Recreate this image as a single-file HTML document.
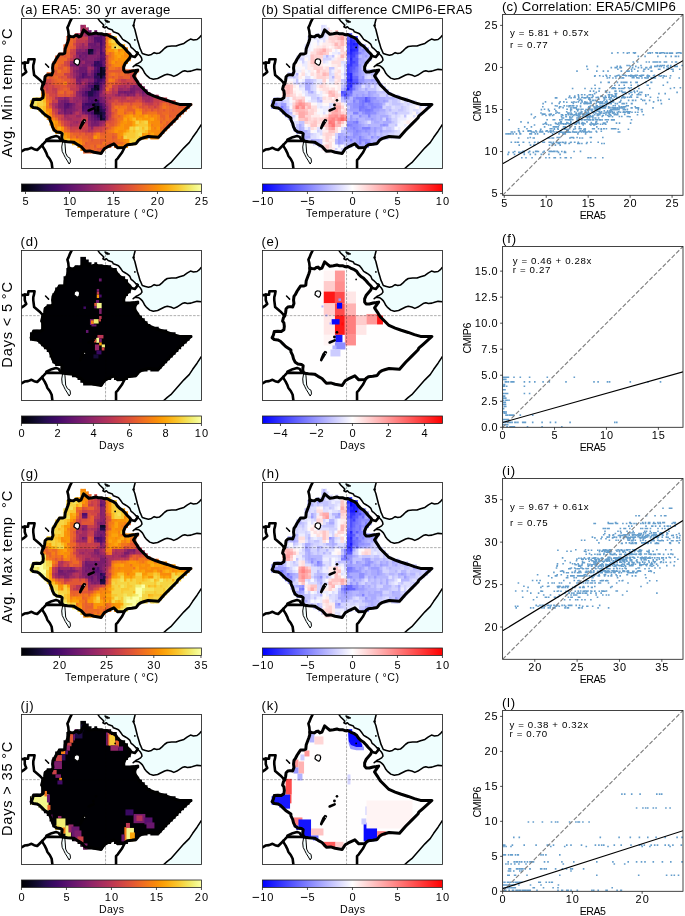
<!DOCTYPE html>
<html><head><meta charset="utf-8"><style>
html,body{margin:0;padding:0;background:#fff;}
svg{display:block;}
text{font-family:"Liberation Sans",sans-serif;}
svg{will-change:transform;}
</style></head><body>
<svg width="685" height="916" viewBox="0 0 685 916">
<defs><clipPath id="fc"><rect x="0" y="0" width="180.0" height="150.0"/></clipPath><clipPath id="ec"><path d="M28.10,53.90 L25.30,53.90 L25.30,56.70 L22.50,56.70 L22.50,59.50 L22.50,62.30 L22.50,65.10 L19.70,65.10 L19.70,67.90 L19.70,70.70 L19.70,73.50 L19.70,76.30 L19.70,79.10 L16.90,79.10 L14.10,79.10 L11.30,79.10 L11.30,81.90 L8.50,81.90 L8.50,84.70 L8.50,87.50 L8.50,90.30 L11.30,90.30 L14.10,90.30 L16.90,90.30 L16.90,93.10 L19.70,93.10 L19.70,95.90 L22.50,95.90 L22.50,98.70 L25.30,98.70 L25.30,101.50 L28.10,101.50 L28.10,104.30 L28.10,107.10 L30.90,107.10 L30.90,109.90 L30.90,112.70 L33.70,112.70 L33.70,115.50 L36.50,115.50 L39.30,115.50 L39.30,118.30 L39.30,121.10 L39.30,123.90 L42.10,123.90 L44.90,123.90 L47.70,123.90 L50.50,123.90 L50.50,126.70 L53.30,126.70 L56.10,126.70 L56.10,129.50 L58.90,129.50 L58.90,132.30 L61.70,132.30 L61.70,135.10 L64.50,135.10 L67.30,135.10 L70.10,135.10 L72.90,135.10 L75.70,135.10 L78.50,135.10 L81.30,135.10 L81.30,132.30 L84.10,132.30 L84.10,129.50 L86.90,129.50 L89.70,129.50 L89.70,126.70 L92.50,126.70 L92.50,129.50 L95.30,129.50 L98.10,129.50 L100.90,129.50 L103.70,129.50 L106.50,129.50 L106.50,126.70 L109.30,126.70 L112.10,126.70 L114.90,126.70 L114.90,123.90 L117.70,123.90 L117.70,121.10 L120.50,121.10 L123.30,121.10 L126.10,121.10 L126.10,118.30 L128.90,118.30 L128.90,121.10 L131.70,121.10 L134.50,121.10 L137.30,121.10 L137.30,118.30 L140.10,118.30 L140.10,115.50 L142.90,115.50 L142.90,112.70 L145.70,112.70 L145.70,109.90 L148.50,109.90 L148.50,107.10 L151.30,107.10 L151.30,104.30 L154.10,104.30 L154.10,101.50 L156.90,101.50 L156.90,98.70 L159.70,98.70 L159.70,95.90 L162.50,95.90 L162.50,93.10 L165.30,93.10 L165.30,90.30 L168.10,90.30 L168.10,87.50 L170.90,87.50 L170.90,84.70 L168.10,84.70 L165.30,84.70 L162.50,84.70 L159.70,84.70 L156.90,84.70 L154.10,84.70 L154.10,81.90 L151.30,81.90 L148.50,81.90 L145.70,81.90 L145.70,79.10 L142.90,79.10 L140.10,79.10 L137.30,79.10 L137.30,76.30 L134.50,76.30 L131.70,76.30 L128.90,76.30 L128.90,73.50 L126.10,73.50 L126.10,70.70 L123.30,70.70 L123.30,67.90 L120.50,67.90 L120.50,65.10 L117.70,65.10 L117.70,62.30 L114.90,62.30 L114.90,59.50 L114.90,56.70 L114.90,53.90 L117.70,53.90 L117.70,51.10 L114.90,51.10 L112.10,51.10 L109.30,51.10 L106.50,51.10 L103.70,51.10 L103.70,48.30 L103.70,45.50 L106.50,45.50 L106.50,42.70 L109.30,42.70 L109.30,39.90 L109.30,37.10 L109.30,34.30 L106.50,34.30 L106.50,31.50 L106.50,28.70 L103.70,28.70 L103.70,25.90 L100.90,25.90 L98.10,25.90 L98.10,23.10 L95.30,23.10 L95.30,20.30 L95.30,17.50 L92.50,17.50 L89.70,17.50 L89.70,14.70 L86.90,14.70 L84.10,14.70 L81.30,14.70 L78.50,14.70 L75.70,14.70 L75.70,11.90 L72.90,11.90 L72.90,14.70 L70.10,14.70 L70.10,11.90 L67.30,11.90 L67.30,9.10 L64.50,9.10 L64.50,6.30 L61.70,6.30 L58.90,6.30 L58.90,9.10 L58.90,11.90 L58.90,14.70 L56.10,14.70 L53.30,14.70 L53.30,17.50 L50.50,17.50 L47.70,17.50 L44.90,17.50 L44.90,20.30 L44.90,23.10 L44.90,25.90 L42.10,25.90 L42.10,28.70 L42.10,31.50 L42.10,34.30 L39.30,34.30 L36.50,34.30 L36.50,37.10 L33.70,37.10 L33.70,39.90 L33.70,42.70 L30.90,42.70 L30.90,45.50 L30.90,48.30 L30.90,51.10 L30.90,53.90Z"/></clipPath><g id="sea"><path d="M76.02,-5.00 L76.02,-0.84 L76.19,-0.40 L77.94,2.23 L80.57,4.86 L82.32,6.61 L81.45,8.36 L83.20,9.24 L84.95,8.36 L86.70,10.11 L90.95,11.55 L91.90,13.40 L94.70,14.35 L97.05,15.30 L98.90,17.60 L101.25,20.90 L103.60,22.30 L105.90,23.70 L108.25,25.60 L109.65,28.85 L111.50,30.25 L113.40,32.10 L114.55,33.50 L114.81,33.36 L116.13,33.80 L117.00,35.55 L118.75,37.30 L120.07,39.49 L120.51,41.68 L119.19,43.43 L117.00,44.75 L114.37,46.06 L111.75,48.25 L113.06,47.15 L115.25,46.94 L117.44,47.37 L119.19,48.69 L120.94,50.44 L122.26,52.63 L123.13,54.60 L124.81,56.61 L128.31,59.67 L131.81,60.81 L136.19,60.11 L139.70,58.36 L143.20,56.61 L145.83,55.73 L149.33,56.61 L152.40,57.92 L155.46,56.61 L158.09,54.86 L160.72,53.10 L163.35,52.23 L165.97,53.10 L169.48,52.67 L172.10,51.79 L175.61,50.91 L179.99,51.35 L190.00,51.35 L190.00,16.68 L179.99,16.68 L178.24,18.87 L175.61,21.06 L172.10,21.50 L169.04,20.62 L165.97,22.37 L162.47,25.00 L158.09,26.32 L154.59,27.63 L150.21,27.63 L145.83,28.07 L143.20,29.82 L140.57,32.45 L137.94,34.64 L135.32,35.07 L132.69,34.20 L130.06,35.95 L127.00,36.83 L123.93,35.95 L120.86,35.07 L119.55,32.01 L118.67,30.26 L117.36,25.88 L116.05,21.50 L114.73,16.24 L113.42,10.99 L112.10,7.48 L112.54,4.86 L113.86,-0.40 L114.03,-0.84 L114.03,-5.00Z" fill="#effefe"/><path d="M179.99,105.91 L179.55,106.61 L175.61,112.74 L171.23,118.87 L167.73,124.13 L162.47,129.38 L156.34,136.39 L149.33,144.27 L145.83,146.90 L141.01,151.28 L190.00,160.00 L190.00,105.91Z" fill="#effefe"/></g><g id="lines"><path d="M50.53,-0.84 L50.35,-0.40 L48.60,3.10 L46.85,7.48 L45.97,9.24 L46.85,12.74 L47.29,17.56" fill="none" stroke="#000" stroke-width="2.6" stroke-linejoin="round" stroke-linecap="round"/><path d="M-1.33,44.27 L-0.45,44.27 L1.30,44.71 L3.32,44.18 L6.56,44.27 L7.00,40.77 L13.13,40.77 L12.69,43.40 L11.81,46.90 L11.81,49.61 L12.25,53.10 L12.69,56.61 L15.32,58.80 L17.94,60.99 L20.57,63.61 L21.89,65.80" fill="none" stroke="#000" stroke-width="2.6" stroke-linejoin="round" stroke-linecap="round"/><path d="M3.32,44.18 L3.32,49.61 L3.93,51.35 L4.81,53.54 L2.18,55.73 L-0.45,57.48 L-1.33,57.92" fill="none" stroke="#000" stroke-width="2.6" stroke-linejoin="round" stroke-linecap="round"/><path d="M-1.33,133.76 L-0.45,133.32 L3.05,131.13 L6.56,130.69 L10.06,129.38 L12.69,130.69 L15.75,131.57 L18.82,128.51 L22.32,125.00 L24.95,122.20 L40.72,122.55" fill="none" stroke="#000" stroke-width="2.6" stroke-linejoin="round" stroke-linecap="round"/><path d="M24.95,121.32 L30.21,118.69 L34.59,117.56 L37.21,118.43 L38.53,120.62" fill="none" stroke="#000" stroke-width="2.6" stroke-linejoin="round" stroke-linecap="round"/><path d="M21.01,126.32 L21.01,127.63 L23.20,131.13 L24.95,134.64 L25.83,137.26 L28.46,140.77 L30.21,144.27 L31.08,151.28" fill="none" stroke="#000" stroke-width="2.6" stroke-linejoin="round" stroke-linecap="round"/><path d="M103.78,127.63 L100.72,133.76 L96.34,139.89 L94.59,141.64 L94.59,151.28" fill="none" stroke="#000" stroke-width="2.6" stroke-linejoin="round" stroke-linecap="round"/><path d="M108.80,36.70 L111.60,38.10 L113.45,38.55 L115.30,36.20 L116.25,34.35" fill="none" stroke="#000" stroke-width="2.6" stroke-linejoin="round" stroke-linecap="round"/><path d="M76.02,-0.84 L76.19,-0.40 L77.94,2.23 L80.57,4.86 L82.32,6.61 L81.45,8.36 L83.20,9.24 L84.95,8.36 L86.70,10.11 L90.95,11.55 L91.90,13.40 L94.70,14.35 L97.05,15.30 L98.90,17.60 L101.25,20.90 L103.60,22.30 L105.90,23.70 L108.25,25.60 L109.65,28.85 L111.50,30.25 L113.40,32.10 L114.55,33.50 L114.81,33.36 L116.13,33.80 L117.00,35.55 L118.75,37.30 L120.07,39.49 L120.51,41.68 L119.19,43.43 L117.00,44.75 L114.37,46.06 L111.75,48.25 L113.06,47.15 L115.25,46.94 L117.44,47.37 L119.19,48.69 L120.94,50.44 L122.26,52.63 L123.13,54.60 L124.81,56.61 L128.31,59.67 L131.81,60.81 L136.19,60.11 L139.70,58.36 L143.20,56.61 L145.83,55.73 L149.33,56.61 L152.40,57.92 L155.46,56.61 L158.09,54.86 L160.72,53.10 L163.35,52.23 L165.97,53.10 L169.48,52.67 L172.10,51.79 L175.61,50.91 L179.99,51.35" fill="none" stroke="#000" stroke-width="1.55" stroke-linejoin="round"/><path d="M114.03,-0.84 L113.86,-0.40 L112.54,4.86 L112.10,7.48 L113.42,10.99 L114.73,16.24 L116.05,21.50 L117.36,25.88 L118.67,30.26 L119.55,32.01 L120.86,35.07 L123.93,35.95 L127.00,36.83 L130.06,35.95 L132.69,34.20 L135.32,35.07 L137.94,34.64 L140.57,32.45 L143.20,29.82 L145.83,28.07 L150.21,27.63 L154.59,27.63 L158.09,26.32 L162.47,25.00 L165.97,22.37 L169.04,20.62 L172.10,21.50 L175.61,21.06 L178.24,18.87 L179.99,16.68" fill="none" stroke="#000" stroke-width="1.55" stroke-linejoin="round"/><path d="M179.99,105.91 L179.55,106.61 L175.61,112.74 L171.23,118.87 L167.73,124.13 L162.47,129.38 L156.34,136.39 L149.33,144.27 L145.83,146.90 L141.01,151.28" fill="none" stroke="#000" stroke-width="1.55" stroke-linejoin="round"/><path d="M52.98,41.64 L54.73,40.33 L57.36,40.77 L58.24,42.52 L57.80,45.15 L56.48,46.90 L54.73,46.02 L52.54,44.27Z" fill="#fff" stroke="#000" stroke-width="1.2"/><path d="M41.16,123.25 L43.35,123.25 L43.78,128.51 L44.22,134.64 L45.97,138.14 L48.60,139.89 L49.04,143.40 L47.73,145.59 L45.97,142.52 L43.78,139.02 L42.47,136.39 L40.72,132.88 L40.28,128.51Z" fill="#f3fefe" stroke="#000" stroke-width="1.0"/><path d="M58.85,110.29 L59.55,109.24 L62.18,104.86 L63.93,101.79 L62.62,101.18 L60.60,103.54 L59.11,107.05 L58.24,109.67Z" fill="#000" stroke="#000" stroke-width="1.6" stroke-linejoin="round"/><circle cx="63.2" cy="102.8" r="0.55" fill="#fff"/><path d="M24.08,45.59 L25.83,47.34 L27.14,48.65" fill="none" stroke="#000" stroke-width="1.5" stroke-linecap="round"/><path d="M67.20,92.00 L72.20,89.90" fill="none" stroke="#000" stroke-width="2.6" stroke-linecap="round"/><path d="M83.20,1.35 L85.83,2.05 L88.46,3.54 L85.83,4.15 L84.08,3.10Z" fill="#000" stroke="#000" stroke-width="0.8"/><circle cx="74.50" cy="81.90" r="1.3" fill="#000"/><circle cx="72.00" cy="86.50" r="1.45" fill="#000"/><circle cx="93.71" cy="28.94" r="0.9" fill="#000"/><circle cx="113.42" cy="21.50" r="0.9" fill="#000"/><circle cx="112.10" cy="7.05" r="1.2" fill="#000"/><path d="M47.29,17.56 L49.48,17.99 L52.10,18.43 L53.86,17.12 L55.61,16.68 L57.36,18.43 L59.55,17.56 L62.18,11.42 L64.81,13.61 L67.43,15.80 L70.94,15.37 L74.44,14.49 L77.07,15.37 L80.57,15.37 L82.55,16.20 L85.35,16.00 L88.15,17.60 L91.90,19.25 L94.25,20.90 L96.10,23.70 L98.45,26.05 L101.25,27.90 L103.60,30.25 L105.90,33.05 L108.70,35.85 L109.25,37.15 L108.30,39.50 L105.95,42.30 L103.60,45.10 L102.20,48.40 L102.20,51.65 L103.60,53.50 L106.90,53.50 L110.65,52.60 L113.90,52.10 L116.25,51.65 L113.86,54.86 L112.10,57.48 L113.86,60.11 L115.61,62.74 L117.80,66.24 L119.55,67.99 L123.05,71.50 L126.56,75.00 L132.69,77.63 L138.82,79.82 L145.83,82.01 L151.96,84.20 L158.09,85.95 L169.48,85.95 L165.10,89.89 L160.72,93.83 L156.34,97.78 L155.46,99.60 L149.33,105.73 L143.20,111.86 L137.07,118.87 L126.56,117.99 L122.18,119.31 L119.55,120.18 L117.36,121.50 L114.73,125.00 L110.35,125.88 L105.97,126.32 L102.47,128.94 L96.34,129.38 L92.40,125.44 L85.83,128.51 L82.76,130.26 L79.70,135.07 L72.69,133.76 L68.31,132.45 L63.93,132.88 L59.55,128.07 L55.61,125.88 L52.10,123.69 L45.97,123.25 L42.47,122.81 L40.72,121.50 L40.28,118.87 L40.72,115.37 L38.97,114.05 L35.46,113.61 L32.83,111.86 L31.08,108.36 L30.21,104.86 L28.46,101.35 L28.46,99.61 L25.83,97.78 L23.20,96.02 L20.57,93.40 L17.94,90.77 L15.32,89.45 L11.81,89.02 L9.62,87.26 L10.94,84.64 L11.81,81.13 L15.32,80.69 L18.82,81.13 L21.45,79.38 L21.89,75.88 L21.45,72.37 L20.13,70.62 L21.01,67.12 L22.32,65.37 L23.20,61.86 L23.64,58.36 L25.39,56.61 L27.58,56.17 L30.21,56.61 L31.52,53.10 L31.08,49.61 L31.52,46.02 L32.83,44.27 L34.59,40.77 L36.34,38.14 L38.09,35.51 L41.59,35.51 L43.35,34.64 L43.78,30.26 L45.10,26.75 L46.41,23.25 L47.29,20.62Z" fill="none" stroke="#000" stroke-width="3.0" stroke-linejoin="round"/></g><g id="grid" stroke="#000" stroke-width="0.8" stroke-dasharray="2.6,1.3" opacity="0.4"><line x1="0" x2="180.0" y1="65.2" y2="65.2"/><line x1="84.1" x2="84.1" y1="0" y2="150.0"/></g><linearGradient id="ginf" x1="0" x2="1" y1="0" y2="0"><stop offset="0.0000" stop-color="#000004"/><stop offset="0.0323" stop-color="#040312"/><stop offset="0.0645" stop-color="#0b0724"/><stop offset="0.0968" stop-color="#150b37"/><stop offset="0.1290" stop-color="#230c4c"/><stop offset="0.1613" stop-color="#310a5c"/><stop offset="0.1935" stop-color="#3e0966"/><stop offset="0.2258" stop-color="#4c0c6b"/><stop offset="0.2581" stop-color="#5a116e"/><stop offset="0.2903" stop-color="#67166e"/><stop offset="0.3226" stop-color="#741a6e"/><stop offset="0.3548" stop-color="#801f6c"/><stop offset="0.3871" stop-color="#8f2469"/><stop offset="0.4194" stop-color="#9b2964"/><stop offset="0.4516" stop-color="#a82e5f"/><stop offset="0.4839" stop-color="#b43359"/><stop offset="0.5161" stop-color="#c13a50"/><stop offset="0.5484" stop-color="#cc4248"/><stop offset="0.5806" stop-color="#d74b3f"/><stop offset="0.6129" stop-color="#e05536"/><stop offset="0.6452" stop-color="#e9612b"/><stop offset="0.6774" stop-color="#ef6e21"/><stop offset="0.7097" stop-color="#f57b17"/><stop offset="0.7419" stop-color="#f8890c"/><stop offset="0.7742" stop-color="#fb9906"/><stop offset="0.8065" stop-color="#fca80d"/><stop offset="0.8387" stop-color="#fbb81d"/><stop offset="0.8710" stop-color="#f9c72f"/><stop offset="0.9032" stop-color="#f5d949"/><stop offset="0.9355" stop-color="#f2e865"/><stop offset="0.9677" stop-color="#f3f586"/><stop offset="1.0000" stop-color="#fcffa4"/></linearGradient><linearGradient id="gbwr" x1="0" x2="1" y1="0" y2="0"><stop offset="0.0000" stop-color="#0000ff"/><stop offset="0.5000" stop-color="#fffefe"/><stop offset="1.0000" stop-color="#ff0000"/></linearGradient><clipPath id="sc0"><rect x="502.6" y="14.45" width="180.39999999999998" height="180.85"/></clipPath><clipPath id="sc1"><rect x="502.6" y="246.45" width="180.39999999999998" height="180.85"/></clipPath><clipPath id="sc2"><rect x="502.6" y="478.45" width="180.39999999999998" height="180.85"/></clipPath><clipPath id="sc3"><rect x="502.6" y="710.45" width="180.39999999999998" height="180.85"/></clipPath></defs>
<rect width="685" height="916" fill="#fff"/>
<g transform="translate(21.45,18.45)"><g clip-path="url(#fc)"><rect width="180.0" height="150.0" fill="#fff"/><use href="#sea"/><g clip-path="url(#ec)"><path fill="#000004" d="M75,87h3.5v3.5h-3.5zM75,90h3.5v3.5h-3.5z"/><path fill="#02020e" d="M72,90h3.5v3.5h-3.5z"/><path fill="#08051d" d="M78,48h3.5v3.5h-3.5zM78,51h3.5v3.5h-3.5zM78,54h3.5v3.5h-3.5zM78,57h3.5v3.5h-3.5zM72,66h3.5v3.5h-3.5zM75,69h3.5v3.5h-3.5zM72,87h3.5v3.5h-3.5zM72,93h6.5v3.5h-6.5zM78,96h3.5v3.5h-3.5zM78,99h3.5v3.5h-3.5z"/><path fill="#0e092b" d="M66,30h6.5v3.5h-6.5zM66,33h3.5v3.5h-3.5zM81,51h3.5v3.5h-3.5zM75,54h3.5v3.5h-3.5zM81,54h3.5v3.5h-3.5zM75,66h3.5v3.5h-3.5zM72,69h3.5v3.5h-3.5zM78,93h3.5v3.5h-3.5z"/><path fill="#180c3c" d="M81,48h3.5v3.5h-3.5zM72,84h3.5v3.5h-3.5zM81,99h3.5v3.5h-3.5z"/><path fill="#210c4a" d="M69,33h3.5v3.5h-3.5zM69,69h3.5v3.5h-3.5zM66,72h6.5v3.5h-6.5zM66,75h6.5v3.5h-6.5zM75,84h3.5v3.5h-3.5zM78,90h3.5v3.5h-3.5zM81,93h3.5v3.5h-3.5z"/><path fill="#2d0b59" d="M75,42h3.5v3.5h-3.5zM72,45h3.5v3.5h-3.5zM72,57h6.5v3.5h-6.5zM81,57h3.5v3.5h-3.5zM75,63h3.5v3.5h-3.5zM78,87h3.5v3.5h-3.5zM75,96h3.5v3.5h-3.5zM81,96h3.5v3.5h-3.5z"/><path fill="#380962" d="M72,42h3.5v3.5h-3.5zM75,45h6.5v3.5h-6.5zM75,51h3.5v3.5h-3.5zM72,54h3.5v3.5h-3.5zM75,60h6.5v3.5h-6.5zM72,63h3.5v3.5h-3.5zM72,72h3.5v3.5h-3.5zM75,81h3.5v3.5h-3.5zM63,84h9.5v3.5h-9.5zM81,90h3.5v3.5h-3.5z"/><path fill="#440a68" d="M78,9h3.5v3.5h-3.5zM78,15h3.5v3.5h-3.5zM78,21h3.5v3.5h-3.5zM78,24h3.5v3.5h-3.5zM78,33h3.5v3.5h-3.5zM78,42h3.5v3.5h-3.5zM75,48h3.5v3.5h-3.5zM69,66h3.5v3.5h-3.5zM63,72h3.5v3.5h-3.5zM72,75h3.5v3.5h-3.5zM66,78h3.5v3.5h-3.5zM69,81h3.5v3.5h-3.5zM78,84h3.5v3.5h-3.5zM60,87h3.5v3.5h-3.5zM66,87h3.5v3.5h-3.5zM69,93h3.5v3.5h-3.5z"/><path fill="#4f0d6c" d="M78,0h3.5v3.5h-3.5zM78,3h3.5v3.5h-3.5zM78,6h3.5v3.5h-3.5zM78,12h3.5v3.5h-3.5zM72,18h9.5v3.5h-9.5zM75,21h3.5v3.5h-3.5zM78,27h3.5v3.5h-3.5zM78,30h3.5v3.5h-3.5zM78,39h3.5v3.5h-3.5zM72,51h3.5v3.5h-3.5zM60,54h3.5v3.5h-3.5zM60,57h3.5v3.5h-3.5zM72,60h3.5v3.5h-3.5zM66,66h3.5v3.5h-3.5zM75,72h3.5v3.5h-3.5zM63,75h3.5v3.5h-3.5zM75,75h3.5v3.5h-3.5zM69,78h6.5v3.5h-6.5zM66,81h3.5v3.5h-3.5zM72,81h3.5v3.5h-3.5zM45,84h3.5v3.5h-3.5zM60,84h3.5v3.5h-3.5zM63,87h3.5v3.5h-3.5zM69,87h3.5v3.5h-3.5zM60,90h3.5v3.5h-3.5zM72,96h3.5v3.5h-3.5zM75,99h3.5v3.5h-3.5z"/><path fill="#59106e" d="M72,0h6.5v3.5h-6.5zM81,0h3.5v3.5h-3.5zM81,3h3.5v3.5h-3.5zM81,12h3.5v3.5h-3.5zM81,15h3.5v3.5h-3.5zM72,21h3.5v3.5h-3.5zM78,36h3.5v3.5h-3.5zM81,39h3.5v3.5h-3.5zM72,48h3.5v3.5h-3.5zM63,54h3.5v3.5h-3.5zM81,60h3.5v3.5h-3.5zM78,63h3.5v3.5h-3.5zM78,66h3.5v3.5h-3.5zM60,75h3.5v3.5h-3.5zM75,78h3.5v3.5h-3.5zM42,84h3.5v3.5h-3.5zM42,87h6.5v3.5h-6.5zM81,87h3.5v3.5h-3.5zM63,90h9.5v3.5h-9.5zM66,93h3.5v3.5h-3.5zM72,99h3.5v3.5h-3.5z"/><path fill="#64156e" d="M81,6h3.5v3.5h-3.5zM75,12h3.5v3.5h-3.5zM75,15h3.5v3.5h-3.5zM72,24h3.5v3.5h-3.5zM72,30h3.5v3.5h-3.5zM81,33h3.5v3.5h-3.5zM57,36h3.5v3.5h-3.5zM81,36h3.5v3.5h-3.5zM69,45h3.5v3.5h-3.5zM81,45h3.5v3.5h-3.5zM63,51h3.5v3.5h-3.5zM57,57h3.5v3.5h-3.5zM63,57h6.5v3.5h-6.5zM66,69h3.5v3.5h-3.5zM78,69h3.5v3.5h-3.5zM60,72h3.5v3.5h-3.5zM63,81h3.5v3.5h-3.5zM48,84h3.5v3.5h-3.5zM81,84h3.5v3.5h-3.5zM42,90h3.5v3.5h-3.5zM63,93h3.5v3.5h-3.5zM69,96h3.5v3.5h-3.5z"/><path fill="#6d186e" d="M66,3h6.5v3.5h-6.5zM75,6h3.5v3.5h-3.5zM66,9h3.5v3.5h-3.5zM72,9h6.5v3.5h-6.5zM81,9h3.5v3.5h-3.5zM66,12h6.5v3.5h-6.5zM69,15h6.5v3.5h-6.5zM81,18h3.5v3.5h-3.5zM81,21h3.5v3.5h-3.5zM66,24h6.5v3.5h-6.5zM81,24h3.5v3.5h-3.5zM69,27h9.5v3.5h-9.5zM60,33h6.5v3.5h-6.5zM72,33h3.5v3.5h-3.5zM63,36h3.5v3.5h-3.5zM60,39h3.5v3.5h-3.5zM75,39h3.5v3.5h-3.5zM81,42h3.5v3.5h-3.5zM54,45h3.5v3.5h-3.5zM57,48h9.5v3.5h-9.5zM57,51h6.5v3.5h-6.5zM57,54h3.5v3.5h-3.5zM69,54h3.5v3.5h-3.5zM69,57h3.5v3.5h-3.5zM135,57h3.5v3.5h-3.5zM66,63h6.5v3.5h-6.5zM81,63h3.5v3.5h-3.5zM63,69h3.5v3.5h-3.5zM123,69h6.5v3.5h-6.5zM102,72h3.5v3.5h-3.5zM108,72h3.5v3.5h-3.5zM120,72h3.5v3.5h-3.5zM63,78h3.5v3.5h-3.5zM78,78h3.5v3.5h-3.5zM42,81h3.5v3.5h-3.5zM60,81h3.5v3.5h-3.5zM78,81h3.5v3.5h-3.5zM48,87h3.5v3.5h-3.5zM42,93h3.5v3.5h-3.5zM48,93h3.5v3.5h-3.5zM69,99h3.5v3.5h-3.5zM72,102h3.5v3.5h-3.5z"/><path fill="#781c6d" d="M75,3h3.5v3.5h-3.5zM66,6h9.5v3.5h-9.5zM69,9h3.5v3.5h-3.5zM72,12h3.5v3.5h-3.5zM66,15h3.5v3.5h-3.5zM69,18h3.5v3.5h-3.5zM75,24h3.5v3.5h-3.5zM66,27h3.5v3.5h-3.5zM81,27h3.5v3.5h-3.5zM63,30h3.5v3.5h-3.5zM75,30h3.5v3.5h-3.5zM54,33h6.5v3.5h-6.5zM60,36h3.5v3.5h-3.5zM75,36h3.5v3.5h-3.5zM57,39h3.5v3.5h-3.5zM63,39h3.5v3.5h-3.5zM72,39h3.5v3.5h-3.5zM57,42h3.5v3.5h-3.5zM63,42h9.5v3.5h-9.5zM48,45h6.5v3.5h-6.5zM60,45h6.5v3.5h-6.5zM54,51h3.5v3.5h-3.5zM69,51h3.5v3.5h-3.5zM54,57h3.5v3.5h-3.5zM54,60h6.5v3.5h-6.5zM132,60h3.5v3.5h-3.5zM57,63h3.5v3.5h-3.5zM129,63h3.5v3.5h-3.5zM63,66h3.5v3.5h-3.5zM111,66h3.5v3.5h-3.5zM129,66h3.5v3.5h-3.5zM60,69h3.5v3.5h-3.5zM108,69h6.5v3.5h-6.5zM120,69h3.5v3.5h-3.5zM57,72h3.5v3.5h-3.5zM78,72h3.5v3.5h-3.5zM96,72h6.5v3.5h-6.5zM105,72h3.5v3.5h-3.5zM111,72h3.5v3.5h-3.5zM105,75h3.5v3.5h-3.5zM60,78h3.5v3.5h-3.5zM39,81h3.5v3.5h-3.5zM45,81h3.5v3.5h-3.5zM81,81h3.5v3.5h-3.5zM36,84h6.5v3.5h-6.5zM51,84h3.5v3.5h-3.5zM36,87h6.5v3.5h-6.5zM45,90h6.5v3.5h-6.5zM45,93h3.5v3.5h-3.5zM60,93h3.5v3.5h-3.5zM66,96h3.5v3.5h-3.5zM66,99h3.5v3.5h-3.5zM69,102h3.5v3.5h-3.5zM75,102h3.5v3.5h-3.5zM69,105h9.5v3.5h-9.5z"/><path fill="#82206c" d="M69,0h3.5v3.5h-3.5zM72,3h3.5v3.5h-3.5zM66,18h3.5v3.5h-3.5zM69,21h3.5v3.5h-3.5zM57,30h3.5v3.5h-3.5zM81,30h3.5v3.5h-3.5zM75,33h3.5v3.5h-3.5zM66,36h9.5v3.5h-9.5zM66,39h6.5v3.5h-6.5zM57,45h3.5v3.5h-3.5zM66,45h3.5v3.5h-3.5zM54,54h3.5v3.5h-3.5zM66,54h3.5v3.5h-3.5zM132,57h3.5v3.5h-3.5zM66,60h6.5v3.5h-6.5zM129,60h3.5v3.5h-3.5zM135,60h3.5v3.5h-3.5zM126,63h3.5v3.5h-3.5zM132,63h6.5v3.5h-6.5zM117,66h3.5v3.5h-3.5zM126,66h3.5v3.5h-3.5zM114,69h6.5v3.5h-6.5zM129,69h3.5v3.5h-3.5zM123,72h3.5v3.5h-3.5zM57,75h3.5v3.5h-3.5zM96,75h3.5v3.5h-3.5zM111,75h3.5v3.5h-3.5zM120,75h3.5v3.5h-3.5zM42,78h3.5v3.5h-3.5zM81,78h3.5v3.5h-3.5zM36,81h3.5v3.5h-3.5zM51,87h3.5v3.5h-3.5zM39,90h3.5v3.5h-3.5zM51,90h3.5v3.5h-3.5zM36,93h3.5v3.5h-3.5z"/><path fill="#8d2369" d="M66,0h3.5v3.5h-3.5zM66,21h3.5v3.5h-3.5zM54,30h3.5v3.5h-3.5zM60,30h3.5v3.5h-3.5zM54,36h3.5v3.5h-3.5zM54,39h3.5v3.5h-3.5zM48,42h9.5v3.5h-9.5zM54,48h3.5v3.5h-3.5zM51,51h3.5v3.5h-3.5zM132,54h9.5v3.5h-9.5zM138,57h6.5v3.5h-6.5zM60,60h3.5v3.5h-3.5zM126,60h3.5v3.5h-3.5zM54,63h3.5v3.5h-3.5zM63,63h3.5v3.5h-3.5zM60,66h3.5v3.5h-3.5zM81,66h3.5v3.5h-3.5zM108,66h3.5v3.5h-3.5zM114,66h3.5v3.5h-3.5zM120,66h3.5v3.5h-3.5zM57,69h3.5v3.5h-3.5zM81,69h3.5v3.5h-3.5zM54,72h3.5v3.5h-3.5zM117,72h3.5v3.5h-3.5zM54,75h3.5v3.5h-3.5zM78,75h3.5v3.5h-3.5zM102,75h3.5v3.5h-3.5zM108,75h3.5v3.5h-3.5zM123,75h3.5v3.5h-3.5zM45,78h3.5v3.5h-3.5zM57,78h3.5v3.5h-3.5zM54,81h3.5v3.5h-3.5zM84,87h3.5v3.5h-3.5zM54,90h3.5v3.5h-3.5zM84,90h3.5v3.5h-3.5zM39,93h3.5v3.5h-3.5zM84,96h3.5v3.5h-3.5zM84,99h3.5v3.5h-3.5zM66,102h3.5v3.5h-3.5zM78,102h3.5v3.5h-3.5zM66,105h3.5v3.5h-3.5zM69,108h3.5v3.5h-3.5z"/><path fill="#982766" d="M54,0h3.5v3.5h-3.5zM63,0h3.5v3.5h-3.5zM57,6h6.5v3.5h-6.5zM57,9h3.5v3.5h-3.5zM60,12h3.5v3.5h-3.5zM63,15h3.5v3.5h-3.5zM60,24h3.5v3.5h-3.5zM60,27h3.5v3.5h-3.5zM60,42h3.5v3.5h-3.5zM51,48h3.5v3.5h-3.5zM69,48h3.5v3.5h-3.5zM66,51h3.5v3.5h-3.5zM51,54h3.5v3.5h-3.5zM141,54h3.5v3.5h-3.5zM51,57h3.5v3.5h-3.5zM63,60h3.5v3.5h-3.5zM138,60h3.5v3.5h-3.5zM123,63h3.5v3.5h-3.5zM57,66h3.5v3.5h-3.5zM123,66h3.5v3.5h-3.5zM132,66h3.5v3.5h-3.5zM96,69h6.5v3.5h-6.5zM105,69h3.5v3.5h-3.5zM114,72h3.5v3.5h-3.5zM126,72h3.5v3.5h-3.5zM81,75h3.5v3.5h-3.5zM93,75h3.5v3.5h-3.5zM99,75h3.5v3.5h-3.5zM126,75h3.5v3.5h-3.5zM36,78h6.5v3.5h-6.5zM51,78h6.5v3.5h-6.5zM126,78h3.5v3.5h-3.5zM51,81h3.5v3.5h-3.5zM57,81h3.5v3.5h-3.5zM54,84h3.5v3.5h-3.5zM33,87h3.5v3.5h-3.5zM54,87h6.5v3.5h-6.5zM36,90h3.5v3.5h-3.5zM51,93h3.5v3.5h-3.5zM84,93h3.5v3.5h-3.5zM42,96h3.5v3.5h-3.5zM54,96h6.5v3.5h-6.5zM54,102h3.5v3.5h-3.5zM81,102h3.5v3.5h-3.5zM78,105h3.5v3.5h-3.5z"/><path fill="#a22b62" d="M51,0h3.5v3.5h-3.5zM57,0h6.5v3.5h-6.5zM51,3h9.5v3.5h-9.5zM63,3h3.5v3.5h-3.5zM57,12h3.5v3.5h-3.5zM63,12h3.5v3.5h-3.5zM54,15h3.5v3.5h-3.5zM57,27h3.5v3.5h-3.5zM63,27h3.5v3.5h-3.5zM66,48h3.5v3.5h-3.5zM117,60h6.5v3.5h-6.5zM141,60h3.5v3.5h-3.5zM117,63h6.5v3.5h-6.5zM141,63h3.5v3.5h-3.5zM102,66h3.5v3.5h-3.5zM102,69h3.5v3.5h-3.5zM132,69h3.5v3.5h-3.5zM129,72h6.5v3.5h-6.5zM117,75h3.5v3.5h-3.5zM132,75h3.5v3.5h-3.5zM87,78h3.5v3.5h-3.5zM120,78h6.5v3.5h-6.5zM129,78h3.5v3.5h-3.5zM48,81h3.5v3.5h-3.5zM123,81h6.5v3.5h-6.5zM33,84h3.5v3.5h-3.5zM57,84h3.5v3.5h-3.5zM84,84h3.5v3.5h-3.5zM57,90h3.5v3.5h-3.5zM57,93h3.5v3.5h-3.5zM45,96h3.5v3.5h-3.5zM45,99h6.5v3.5h-6.5zM51,102h3.5v3.5h-3.5zM48,105h3.5v3.5h-3.5z"/><path fill="#ad305d" d="M48,0h3.5v3.5h-3.5zM60,3h3.5v3.5h-3.5zM54,6h3.5v3.5h-3.5zM63,6h3.5v3.5h-3.5zM63,9h3.5v3.5h-3.5zM60,15h3.5v3.5h-3.5zM57,24h3.5v3.5h-3.5zM54,27h3.5v3.5h-3.5zM51,39h3.5v3.5h-3.5zM48,48h3.5v3.5h-3.5zM48,54h3.5v3.5h-3.5zM123,60h3.5v3.5h-3.5zM60,63h3.5v3.5h-3.5zM114,63h3.5v3.5h-3.5zM54,66h3.5v3.5h-3.5zM96,66h6.5v3.5h-6.5zM135,66h3.5v3.5h-3.5zM135,69h3.5v3.5h-3.5zM81,72h3.5v3.5h-3.5zM90,72h3.5v3.5h-3.5zM135,72h3.5v3.5h-3.5zM90,75h3.5v3.5h-3.5zM129,75h3.5v3.5h-3.5zM135,75h3.5v3.5h-3.5zM33,78h3.5v3.5h-3.5zM48,78h3.5v3.5h-3.5zM84,78h3.5v3.5h-3.5zM84,81h3.5v3.5h-3.5zM129,81h3.5v3.5h-3.5zM30,84h3.5v3.5h-3.5zM87,93h3.5v3.5h-3.5zM48,96h6.5v3.5h-6.5zM63,96h3.5v3.5h-3.5zM42,99h3.5v3.5h-3.5zM51,99h9.5v3.5h-9.5zM48,102h3.5v3.5h-3.5zM57,102h3.5v3.5h-3.5zM51,105h6.5v3.5h-6.5zM81,105h3.5v3.5h-3.5zM66,108h3.5v3.5h-3.5zM66,111h3.5v3.5h-3.5z"/><path fill="#b63458" d="M48,3h3.5v3.5h-3.5zM54,9h3.5v3.5h-3.5zM60,9h3.5v3.5h-3.5zM84,9h3.5v3.5h-3.5zM54,12h3.5v3.5h-3.5zM57,15h3.5v3.5h-3.5zM63,21h3.5v3.5h-3.5zM54,24h3.5v3.5h-3.5zM63,24h3.5v3.5h-3.5zM51,36h3.5v3.5h-3.5zM159,48h3.5v3.5h-3.5zM48,51h3.5v3.5h-3.5zM48,57h3.5v3.5h-3.5zM144,57h3.5v3.5h-3.5zM144,60h3.5v3.5h-3.5zM105,63h3.5v3.5h-3.5zM138,63h3.5v3.5h-3.5zM105,66h3.5v3.5h-3.5zM153,66h3.5v3.5h-3.5zM54,69h3.5v3.5h-3.5zM90,69h3.5v3.5h-3.5zM93,72h3.5v3.5h-3.5zM84,75h6.5v3.5h-6.5zM114,75h3.5v3.5h-3.5zM99,78h6.5v3.5h-6.5zM138,78h3.5v3.5h-3.5zM120,81h3.5v3.5h-3.5zM87,84h3.5v3.5h-3.5zM30,87h3.5v3.5h-3.5zM87,87h3.5v3.5h-3.5zM87,90h3.5v3.5h-3.5zM54,93h3.5v3.5h-3.5zM60,96h3.5v3.5h-3.5zM87,96h3.5v3.5h-3.5zM63,102h3.5v3.5h-3.5zM69,111h3.5v3.5h-3.5z"/><path fill="#c03a51" d="M84,0h3.5v3.5h-3.5zM84,3h3.5v3.5h-3.5zM84,6h3.5v3.5h-3.5zM84,12h3.5v3.5h-3.5zM84,15h3.5v3.5h-3.5zM54,21h9.5v3.5h-9.5zM48,39h3.5v3.5h-3.5zM165,39h3.5v3.5h-3.5zM156,48h3.5v3.5h-3.5zM162,48h6.5v3.5h-6.5zM159,51h3.5v3.5h-3.5zM144,54h3.5v3.5h-3.5zM150,54h3.5v3.5h-3.5zM45,57h3.5v3.5h-3.5zM129,57h3.5v3.5h-3.5zM99,60h6.5v3.5h-6.5zM111,60h6.5v3.5h-6.5zM147,60h3.5v3.5h-3.5zM153,60h3.5v3.5h-3.5zM138,66h9.5v3.5h-9.5zM24,69h3.5v3.5h-3.5zM30,69h6.5v3.5h-6.5zM48,69h6.5v3.5h-6.5zM150,69h6.5v3.5h-6.5zM33,72h3.5v3.5h-3.5zM147,72h9.5v3.5h-9.5zM51,75h3.5v3.5h-3.5zM138,75h3.5v3.5h-3.5zM150,75h3.5v3.5h-3.5zM90,78h9.5v3.5h-9.5zM111,78h6.5v3.5h-6.5zM132,78h6.5v3.5h-6.5zM150,78h3.5v3.5h-3.5zM30,81h3.5v3.5h-3.5zM87,81h3.5v3.5h-3.5zM99,81h3.5v3.5h-3.5zM105,81h3.5v3.5h-3.5zM144,81h3.5v3.5h-3.5zM126,84h6.5v3.5h-6.5zM33,90h3.5v3.5h-3.5zM33,93h3.5v3.5h-3.5zM39,99h3.5v3.5h-3.5zM60,99h3.5v3.5h-3.5zM45,102h3.5v3.5h-3.5zM45,105h3.5v3.5h-3.5zM57,105h3.5v3.5h-3.5zM48,108h3.5v3.5h-3.5zM57,108h3.5v3.5h-3.5zM72,108h6.5v3.5h-6.5zM63,111h3.5v3.5h-3.5z"/><path fill="#c83f4b" d="M54,18h12.5v3.5h-12.5zM51,30h3.5v3.5h-3.5zM48,33h6.5v3.5h-6.5zM168,33h3.5v3.5h-3.5zM165,36h3.5v3.5h-3.5zM45,42h3.5v3.5h-3.5zM159,42h3.5v3.5h-3.5zM45,45h3.5v3.5h-3.5zM159,45h3.5v3.5h-3.5zM84,48h3.5v3.5h-3.5zM150,48h3.5v3.5h-3.5zM153,51h6.5v3.5h-6.5zM162,51h3.5v3.5h-3.5zM42,54h6.5v3.5h-6.5zM147,54h3.5v3.5h-3.5zM153,54h3.5v3.5h-3.5zM159,54h3.5v3.5h-3.5zM108,57h6.5v3.5h-6.5zM147,57h12.5v3.5h-12.5zM12,60h3.5v3.5h-3.5zM18,60h6.5v3.5h-6.5zM51,60h3.5v3.5h-3.5zM18,63h3.5v3.5h-3.5zM24,63h3.5v3.5h-3.5zM51,63h3.5v3.5h-3.5zM99,63h6.5v3.5h-6.5zM108,63h6.5v3.5h-6.5zM144,63h6.5v3.5h-6.5zM21,66h6.5v3.5h-6.5zM30,66h3.5v3.5h-3.5zM48,66h6.5v3.5h-6.5zM90,66h6.5v3.5h-6.5zM159,66h3.5v3.5h-3.5zM93,69h3.5v3.5h-3.5zM138,69h3.5v3.5h-3.5zM144,69h3.5v3.5h-3.5zM156,69h6.5v3.5h-6.5zM30,72h3.5v3.5h-3.5zM51,72h3.5v3.5h-3.5zM87,72h3.5v3.5h-3.5zM138,72h3.5v3.5h-3.5zM144,72h3.5v3.5h-3.5zM33,75h3.5v3.5h-3.5zM141,75h9.5v3.5h-9.5zM108,78h3.5v3.5h-3.5zM117,78h3.5v3.5h-3.5zM141,78h9.5v3.5h-9.5zM33,81h3.5v3.5h-3.5zM90,81h3.5v3.5h-3.5zM96,81h3.5v3.5h-3.5zM102,81h3.5v3.5h-3.5zM108,81h6.5v3.5h-6.5zM132,81h6.5v3.5h-6.5zM147,81h6.5v3.5h-6.5zM123,84h3.5v3.5h-3.5zM135,84h3.5v3.5h-3.5zM132,87h3.5v3.5h-3.5zM30,90h3.5v3.5h-3.5zM39,96h3.5v3.5h-3.5zM63,99h3.5v3.5h-3.5zM87,99h3.5v3.5h-3.5zM42,102h3.5v3.5h-3.5zM60,102h3.5v3.5h-3.5zM42,105h3.5v3.5h-3.5zM63,105h3.5v3.5h-3.5zM51,108h6.5v3.5h-6.5zM60,108h6.5v3.5h-6.5zM78,108h3.5v3.5h-3.5zM60,111h3.5v3.5h-3.5zM72,111h3.5v3.5h-3.5zM78,111h3.5v3.5h-3.5z"/><path fill="#d24644" d="M51,6h3.5v3.5h-3.5zM87,6h3.5v3.5h-3.5zM87,9h3.5v3.5h-3.5zM87,12h3.5v3.5h-3.5zM51,24h3.5v3.5h-3.5zM48,30h3.5v3.5h-3.5zM168,30h6.5v3.5h-6.5zM171,33h3.5v3.5h-3.5zM48,36h3.5v3.5h-3.5zM84,36h3.5v3.5h-3.5zM162,39h3.5v3.5h-3.5zM42,42h3.5v3.5h-3.5zM156,42h3.5v3.5h-3.5zM165,42h3.5v3.5h-3.5zM42,45h3.5v3.5h-3.5zM156,45h3.5v3.5h-3.5zM162,45h6.5v3.5h-6.5zM153,48h3.5v3.5h-3.5zM165,51h3.5v3.5h-3.5zM84,54h3.5v3.5h-3.5zM108,54h6.5v3.5h-6.5zM156,54h3.5v3.5h-3.5zM162,54h6.5v3.5h-6.5zM123,57h3.5v3.5h-3.5zM159,57h3.5v3.5h-3.5zM15,60h3.5v3.5h-3.5zM24,60h6.5v3.5h-6.5zM48,60h3.5v3.5h-3.5zM96,60h3.5v3.5h-3.5zM105,60h6.5v3.5h-6.5zM150,60h3.5v3.5h-3.5zM156,60h3.5v3.5h-3.5zM15,63h3.5v3.5h-3.5zM21,63h3.5v3.5h-3.5zM27,63h3.5v3.5h-3.5zM48,63h3.5v3.5h-3.5zM150,63h12.5v3.5h-12.5zM18,66h3.5v3.5h-3.5zM27,66h3.5v3.5h-3.5zM45,66h3.5v3.5h-3.5zM147,66h3.5v3.5h-3.5zM156,66h3.5v3.5h-3.5zM27,69h3.5v3.5h-3.5zM147,69h3.5v3.5h-3.5zM24,72h6.5v3.5h-6.5zM84,72h3.5v3.5h-3.5zM141,72h3.5v3.5h-3.5zM27,75h6.5v3.5h-6.5zM48,75h3.5v3.5h-3.5zM153,75h3.5v3.5h-3.5zM30,78h3.5v3.5h-3.5zM105,78h3.5v3.5h-3.5zM153,78h3.5v3.5h-3.5zM117,81h3.5v3.5h-3.5zM138,81h6.5v3.5h-6.5zM27,84h3.5v3.5h-3.5zM120,84h3.5v3.5h-3.5zM132,84h3.5v3.5h-3.5zM126,87h3.5v3.5h-3.5zM36,96h3.5v3.5h-3.5zM36,99h3.5v3.5h-3.5zM60,105h3.5v3.5h-3.5zM81,108h3.5v3.5h-3.5zM48,111h6.5v3.5h-6.5zM57,111h3.5v3.5h-3.5zM75,111h3.5v3.5h-3.5z"/><path fill="#d94d3d" d="M87,0h3.5v3.5h-3.5zM87,3h3.5v3.5h-3.5zM6,6h3.5v3.5h-3.5zM39,9h3.5v3.5h-3.5zM3,33h3.5v3.5h-3.5zM12,33h3.5v3.5h-3.5zM30,33h3.5v3.5h-3.5zM162,36h3.5v3.5h-3.5zM171,36h3.5v3.5h-3.5zM177,36h3.5v3.5h-3.5zM45,39h3.5v3.5h-3.5zM84,39h3.5v3.5h-3.5zM27,42h3.5v3.5h-3.5zM84,42h3.5v3.5h-3.5zM162,42h3.5v3.5h-3.5zM171,42h3.5v3.5h-3.5zM84,45h3.5v3.5h-3.5zM150,45h6.5v3.5h-6.5zM132,48h3.5v3.5h-3.5zM84,51h3.5v3.5h-3.5zM105,51h3.5v3.5h-3.5zM150,51h3.5v3.5h-3.5zM39,57h3.5v3.5h-3.5zM84,57h3.5v3.5h-3.5zM162,57h6.5v3.5h-6.5zM84,60h3.5v3.5h-3.5zM159,60h3.5v3.5h-3.5zM12,63h3.5v3.5h-3.5zM45,63h3.5v3.5h-3.5zM93,63h6.5v3.5h-6.5zM162,63h3.5v3.5h-3.5zM33,66h6.5v3.5h-6.5zM84,66h3.5v3.5h-3.5zM150,66h3.5v3.5h-3.5zM177,66h3.5v3.5h-3.5zM21,69h3.5v3.5h-3.5zM36,69h3.5v3.5h-3.5zM87,69h3.5v3.5h-3.5zM141,69h3.5v3.5h-3.5zM171,69h3.5v3.5h-3.5zM42,72h3.5v3.5h-3.5zM162,72h3.5v3.5h-3.5zM42,75h3.5v3.5h-3.5zM162,78h3.5v3.5h-3.5zM93,81h3.5v3.5h-3.5zM114,81h3.5v3.5h-3.5zM93,84h3.5v3.5h-3.5zM99,84h3.5v3.5h-3.5zM108,84h3.5v3.5h-3.5zM147,84h3.5v3.5h-3.5zM120,87h3.5v3.5h-3.5zM129,87h3.5v3.5h-3.5zM135,87h3.5v3.5h-3.5zM129,90h3.5v3.5h-3.5zM30,93h3.5v3.5h-3.5zM90,93h3.5v3.5h-3.5zM162,93h3.5v3.5h-3.5zM33,96h3.5v3.5h-3.5zM90,99h3.5v3.5h-3.5zM39,102h3.5v3.5h-3.5zM84,102h6.5v3.5h-6.5zM45,108h3.5v3.5h-3.5zM84,108h3.5v3.5h-3.5zM144,108h3.5v3.5h-3.5zM150,108h3.5v3.5h-3.5zM162,108h3.5v3.5h-3.5zM54,111h3.5v3.5h-3.5zM81,111h3.5v3.5h-3.5zM162,111h3.5v3.5h-3.5zM168,111h3.5v3.5h-3.5zM63,114h3.5v3.5h-3.5zM69,114h3.5v3.5h-3.5zM156,120h3.5v3.5h-3.5zM78,129h3.5v3.5h-3.5zM87,129h3.5v3.5h-3.5zM84,135h3.5v3.5h-3.5zM63,147h3.5v3.5h-3.5zM84,147h3.5v3.5h-3.5z"/><path fill="#e15635" d="M9,0h3.5v3.5h-3.5zM36,0h3.5v3.5h-3.5zM6,3h6.5v3.5h-6.5zM24,3h3.5v3.5h-3.5zM36,3h3.5v3.5h-3.5zM3,6h3.5v3.5h-3.5zM15,6h6.5v3.5h-6.5zM24,6h3.5v3.5h-3.5zM45,6h6.5v3.5h-6.5zM6,9h3.5v3.5h-3.5zM15,9h6.5v3.5h-6.5zM24,9h3.5v3.5h-3.5zM45,9h3.5v3.5h-3.5zM51,9h3.5v3.5h-3.5zM9,12h3.5v3.5h-3.5zM18,12h3.5v3.5h-3.5zM39,12h3.5v3.5h-3.5zM48,12h6.5v3.5h-6.5zM39,15h3.5v3.5h-3.5zM48,15h6.5v3.5h-6.5zM87,15h3.5v3.5h-3.5zM6,18h3.5v3.5h-3.5zM21,18h3.5v3.5h-3.5zM33,18h3.5v3.5h-3.5zM42,18h6.5v3.5h-6.5zM51,21h3.5v3.5h-3.5zM27,24h6.5v3.5h-6.5zM6,27h3.5v3.5h-3.5zM21,27h3.5v3.5h-3.5zM30,27h3.5v3.5h-3.5zM36,27h6.5v3.5h-6.5zM51,27h3.5v3.5h-3.5zM0,30h3.5v3.5h-3.5zM24,30h3.5v3.5h-3.5zM33,30h3.5v3.5h-3.5zM39,30h3.5v3.5h-3.5zM177,30h3.5v3.5h-3.5zM9,33h3.5v3.5h-3.5zM39,33h3.5v3.5h-3.5zM12,36h6.5v3.5h-6.5zM21,36h3.5v3.5h-3.5zM42,36h3.5v3.5h-3.5zM147,36h3.5v3.5h-3.5zM159,36h3.5v3.5h-3.5zM168,36h3.5v3.5h-3.5zM15,39h6.5v3.5h-6.5zM30,39h3.5v3.5h-3.5zM153,39h3.5v3.5h-3.5zM171,39h3.5v3.5h-3.5zM0,42h3.5v3.5h-3.5zM21,42h3.5v3.5h-3.5zM120,42h3.5v3.5h-3.5zM144,42h3.5v3.5h-3.5zM153,42h3.5v3.5h-3.5zM177,42h3.5v3.5h-3.5zM0,45h3.5v3.5h-3.5zM6,45h3.5v3.5h-3.5zM15,45h3.5v3.5h-3.5zM21,45h3.5v3.5h-3.5zM30,45h3.5v3.5h-3.5zM39,45h3.5v3.5h-3.5zM117,45h3.5v3.5h-3.5zM126,45h3.5v3.5h-3.5zM174,45h3.5v3.5h-3.5zM3,48h3.5v3.5h-3.5zM15,48h3.5v3.5h-3.5zM21,48h3.5v3.5h-3.5zM30,48h3.5v3.5h-3.5zM36,48h6.5v3.5h-6.5zM45,48h3.5v3.5h-3.5zM108,48h3.5v3.5h-3.5zM135,48h3.5v3.5h-3.5zM141,48h3.5v3.5h-3.5zM177,48h3.5v3.5h-3.5zM33,51h3.5v3.5h-3.5zM45,51h3.5v3.5h-3.5zM87,51h12.5v3.5h-12.5zM108,51h3.5v3.5h-3.5zM120,51h3.5v3.5h-3.5zM126,51h3.5v3.5h-3.5zM138,51h3.5v3.5h-3.5zM144,51h6.5v3.5h-6.5zM168,51h3.5v3.5h-3.5zM3,54h3.5v3.5h-3.5zM21,54h3.5v3.5h-3.5zM33,54h3.5v3.5h-3.5zM105,54h3.5v3.5h-3.5zM129,54h3.5v3.5h-3.5zM174,54h3.5v3.5h-3.5zM15,57h3.5v3.5h-3.5zM27,57h3.5v3.5h-3.5zM36,57h3.5v3.5h-3.5zM42,57h3.5v3.5h-3.5zM90,57h3.5v3.5h-3.5zM96,57h6.5v3.5h-6.5zM114,57h3.5v3.5h-3.5zM126,57h3.5v3.5h-3.5zM168,57h9.5v3.5h-9.5zM30,60h3.5v3.5h-3.5zM42,60h6.5v3.5h-6.5zM93,60h3.5v3.5h-3.5zM162,60h3.5v3.5h-3.5zM30,63h3.5v3.5h-3.5zM84,63h3.5v3.5h-3.5zM39,66h6.5v3.5h-6.5zM171,66h6.5v3.5h-6.5zM18,69h3.5v3.5h-3.5zM39,69h3.5v3.5h-3.5zM45,69h3.5v3.5h-3.5zM165,69h3.5v3.5h-3.5zM174,69h3.5v3.5h-3.5zM48,72h3.5v3.5h-3.5zM159,72h3.5v3.5h-3.5zM165,72h6.5v3.5h-6.5zM174,72h3.5v3.5h-3.5zM36,75h6.5v3.5h-6.5zM45,75h3.5v3.5h-3.5zM165,75h3.5v3.5h-3.5zM27,78h3.5v3.5h-3.5zM159,78h3.5v3.5h-3.5zM168,78h3.5v3.5h-3.5zM153,81h6.5v3.5h-6.5zM174,81h3.5v3.5h-3.5zM90,84h3.5v3.5h-3.5zM96,84h3.5v3.5h-3.5zM138,84h3.5v3.5h-3.5zM150,84h3.5v3.5h-3.5zM174,84h3.5v3.5h-3.5zM27,87h3.5v3.5h-3.5zM90,87h3.5v3.5h-3.5zM117,87h3.5v3.5h-3.5zM123,87h3.5v3.5h-3.5zM156,87h6.5v3.5h-6.5zM165,87h3.5v3.5h-3.5zM93,90h3.5v3.5h-3.5zM123,90h3.5v3.5h-3.5zM135,90h3.5v3.5h-3.5zM141,90h3.5v3.5h-3.5zM150,90h3.5v3.5h-3.5zM90,96h3.5v3.5h-3.5zM147,96h3.5v3.5h-3.5zM90,102h3.5v3.5h-3.5zM159,102h3.5v3.5h-3.5zM39,105h3.5v3.5h-3.5zM87,105h6.5v3.5h-6.5zM147,105h6.5v3.5h-6.5zM153,108h3.5v3.5h-3.5zM159,108h3.5v3.5h-3.5zM57,114h3.5v3.5h-3.5zM66,114h3.5v3.5h-3.5zM144,114h3.5v3.5h-3.5zM171,114h3.5v3.5h-3.5zM54,117h3.5v3.5h-3.5zM66,117h6.5v3.5h-6.5zM90,117h3.5v3.5h-3.5zM162,117h3.5v3.5h-3.5zM171,117h3.5v3.5h-3.5zM69,120h3.5v3.5h-3.5zM78,120h6.5v3.5h-6.5zM150,120h3.5v3.5h-3.5zM63,123h3.5v3.5h-3.5zM78,123h3.5v3.5h-3.5zM87,123h3.5v3.5h-3.5zM72,126h3.5v3.5h-3.5zM171,126h3.5v3.5h-3.5zM75,129h3.5v3.5h-3.5zM162,129h6.5v3.5h-6.5zM174,129h3.5v3.5h-3.5zM87,132h3.5v3.5h-3.5zM93,132h3.5v3.5h-3.5zM171,132h3.5v3.5h-3.5zM177,132h3.5v3.5h-3.5zM75,135h3.5v3.5h-3.5zM87,135h3.5v3.5h-3.5zM165,135h6.5v3.5h-6.5zM66,138h3.5v3.5h-3.5zM81,138h3.5v3.5h-3.5zM162,138h3.5v3.5h-3.5zM177,138h3.5v3.5h-3.5zM60,141h3.5v3.5h-3.5zM69,141h9.5v3.5h-9.5zM69,144h3.5v3.5h-3.5zM168,144h3.5v3.5h-3.5zM54,147h6.5v3.5h-6.5zM72,147h3.5v3.5h-3.5z"/><path fill="#e8602d" d="M0,0h3.5v3.5h-3.5zM6,0h3.5v3.5h-3.5zM18,0h3.5v3.5h-3.5zM27,0h6.5v3.5h-6.5zM39,0h9.5v3.5h-9.5zM0,3h6.5v3.5h-6.5zM12,3h9.5v3.5h-9.5zM27,3h3.5v3.5h-3.5zM33,3h3.5v3.5h-3.5zM42,3h6.5v3.5h-6.5zM27,6h6.5v3.5h-6.5zM36,6h9.5v3.5h-9.5zM3,9h3.5v3.5h-3.5zM21,9h3.5v3.5h-3.5zM27,9h6.5v3.5h-6.5zM42,9h3.5v3.5h-3.5zM0,12h9.5v3.5h-9.5zM15,12h3.5v3.5h-3.5zM24,12h15.5v3.5h-15.5zM45,12h3.5v3.5h-3.5zM0,15h18.5v3.5h-18.5zM21,15h6.5v3.5h-6.5zM30,15h3.5v3.5h-3.5zM36,15h3.5v3.5h-3.5zM42,15h6.5v3.5h-6.5zM9,18h6.5v3.5h-6.5zM36,18h3.5v3.5h-3.5zM51,18h3.5v3.5h-3.5zM0,21h9.5v3.5h-9.5zM12,21h6.5v3.5h-6.5zM21,21h6.5v3.5h-6.5zM33,21h3.5v3.5h-3.5zM39,21h9.5v3.5h-9.5zM0,24h3.5v3.5h-3.5zM15,24h3.5v3.5h-3.5zM24,24h3.5v3.5h-3.5zM33,24h3.5v3.5h-3.5zM39,24h9.5v3.5h-9.5zM0,27h3.5v3.5h-3.5zM12,27h3.5v3.5h-3.5zM24,27h3.5v3.5h-3.5zM33,27h3.5v3.5h-3.5zM48,27h3.5v3.5h-3.5zM12,30h3.5v3.5h-3.5zM18,30h6.5v3.5h-6.5zM27,30h3.5v3.5h-3.5zM36,30h3.5v3.5h-3.5zM42,30h3.5v3.5h-3.5zM0,33h3.5v3.5h-3.5zM6,33h3.5v3.5h-3.5zM15,33h3.5v3.5h-3.5zM21,33h3.5v3.5h-3.5zM27,33h3.5v3.5h-3.5zM36,33h3.5v3.5h-3.5zM45,33h3.5v3.5h-3.5zM174,33h3.5v3.5h-3.5zM6,36h3.5v3.5h-3.5zM18,36h3.5v3.5h-3.5zM33,36h9.5v3.5h-9.5zM45,36h3.5v3.5h-3.5zM120,36h6.5v3.5h-6.5zM129,36h6.5v3.5h-6.5zM144,36h3.5v3.5h-3.5zM156,36h3.5v3.5h-3.5zM174,36h3.5v3.5h-3.5zM0,39h3.5v3.5h-3.5zM6,39h3.5v3.5h-3.5zM12,39h3.5v3.5h-3.5zM24,39h3.5v3.5h-3.5zM33,39h6.5v3.5h-6.5zM114,39h9.5v3.5h-9.5zM126,39h6.5v3.5h-6.5zM135,39h6.5v3.5h-6.5zM144,39h9.5v3.5h-9.5zM156,39h6.5v3.5h-6.5zM168,39h3.5v3.5h-3.5zM174,39h6.5v3.5h-6.5zM6,42h3.5v3.5h-3.5zM24,42h3.5v3.5h-3.5zM30,42h3.5v3.5h-3.5zM123,42h12.5v3.5h-12.5zM150,42h3.5v3.5h-3.5zM168,42h3.5v3.5h-3.5zM18,45h3.5v3.5h-3.5zM24,45h3.5v3.5h-3.5zM36,45h3.5v3.5h-3.5zM87,45h3.5v3.5h-3.5zM123,45h3.5v3.5h-3.5zM129,45h3.5v3.5h-3.5zM147,45h3.5v3.5h-3.5zM168,45h3.5v3.5h-3.5zM0,48h3.5v3.5h-3.5zM9,48h3.5v3.5h-3.5zM18,48h3.5v3.5h-3.5zM24,48h6.5v3.5h-6.5zM96,48h3.5v3.5h-3.5zM102,48h6.5v3.5h-6.5zM114,48h9.5v3.5h-9.5zM126,48h3.5v3.5h-3.5zM144,48h6.5v3.5h-6.5zM168,48h9.5v3.5h-9.5zM3,51h6.5v3.5h-6.5zM12,51h9.5v3.5h-9.5zM30,51h3.5v3.5h-3.5zM39,51h6.5v3.5h-6.5zM99,51h3.5v3.5h-3.5zM114,51h3.5v3.5h-3.5zM129,51h9.5v3.5h-9.5zM141,51h3.5v3.5h-3.5zM171,51h3.5v3.5h-3.5zM177,51h3.5v3.5h-3.5zM0,54h3.5v3.5h-3.5zM6,54h6.5v3.5h-6.5zM15,54h3.5v3.5h-3.5zM24,54h3.5v3.5h-3.5zM30,54h3.5v3.5h-3.5zM36,54h6.5v3.5h-6.5zM96,54h3.5v3.5h-3.5zM102,54h3.5v3.5h-3.5zM117,54h3.5v3.5h-3.5zM126,54h3.5v3.5h-3.5zM171,54h3.5v3.5h-3.5zM3,57h3.5v3.5h-3.5zM12,57h3.5v3.5h-3.5zM18,57h6.5v3.5h-6.5zM30,57h3.5v3.5h-3.5zM87,57h3.5v3.5h-3.5zM102,57h6.5v3.5h-6.5zM117,57h3.5v3.5h-3.5zM33,60h3.5v3.5h-3.5zM39,60h3.5v3.5h-3.5zM165,60h3.5v3.5h-3.5zM33,63h9.5v3.5h-9.5zM87,63h6.5v3.5h-6.5zM171,63h9.5v3.5h-9.5zM162,66h3.5v3.5h-3.5zM168,66h3.5v3.5h-3.5zM42,69h3.5v3.5h-3.5zM162,69h3.5v3.5h-3.5zM168,69h3.5v3.5h-3.5zM177,69h3.5v3.5h-3.5zM36,72h3.5v3.5h-3.5zM45,72h3.5v3.5h-3.5zM156,72h3.5v3.5h-3.5zM171,72h3.5v3.5h-3.5zM24,75h3.5v3.5h-3.5zM156,75h3.5v3.5h-3.5zM174,75h3.5v3.5h-3.5zM24,78h3.5v3.5h-3.5zM156,78h3.5v3.5h-3.5zM177,78h3.5v3.5h-3.5zM27,81h3.5v3.5h-3.5zM165,81h9.5v3.5h-9.5zM177,81h3.5v3.5h-3.5zM102,84h6.5v3.5h-6.5zM111,84h9.5v3.5h-9.5zM144,84h3.5v3.5h-3.5zM153,84h6.5v3.5h-6.5zM165,84h9.5v3.5h-9.5zM105,87h6.5v3.5h-6.5zM138,87h3.5v3.5h-3.5zM147,87h9.5v3.5h-9.5zM162,87h3.5v3.5h-3.5zM177,87h3.5v3.5h-3.5zM90,90h3.5v3.5h-3.5zM105,90h9.5v3.5h-9.5zM120,90h3.5v3.5h-3.5zM126,90h3.5v3.5h-3.5zM132,90h3.5v3.5h-3.5zM138,90h3.5v3.5h-3.5zM147,90h3.5v3.5h-3.5zM153,90h6.5v3.5h-6.5zM165,90h3.5v3.5h-3.5zM93,93h3.5v3.5h-3.5zM102,93h3.5v3.5h-3.5zM111,93h3.5v3.5h-3.5zM120,93h3.5v3.5h-3.5zM135,93h6.5v3.5h-6.5zM147,93h12.5v3.5h-12.5zM30,96h3.5v3.5h-3.5zM96,96h3.5v3.5h-3.5zM138,96h6.5v3.5h-6.5zM150,96h6.5v3.5h-6.5zM159,96h3.5v3.5h-3.5zM93,99h3.5v3.5h-3.5zM141,99h3.5v3.5h-3.5zM150,99h3.5v3.5h-3.5zM159,99h6.5v3.5h-6.5zM93,102h3.5v3.5h-3.5zM138,102h3.5v3.5h-3.5zM144,102h3.5v3.5h-3.5zM150,102h3.5v3.5h-3.5zM156,102h3.5v3.5h-3.5zM84,105h3.5v3.5h-3.5zM144,105h3.5v3.5h-3.5zM156,105h3.5v3.5h-3.5zM165,105h3.5v3.5h-3.5zM42,108h3.5v3.5h-3.5zM87,108h3.5v3.5h-3.5zM141,108h3.5v3.5h-3.5zM165,108h3.5v3.5h-3.5zM45,111h3.5v3.5h-3.5zM150,111h9.5v3.5h-9.5zM165,111h3.5v3.5h-3.5zM51,114h6.5v3.5h-6.5zM60,114h3.5v3.5h-3.5zM78,114h6.5v3.5h-6.5zM90,114h3.5v3.5h-3.5zM150,114h3.5v3.5h-3.5zM156,114h3.5v3.5h-3.5zM162,114h6.5v3.5h-6.5zM60,117h6.5v3.5h-6.5zM93,117h3.5v3.5h-3.5zM141,117h3.5v3.5h-3.5zM150,117h9.5v3.5h-9.5zM66,120h3.5v3.5h-3.5zM72,120h6.5v3.5h-6.5zM90,120h3.5v3.5h-3.5zM159,120h3.5v3.5h-3.5zM165,120h9.5v3.5h-9.5zM66,123h12.5v3.5h-12.5zM84,123h3.5v3.5h-3.5zM93,123h3.5v3.5h-3.5zM144,123h3.5v3.5h-3.5zM150,123h6.5v3.5h-6.5zM162,123h3.5v3.5h-3.5zM168,123h3.5v3.5h-3.5zM60,126h9.5v3.5h-9.5zM81,126h3.5v3.5h-3.5zM87,126h3.5v3.5h-3.5zM156,126h3.5v3.5h-3.5zM162,126h6.5v3.5h-6.5zM66,129h3.5v3.5h-3.5zM72,129h3.5v3.5h-3.5zM153,129h3.5v3.5h-3.5zM159,129h3.5v3.5h-3.5zM168,129h6.5v3.5h-6.5zM177,129h3.5v3.5h-3.5zM60,132h9.5v3.5h-9.5zM75,132h3.5v3.5h-3.5zM159,132h12.5v3.5h-12.5zM63,135h6.5v3.5h-6.5zM81,135h3.5v3.5h-3.5zM174,135h6.5v3.5h-6.5zM60,138h3.5v3.5h-3.5zM69,138h9.5v3.5h-9.5zM90,138h6.5v3.5h-6.5zM165,138h9.5v3.5h-9.5zM57,141h3.5v3.5h-3.5zM63,141h3.5v3.5h-3.5zM81,141h6.5v3.5h-6.5zM93,141h3.5v3.5h-3.5zM171,141h6.5v3.5h-6.5zM54,144h15.5v3.5h-15.5zM78,144h3.5v3.5h-3.5zM90,144h3.5v3.5h-3.5zM171,144h3.5v3.5h-3.5zM177,144h3.5v3.5h-3.5zM66,147h6.5v3.5h-6.5zM75,147h6.5v3.5h-6.5zM90,147h3.5v3.5h-3.5zM171,147h3.5v3.5h-3.5zM177,147h3.5v3.5h-3.5z"/><path fill="#ed6925" d="M3,0h3.5v3.5h-3.5zM12,0h6.5v3.5h-6.5zM21,0h6.5v3.5h-6.5zM33,0h3.5v3.5h-3.5zM21,3h3.5v3.5h-3.5zM30,3h3.5v3.5h-3.5zM39,3h3.5v3.5h-3.5zM9,6h3.5v3.5h-3.5zM21,6h3.5v3.5h-3.5zM33,6h3.5v3.5h-3.5zM0,9h3.5v3.5h-3.5zM12,9h3.5v3.5h-3.5zM33,9h6.5v3.5h-6.5zM48,9h3.5v3.5h-3.5zM21,12h3.5v3.5h-3.5zM42,12h3.5v3.5h-3.5zM27,15h3.5v3.5h-3.5zM0,18h6.5v3.5h-6.5zM15,18h6.5v3.5h-6.5zM24,18h6.5v3.5h-6.5zM39,18h3.5v3.5h-3.5zM48,18h3.5v3.5h-3.5zM84,18h3.5v3.5h-3.5zM9,21h3.5v3.5h-3.5zM18,21h3.5v3.5h-3.5zM27,21h3.5v3.5h-3.5zM48,21h3.5v3.5h-3.5zM3,24h9.5v3.5h-9.5zM18,24h6.5v3.5h-6.5zM36,24h3.5v3.5h-3.5zM48,24h3.5v3.5h-3.5zM3,27h3.5v3.5h-3.5zM9,27h3.5v3.5h-3.5zM15,27h6.5v3.5h-6.5zM27,27h3.5v3.5h-3.5zM42,27h6.5v3.5h-6.5zM3,30h3.5v3.5h-3.5zM9,30h3.5v3.5h-3.5zM45,30h3.5v3.5h-3.5zM174,30h3.5v3.5h-3.5zM24,33h3.5v3.5h-3.5zM33,33h3.5v3.5h-3.5zM42,33h3.5v3.5h-3.5zM87,33h3.5v3.5h-3.5zM126,33h3.5v3.5h-3.5zM177,33h3.5v3.5h-3.5zM0,36h3.5v3.5h-3.5zM9,36h3.5v3.5h-3.5zM24,36h9.5v3.5h-9.5zM87,36h3.5v3.5h-3.5zM114,36h6.5v3.5h-6.5zM126,36h3.5v3.5h-3.5zM138,36h3.5v3.5h-3.5zM9,39h3.5v3.5h-3.5zM21,39h3.5v3.5h-3.5zM39,39h6.5v3.5h-6.5zM123,39h3.5v3.5h-3.5zM132,39h3.5v3.5h-3.5zM141,39h3.5v3.5h-3.5zM3,42h3.5v3.5h-3.5zM9,42h12.5v3.5h-12.5zM33,42h9.5v3.5h-9.5zM114,42h3.5v3.5h-3.5zM138,42h6.5v3.5h-6.5zM174,42h3.5v3.5h-3.5zM3,45h3.5v3.5h-3.5zM9,45h6.5v3.5h-6.5zM27,45h3.5v3.5h-3.5zM114,45h3.5v3.5h-3.5zM120,45h3.5v3.5h-3.5zM132,45h15.5v3.5h-15.5zM177,45h3.5v3.5h-3.5zM6,48h3.5v3.5h-3.5zM12,48h3.5v3.5h-3.5zM33,48h3.5v3.5h-3.5zM42,48h3.5v3.5h-3.5zM93,48h3.5v3.5h-3.5zM99,48h3.5v3.5h-3.5zM111,48h3.5v3.5h-3.5zM123,48h3.5v3.5h-3.5zM129,48h3.5v3.5h-3.5zM9,51h3.5v3.5h-3.5zM21,51h9.5v3.5h-9.5zM102,51h3.5v3.5h-3.5zM111,51h3.5v3.5h-3.5zM117,51h3.5v3.5h-3.5zM123,51h3.5v3.5h-3.5zM27,54h3.5v3.5h-3.5zM87,54h3.5v3.5h-3.5zM93,54h3.5v3.5h-3.5zM99,54h3.5v3.5h-3.5zM114,54h3.5v3.5h-3.5zM120,54h6.5v3.5h-6.5zM168,54h3.5v3.5h-3.5zM177,54h3.5v3.5h-3.5zM0,57h3.5v3.5h-3.5zM6,57h6.5v3.5h-6.5zM24,57h3.5v3.5h-3.5zM33,57h3.5v3.5h-3.5zM93,57h3.5v3.5h-3.5zM120,57h3.5v3.5h-3.5zM177,57h3.5v3.5h-3.5zM36,60h3.5v3.5h-3.5zM171,60h3.5v3.5h-3.5zM168,63h3.5v3.5h-3.5zM87,66h3.5v3.5h-3.5zM165,66h3.5v3.5h-3.5zM84,69h3.5v3.5h-3.5zM21,72h3.5v3.5h-3.5zM39,72h3.5v3.5h-3.5zM177,72h3.5v3.5h-3.5zM159,75h3.5v3.5h-3.5zM168,75h6.5v3.5h-6.5zM177,75h3.5v3.5h-3.5zM165,78h3.5v3.5h-3.5zM171,78h3.5v3.5h-3.5zM159,81h3.5v3.5h-3.5zM141,84h3.5v3.5h-3.5zM159,84h6.5v3.5h-6.5zM177,84h3.5v3.5h-3.5zM96,87h3.5v3.5h-3.5zM114,87h3.5v3.5h-3.5zM144,87h3.5v3.5h-3.5zM168,87h9.5v3.5h-9.5zM102,90h3.5v3.5h-3.5zM144,90h3.5v3.5h-3.5zM162,90h3.5v3.5h-3.5zM123,93h3.5v3.5h-3.5zM141,93h6.5v3.5h-6.5zM159,93h3.5v3.5h-3.5zM93,96h3.5v3.5h-3.5zM156,96h3.5v3.5h-3.5zM162,96h6.5v3.5h-6.5zM33,99h3.5v3.5h-3.5zM138,99h3.5v3.5h-3.5zM147,99h3.5v3.5h-3.5zM153,99h6.5v3.5h-6.5zM165,99h3.5v3.5h-3.5zM36,102h3.5v3.5h-3.5zM147,102h3.5v3.5h-3.5zM153,102h3.5v3.5h-3.5zM165,102h3.5v3.5h-3.5zM93,105h3.5v3.5h-3.5zM141,105h3.5v3.5h-3.5zM153,105h3.5v3.5h-3.5zM159,105h6.5v3.5h-6.5zM138,108h3.5v3.5h-3.5zM147,108h3.5v3.5h-3.5zM156,108h3.5v3.5h-3.5zM42,111h3.5v3.5h-3.5zM84,111h3.5v3.5h-3.5zM147,111h3.5v3.5h-3.5zM159,111h3.5v3.5h-3.5zM171,111h3.5v3.5h-3.5zM48,114h3.5v3.5h-3.5zM72,114h3.5v3.5h-3.5zM84,114h6.5v3.5h-6.5zM93,114h3.5v3.5h-3.5zM141,114h3.5v3.5h-3.5zM147,114h3.5v3.5h-3.5zM153,114h3.5v3.5h-3.5zM159,114h3.5v3.5h-3.5zM168,114h3.5v3.5h-3.5zM48,117h3.5v3.5h-3.5zM57,117h3.5v3.5h-3.5zM78,117h12.5v3.5h-12.5zM144,117h6.5v3.5h-6.5zM159,117h3.5v3.5h-3.5zM165,117h6.5v3.5h-6.5zM174,117h3.5v3.5h-3.5zM60,120h6.5v3.5h-6.5zM84,120h6.5v3.5h-6.5zM93,120h3.5v3.5h-3.5zM144,120h6.5v3.5h-6.5zM153,120h3.5v3.5h-3.5zM162,120h3.5v3.5h-3.5zM90,123h3.5v3.5h-3.5zM96,123h6.5v3.5h-6.5zM159,123h3.5v3.5h-3.5zM165,123h3.5v3.5h-3.5zM171,123h3.5v3.5h-3.5zM69,126h3.5v3.5h-3.5zM78,126h3.5v3.5h-3.5zM84,126h3.5v3.5h-3.5zM90,126h6.5v3.5h-6.5zM150,126h6.5v3.5h-6.5zM159,126h3.5v3.5h-3.5zM174,126h6.5v3.5h-6.5zM63,129h3.5v3.5h-3.5zM69,129h3.5v3.5h-3.5zM81,129h6.5v3.5h-6.5zM90,129h3.5v3.5h-3.5zM156,129h3.5v3.5h-3.5zM69,132h6.5v3.5h-6.5zM81,132h6.5v3.5h-6.5zM90,132h3.5v3.5h-3.5zM156,132h3.5v3.5h-3.5zM174,132h3.5v3.5h-3.5zM60,135h3.5v3.5h-3.5zM69,135h6.5v3.5h-6.5zM78,135h3.5v3.5h-3.5zM90,135h6.5v3.5h-6.5zM156,135h3.5v3.5h-3.5zM171,135h3.5v3.5h-3.5zM63,138h3.5v3.5h-3.5zM78,138h3.5v3.5h-3.5zM84,138h6.5v3.5h-6.5zM174,138h3.5v3.5h-3.5zM66,141h3.5v3.5h-3.5zM78,141h3.5v3.5h-3.5zM87,141h6.5v3.5h-6.5zM165,141h6.5v3.5h-6.5zM177,141h3.5v3.5h-3.5zM51,144h3.5v3.5h-3.5zM75,144h3.5v3.5h-3.5zM84,144h6.5v3.5h-6.5zM93,144h3.5v3.5h-3.5zM51,147h3.5v3.5h-3.5zM60,147h3.5v3.5h-3.5zM81,147h3.5v3.5h-3.5z"/><path fill="#f2741c" d="M0,6h3.5v3.5h-3.5zM12,12h3.5v3.5h-3.5zM18,15h3.5v3.5h-3.5zM33,15h3.5v3.5h-3.5zM30,18h3.5v3.5h-3.5zM150,18h3.5v3.5h-3.5zM30,21h3.5v3.5h-3.5zM36,21h3.5v3.5h-3.5zM84,21h3.5v3.5h-3.5zM84,24h3.5v3.5h-3.5zM84,27h3.5v3.5h-3.5zM141,27h3.5v3.5h-3.5zM150,27h3.5v3.5h-3.5zM177,27h3.5v3.5h-3.5zM6,30h3.5v3.5h-3.5zM15,30h3.5v3.5h-3.5zM30,30h3.5v3.5h-3.5zM18,33h3.5v3.5h-3.5zM84,33h3.5v3.5h-3.5zM129,33h3.5v3.5h-3.5zM144,33h3.5v3.5h-3.5zM3,36h3.5v3.5h-3.5zM135,36h3.5v3.5h-3.5zM141,36h3.5v3.5h-3.5zM150,36h6.5v3.5h-6.5zM3,39h3.5v3.5h-3.5zM27,39h3.5v3.5h-3.5zM87,39h3.5v3.5h-3.5zM87,42h3.5v3.5h-3.5zM117,42h3.5v3.5h-3.5zM135,42h3.5v3.5h-3.5zM147,42h3.5v3.5h-3.5zM33,45h3.5v3.5h-3.5zM171,45h3.5v3.5h-3.5zM87,48h6.5v3.5h-6.5zM138,48h3.5v3.5h-3.5zM36,51h3.5v3.5h-3.5zM174,51h3.5v3.5h-3.5zM12,54h3.5v3.5h-3.5zM18,54h3.5v3.5h-3.5zM90,54h3.5v3.5h-3.5zM9,60h3.5v3.5h-3.5zM90,60h3.5v3.5h-3.5zM168,60h3.5v3.5h-3.5zM174,60h6.5v3.5h-6.5zM165,63h3.5v3.5h-3.5zM9,66h3.5v3.5h-3.5zM162,75h3.5v3.5h-3.5zM174,78h3.5v3.5h-3.5zM24,81h3.5v3.5h-3.5zM162,81h3.5v3.5h-3.5zM24,87h3.5v3.5h-3.5zM93,87h3.5v3.5h-3.5zM99,87h6.5v3.5h-6.5zM111,87h3.5v3.5h-3.5zM141,87h3.5v3.5h-3.5zM159,90h3.5v3.5h-3.5zM105,93h3.5v3.5h-3.5zM126,93h9.5v3.5h-9.5zM165,93h3.5v3.5h-3.5zM99,96h3.5v3.5h-3.5zM144,96h3.5v3.5h-3.5zM96,99h6.5v3.5h-6.5zM144,99h3.5v3.5h-3.5zM96,102h3.5v3.5h-3.5zM141,102h3.5v3.5h-3.5zM162,102h3.5v3.5h-3.5zM138,105h3.5v3.5h-3.5zM90,108h3.5v3.5h-3.5zM168,108h3.5v3.5h-3.5zM24,111h3.5v3.5h-3.5zM87,111h3.5v3.5h-3.5zM138,111h9.5v3.5h-9.5zM138,114h3.5v3.5h-3.5zM51,117h3.5v3.5h-3.5zM138,117h3.5v3.5h-3.5zM96,120h3.5v3.5h-3.5zM177,120h3.5v3.5h-3.5zM60,123h3.5v3.5h-3.5zM81,123h3.5v3.5h-3.5zM147,123h3.5v3.5h-3.5zM156,123h3.5v3.5h-3.5zM75,126h3.5v3.5h-3.5zM144,126h3.5v3.5h-3.5zM168,126h3.5v3.5h-3.5zM93,129h3.5v3.5h-3.5zM150,129h3.5v3.5h-3.5zM78,132h3.5v3.5h-3.5zM153,132h3.5v3.5h-3.5zM159,135h6.5v3.5h-6.5zM57,138h3.5v3.5h-3.5zM96,138h3.5v3.5h-3.5zM141,141h3.5v3.5h-3.5zM162,141h3.5v3.5h-3.5zM72,144h3.5v3.5h-3.5zM81,144h3.5v3.5h-3.5zM174,144h3.5v3.5h-3.5zM48,147h3.5v3.5h-3.5zM87,147h3.5v3.5h-3.5zM93,147h3.5v3.5h-3.5zM168,147h3.5v3.5h-3.5z"/><path fill="#f67e14" d="M174,0h3.5v3.5h-3.5zM141,3h3.5v3.5h-3.5zM12,6h3.5v3.5h-3.5zM162,6h3.5v3.5h-3.5zM171,6h3.5v3.5h-3.5zM9,9h3.5v3.5h-3.5zM138,9h3.5v3.5h-3.5zM159,9h3.5v3.5h-3.5zM168,9h3.5v3.5h-3.5zM144,12h3.5v3.5h-3.5zM114,15h3.5v3.5h-3.5zM126,15h3.5v3.5h-3.5zM153,15h3.5v3.5h-3.5zM120,18h3.5v3.5h-3.5zM132,18h3.5v3.5h-3.5zM156,18h3.5v3.5h-3.5zM162,18h3.5v3.5h-3.5zM159,21h3.5v3.5h-3.5zM12,24h3.5v3.5h-3.5zM126,24h3.5v3.5h-3.5zM144,24h9.5v3.5h-9.5zM165,24h3.5v3.5h-3.5zM87,27h3.5v3.5h-3.5zM105,27h9.5v3.5h-9.5zM159,27h6.5v3.5h-6.5zM168,27h3.5v3.5h-3.5zM84,30h3.5v3.5h-3.5zM96,30h3.5v3.5h-3.5zM135,30h9.5v3.5h-9.5zM165,30h3.5v3.5h-3.5zM90,33h3.5v3.5h-3.5zM111,33h15.5v3.5h-15.5zM132,33h3.5v3.5h-3.5zM138,33h6.5v3.5h-6.5zM150,33h3.5v3.5h-3.5zM162,33h6.5v3.5h-6.5zM90,36h3.5v3.5h-3.5zM111,36h3.5v3.5h-3.5zM90,39h3.5v3.5h-3.5zM93,42h3.5v3.5h-3.5zM111,42h3.5v3.5h-3.5zM90,45h3.5v3.5h-3.5zM99,45h9.5v3.5h-9.5zM0,51h3.5v3.5h-3.5zM3,60h3.5v3.5h-3.5zM87,60h3.5v3.5h-3.5zM9,63h3.5v3.5h-3.5zM42,63h3.5v3.5h-3.5zM15,66h3.5v3.5h-3.5zM12,69h3.5v3.5h-3.5zM18,72h3.5v3.5h-3.5zM24,84h3.5v3.5h-3.5zM96,90h6.5v3.5h-6.5zM117,90h3.5v3.5h-3.5zM27,93h3.5v3.5h-3.5zM96,93h6.5v3.5h-6.5zM108,93h3.5v3.5h-3.5zM171,93h3.5v3.5h-3.5zM177,93h3.5v3.5h-3.5zM129,96h3.5v3.5h-3.5zM135,96h3.5v3.5h-3.5zM171,96h3.5v3.5h-3.5zM30,99h3.5v3.5h-3.5zM135,99h3.5v3.5h-3.5zM171,99h3.5v3.5h-3.5zM177,99h3.5v3.5h-3.5zM36,105h3.5v3.5h-3.5zM96,105h3.5v3.5h-3.5zM129,105h3.5v3.5h-3.5zM24,108h3.5v3.5h-3.5zM132,108h3.5v3.5h-3.5zM171,108h3.5v3.5h-3.5zM27,111h3.5v3.5h-3.5zM36,111h3.5v3.5h-3.5zM90,111h3.5v3.5h-3.5zM75,114h3.5v3.5h-3.5zM126,114h3.5v3.5h-3.5zM15,117h3.5v3.5h-3.5zM75,117h3.5v3.5h-3.5zM99,117h3.5v3.5h-3.5zM129,117h3.5v3.5h-3.5zM12,120h3.5v3.5h-3.5zM57,120h3.5v3.5h-3.5zM99,120h3.5v3.5h-3.5zM141,120h3.5v3.5h-3.5zM102,123h3.5v3.5h-3.5zM141,123h3.5v3.5h-3.5zM99,126h3.5v3.5h-3.5zM12,129h3.5v3.5h-3.5zM60,129h3.5v3.5h-3.5zM96,129h3.5v3.5h-3.5zM102,129h3.5v3.5h-3.5zM6,132h3.5v3.5h-3.5zM123,132h3.5v3.5h-3.5zM132,132h3.5v3.5h-3.5zM54,135h6.5v3.5h-6.5zM96,135h3.5v3.5h-3.5zM129,135h3.5v3.5h-3.5zM150,135h3.5v3.5h-3.5zM0,138h6.5v3.5h-6.5zM54,138h3.5v3.5h-3.5zM159,138h3.5v3.5h-3.5zM54,141h3.5v3.5h-3.5zM102,141h6.5v3.5h-6.5zM123,141h3.5v3.5h-3.5zM159,141h3.5v3.5h-3.5zM48,144h3.5v3.5h-3.5zM153,144h3.5v3.5h-3.5zM162,144h3.5v3.5h-3.5zM159,147h3.5v3.5h-3.5zM174,147h3.5v3.5h-3.5z"/><path fill="#f98b0b" d="M129,0h3.5v3.5h-3.5zM141,0h3.5v3.5h-3.5zM153,0h3.5v3.5h-3.5zM159,0h3.5v3.5h-3.5zM165,0h3.5v3.5h-3.5zM177,0h3.5v3.5h-3.5zM138,3h3.5v3.5h-3.5zM150,3h3.5v3.5h-3.5zM156,3h3.5v3.5h-3.5zM168,3h3.5v3.5h-3.5zM174,3h3.5v3.5h-3.5zM126,6h3.5v3.5h-3.5zM144,6h3.5v3.5h-3.5zM168,6h3.5v3.5h-3.5zM126,9h3.5v3.5h-3.5zM132,9h6.5v3.5h-6.5zM144,9h6.5v3.5h-6.5zM156,9h3.5v3.5h-3.5zM174,9h6.5v3.5h-6.5zM114,12h3.5v3.5h-3.5zM123,12h6.5v3.5h-6.5zM132,12h3.5v3.5h-3.5zM141,12h3.5v3.5h-3.5zM147,12h6.5v3.5h-6.5zM168,12h3.5v3.5h-3.5zM177,12h3.5v3.5h-3.5zM120,15h3.5v3.5h-3.5zM129,15h3.5v3.5h-3.5zM141,15h6.5v3.5h-6.5zM165,15h3.5v3.5h-3.5zM171,15h3.5v3.5h-3.5zM177,15h3.5v3.5h-3.5zM87,18h3.5v3.5h-3.5zM114,18h3.5v3.5h-3.5zM123,18h6.5v3.5h-6.5zM147,18h3.5v3.5h-3.5zM159,18h3.5v3.5h-3.5zM171,18h3.5v3.5h-3.5zM132,21h3.5v3.5h-3.5zM141,21h6.5v3.5h-6.5zM153,21h3.5v3.5h-3.5zM177,21h3.5v3.5h-3.5zM117,24h3.5v3.5h-3.5zM135,24h3.5v3.5h-3.5zM153,24h6.5v3.5h-6.5zM123,27h3.5v3.5h-3.5zM129,27h6.5v3.5h-6.5zM138,27h3.5v3.5h-3.5zM144,27h3.5v3.5h-3.5zM153,27h6.5v3.5h-6.5zM165,27h3.5v3.5h-3.5zM174,27h3.5v3.5h-3.5zM105,30h9.5v3.5h-9.5zM132,30h3.5v3.5h-3.5zM144,30h3.5v3.5h-3.5zM153,30h12.5v3.5h-12.5zM102,33h3.5v3.5h-3.5zM108,33h3.5v3.5h-3.5zM135,33h3.5v3.5h-3.5zM159,33h3.5v3.5h-3.5zM102,36h6.5v3.5h-6.5zM96,39h3.5v3.5h-3.5zM105,39h9.5v3.5h-9.5zM96,42h6.5v3.5h-6.5zM93,45h6.5v3.5h-6.5zM108,45h6.5v3.5h-6.5zM0,60h3.5v3.5h-3.5zM6,60h3.5v3.5h-3.5zM6,63h3.5v3.5h-3.5zM12,66h3.5v3.5h-3.5zM15,69h3.5v3.5h-3.5zM15,72h3.5v3.5h-3.5zM15,75h3.5v3.5h-3.5zM21,75h3.5v3.5h-3.5zM24,90h6.5v3.5h-6.5zM114,90h3.5v3.5h-3.5zM168,90h6.5v3.5h-6.5zM177,90h3.5v3.5h-3.5zM168,93h3.5v3.5h-3.5zM24,96h6.5v3.5h-6.5zM102,96h3.5v3.5h-3.5zM111,96h3.5v3.5h-3.5zM117,96h6.5v3.5h-6.5zM126,96h3.5v3.5h-3.5zM132,96h3.5v3.5h-3.5zM168,96h3.5v3.5h-3.5zM27,99h3.5v3.5h-3.5zM105,99h3.5v3.5h-3.5zM132,99h3.5v3.5h-3.5zM168,99h3.5v3.5h-3.5zM99,102h3.5v3.5h-3.5zM105,102h6.5v3.5h-6.5zM129,102h9.5v3.5h-9.5zM168,102h3.5v3.5h-3.5zM21,105h3.5v3.5h-3.5zM33,105h3.5v3.5h-3.5zM102,105h9.5v3.5h-9.5zM132,105h6.5v3.5h-6.5zM168,105h6.5v3.5h-6.5zM21,108h3.5v3.5h-3.5zM27,108h9.5v3.5h-9.5zM93,108h3.5v3.5h-3.5zM102,108h6.5v3.5h-6.5zM129,108h3.5v3.5h-3.5zM174,108h3.5v3.5h-3.5zM39,111h3.5v3.5h-3.5zM96,111h6.5v3.5h-6.5zM129,111h9.5v3.5h-9.5zM177,111h3.5v3.5h-3.5zM15,114h3.5v3.5h-3.5zM45,114h3.5v3.5h-3.5zM96,114h3.5v3.5h-3.5zM132,114h6.5v3.5h-6.5zM174,114h6.5v3.5h-6.5zM24,117h9.5v3.5h-9.5zM45,117h3.5v3.5h-3.5zM96,117h3.5v3.5h-3.5zM123,117h3.5v3.5h-3.5zM135,117h3.5v3.5h-3.5zM18,120h6.5v3.5h-6.5zM48,120h3.5v3.5h-3.5zM54,120h3.5v3.5h-3.5zM102,120h3.5v3.5h-3.5zM126,120h15.5v3.5h-15.5zM21,123h3.5v3.5h-3.5zM57,123h3.5v3.5h-3.5zM138,123h3.5v3.5h-3.5zM12,126h3.5v3.5h-3.5zM18,126h6.5v3.5h-6.5zM96,126h3.5v3.5h-3.5zM102,126h3.5v3.5h-3.5zM147,126h3.5v3.5h-3.5zM3,129h3.5v3.5h-3.5zM9,129h3.5v3.5h-3.5zM18,129h3.5v3.5h-3.5zM57,129h3.5v3.5h-3.5zM123,129h3.5v3.5h-3.5zM129,129h3.5v3.5h-3.5zM138,129h3.5v3.5h-3.5zM9,132h3.5v3.5h-3.5zM15,132h3.5v3.5h-3.5zM96,132h6.5v3.5h-6.5zM120,132h3.5v3.5h-3.5zM138,132h3.5v3.5h-3.5zM126,135h3.5v3.5h-3.5zM135,135h3.5v3.5h-3.5zM144,135h3.5v3.5h-3.5zM102,138h3.5v3.5h-3.5zM108,138h3.5v3.5h-3.5zM129,138h3.5v3.5h-3.5zM138,138h6.5v3.5h-6.5zM150,138h3.5v3.5h-3.5zM156,138h3.5v3.5h-3.5zM0,141h3.5v3.5h-3.5zM135,141h3.5v3.5h-3.5zM144,141h3.5v3.5h-3.5zM150,141h3.5v3.5h-3.5zM3,144h3.5v3.5h-3.5zM105,144h3.5v3.5h-3.5zM138,144h12.5v3.5h-12.5zM159,144h3.5v3.5h-3.5zM165,144h3.5v3.5h-3.5zM3,147h3.5v3.5h-3.5zM96,147h6.5v3.5h-6.5zM126,147h6.5v3.5h-6.5zM141,147h3.5v3.5h-3.5zM156,147h3.5v3.5h-3.5zM165,147h3.5v3.5h-3.5z"/><path fill="#fb9606" d="M126,0h3.5v3.5h-3.5zM132,0h9.5v3.5h-9.5zM144,0h3.5v3.5h-3.5zM150,0h3.5v3.5h-3.5zM156,0h3.5v3.5h-3.5zM171,0h3.5v3.5h-3.5zM126,3h6.5v3.5h-6.5zM135,3h3.5v3.5h-3.5zM147,3h3.5v3.5h-3.5zM153,3h3.5v3.5h-3.5zM162,3h6.5v3.5h-6.5zM171,3h3.5v3.5h-3.5zM177,3h3.5v3.5h-3.5zM123,6h3.5v3.5h-3.5zM129,6h9.5v3.5h-9.5zM141,6h3.5v3.5h-3.5zM147,6h15.5v3.5h-15.5zM174,6h3.5v3.5h-3.5zM120,9h6.5v3.5h-6.5zM129,9h3.5v3.5h-3.5zM141,9h3.5v3.5h-3.5zM150,9h6.5v3.5h-6.5zM162,9h6.5v3.5h-6.5zM171,9h3.5v3.5h-3.5zM129,12h3.5v3.5h-3.5zM135,12h6.5v3.5h-6.5zM156,12h3.5v3.5h-3.5zM162,12h6.5v3.5h-6.5zM171,12h3.5v3.5h-3.5zM117,15h3.5v3.5h-3.5zM123,15h3.5v3.5h-3.5zM132,15h9.5v3.5h-9.5zM150,15h3.5v3.5h-3.5zM159,15h3.5v3.5h-3.5zM174,15h3.5v3.5h-3.5zM111,18h3.5v3.5h-3.5zM117,18h3.5v3.5h-3.5zM135,18h3.5v3.5h-3.5zM141,18h3.5v3.5h-3.5zM153,18h3.5v3.5h-3.5zM177,18h3.5v3.5h-3.5zM108,21h3.5v3.5h-3.5zM114,21h3.5v3.5h-3.5zM123,21h3.5v3.5h-3.5zM129,21h3.5v3.5h-3.5zM135,21h6.5v3.5h-6.5zM147,21h6.5v3.5h-6.5zM156,21h3.5v3.5h-3.5zM162,21h15.5v3.5h-15.5zM102,24h6.5v3.5h-6.5zM111,24h6.5v3.5h-6.5zM123,24h3.5v3.5h-3.5zM138,24h3.5v3.5h-3.5zM159,24h6.5v3.5h-6.5zM168,24h3.5v3.5h-3.5zM102,27h3.5v3.5h-3.5zM114,27h9.5v3.5h-9.5zM147,27h3.5v3.5h-3.5zM171,27h3.5v3.5h-3.5zM87,30h6.5v3.5h-6.5zM99,30h3.5v3.5h-3.5zM114,30h15.5v3.5h-15.5zM150,30h3.5v3.5h-3.5zM96,33h3.5v3.5h-3.5zM105,33h3.5v3.5h-3.5zM93,36h3.5v3.5h-3.5zM99,36h3.5v3.5h-3.5zM108,36h3.5v3.5h-3.5zM93,39h3.5v3.5h-3.5zM99,39h6.5v3.5h-6.5zM90,42h3.5v3.5h-3.5zM102,42h9.5v3.5h-9.5zM3,63h3.5v3.5h-3.5zM6,66h3.5v3.5h-3.5zM6,69h6.5v3.5h-6.5zM18,75h3.5v3.5h-3.5zM174,90h3.5v3.5h-3.5zM114,93h6.5v3.5h-6.5zM174,93h3.5v3.5h-3.5zM105,96h3.5v3.5h-3.5zM114,96h3.5v3.5h-3.5zM177,96h3.5v3.5h-3.5zM24,99h3.5v3.5h-3.5zM114,99h3.5v3.5h-3.5zM120,99h9.5v3.5h-9.5zM21,102h3.5v3.5h-3.5zM33,102h3.5v3.5h-3.5zM102,102h3.5v3.5h-3.5zM126,102h3.5v3.5h-3.5zM171,102h3.5v3.5h-3.5zM177,102h3.5v3.5h-3.5zM18,105h3.5v3.5h-3.5zM99,105h3.5v3.5h-3.5zM15,108h6.5v3.5h-6.5zM39,108h3.5v3.5h-3.5zM96,108h6.5v3.5h-6.5zM135,108h3.5v3.5h-3.5zM30,111h6.5v3.5h-6.5zM93,111h3.5v3.5h-3.5zM102,111h3.5v3.5h-3.5zM126,111h3.5v3.5h-3.5zM174,111h3.5v3.5h-3.5zM24,114h6.5v3.5h-6.5zM42,114h3.5v3.5h-3.5zM99,114h3.5v3.5h-3.5zM120,114h3.5v3.5h-3.5zM12,117h3.5v3.5h-3.5zM18,117h6.5v3.5h-6.5zM72,117h3.5v3.5h-3.5zM120,117h3.5v3.5h-3.5zM132,117h3.5v3.5h-3.5zM177,117h3.5v3.5h-3.5zM9,120h3.5v3.5h-3.5zM15,120h3.5v3.5h-3.5zM24,120h3.5v3.5h-3.5zM51,120h3.5v3.5h-3.5zM105,120h3.5v3.5h-3.5zM120,120h6.5v3.5h-6.5zM174,120h3.5v3.5h-3.5zM6,123h3.5v3.5h-3.5zM15,123h6.5v3.5h-6.5zM48,123h6.5v3.5h-6.5zM105,123h3.5v3.5h-3.5zM123,123h3.5v3.5h-3.5zM132,123h6.5v3.5h-6.5zM177,123h3.5v3.5h-3.5zM0,126h3.5v3.5h-3.5zM9,126h3.5v3.5h-3.5zM126,126h3.5v3.5h-3.5zM135,126h9.5v3.5h-9.5zM0,129h3.5v3.5h-3.5zM6,129h3.5v3.5h-3.5zM15,129h3.5v3.5h-3.5zM54,129h3.5v3.5h-3.5zM105,129h3.5v3.5h-3.5zM135,129h3.5v3.5h-3.5zM141,129h6.5v3.5h-6.5zM0,132h6.5v3.5h-6.5zM57,132h3.5v3.5h-3.5zM102,132h6.5v3.5h-6.5zM129,132h3.5v3.5h-3.5zM141,132h12.5v3.5h-12.5zM0,135h12.5v3.5h-12.5zM15,135h3.5v3.5h-3.5zM102,135h6.5v3.5h-6.5zM123,135h3.5v3.5h-3.5zM132,135h3.5v3.5h-3.5zM138,135h6.5v3.5h-6.5zM6,138h3.5v3.5h-3.5zM99,138h3.5v3.5h-3.5zM105,138h3.5v3.5h-3.5zM123,138h3.5v3.5h-3.5zM132,138h6.5v3.5h-6.5zM147,138h3.5v3.5h-3.5zM153,138h3.5v3.5h-3.5zM3,141h3.5v3.5h-3.5zM96,141h6.5v3.5h-6.5zM108,141h3.5v3.5h-3.5zM126,141h9.5v3.5h-9.5zM147,141h3.5v3.5h-3.5zM156,141h3.5v3.5h-3.5zM0,144h3.5v3.5h-3.5zM96,144h3.5v3.5h-3.5zM102,144h3.5v3.5h-3.5zM132,144h3.5v3.5h-3.5zM156,144h3.5v3.5h-3.5zM0,147h3.5v3.5h-3.5zM102,147h3.5v3.5h-3.5zM111,147h3.5v3.5h-3.5zM123,147h3.5v3.5h-3.5zM132,147h3.5v3.5h-3.5zM144,147h6.5v3.5h-6.5zM153,147h3.5v3.5h-3.5zM162,147h3.5v3.5h-3.5z"/><path fill="#fca309" d="M147,0h3.5v3.5h-3.5zM162,0h3.5v3.5h-3.5zM168,0h3.5v3.5h-3.5zM132,3h3.5v3.5h-3.5zM159,3h3.5v3.5h-3.5zM165,6h3.5v3.5h-3.5zM177,6h3.5v3.5h-3.5zM117,12h6.5v3.5h-6.5zM153,12h3.5v3.5h-3.5zM159,12h3.5v3.5h-3.5zM147,15h3.5v3.5h-3.5zM156,15h3.5v3.5h-3.5zM162,15h3.5v3.5h-3.5zM168,15h3.5v3.5h-3.5zM108,18h3.5v3.5h-3.5zM138,18h3.5v3.5h-3.5zM144,18h3.5v3.5h-3.5zM165,18h6.5v3.5h-6.5zM174,18h3.5v3.5h-3.5zM117,21h3.5v3.5h-3.5zM126,21h3.5v3.5h-3.5zM87,24h3.5v3.5h-3.5zM108,24h3.5v3.5h-3.5zM120,24h3.5v3.5h-3.5zM129,24h3.5v3.5h-3.5zM141,24h3.5v3.5h-3.5zM174,24h6.5v3.5h-6.5zM126,27h3.5v3.5h-3.5zM135,27h3.5v3.5h-3.5zM102,30h3.5v3.5h-3.5zM129,30h3.5v3.5h-3.5zM147,30h3.5v3.5h-3.5zM93,33h3.5v3.5h-3.5zM99,33h3.5v3.5h-3.5zM147,33h3.5v3.5h-3.5zM153,33h6.5v3.5h-6.5zM96,36h3.5v3.5h-3.5zM0,63h3.5v3.5h-3.5zM12,72h3.5v3.5h-3.5zM24,93h3.5v3.5h-3.5zM108,96h3.5v3.5h-3.5zM123,96h3.5v3.5h-3.5zM174,96h3.5v3.5h-3.5zM102,99h3.5v3.5h-3.5zM108,99h3.5v3.5h-3.5zM117,99h3.5v3.5h-3.5zM129,99h3.5v3.5h-3.5zM174,99h3.5v3.5h-3.5zM18,102h3.5v3.5h-3.5zM24,102h9.5v3.5h-9.5zM111,102h3.5v3.5h-3.5zM174,102h3.5v3.5h-3.5zM15,105h3.5v3.5h-3.5zM27,105h6.5v3.5h-6.5zM111,105h3.5v3.5h-3.5zM126,105h3.5v3.5h-3.5zM177,105h3.5v3.5h-3.5zM12,108h3.5v3.5h-3.5zM177,108h3.5v3.5h-3.5zM12,111h6.5v3.5h-6.5zM21,111h3.5v3.5h-3.5zM18,114h3.5v3.5h-3.5zM30,114h6.5v3.5h-6.5zM123,114h3.5v3.5h-3.5zM129,114h3.5v3.5h-3.5zM42,117h3.5v3.5h-3.5zM126,117h3.5v3.5h-3.5zM6,120h3.5v3.5h-3.5zM27,120h3.5v3.5h-3.5zM3,123h3.5v3.5h-3.5zM9,123h6.5v3.5h-6.5zM54,123h3.5v3.5h-3.5zM126,123h6.5v3.5h-6.5zM174,123h3.5v3.5h-3.5zM3,126h6.5v3.5h-6.5zM54,126h6.5v3.5h-6.5zM105,126h3.5v3.5h-3.5zM120,126h6.5v3.5h-6.5zM129,126h3.5v3.5h-3.5zM21,129h3.5v3.5h-3.5zM99,129h3.5v3.5h-3.5zM120,129h3.5v3.5h-3.5zM126,129h3.5v3.5h-3.5zM132,129h3.5v3.5h-3.5zM147,129h3.5v3.5h-3.5zM12,132h3.5v3.5h-3.5zM54,132h3.5v3.5h-3.5zM126,132h3.5v3.5h-3.5zM12,135h3.5v3.5h-3.5zM99,135h3.5v3.5h-3.5zM120,135h3.5v3.5h-3.5zM147,135h3.5v3.5h-3.5zM153,135h3.5v3.5h-3.5zM111,138h3.5v3.5h-3.5zM120,138h3.5v3.5h-3.5zM126,138h3.5v3.5h-3.5zM144,138h3.5v3.5h-3.5zM6,141h3.5v3.5h-3.5zM111,141h3.5v3.5h-3.5zM120,141h3.5v3.5h-3.5zM138,141h3.5v3.5h-3.5zM153,141h3.5v3.5h-3.5zM99,144h3.5v3.5h-3.5zM120,144h12.5v3.5h-12.5zM135,144h3.5v3.5h-3.5zM108,147h3.5v3.5h-3.5zM120,147h3.5v3.5h-3.5zM135,147h3.5v3.5h-3.5zM150,147h3.5v3.5h-3.5z"/><path fill="#fcb014" d="M105,3h3.5v3.5h-3.5zM144,3h3.5v3.5h-3.5zM114,6h3.5v3.5h-3.5zM120,6h3.5v3.5h-3.5zM138,6h3.5v3.5h-3.5zM90,12h3.5v3.5h-3.5zM96,12h3.5v3.5h-3.5zM174,12h3.5v3.5h-3.5zM105,18h3.5v3.5h-3.5zM129,18h3.5v3.5h-3.5zM111,21h3.5v3.5h-3.5zM120,21h3.5v3.5h-3.5zM132,24h3.5v3.5h-3.5zM171,24h3.5v3.5h-3.5zM93,30h3.5v3.5h-3.5zM12,75h3.5v3.5h-3.5zM21,78h3.5v3.5h-3.5zM174,105h3.5v3.5h-3.5zM36,108h3.5v3.5h-3.5zM126,108h3.5v3.5h-3.5zM105,111h3.5v3.5h-3.5zM0,114h3.5v3.5h-3.5zM12,114h3.5v3.5h-3.5zM21,114h3.5v3.5h-3.5zM42,120h3.5v3.5h-3.5zM24,123h6.5v3.5h-6.5zM120,123h3.5v3.5h-3.5zM15,126h3.5v3.5h-3.5zM36,126h3.5v3.5h-3.5zM132,126h3.5v3.5h-3.5zM51,129h3.5v3.5h-3.5zM135,132h3.5v3.5h-3.5zM9,138h3.5v3.5h-3.5zM51,138h3.5v3.5h-3.5zM9,141h3.5v3.5h-3.5zM15,141h3.5v3.5h-3.5zM21,144h3.5v3.5h-3.5zM108,144h6.5v3.5h-6.5zM150,144h3.5v3.5h-3.5zM138,147h3.5v3.5h-3.5z"/><path fill="#fbbc21" d="M93,0h3.5v3.5h-3.5zM111,0h3.5v3.5h-3.5zM120,0h6.5v3.5h-6.5zM114,3h3.5v3.5h-3.5zM120,3h3.5v3.5h-3.5zM108,6h3.5v3.5h-3.5zM90,9h3.5v3.5h-3.5zM105,9h3.5v3.5h-3.5zM99,15h3.5v3.5h-3.5zM87,21h3.5v3.5h-3.5zM102,21h6.5v3.5h-6.5zM90,24h3.5v3.5h-3.5zM99,24h3.5v3.5h-3.5zM3,72h3.5v3.5h-3.5zM6,78h3.5v3.5h-3.5zM18,78h3.5v3.5h-3.5zM9,81h3.5v3.5h-3.5zM21,81h3.5v3.5h-3.5zM21,87h3.5v3.5h-3.5zM21,90h3.5v3.5h-3.5zM21,93h3.5v3.5h-3.5zM9,99h3.5v3.5h-3.5zM21,99h3.5v3.5h-3.5zM111,99h3.5v3.5h-3.5zM12,102h3.5v3.5h-3.5zM117,102h3.5v3.5h-3.5zM12,105h3.5v3.5h-3.5zM24,105h3.5v3.5h-3.5zM114,105h3.5v3.5h-3.5zM120,108h3.5v3.5h-3.5zM9,111h3.5v3.5h-3.5zM18,111h3.5v3.5h-3.5zM111,111h3.5v3.5h-3.5zM123,111h3.5v3.5h-3.5zM36,114h3.5v3.5h-3.5zM102,114h3.5v3.5h-3.5zM9,117h3.5v3.5h-3.5zM33,117h3.5v3.5h-3.5zM117,117h3.5v3.5h-3.5zM33,120h3.5v3.5h-3.5zM39,120h3.5v3.5h-3.5zM0,123h3.5v3.5h-3.5zM30,123h6.5v3.5h-6.5zM108,126h3.5v3.5h-3.5zM45,129h3.5v3.5h-3.5zM18,132h3.5v3.5h-3.5zM30,132h3.5v3.5h-3.5zM36,132h3.5v3.5h-3.5zM45,132h3.5v3.5h-3.5zM36,135h3.5v3.5h-3.5zM51,135h3.5v3.5h-3.5zM108,135h3.5v3.5h-3.5zM12,138h6.5v3.5h-6.5zM30,138h3.5v3.5h-3.5zM42,138h3.5v3.5h-3.5zM42,141h3.5v3.5h-3.5zM51,141h3.5v3.5h-3.5zM117,141h3.5v3.5h-3.5zM6,144h3.5v3.5h-3.5zM24,144h3.5v3.5h-3.5zM45,144h3.5v3.5h-3.5zM117,144h3.5v3.5h-3.5zM9,147h3.5v3.5h-3.5zM30,147h3.5v3.5h-3.5zM45,147h3.5v3.5h-3.5zM105,147h3.5v3.5h-3.5z"/><path fill="#f9c932" d="M96,0h3.5v3.5h-3.5zM108,0h3.5v3.5h-3.5zM90,3h3.5v3.5h-3.5zM99,3h3.5v3.5h-3.5zM123,3h3.5v3.5h-3.5zM90,6h15.5v3.5h-15.5zM117,6h3.5v3.5h-3.5zM93,9h9.5v3.5h-9.5zM108,9h12.5v3.5h-12.5zM102,12h6.5v3.5h-6.5zM111,12h3.5v3.5h-3.5zM90,15h3.5v3.5h-3.5zM90,18h3.5v3.5h-3.5zM99,18h6.5v3.5h-6.5zM93,21h3.5v3.5h-3.5zM99,21h3.5v3.5h-3.5zM93,24h3.5v3.5h-3.5zM90,27h3.5v3.5h-3.5zM99,27h3.5v3.5h-3.5zM0,66h6.5v3.5h-6.5zM3,69h3.5v3.5h-3.5zM0,72h3.5v3.5h-3.5zM6,72h3.5v3.5h-3.5zM3,78h3.5v3.5h-3.5zM9,78h3.5v3.5h-3.5zM15,78h3.5v3.5h-3.5zM0,81h3.5v3.5h-3.5zM15,84h3.5v3.5h-3.5zM21,84h3.5v3.5h-3.5zM6,87h6.5v3.5h-6.5zM15,87h6.5v3.5h-6.5zM9,90h6.5v3.5h-6.5zM3,93h3.5v3.5h-3.5zM3,96h3.5v3.5h-3.5zM15,96h9.5v3.5h-9.5zM6,99h3.5v3.5h-3.5zM18,99h3.5v3.5h-3.5zM0,102h12.5v3.5h-12.5zM120,102h3.5v3.5h-3.5zM117,105h9.5v3.5h-9.5zM0,108h3.5v3.5h-3.5zM6,108h6.5v3.5h-6.5zM111,108h3.5v3.5h-3.5zM108,111h3.5v3.5h-3.5zM120,111h3.5v3.5h-3.5zM105,114h9.5v3.5h-9.5zM3,117h6.5v3.5h-6.5zM36,117h3.5v3.5h-3.5zM105,117h9.5v3.5h-9.5zM30,120h3.5v3.5h-3.5zM45,120h3.5v3.5h-3.5zM36,123h3.5v3.5h-3.5zM108,123h3.5v3.5h-3.5zM24,126h3.5v3.5h-3.5zM39,126h3.5v3.5h-3.5zM45,126h3.5v3.5h-3.5zM51,126h3.5v3.5h-3.5zM111,126h3.5v3.5h-3.5zM24,129h9.5v3.5h-9.5zM39,129h3.5v3.5h-3.5zM48,129h3.5v3.5h-3.5zM108,129h3.5v3.5h-3.5zM117,129h3.5v3.5h-3.5zM27,132h3.5v3.5h-3.5zM42,132h3.5v3.5h-3.5zM51,132h3.5v3.5h-3.5zM108,132h3.5v3.5h-3.5zM117,132h3.5v3.5h-3.5zM24,135h9.5v3.5h-9.5zM45,135h3.5v3.5h-3.5zM114,135h3.5v3.5h-3.5zM27,138h3.5v3.5h-3.5zM36,138h3.5v3.5h-3.5zM48,138h3.5v3.5h-3.5zM114,138h6.5v3.5h-6.5zM27,141h3.5v3.5h-3.5zM45,141h6.5v3.5h-6.5zM114,141h3.5v3.5h-3.5zM15,144h3.5v3.5h-3.5zM114,144h3.5v3.5h-3.5zM24,147h6.5v3.5h-6.5zM39,147h3.5v3.5h-3.5zM114,147h3.5v3.5h-3.5z"/><path fill="#f6d543" d="M90,0h3.5v3.5h-3.5zM102,0h6.5v3.5h-6.5zM114,0h6.5v3.5h-6.5zM93,3h6.5v3.5h-6.5zM102,3h3.5v3.5h-3.5zM108,3h6.5v3.5h-6.5zM117,3h3.5v3.5h-3.5zM111,6h3.5v3.5h-3.5zM102,9h3.5v3.5h-3.5zM93,12h3.5v3.5h-3.5zM108,12h3.5v3.5h-3.5zM93,15h6.5v3.5h-6.5zM102,15h12.5v3.5h-12.5zM93,18h6.5v3.5h-6.5zM90,21h3.5v3.5h-3.5zM96,21h3.5v3.5h-3.5zM96,27h3.5v3.5h-3.5zM9,72h3.5v3.5h-3.5zM0,75h3.5v3.5h-3.5zM3,81h6.5v3.5h-6.5zM15,81h6.5v3.5h-6.5zM0,84h12.5v3.5h-12.5zM18,84h3.5v3.5h-3.5zM0,87h6.5v3.5h-6.5zM0,90h6.5v3.5h-6.5zM15,90h6.5v3.5h-6.5zM0,93h3.5v3.5h-3.5zM6,93h3.5v3.5h-3.5zM12,93h9.5v3.5h-9.5zM0,96h3.5v3.5h-3.5zM6,96h6.5v3.5h-6.5zM0,99h6.5v3.5h-6.5zM12,99h6.5v3.5h-6.5zM15,102h3.5v3.5h-3.5zM114,102h3.5v3.5h-3.5zM123,102h3.5v3.5h-3.5zM3,105h9.5v3.5h-9.5zM3,108h3.5v3.5h-3.5zM108,108h3.5v3.5h-3.5zM117,108h3.5v3.5h-3.5zM123,108h3.5v3.5h-3.5zM0,111h9.5v3.5h-9.5zM114,111h6.5v3.5h-6.5zM9,114h3.5v3.5h-3.5zM39,114h3.5v3.5h-3.5zM114,114h3.5v3.5h-3.5zM0,117h3.5v3.5h-3.5zM39,117h3.5v3.5h-3.5zM102,117h3.5v3.5h-3.5zM114,117h3.5v3.5h-3.5zM0,120h6.5v3.5h-6.5zM36,120h3.5v3.5h-3.5zM108,120h12.5v3.5h-12.5zM39,123h3.5v3.5h-3.5zM45,123h3.5v3.5h-3.5zM111,123h9.5v3.5h-9.5zM30,126h6.5v3.5h-6.5zM48,126h3.5v3.5h-3.5zM114,126h6.5v3.5h-6.5zM33,129h6.5v3.5h-6.5zM42,129h3.5v3.5h-3.5zM111,129h6.5v3.5h-6.5zM24,132h3.5v3.5h-3.5zM33,132h3.5v3.5h-3.5zM39,132h3.5v3.5h-3.5zM111,132h6.5v3.5h-6.5zM18,135h3.5v3.5h-3.5zM39,135h6.5v3.5h-6.5zM48,135h3.5v3.5h-3.5zM111,135h3.5v3.5h-3.5zM117,135h3.5v3.5h-3.5zM18,138h9.5v3.5h-9.5zM45,138h3.5v3.5h-3.5zM12,141h3.5v3.5h-3.5zM18,141h9.5v3.5h-9.5zM30,141h6.5v3.5h-6.5zM39,141h3.5v3.5h-3.5zM9,144h3.5v3.5h-3.5zM18,144h3.5v3.5h-3.5zM27,144h3.5v3.5h-3.5zM33,144h12.5v3.5h-12.5zM6,147h3.5v3.5h-3.5zM12,147h6.5v3.5h-6.5zM21,147h3.5v3.5h-3.5zM33,147h3.5v3.5h-3.5zM42,147h3.5v3.5h-3.5zM117,147h3.5v3.5h-3.5z"/><path fill="#f3e35a" d="M99,0h3.5v3.5h-3.5zM105,6h3.5v3.5h-3.5zM96,24h3.5v3.5h-3.5zM93,27h3.5v3.5h-3.5zM0,69h3.5v3.5h-3.5zM3,75h9.5v3.5h-9.5zM0,78h3.5v3.5h-3.5zM12,78h3.5v3.5h-3.5zM12,81h3.5v3.5h-3.5zM12,84h3.5v3.5h-3.5zM12,87h3.5v3.5h-3.5zM6,90h3.5v3.5h-3.5zM9,93h3.5v3.5h-3.5zM12,96h3.5v3.5h-3.5zM0,105h3.5v3.5h-3.5zM114,108h3.5v3.5h-3.5zM3,114h6.5v3.5h-6.5zM117,114h3.5v3.5h-3.5zM42,123h3.5v3.5h-3.5zM27,126h3.5v3.5h-3.5zM42,126h3.5v3.5h-3.5zM21,132h3.5v3.5h-3.5zM48,132h3.5v3.5h-3.5zM21,135h3.5v3.5h-3.5zM33,135h3.5v3.5h-3.5zM33,138h3.5v3.5h-3.5zM39,138h3.5v3.5h-3.5zM36,141h3.5v3.5h-3.5zM12,144h3.5v3.5h-3.5zM30,144h3.5v3.5h-3.5zM18,147h3.5v3.5h-3.5zM36,147h3.5v3.5h-3.5z"/><path fill="#f1ed71" d="M99,12h3.5v3.5h-3.5z"/></g><use href="#lines"/><use href="#grid"/></g><rect width="180.0" height="150.0" fill="none" stroke="#222" stroke-width="0.85"/></g><rect x="21.45" y="184.0" width="180.0" height="7.4" fill="url(#ginf)" stroke="#222" stroke-width="0.8"/><line x1="25.50" x2="25.50" y1="191.4" y2="194.0" stroke="#222" stroke-width="0.8"/><text x="25.50" y="204.60" font-size="11.02" text-anchor="middle" textLength="6.62" lengthAdjust="spacing" fill="#000">5</text><line x1="69.49" x2="69.49" y1="191.4" y2="194.0" stroke="#222" stroke-width="0.8"/><text x="69.49" y="204.60" font-size="11.02" text-anchor="middle" textLength="13.23" lengthAdjust="spacing" fill="#000">10</text><line x1="113.47" x2="113.47" y1="191.4" y2="194.0" stroke="#222" stroke-width="0.8"/><text x="113.47" y="204.60" font-size="11.02" text-anchor="middle" textLength="13.23" lengthAdjust="spacing" fill="#000">15</text><line x1="157.46" x2="157.46" y1="191.4" y2="194.0" stroke="#222" stroke-width="0.8"/><text x="157.46" y="204.60" font-size="11.02" text-anchor="middle" textLength="13.23" lengthAdjust="spacing" fill="#000">20</text><line x1="201.45" x2="201.45" y1="191.4" y2="194.0" stroke="#222" stroke-width="0.8"/><text x="201.45" y="204.60" font-size="11.02" text-anchor="middle" textLength="13.23" lengthAdjust="spacing" fill="#000">25</text><text x="111.45" y="217.40" font-size="10.60" text-anchor="middle" textLength="93.00" lengthAdjust="spacing" fill="#000">Temperature ( °C)</text><g transform="translate(262.45,18.45)"><g clip-path="url(#fc)"><rect width="180.0" height="150.0" fill="#fff"/><use href="#sea"/><g clip-path="url(#ec)"><path fill="#1a1aff" d="M90,24h3.5v3.5h-3.5zM87,30h3.5v3.5h-3.5zM87,60h3.5v3.5h-3.5zM84,69h3.5v3.5h-3.5z"/><path fill="#2626ff" d="M87,21h3.5v3.5h-3.5zM87,24h3.5v3.5h-3.5zM93,24h3.5v3.5h-3.5zM87,27h3.5v3.5h-3.5zM90,30h3.5v3.5h-3.5zM87,33h3.5v3.5h-3.5zM87,39h3.5v3.5h-3.5zM87,54h3.5v3.5h-3.5zM87,57h3.5v3.5h-3.5zM84,60h3.5v3.5h-3.5zM87,66h3.5v3.5h-3.5z"/><path fill="#3434ff" d="M87,18h3.5v3.5h-3.5zM90,21h3.5v3.5h-3.5zM90,27h6.5v3.5h-6.5zM93,30h3.5v3.5h-3.5zM87,36h3.5v3.5h-3.5zM87,42h3.5v3.5h-3.5zM87,45h3.5v3.5h-3.5zM84,54h3.5v3.5h-3.5zM87,63h3.5v3.5h-3.5zM84,66h3.5v3.5h-3.5z"/><path fill="#4040ff" d="M87,0h3.5v3.5h-3.5zM90,6h3.5v3.5h-3.5zM93,15h3.5v3.5h-3.5zM84,24h3.5v3.5h-3.5zM84,33h3.5v3.5h-3.5zM90,33h3.5v3.5h-3.5zM90,36h3.5v3.5h-3.5zM90,42h3.5v3.5h-3.5zM84,45h3.5v3.5h-3.5zM84,48h3.5v3.5h-3.5zM84,51h3.5v3.5h-3.5zM84,57h3.5v3.5h-3.5zM84,63h3.5v3.5h-3.5zM81,75h3.5v3.5h-3.5z"/><path fill="#4e4eff" d="M108,0h3.5v3.5h-3.5zM87,3h3.5v3.5h-3.5zM93,3h3.5v3.5h-3.5zM99,3h6.5v3.5h-6.5zM96,6h6.5v3.5h-6.5zM96,9h3.5v3.5h-3.5zM87,12h9.5v3.5h-9.5zM90,15h3.5v3.5h-3.5zM90,18h6.5v3.5h-6.5zM84,21h3.5v3.5h-3.5zM84,27h3.5v3.5h-3.5zM84,30h3.5v3.5h-3.5zM93,33h3.5v3.5h-3.5zM87,48h3.5v3.5h-3.5zM87,51h3.5v3.5h-3.5zM90,63h6.5v3.5h-6.5zM87,69h3.5v3.5h-3.5zM78,72h3.5v3.5h-3.5z"/><path fill="#5a5aff" d="M84,0h3.5v3.5h-3.5zM90,0h6.5v3.5h-6.5zM99,0h9.5v3.5h-9.5zM96,3h3.5v3.5h-3.5zM105,3h9.5v3.5h-9.5zM93,6h3.5v3.5h-3.5zM102,6h6.5v3.5h-6.5zM90,9h6.5v3.5h-6.5zM99,9h3.5v3.5h-3.5zM84,12h3.5v3.5h-3.5zM96,12h3.5v3.5h-3.5zM87,15h3.5v3.5h-3.5zM96,15h3.5v3.5h-3.5zM93,21h3.5v3.5h-3.5zM84,36h3.5v3.5h-3.5zM90,39h6.5v3.5h-6.5zM84,42h3.5v3.5h-3.5zM93,42h3.5v3.5h-3.5zM90,45h6.5v3.5h-6.5zM90,48h3.5v3.5h-3.5zM90,60h6.5v3.5h-6.5zM81,72h3.5v3.5h-3.5zM102,78h3.5v3.5h-3.5zM102,81h3.5v3.5h-3.5z"/><path fill="#6868ff" d="M96,0h3.5v3.5h-3.5zM111,0h3.5v3.5h-3.5zM90,3h3.5v3.5h-3.5zM87,6h3.5v3.5h-3.5zM87,9h3.5v3.5h-3.5zM102,9h6.5v3.5h-6.5zM84,18h3.5v3.5h-3.5zM93,36h3.5v3.5h-3.5zM84,39h3.5v3.5h-3.5zM90,51h3.5v3.5h-3.5zM90,57h6.5v3.5h-6.5zM87,72h3.5v3.5h-3.5zM78,75h3.5v3.5h-3.5zM84,75h3.5v3.5h-3.5zM105,81h3.5v3.5h-3.5z"/><path fill="#7676ff" d="M84,6h3.5v3.5h-3.5zM84,9h3.5v3.5h-3.5zM99,12h3.5v3.5h-3.5zM84,15h3.5v3.5h-3.5zM99,15h3.5v3.5h-3.5zM93,48h3.5v3.5h-3.5zM93,51h3.5v3.5h-3.5zM90,54h3.5v3.5h-3.5zM90,69h3.5v3.5h-3.5zM84,72h3.5v3.5h-3.5zM105,78h3.5v3.5h-3.5zM99,81h3.5v3.5h-3.5zM99,84h3.5v3.5h-3.5zM18,87h3.5v3.5h-3.5zM96,87h6.5v3.5h-6.5zM96,90h3.5v3.5h-3.5zM102,90h6.5v3.5h-6.5zM93,102h3.5v3.5h-3.5zM84,105h3.5v3.5h-3.5zM18,132h3.5v3.5h-3.5zM12,144h3.5v3.5h-3.5z"/><path fill="#8282ff" d="M84,3h3.5v3.5h-3.5zM96,21h3.5v3.5h-3.5zM96,24h3.5v3.5h-3.5zM96,33h3.5v3.5h-3.5zM93,54h3.5v3.5h-3.5zM96,63h3.5v3.5h-3.5zM90,66h3.5v3.5h-3.5zM87,75h3.5v3.5h-3.5zM81,78h3.5v3.5h-3.5zM93,78h9.5v3.5h-9.5zM90,81h3.5v3.5h-3.5zM96,81h3.5v3.5h-3.5zM96,84h3.5v3.5h-3.5zM105,84h6.5v3.5h-6.5zM102,87h3.5v3.5h-3.5zM108,87h6.5v3.5h-6.5zM99,90h3.5v3.5h-3.5zM108,90h3.5v3.5h-3.5zM18,93h6.5v3.5h-6.5zM90,93h6.5v3.5h-6.5zM102,93h6.5v3.5h-6.5zM105,96h3.5v3.5h-3.5zM90,102h3.5v3.5h-3.5zM87,105h3.5v3.5h-3.5zM90,108h3.5v3.5h-3.5zM99,108h9.5v3.5h-9.5zM93,111h3.5v3.5h-3.5zM36,114h6.5v3.5h-6.5zM36,117h3.5v3.5h-3.5zM96,117h3.5v3.5h-3.5zM87,120h3.5v3.5h-3.5zM96,120h3.5v3.5h-3.5zM96,123h3.5v3.5h-3.5zM102,123h6.5v3.5h-6.5zM24,126h9.5v3.5h-9.5zM24,129h6.5v3.5h-6.5zM27,132h3.5v3.5h-3.5zM21,135h3.5v3.5h-3.5zM6,147h3.5v3.5h-3.5zM12,147h3.5v3.5h-3.5z"/><path fill="#9090ff" d="M114,0h3.5v3.5h-3.5zM108,9h3.5v3.5h-3.5zM96,27h3.5v3.5h-3.5zM99,30h3.5v3.5h-3.5zM126,54h3.5v3.5h-3.5zM99,57h3.5v3.5h-3.5zM96,60h6.5v3.5h-6.5zM81,69h3.5v3.5h-3.5zM0,78h3.5v3.5h-3.5zM84,78h3.5v3.5h-3.5zM90,78h3.5v3.5h-3.5zM108,78h6.5v3.5h-6.5zM108,81h3.5v3.5h-3.5zM0,84h3.5v3.5h-3.5zM12,84h3.5v3.5h-3.5zM90,84h6.5v3.5h-6.5zM102,84h3.5v3.5h-3.5zM111,84h6.5v3.5h-6.5zM9,87h3.5v3.5h-3.5zM90,87h6.5v3.5h-6.5zM105,87h3.5v3.5h-3.5zM114,87h6.5v3.5h-6.5zM18,90h6.5v3.5h-6.5zM99,93h3.5v3.5h-3.5zM108,93h6.5v3.5h-6.5zM21,96h3.5v3.5h-3.5zM96,96h3.5v3.5h-3.5zM6,99h3.5v3.5h-3.5zM15,99h3.5v3.5h-3.5zM21,99h3.5v3.5h-3.5zM84,102h6.5v3.5h-6.5zM0,105h3.5v3.5h-3.5zM90,105h6.5v3.5h-6.5zM120,105h3.5v3.5h-3.5zM87,108h3.5v3.5h-3.5zM93,108h3.5v3.5h-3.5zM90,111h3.5v3.5h-3.5zM96,111h3.5v3.5h-3.5zM102,111h3.5v3.5h-3.5zM90,114h6.5v3.5h-6.5zM39,117h3.5v3.5h-3.5zM75,117h3.5v3.5h-3.5zM84,117h3.5v3.5h-3.5zM90,117h3.5v3.5h-3.5zM108,117h3.5v3.5h-3.5zM39,120h3.5v3.5h-3.5zM99,120h6.5v3.5h-6.5zM30,123h3.5v3.5h-3.5zM33,126h3.5v3.5h-3.5zM105,126h3.5v3.5h-3.5zM6,129h3.5v3.5h-3.5zM108,132h3.5v3.5h-3.5zM114,132h3.5v3.5h-3.5zM27,135h3.5v3.5h-3.5zM99,135h3.5v3.5h-3.5zM21,138h3.5v3.5h-3.5zM117,138h3.5v3.5h-3.5zM15,141h9.5v3.5h-9.5zM111,141h3.5v3.5h-3.5zM6,144h6.5v3.5h-6.5zM15,144h3.5v3.5h-3.5zM102,144h3.5v3.5h-3.5zM123,144h3.5v3.5h-3.5zM9,147h3.5v3.5h-3.5zM15,147h3.5v3.5h-3.5zM102,147h3.5v3.5h-3.5zM111,147h6.5v3.5h-6.5z"/><path fill="#9c9cff" d="M114,3h9.5v3.5h-9.5zM108,6h3.5v3.5h-3.5zM117,9h3.5v3.5h-3.5zM102,12h6.5v3.5h-6.5zM102,15h3.5v3.5h-3.5zM108,15h3.5v3.5h-3.5zM102,18h3.5v3.5h-3.5zM102,21h6.5v3.5h-6.5zM96,30h3.5v3.5h-3.5zM102,30h3.5v3.5h-3.5zM99,33h3.5v3.5h-3.5zM105,33h3.5v3.5h-3.5zM102,36h3.5v3.5h-3.5zM96,39h3.5v3.5h-3.5zM96,45h3.5v3.5h-3.5zM108,45h3.5v3.5h-3.5zM141,45h3.5v3.5h-3.5zM96,48h3.5v3.5h-3.5zM96,51h3.5v3.5h-3.5zM126,51h6.5v3.5h-6.5zM96,54h3.5v3.5h-3.5zM96,57h3.5v3.5h-3.5zM126,57h3.5v3.5h-3.5zM108,60h3.5v3.5h-3.5zM120,60h3.5v3.5h-3.5zM99,63h3.5v3.5h-3.5zM123,63h3.5v3.5h-3.5zM93,66h3.5v3.5h-3.5zM93,69h3.5v3.5h-3.5zM0,72h6.5v3.5h-6.5zM105,72h3.5v3.5h-3.5zM6,75h3.5v3.5h-3.5zM93,75h3.5v3.5h-3.5zM99,75h3.5v3.5h-3.5zM105,75h3.5v3.5h-3.5zM9,78h3.5v3.5h-3.5zM93,81h3.5v3.5h-3.5zM111,81h6.5v3.5h-6.5zM120,81h3.5v3.5h-3.5zM6,84h6.5v3.5h-6.5zM18,84h6.5v3.5h-6.5zM84,84h6.5v3.5h-6.5zM117,84h3.5v3.5h-3.5zM0,87h3.5v3.5h-3.5zM21,87h3.5v3.5h-3.5zM87,87h3.5v3.5h-3.5zM0,90h3.5v3.5h-3.5zM6,90h3.5v3.5h-3.5zM12,90h3.5v3.5h-3.5zM87,90h9.5v3.5h-9.5zM111,90h6.5v3.5h-6.5zM6,93h3.5v3.5h-3.5zM15,96h6.5v3.5h-6.5zM87,96h3.5v3.5h-3.5zM18,99h3.5v3.5h-3.5zM87,99h3.5v3.5h-3.5zM93,99h3.5v3.5h-3.5zM108,99h3.5v3.5h-3.5zM123,99h3.5v3.5h-3.5zM6,102h3.5v3.5h-3.5zM15,102h3.5v3.5h-3.5zM24,102h3.5v3.5h-3.5zM3,105h3.5v3.5h-3.5zM9,105h3.5v3.5h-3.5zM96,105h3.5v3.5h-3.5zM117,105h3.5v3.5h-3.5zM123,105h3.5v3.5h-3.5zM3,108h6.5v3.5h-6.5zM27,108h3.5v3.5h-3.5zM84,108h3.5v3.5h-3.5zM96,108h3.5v3.5h-3.5zM111,108h3.5v3.5h-3.5zM18,111h6.5v3.5h-6.5zM36,111h3.5v3.5h-3.5zM84,111h6.5v3.5h-6.5zM99,111h3.5v3.5h-3.5zM105,111h3.5v3.5h-3.5zM111,111h3.5v3.5h-3.5zM117,111h3.5v3.5h-3.5zM12,114h3.5v3.5h-3.5zM24,114h3.5v3.5h-3.5zM96,114h3.5v3.5h-3.5zM105,114h3.5v3.5h-3.5zM3,117h3.5v3.5h-3.5zM9,117h6.5v3.5h-6.5zM18,117h3.5v3.5h-3.5zM27,117h3.5v3.5h-3.5zM81,117h3.5v3.5h-3.5zM87,117h3.5v3.5h-3.5zM93,117h3.5v3.5h-3.5zM99,117h3.5v3.5h-3.5zM114,117h3.5v3.5h-3.5zM0,120h6.5v3.5h-6.5zM24,120h3.5v3.5h-3.5zM30,120h3.5v3.5h-3.5zM36,120h3.5v3.5h-3.5zM75,120h3.5v3.5h-3.5zM81,120h3.5v3.5h-3.5zM93,120h3.5v3.5h-3.5zM105,120h3.5v3.5h-3.5zM3,123h3.5v3.5h-3.5zM21,123h3.5v3.5h-3.5zM33,123h9.5v3.5h-9.5zM75,123h3.5v3.5h-3.5zM93,123h3.5v3.5h-3.5zM114,123h6.5v3.5h-6.5zM9,126h3.5v3.5h-3.5zM99,126h3.5v3.5h-3.5zM111,126h12.5v3.5h-12.5zM9,129h3.5v3.5h-3.5zM33,129h3.5v3.5h-3.5zM96,129h3.5v3.5h-3.5zM111,129h3.5v3.5h-3.5zM6,132h3.5v3.5h-3.5zM12,132h3.5v3.5h-3.5zM21,132h6.5v3.5h-6.5zM9,135h6.5v3.5h-6.5zM18,135h3.5v3.5h-3.5zM24,135h3.5v3.5h-3.5zM6,138h15.5v3.5h-15.5zM90,138h3.5v3.5h-3.5zM96,138h3.5v3.5h-3.5zM114,138h3.5v3.5h-3.5zM120,138h3.5v3.5h-3.5zM0,141h3.5v3.5h-3.5zM6,141h3.5v3.5h-3.5zM12,141h3.5v3.5h-3.5zM120,141h3.5v3.5h-3.5zM126,141h3.5v3.5h-3.5zM111,144h6.5v3.5h-6.5zM3,147h3.5v3.5h-3.5z"/><path fill="#aaaaff" d="M117,0h6.5v3.5h-6.5zM144,0h3.5v3.5h-3.5zM123,3h3.5v3.5h-3.5zM159,3h3.5v3.5h-3.5zM111,6h12.5v3.5h-12.5zM129,6h3.5v3.5h-3.5zM168,6h3.5v3.5h-3.5zM129,9h3.5v3.5h-3.5zM141,9h3.5v3.5h-3.5zM168,9h3.5v3.5h-3.5zM108,12h6.5v3.5h-6.5zM129,12h3.5v3.5h-3.5zM138,12h3.5v3.5h-3.5zM171,12h3.5v3.5h-3.5zM105,15h3.5v3.5h-3.5zM96,18h6.5v3.5h-6.5zM105,18h3.5v3.5h-3.5zM141,18h3.5v3.5h-3.5zM150,18h3.5v3.5h-3.5zM99,21h3.5v3.5h-3.5zM105,30h3.5v3.5h-3.5zM102,33h3.5v3.5h-3.5zM129,33h3.5v3.5h-3.5zM138,33h3.5v3.5h-3.5zM99,36h3.5v3.5h-3.5zM132,36h3.5v3.5h-3.5zM99,39h3.5v3.5h-3.5zM138,39h3.5v3.5h-3.5zM96,42h9.5v3.5h-9.5zM141,42h6.5v3.5h-6.5zM126,45h3.5v3.5h-3.5zM126,48h3.5v3.5h-3.5zM135,48h3.5v3.5h-3.5zM99,51h3.5v3.5h-3.5zM132,51h6.5v3.5h-6.5zM99,54h3.5v3.5h-3.5zM129,54h3.5v3.5h-3.5zM120,57h6.5v3.5h-6.5zM129,57h3.5v3.5h-3.5zM102,60h6.5v3.5h-6.5zM111,60h3.5v3.5h-3.5zM138,60h3.5v3.5h-3.5zM42,63h6.5v3.5h-6.5zM102,63h3.5v3.5h-3.5zM117,63h3.5v3.5h-3.5zM3,66h3.5v3.5h-3.5zM42,66h6.5v3.5h-6.5zM81,66h3.5v3.5h-3.5zM96,66h3.5v3.5h-3.5zM135,66h3.5v3.5h-3.5zM3,69h3.5v3.5h-3.5zM42,69h6.5v3.5h-6.5zM102,69h3.5v3.5h-3.5zM126,69h3.5v3.5h-3.5zM6,72h3.5v3.5h-3.5zM48,72h3.5v3.5h-3.5zM90,72h12.5v3.5h-12.5zM108,72h6.5v3.5h-6.5zM3,75h3.5v3.5h-3.5zM12,75h3.5v3.5h-3.5zM90,75h3.5v3.5h-3.5zM96,75h3.5v3.5h-3.5zM102,75h3.5v3.5h-3.5zM108,75h3.5v3.5h-3.5zM3,78h6.5v3.5h-6.5zM114,78h9.5v3.5h-9.5zM3,81h6.5v3.5h-6.5zM87,81h3.5v3.5h-3.5zM117,81h3.5v3.5h-3.5zM123,81h3.5v3.5h-3.5zM6,87h3.5v3.5h-3.5zM12,87h6.5v3.5h-6.5zM9,90h3.5v3.5h-3.5zM24,90h3.5v3.5h-3.5zM84,90h3.5v3.5h-3.5zM117,90h6.5v3.5h-6.5zM9,93h9.5v3.5h-9.5zM24,93h3.5v3.5h-3.5zM96,93h3.5v3.5h-3.5zM114,93h3.5v3.5h-3.5zM0,96h9.5v3.5h-9.5zM12,96h3.5v3.5h-3.5zM99,96h6.5v3.5h-6.5zM108,96h6.5v3.5h-6.5zM117,96h9.5v3.5h-9.5zM0,99h3.5v3.5h-3.5zM9,99h6.5v3.5h-6.5zM90,99h3.5v3.5h-3.5zM102,99h6.5v3.5h-6.5zM111,99h3.5v3.5h-3.5zM117,99h3.5v3.5h-3.5zM3,102h3.5v3.5h-3.5zM96,102h3.5v3.5h-3.5zM111,102h6.5v3.5h-6.5zM120,102h9.5v3.5h-9.5zM6,105h3.5v3.5h-3.5zM18,105h3.5v3.5h-3.5zM36,105h3.5v3.5h-3.5zM99,105h3.5v3.5h-3.5zM105,105h3.5v3.5h-3.5zM18,108h3.5v3.5h-3.5zM30,108h3.5v3.5h-3.5zM36,108h3.5v3.5h-3.5zM108,108h3.5v3.5h-3.5zM114,108h6.5v3.5h-6.5zM0,111h3.5v3.5h-3.5zM9,111h3.5v3.5h-3.5zM24,111h3.5v3.5h-3.5zM30,111h6.5v3.5h-6.5zM39,111h6.5v3.5h-6.5zM108,111h3.5v3.5h-3.5zM0,114h3.5v3.5h-3.5zM6,114h3.5v3.5h-3.5zM15,114h6.5v3.5h-6.5zM27,114h9.5v3.5h-9.5zM75,114h6.5v3.5h-6.5zM87,114h3.5v3.5h-3.5zM99,114h6.5v3.5h-6.5zM111,114h3.5v3.5h-3.5zM15,117h3.5v3.5h-3.5zM24,117h3.5v3.5h-3.5zM42,117h6.5v3.5h-6.5zM78,117h3.5v3.5h-3.5zM102,117h3.5v3.5h-3.5zM111,117h3.5v3.5h-3.5zM18,120h6.5v3.5h-6.5zM27,120h3.5v3.5h-3.5zM33,120h3.5v3.5h-3.5zM48,120h3.5v3.5h-3.5zM78,120h3.5v3.5h-3.5zM84,120h3.5v3.5h-3.5zM90,120h3.5v3.5h-3.5zM6,123h9.5v3.5h-9.5zM18,123h3.5v3.5h-3.5zM27,123h3.5v3.5h-3.5zM78,123h3.5v3.5h-3.5zM87,123h6.5v3.5h-6.5zM99,123h3.5v3.5h-3.5zM108,123h6.5v3.5h-6.5zM120,123h3.5v3.5h-3.5zM0,126h6.5v3.5h-6.5zM15,126h3.5v3.5h-3.5zM21,126h3.5v3.5h-3.5zM48,126h3.5v3.5h-3.5zM84,126h3.5v3.5h-3.5zM93,126h6.5v3.5h-6.5zM3,129h3.5v3.5h-3.5zM18,129h3.5v3.5h-3.5zM42,129h3.5v3.5h-3.5zM48,129h6.5v3.5h-6.5zM84,129h3.5v3.5h-3.5zM102,129h6.5v3.5h-6.5zM3,132h3.5v3.5h-3.5zM15,132h3.5v3.5h-3.5zM48,132h3.5v3.5h-3.5zM102,132h3.5v3.5h-3.5zM111,132h3.5v3.5h-3.5zM120,132h3.5v3.5h-3.5zM0,135h9.5v3.5h-9.5zM90,135h6.5v3.5h-6.5zM102,135h3.5v3.5h-3.5zM114,135h3.5v3.5h-3.5zM123,135h3.5v3.5h-3.5zM129,135h3.5v3.5h-3.5zM93,138h3.5v3.5h-3.5zM99,138h6.5v3.5h-6.5zM108,138h6.5v3.5h-6.5zM3,141h3.5v3.5h-3.5zM9,141h3.5v3.5h-3.5zM93,141h15.5v3.5h-15.5zM114,141h6.5v3.5h-6.5zM123,141h3.5v3.5h-3.5zM129,141h3.5v3.5h-3.5zM3,144h3.5v3.5h-3.5zM21,144h3.5v3.5h-3.5zM99,144h3.5v3.5h-3.5zM105,144h6.5v3.5h-6.5zM117,144h6.5v3.5h-6.5zM126,144h3.5v3.5h-3.5zM0,147h3.5v3.5h-3.5zM105,147h3.5v3.5h-3.5zM117,147h3.5v3.5h-3.5z"/><path fill="#b6b6ff" d="M126,0h6.5v3.5h-6.5zM153,0h3.5v3.5h-3.5zM177,0h3.5v3.5h-3.5zM147,3h3.5v3.5h-3.5zM153,3h3.5v3.5h-3.5zM168,3h3.5v3.5h-3.5zM123,6h3.5v3.5h-3.5zM150,6h3.5v3.5h-3.5zM159,6h3.5v3.5h-3.5zM174,6h3.5v3.5h-3.5zM111,9h3.5v3.5h-3.5zM174,9h6.5v3.5h-6.5zM120,12h3.5v3.5h-3.5zM132,12h3.5v3.5h-3.5zM141,12h6.5v3.5h-6.5zM168,12h3.5v3.5h-3.5zM174,12h3.5v3.5h-3.5zM111,15h3.5v3.5h-3.5zM126,15h6.5v3.5h-6.5zM159,15h3.5v3.5h-3.5zM177,15h3.5v3.5h-3.5zM108,18h6.5v3.5h-6.5zM120,18h3.5v3.5h-3.5zM129,18h3.5v3.5h-3.5zM138,18h3.5v3.5h-3.5zM168,18h3.5v3.5h-3.5zM177,18h3.5v3.5h-3.5zM108,21h6.5v3.5h-6.5zM135,21h3.5v3.5h-3.5zM147,21h3.5v3.5h-3.5zM99,24h12.5v3.5h-12.5zM120,24h6.5v3.5h-6.5zM132,24h3.5v3.5h-3.5zM141,24h3.5v3.5h-3.5zM156,24h3.5v3.5h-3.5zM99,27h3.5v3.5h-3.5zM105,27h3.5v3.5h-3.5zM111,27h3.5v3.5h-3.5zM117,27h3.5v3.5h-3.5zM141,27h3.5v3.5h-3.5zM156,27h6.5v3.5h-6.5zM108,30h3.5v3.5h-3.5zM117,30h3.5v3.5h-3.5zM135,33h3.5v3.5h-3.5zM63,36h3.5v3.5h-3.5zM96,36h3.5v3.5h-3.5zM105,36h3.5v3.5h-3.5zM135,36h3.5v3.5h-3.5zM102,39h6.5v3.5h-6.5zM132,39h3.5v3.5h-3.5zM144,39h3.5v3.5h-3.5zM114,42h3.5v3.5h-3.5zM135,42h6.5v3.5h-6.5zM99,45h3.5v3.5h-3.5zM147,45h3.5v3.5h-3.5zM105,48h6.5v3.5h-6.5zM123,48h3.5v3.5h-3.5zM129,48h6.5v3.5h-6.5zM138,51h3.5v3.5h-3.5zM33,54h3.5v3.5h-3.5zM81,54h3.5v3.5h-3.5zM108,54h3.5v3.5h-3.5zM120,54h6.5v3.5h-6.5zM138,54h3.5v3.5h-3.5zM69,57h3.5v3.5h-3.5zM132,57h3.5v3.5h-3.5zM42,60h6.5v3.5h-6.5zM81,60h3.5v3.5h-3.5zM114,60h6.5v3.5h-6.5zM123,60h3.5v3.5h-3.5zM129,60h6.5v3.5h-6.5zM48,63h3.5v3.5h-3.5zM81,63h3.5v3.5h-3.5zM105,63h12.5v3.5h-12.5zM120,63h3.5v3.5h-3.5zM129,63h3.5v3.5h-3.5zM135,63h3.5v3.5h-3.5zM141,63h3.5v3.5h-3.5zM0,66h3.5v3.5h-3.5zM105,66h3.5v3.5h-3.5zM132,66h3.5v3.5h-3.5zM0,69h3.5v3.5h-3.5zM78,69h3.5v3.5h-3.5zM96,69h3.5v3.5h-3.5zM135,69h3.5v3.5h-3.5zM9,72h3.5v3.5h-3.5zM45,72h3.5v3.5h-3.5zM102,72h3.5v3.5h-3.5zM126,72h3.5v3.5h-3.5zM0,75h3.5v3.5h-3.5zM9,75h3.5v3.5h-3.5zM111,75h6.5v3.5h-6.5zM123,75h3.5v3.5h-3.5zM129,75h3.5v3.5h-3.5zM54,78h3.5v3.5h-3.5zM78,78h3.5v3.5h-3.5zM87,78h3.5v3.5h-3.5zM123,78h9.5v3.5h-9.5zM0,81h3.5v3.5h-3.5zM9,81h6.5v3.5h-6.5zM18,81h3.5v3.5h-3.5zM57,81h3.5v3.5h-3.5zM81,81h6.5v3.5h-6.5zM3,84h3.5v3.5h-3.5zM15,84h3.5v3.5h-3.5zM120,84h3.5v3.5h-3.5zM3,87h3.5v3.5h-3.5zM3,90h3.5v3.5h-3.5zM15,90h3.5v3.5h-3.5zM126,90h3.5v3.5h-3.5zM0,93h6.5v3.5h-6.5zM27,93h3.5v3.5h-3.5zM84,93h6.5v3.5h-6.5zM117,93h6.5v3.5h-6.5zM132,93h3.5v3.5h-3.5zM9,96h3.5v3.5h-3.5zM24,96h3.5v3.5h-3.5zM90,96h6.5v3.5h-6.5zM114,96h3.5v3.5h-3.5zM3,99h3.5v3.5h-3.5zM27,99h3.5v3.5h-3.5zM84,99h3.5v3.5h-3.5zM96,99h6.5v3.5h-6.5zM114,99h3.5v3.5h-3.5zM126,99h3.5v3.5h-3.5zM0,102h3.5v3.5h-3.5zM9,102h6.5v3.5h-6.5zM18,102h3.5v3.5h-3.5zM99,102h3.5v3.5h-3.5zM108,102h3.5v3.5h-3.5zM117,102h3.5v3.5h-3.5zM21,105h3.5v3.5h-3.5zM102,105h3.5v3.5h-3.5zM108,105h9.5v3.5h-9.5zM0,108h3.5v3.5h-3.5zM9,108h3.5v3.5h-3.5zM24,108h3.5v3.5h-3.5zM39,108h3.5v3.5h-3.5zM81,108h3.5v3.5h-3.5zM3,111h6.5v3.5h-6.5zM114,111h3.5v3.5h-3.5zM120,111h9.5v3.5h-9.5zM3,114h3.5v3.5h-3.5zM21,114h3.5v3.5h-3.5zM42,114h6.5v3.5h-6.5zM81,114h6.5v3.5h-6.5zM108,114h3.5v3.5h-3.5zM117,114h3.5v3.5h-3.5zM0,117h3.5v3.5h-3.5zM30,117h6.5v3.5h-6.5zM105,117h3.5v3.5h-3.5zM117,117h6.5v3.5h-6.5zM6,120h12.5v3.5h-12.5zM42,120h3.5v3.5h-3.5zM51,120h6.5v3.5h-6.5zM72,120h3.5v3.5h-3.5zM108,120h12.5v3.5h-12.5zM123,120h3.5v3.5h-3.5zM0,123h3.5v3.5h-3.5zM15,123h3.5v3.5h-3.5zM24,123h3.5v3.5h-3.5zM42,123h3.5v3.5h-3.5zM54,123h3.5v3.5h-3.5zM72,123h3.5v3.5h-3.5zM84,123h3.5v3.5h-3.5zM6,126h3.5v3.5h-3.5zM36,126h6.5v3.5h-6.5zM90,126h3.5v3.5h-3.5zM102,126h3.5v3.5h-3.5zM108,126h3.5v3.5h-3.5zM0,129h3.5v3.5h-3.5zM12,129h6.5v3.5h-6.5zM21,129h3.5v3.5h-3.5zM30,129h3.5v3.5h-3.5zM36,129h3.5v3.5h-3.5zM90,129h3.5v3.5h-3.5zM99,129h3.5v3.5h-3.5zM108,129h3.5v3.5h-3.5zM114,129h3.5v3.5h-3.5zM123,129h3.5v3.5h-3.5zM0,132h3.5v3.5h-3.5zM9,132h3.5v3.5h-3.5zM33,132h3.5v3.5h-3.5zM42,132h3.5v3.5h-3.5zM87,132h6.5v3.5h-6.5zM96,132h3.5v3.5h-3.5zM105,132h3.5v3.5h-3.5zM117,132h3.5v3.5h-3.5zM123,132h9.5v3.5h-9.5zM15,135h3.5v3.5h-3.5zM33,135h3.5v3.5h-3.5zM45,135h3.5v3.5h-3.5zM105,135h9.5v3.5h-9.5zM117,135h6.5v3.5h-6.5zM132,135h3.5v3.5h-3.5zM0,138h6.5v3.5h-6.5zM24,138h3.5v3.5h-3.5zM30,138h3.5v3.5h-3.5zM39,138h6.5v3.5h-6.5zM105,138h3.5v3.5h-3.5zM123,138h9.5v3.5h-9.5zM108,141h3.5v3.5h-3.5zM0,144h3.5v3.5h-3.5zM18,144h3.5v3.5h-3.5zM96,144h3.5v3.5h-3.5zM108,147h3.5v3.5h-3.5zM123,147h3.5v3.5h-3.5zM129,147h3.5v3.5h-3.5zM147,147h3.5v3.5h-3.5z"/><path fill="#c4c4ff" d="M9,0h3.5v3.5h-3.5zM123,0h3.5v3.5h-3.5zM132,0h3.5v3.5h-3.5zM138,0h3.5v3.5h-3.5zM156,0h3.5v3.5h-3.5zM162,0h3.5v3.5h-3.5zM171,0h6.5v3.5h-6.5zM21,3h3.5v3.5h-3.5zM126,3h3.5v3.5h-3.5zM138,3h6.5v3.5h-6.5zM165,3h3.5v3.5h-3.5zM177,3h3.5v3.5h-3.5zM126,6h3.5v3.5h-3.5zM135,6h6.5v3.5h-6.5zM147,6h3.5v3.5h-3.5zM153,6h3.5v3.5h-3.5zM171,6h3.5v3.5h-3.5zM27,9h3.5v3.5h-3.5zM114,9h3.5v3.5h-3.5zM126,9h3.5v3.5h-3.5zM138,9h3.5v3.5h-3.5zM147,9h6.5v3.5h-6.5zM162,9h3.5v3.5h-3.5zM171,9h3.5v3.5h-3.5zM117,12h3.5v3.5h-3.5zM135,12h3.5v3.5h-3.5zM150,12h3.5v3.5h-3.5zM156,12h3.5v3.5h-3.5zM162,12h6.5v3.5h-6.5zM117,15h3.5v3.5h-3.5zM123,15h3.5v3.5h-3.5zM135,15h3.5v3.5h-3.5zM150,15h6.5v3.5h-6.5zM171,15h6.5v3.5h-6.5zM24,18h6.5v3.5h-6.5zM126,18h3.5v3.5h-3.5zM135,18h3.5v3.5h-3.5zM144,18h6.5v3.5h-6.5zM159,18h9.5v3.5h-9.5zM171,18h3.5v3.5h-3.5zM117,21h6.5v3.5h-6.5zM126,21h6.5v3.5h-6.5zM144,21h3.5v3.5h-3.5zM153,21h3.5v3.5h-3.5zM159,21h3.5v3.5h-3.5zM165,21h3.5v3.5h-3.5zM174,21h6.5v3.5h-6.5zM117,24h3.5v3.5h-3.5zM126,24h6.5v3.5h-6.5zM144,24h12.5v3.5h-12.5zM162,24h3.5v3.5h-3.5zM108,27h3.5v3.5h-3.5zM114,27h3.5v3.5h-3.5zM120,27h12.5v3.5h-12.5zM135,27h6.5v3.5h-6.5zM150,27h3.5v3.5h-3.5zM162,27h3.5v3.5h-3.5zM177,27h3.5v3.5h-3.5zM111,30h6.5v3.5h-6.5zM123,30h3.5v3.5h-3.5zM132,30h9.5v3.5h-9.5zM144,30h12.5v3.5h-12.5zM159,30h3.5v3.5h-3.5zM108,33h15.5v3.5h-15.5zM132,33h3.5v3.5h-3.5zM144,33h9.5v3.5h-9.5zM69,36h3.5v3.5h-3.5zM108,36h9.5v3.5h-9.5zM120,36h3.5v3.5h-3.5zM138,36h6.5v3.5h-6.5zM147,36h6.5v3.5h-6.5zM108,39h15.5v3.5h-15.5zM126,39h6.5v3.5h-6.5zM135,39h3.5v3.5h-3.5zM153,39h3.5v3.5h-3.5zM105,42h6.5v3.5h-6.5zM123,42h3.5v3.5h-3.5zM129,42h3.5v3.5h-3.5zM147,42h3.5v3.5h-3.5zM81,45h3.5v3.5h-3.5zM111,45h6.5v3.5h-6.5zM129,45h12.5v3.5h-12.5zM66,48h6.5v3.5h-6.5zM99,48h6.5v3.5h-6.5zM114,48h3.5v3.5h-3.5zM138,48h6.5v3.5h-6.5zM147,48h3.5v3.5h-3.5zM24,51h3.5v3.5h-3.5zM105,51h9.5v3.5h-9.5zM117,51h3.5v3.5h-3.5zM27,54h3.5v3.5h-3.5zM102,54h3.5v3.5h-3.5zM132,54h6.5v3.5h-6.5zM30,57h3.5v3.5h-3.5zM114,57h6.5v3.5h-6.5zM135,57h3.5v3.5h-3.5zM141,57h3.5v3.5h-3.5zM150,57h3.5v3.5h-3.5zM162,57h3.5v3.5h-3.5zM33,60h3.5v3.5h-3.5zM48,60h3.5v3.5h-3.5zM78,60h3.5v3.5h-3.5zM126,60h3.5v3.5h-3.5zM141,60h3.5v3.5h-3.5zM33,63h3.5v3.5h-3.5zM39,63h3.5v3.5h-3.5zM126,63h3.5v3.5h-3.5zM168,63h3.5v3.5h-3.5zM78,66h3.5v3.5h-3.5zM102,66h3.5v3.5h-3.5zM111,66h3.5v3.5h-3.5zM120,66h6.5v3.5h-6.5zM6,69h6.5v3.5h-6.5zM99,69h3.5v3.5h-3.5zM105,69h9.5v3.5h-9.5zM123,69h3.5v3.5h-3.5zM132,69h3.5v3.5h-3.5zM162,69h3.5v3.5h-3.5zM114,72h9.5v3.5h-9.5zM129,72h6.5v3.5h-6.5zM15,75h3.5v3.5h-3.5zM132,75h3.5v3.5h-3.5zM138,75h3.5v3.5h-3.5zM12,78h3.5v3.5h-3.5zM132,78h6.5v3.5h-6.5zM177,78h3.5v3.5h-3.5zM15,81h3.5v3.5h-3.5zM54,81h3.5v3.5h-3.5zM78,81h3.5v3.5h-3.5zM129,81h6.5v3.5h-6.5zM159,81h3.5v3.5h-3.5zM129,84h9.5v3.5h-9.5zM177,84h3.5v3.5h-3.5zM24,87h3.5v3.5h-3.5zM84,87h3.5v3.5h-3.5zM123,87h6.5v3.5h-6.5zM138,87h3.5v3.5h-3.5zM123,90h3.5v3.5h-3.5zM135,90h6.5v3.5h-6.5zM123,93h3.5v3.5h-3.5zM129,93h3.5v3.5h-3.5zM84,96h3.5v3.5h-3.5zM126,96h3.5v3.5h-3.5zM141,96h3.5v3.5h-3.5zM24,99h3.5v3.5h-3.5zM36,102h6.5v3.5h-6.5zM102,102h3.5v3.5h-3.5zM129,102h3.5v3.5h-3.5zM12,105h6.5v3.5h-6.5zM33,105h3.5v3.5h-3.5zM39,105h3.5v3.5h-3.5zM132,105h3.5v3.5h-3.5zM15,108h3.5v3.5h-3.5zM21,108h3.5v3.5h-3.5zM33,108h3.5v3.5h-3.5zM123,108h6.5v3.5h-6.5zM12,111h6.5v3.5h-6.5zM27,111h3.5v3.5h-3.5zM45,111h3.5v3.5h-3.5zM78,111h6.5v3.5h-6.5zM129,111h3.5v3.5h-3.5zM9,114h3.5v3.5h-3.5zM114,114h3.5v3.5h-3.5zM120,114h6.5v3.5h-6.5zM21,117h3.5v3.5h-3.5zM123,117h3.5v3.5h-3.5zM57,120h3.5v3.5h-3.5zM120,120h3.5v3.5h-3.5zM51,123h3.5v3.5h-3.5zM57,123h3.5v3.5h-3.5zM81,123h3.5v3.5h-3.5zM18,126h3.5v3.5h-3.5zM87,126h3.5v3.5h-3.5zM123,126h3.5v3.5h-3.5zM39,129h3.5v3.5h-3.5zM54,129h3.5v3.5h-3.5zM93,129h3.5v3.5h-3.5zM117,129h6.5v3.5h-6.5zM30,132h3.5v3.5h-3.5zM45,132h3.5v3.5h-3.5zM51,132h3.5v3.5h-3.5zM84,132h3.5v3.5h-3.5zM93,132h3.5v3.5h-3.5zM99,132h3.5v3.5h-3.5zM39,135h6.5v3.5h-6.5zM48,135h9.5v3.5h-9.5zM87,135h3.5v3.5h-3.5zM96,135h3.5v3.5h-3.5zM126,135h3.5v3.5h-3.5zM36,138h3.5v3.5h-3.5zM48,138h3.5v3.5h-3.5zM24,141h6.5v3.5h-6.5zM36,141h3.5v3.5h-3.5zM42,141h3.5v3.5h-3.5zM78,141h3.5v3.5h-3.5zM90,141h3.5v3.5h-3.5zM132,141h3.5v3.5h-3.5zM24,144h3.5v3.5h-3.5zM30,144h9.5v3.5h-9.5zM42,144h3.5v3.5h-3.5zM129,144h3.5v3.5h-3.5zM18,147h3.5v3.5h-3.5zM24,147h6.5v3.5h-6.5zM33,147h3.5v3.5h-3.5zM42,147h6.5v3.5h-6.5zM120,147h3.5v3.5h-3.5zM126,147h3.5v3.5h-3.5z"/><path fill="#d2d2ff" d="M57,0h3.5v3.5h-3.5zM135,0h3.5v3.5h-3.5zM141,0h3.5v3.5h-3.5zM147,0h6.5v3.5h-6.5zM159,0h3.5v3.5h-3.5zM165,0h3.5v3.5h-3.5zM15,3h6.5v3.5h-6.5zM45,3h6.5v3.5h-6.5zM129,3h6.5v3.5h-6.5zM150,3h3.5v3.5h-3.5zM156,3h3.5v3.5h-3.5zM162,3h3.5v3.5h-3.5zM174,3h3.5v3.5h-3.5zM24,6h3.5v3.5h-3.5zM57,6h3.5v3.5h-3.5zM132,6h3.5v3.5h-3.5zM141,6h6.5v3.5h-6.5zM156,6h3.5v3.5h-3.5zM162,6h6.5v3.5h-6.5zM177,6h3.5v3.5h-3.5zM3,9h3.5v3.5h-3.5zM51,9h3.5v3.5h-3.5zM57,9h3.5v3.5h-3.5zM123,9h3.5v3.5h-3.5zM132,9h6.5v3.5h-6.5zM144,9h3.5v3.5h-3.5zM159,9h3.5v3.5h-3.5zM165,9h3.5v3.5h-3.5zM18,12h6.5v3.5h-6.5zM36,12h3.5v3.5h-3.5zM45,12h3.5v3.5h-3.5zM114,12h3.5v3.5h-3.5zM123,12h6.5v3.5h-6.5zM147,12h3.5v3.5h-3.5zM159,12h3.5v3.5h-3.5zM177,12h3.5v3.5h-3.5zM24,15h3.5v3.5h-3.5zM45,15h9.5v3.5h-9.5zM60,15h3.5v3.5h-3.5zM114,15h3.5v3.5h-3.5zM132,15h3.5v3.5h-3.5zM138,15h6.5v3.5h-6.5zM147,15h3.5v3.5h-3.5zM156,15h3.5v3.5h-3.5zM165,15h6.5v3.5h-6.5zM18,18h3.5v3.5h-3.5zM39,18h3.5v3.5h-3.5zM57,18h3.5v3.5h-3.5zM114,18h6.5v3.5h-6.5zM132,18h3.5v3.5h-3.5zM153,18h6.5v3.5h-6.5zM174,18h3.5v3.5h-3.5zM12,21h3.5v3.5h-3.5zM24,21h3.5v3.5h-3.5zM114,21h3.5v3.5h-3.5zM123,21h3.5v3.5h-3.5zM132,21h3.5v3.5h-3.5zM138,21h6.5v3.5h-6.5zM162,21h3.5v3.5h-3.5zM168,21h6.5v3.5h-6.5zM21,24h3.5v3.5h-3.5zM36,24h3.5v3.5h-3.5zM114,24h3.5v3.5h-3.5zM135,24h6.5v3.5h-6.5zM18,27h3.5v3.5h-3.5zM24,27h3.5v3.5h-3.5zM42,27h3.5v3.5h-3.5zM102,27h3.5v3.5h-3.5zM132,27h3.5v3.5h-3.5zM144,27h3.5v3.5h-3.5zM153,27h3.5v3.5h-3.5zM168,27h3.5v3.5h-3.5zM27,30h3.5v3.5h-3.5zM36,30h3.5v3.5h-3.5zM120,30h3.5v3.5h-3.5zM126,30h6.5v3.5h-6.5zM141,30h3.5v3.5h-3.5zM156,30h3.5v3.5h-3.5zM162,30h3.5v3.5h-3.5zM30,33h3.5v3.5h-3.5zM39,33h3.5v3.5h-3.5zM123,33h3.5v3.5h-3.5zM141,33h3.5v3.5h-3.5zM153,33h3.5v3.5h-3.5zM159,33h3.5v3.5h-3.5zM117,36h3.5v3.5h-3.5zM123,36h9.5v3.5h-9.5zM153,36h3.5v3.5h-3.5zM165,36h6.5v3.5h-6.5zM174,36h3.5v3.5h-3.5zM36,39h6.5v3.5h-6.5zM60,39h9.5v3.5h-9.5zM123,39h3.5v3.5h-3.5zM141,39h3.5v3.5h-3.5zM177,39h3.5v3.5h-3.5zM39,42h3.5v3.5h-3.5zM132,42h3.5v3.5h-3.5zM150,42h3.5v3.5h-3.5zM168,42h3.5v3.5h-3.5zM105,45h3.5v3.5h-3.5zM117,45h3.5v3.5h-3.5zM123,45h3.5v3.5h-3.5zM144,45h3.5v3.5h-3.5zM162,45h3.5v3.5h-3.5zM177,45h3.5v3.5h-3.5zM24,48h3.5v3.5h-3.5zM81,48h3.5v3.5h-3.5zM168,48h3.5v3.5h-3.5zM174,48h6.5v3.5h-6.5zM21,51h3.5v3.5h-3.5zM66,51h3.5v3.5h-3.5zM81,51h3.5v3.5h-3.5zM114,51h3.5v3.5h-3.5zM123,51h3.5v3.5h-3.5zM141,51h9.5v3.5h-9.5zM159,51h3.5v3.5h-3.5zM174,51h6.5v3.5h-6.5zM24,54h3.5v3.5h-3.5zM66,54h3.5v3.5h-3.5zM105,54h3.5v3.5h-3.5zM111,54h3.5v3.5h-3.5zM117,54h3.5v3.5h-3.5zM141,54h6.5v3.5h-6.5zM165,54h3.5v3.5h-3.5zM24,57h6.5v3.5h-6.5zM33,57h3.5v3.5h-3.5zM81,57h3.5v3.5h-3.5zM102,57h3.5v3.5h-3.5zM108,57h6.5v3.5h-6.5zM138,57h3.5v3.5h-3.5zM177,57h3.5v3.5h-3.5zM51,60h3.5v3.5h-3.5zM135,60h3.5v3.5h-3.5zM156,60h3.5v3.5h-3.5zM165,60h3.5v3.5h-3.5zM6,63h3.5v3.5h-3.5zM78,63h3.5v3.5h-3.5zM132,63h3.5v3.5h-3.5zM150,63h3.5v3.5h-3.5zM162,63h6.5v3.5h-6.5zM36,66h3.5v3.5h-3.5zM48,66h3.5v3.5h-3.5zM117,66h3.5v3.5h-3.5zM126,66h3.5v3.5h-3.5zM156,66h3.5v3.5h-3.5zM165,66h3.5v3.5h-3.5zM174,66h6.5v3.5h-6.5zM48,69h3.5v3.5h-3.5zM120,69h3.5v3.5h-3.5zM129,69h3.5v3.5h-3.5zM147,69h3.5v3.5h-3.5zM12,72h3.5v3.5h-3.5zM51,72h3.5v3.5h-3.5zM123,72h3.5v3.5h-3.5zM138,72h3.5v3.5h-3.5zM159,72h3.5v3.5h-3.5zM168,72h3.5v3.5h-3.5zM45,75h9.5v3.5h-9.5zM117,75h6.5v3.5h-6.5zM135,75h3.5v3.5h-3.5zM177,75h3.5v3.5h-3.5zM15,78h6.5v3.5h-6.5zM48,78h6.5v3.5h-6.5zM57,78h3.5v3.5h-3.5zM156,78h3.5v3.5h-3.5zM162,78h3.5v3.5h-3.5zM21,81h3.5v3.5h-3.5zM126,81h3.5v3.5h-3.5zM135,81h3.5v3.5h-3.5zM141,81h3.5v3.5h-3.5zM147,81h6.5v3.5h-6.5zM165,81h3.5v3.5h-3.5zM126,84h3.5v3.5h-3.5zM138,84h3.5v3.5h-3.5zM144,84h3.5v3.5h-3.5zM153,84h3.5v3.5h-3.5zM174,84h3.5v3.5h-3.5zM66,87h3.5v3.5h-3.5zM120,87h3.5v3.5h-3.5zM132,87h6.5v3.5h-6.5zM141,87h3.5v3.5h-3.5zM165,87h12.5v3.5h-12.5zM129,90h6.5v3.5h-6.5zM141,90h3.5v3.5h-3.5zM126,93h3.5v3.5h-3.5zM135,93h12.5v3.5h-12.5zM153,93h3.5v3.5h-3.5zM27,96h6.5v3.5h-6.5zM132,96h3.5v3.5h-3.5zM174,96h3.5v3.5h-3.5zM120,99h3.5v3.5h-3.5zM129,99h6.5v3.5h-6.5zM132,102h3.5v3.5h-3.5zM24,105h3.5v3.5h-3.5zM126,105h6.5v3.5h-6.5zM12,108h3.5v3.5h-3.5zM45,108h3.5v3.5h-3.5zM120,108h3.5v3.5h-3.5zM129,108h3.5v3.5h-3.5zM54,111h3.5v3.5h-3.5zM132,111h3.5v3.5h-3.5zM48,114h3.5v3.5h-3.5zM72,114h3.5v3.5h-3.5zM126,114h6.5v3.5h-6.5zM6,117h3.5v3.5h-3.5zM72,117h3.5v3.5h-3.5zM126,117h9.5v3.5h-9.5zM45,120h3.5v3.5h-3.5zM45,123h6.5v3.5h-6.5zM138,123h3.5v3.5h-3.5zM12,126h3.5v3.5h-3.5zM51,126h9.5v3.5h-9.5zM75,126h3.5v3.5h-3.5zM81,126h3.5v3.5h-3.5zM126,126h3.5v3.5h-3.5zM138,126h3.5v3.5h-3.5zM45,129h3.5v3.5h-3.5zM72,129h3.5v3.5h-3.5zM78,129h3.5v3.5h-3.5zM129,129h3.5v3.5h-3.5zM36,132h6.5v3.5h-6.5zM54,132h3.5v3.5h-3.5zM132,132h3.5v3.5h-3.5zM30,135h3.5v3.5h-3.5zM36,135h3.5v3.5h-3.5zM84,135h3.5v3.5h-3.5zM150,135h3.5v3.5h-3.5zM33,138h3.5v3.5h-3.5zM45,138h3.5v3.5h-3.5zM51,138h3.5v3.5h-3.5zM87,138h3.5v3.5h-3.5zM132,138h6.5v3.5h-6.5zM147,138h3.5v3.5h-3.5zM30,141h6.5v3.5h-6.5zM39,141h3.5v3.5h-3.5zM45,141h9.5v3.5h-9.5zM147,141h3.5v3.5h-3.5zM27,144h3.5v3.5h-3.5zM39,144h3.5v3.5h-3.5zM45,144h3.5v3.5h-3.5zM132,144h3.5v3.5h-3.5zM150,144h3.5v3.5h-3.5zM159,144h3.5v3.5h-3.5zM21,147h3.5v3.5h-3.5zM30,147h3.5v3.5h-3.5zM36,147h6.5v3.5h-6.5zM78,147h6.5v3.5h-6.5zM96,147h6.5v3.5h-6.5zM153,147h3.5v3.5h-3.5zM165,147h3.5v3.5h-3.5z"/><path fill="#dedeff" d="M3,0h6.5v3.5h-6.5zM18,0h3.5v3.5h-3.5zM27,0h3.5v3.5h-3.5zM33,0h9.5v3.5h-9.5zM45,0h3.5v3.5h-3.5zM51,0h6.5v3.5h-6.5zM168,0h3.5v3.5h-3.5zM3,3h9.5v3.5h-9.5zM27,3h3.5v3.5h-3.5zM33,3h6.5v3.5h-6.5zM42,3h3.5v3.5h-3.5zM60,3h6.5v3.5h-6.5zM144,3h3.5v3.5h-3.5zM171,3h3.5v3.5h-3.5zM0,6h9.5v3.5h-9.5zM15,6h9.5v3.5h-9.5zM27,6h6.5v3.5h-6.5zM39,6h3.5v3.5h-3.5zM45,6h3.5v3.5h-3.5zM51,6h3.5v3.5h-3.5zM60,6h3.5v3.5h-3.5zM6,9h9.5v3.5h-9.5zM21,9h3.5v3.5h-3.5zM36,9h6.5v3.5h-6.5zM63,9h3.5v3.5h-3.5zM120,9h3.5v3.5h-3.5zM156,9h3.5v3.5h-3.5zM9,12h3.5v3.5h-3.5zM15,12h3.5v3.5h-3.5zM24,12h3.5v3.5h-3.5zM30,12h3.5v3.5h-3.5zM39,12h6.5v3.5h-6.5zM54,12h12.5v3.5h-12.5zM9,15h3.5v3.5h-3.5zM18,15h6.5v3.5h-6.5zM33,15h3.5v3.5h-3.5zM42,15h3.5v3.5h-3.5zM120,15h3.5v3.5h-3.5zM144,15h3.5v3.5h-3.5zM162,15h3.5v3.5h-3.5zM30,18h6.5v3.5h-6.5zM42,18h6.5v3.5h-6.5zM51,18h3.5v3.5h-3.5zM60,18h3.5v3.5h-3.5zM123,18h3.5v3.5h-3.5zM15,21h6.5v3.5h-6.5zM30,21h12.5v3.5h-12.5zM45,21h3.5v3.5h-3.5zM54,21h3.5v3.5h-3.5zM60,21h3.5v3.5h-3.5zM150,21h3.5v3.5h-3.5zM18,24h3.5v3.5h-3.5zM24,24h6.5v3.5h-6.5zM33,24h3.5v3.5h-3.5zM42,24h6.5v3.5h-6.5zM111,24h3.5v3.5h-3.5zM159,24h3.5v3.5h-3.5zM165,24h3.5v3.5h-3.5zM171,24h6.5v3.5h-6.5zM27,27h6.5v3.5h-6.5zM147,27h3.5v3.5h-3.5zM165,27h3.5v3.5h-3.5zM171,27h3.5v3.5h-3.5zM24,30h3.5v3.5h-3.5zM39,30h3.5v3.5h-3.5zM165,30h9.5v3.5h-9.5zM177,30h3.5v3.5h-3.5zM33,33h3.5v3.5h-3.5zM42,33h3.5v3.5h-3.5zM75,33h3.5v3.5h-3.5zM126,33h3.5v3.5h-3.5zM156,33h3.5v3.5h-3.5zM165,33h15.5v3.5h-15.5zM15,36h3.5v3.5h-3.5zM33,36h9.5v3.5h-9.5zM60,36h3.5v3.5h-3.5zM66,36h3.5v3.5h-3.5zM144,36h3.5v3.5h-3.5zM159,36h3.5v3.5h-3.5zM12,39h3.5v3.5h-3.5zM147,39h3.5v3.5h-3.5zM162,39h6.5v3.5h-6.5zM60,42h3.5v3.5h-3.5zM78,42h6.5v3.5h-6.5zM120,42h3.5v3.5h-3.5zM126,42h3.5v3.5h-3.5zM159,42h6.5v3.5h-6.5zM174,42h6.5v3.5h-6.5zM102,45h3.5v3.5h-3.5zM120,45h3.5v3.5h-3.5zM150,45h3.5v3.5h-3.5zM159,45h3.5v3.5h-3.5zM168,45h3.5v3.5h-3.5zM174,45h3.5v3.5h-3.5zM21,48h3.5v3.5h-3.5zM27,48h3.5v3.5h-3.5zM111,48h3.5v3.5h-3.5zM117,48h6.5v3.5h-6.5zM144,48h3.5v3.5h-3.5zM150,48h18.5v3.5h-18.5zM171,48h3.5v3.5h-3.5zM102,51h3.5v3.5h-3.5zM120,51h3.5v3.5h-3.5zM153,51h3.5v3.5h-3.5zM168,51h3.5v3.5h-3.5zM30,54h3.5v3.5h-3.5zM69,54h3.5v3.5h-3.5zM153,54h12.5v3.5h-12.5zM168,54h3.5v3.5h-3.5zM174,54h6.5v3.5h-6.5zM42,57h6.5v3.5h-6.5zM66,57h3.5v3.5h-3.5zM105,57h3.5v3.5h-3.5zM144,57h6.5v3.5h-6.5zM153,57h6.5v3.5h-6.5zM168,57h6.5v3.5h-6.5zM66,60h6.5v3.5h-6.5zM144,60h9.5v3.5h-9.5zM159,60h3.5v3.5h-3.5zM168,60h9.5v3.5h-9.5zM30,63h3.5v3.5h-3.5zM36,63h3.5v3.5h-3.5zM51,63h3.5v3.5h-3.5zM57,63h3.5v3.5h-3.5zM138,63h3.5v3.5h-3.5zM144,63h6.5v3.5h-6.5zM156,63h3.5v3.5h-3.5zM177,63h3.5v3.5h-3.5zM9,66h3.5v3.5h-3.5zM39,66h3.5v3.5h-3.5zM51,66h3.5v3.5h-3.5zM99,66h3.5v3.5h-3.5zM108,66h3.5v3.5h-3.5zM114,66h3.5v3.5h-3.5zM129,66h3.5v3.5h-3.5zM141,66h3.5v3.5h-3.5zM147,66h3.5v3.5h-3.5zM162,66h3.5v3.5h-3.5zM168,66h3.5v3.5h-3.5zM51,69h3.5v3.5h-3.5zM114,69h3.5v3.5h-3.5zM138,69h3.5v3.5h-3.5zM144,69h3.5v3.5h-3.5zM165,69h6.5v3.5h-6.5zM174,69h6.5v3.5h-6.5zM42,72h3.5v3.5h-3.5zM135,72h3.5v3.5h-3.5zM141,72h3.5v3.5h-3.5zM147,72h9.5v3.5h-9.5zM162,72h6.5v3.5h-6.5zM174,72h3.5v3.5h-3.5zM42,75h3.5v3.5h-3.5zM54,75h3.5v3.5h-3.5zM126,75h3.5v3.5h-3.5zM147,75h3.5v3.5h-3.5zM156,75h3.5v3.5h-3.5zM162,75h6.5v3.5h-6.5zM24,78h3.5v3.5h-3.5zM138,78h12.5v3.5h-12.5zM168,78h3.5v3.5h-3.5zM24,81h3.5v3.5h-3.5zM48,81h6.5v3.5h-6.5zM144,81h3.5v3.5h-3.5zM156,81h3.5v3.5h-3.5zM168,81h3.5v3.5h-3.5zM177,81h3.5v3.5h-3.5zM24,84h3.5v3.5h-3.5zM66,84h6.5v3.5h-6.5zM123,84h3.5v3.5h-3.5zM141,84h3.5v3.5h-3.5zM147,84h3.5v3.5h-3.5zM57,87h3.5v3.5h-3.5zM129,87h3.5v3.5h-3.5zM144,87h3.5v3.5h-3.5zM156,87h3.5v3.5h-3.5zM162,87h3.5v3.5h-3.5zM27,90h3.5v3.5h-3.5zM144,90h3.5v3.5h-3.5zM150,90h6.5v3.5h-6.5zM165,90h3.5v3.5h-3.5zM171,90h6.5v3.5h-6.5zM60,93h3.5v3.5h-3.5zM156,93h3.5v3.5h-3.5zM129,96h3.5v3.5h-3.5zM135,96h3.5v3.5h-3.5zM150,96h3.5v3.5h-3.5zM21,102h3.5v3.5h-3.5zM27,102h9.5v3.5h-9.5zM105,102h3.5v3.5h-3.5zM27,105h3.5v3.5h-3.5zM54,108h6.5v3.5h-6.5zM78,108h3.5v3.5h-3.5zM57,111h3.5v3.5h-3.5zM135,111h3.5v3.5h-3.5zM171,111h3.5v3.5h-3.5zM51,114h3.5v3.5h-3.5zM57,114h3.5v3.5h-3.5zM132,114h6.5v3.5h-6.5zM48,117h6.5v3.5h-6.5zM141,117h3.5v3.5h-3.5zM126,120h3.5v3.5h-3.5zM135,120h3.5v3.5h-3.5zM168,120h3.5v3.5h-3.5zM123,123h9.5v3.5h-9.5zM135,123h3.5v3.5h-3.5zM42,126h6.5v3.5h-6.5zM129,126h6.5v3.5h-6.5zM141,126h3.5v3.5h-3.5zM87,129h3.5v3.5h-3.5zM126,129h3.5v3.5h-3.5zM135,129h3.5v3.5h-3.5zM141,129h6.5v3.5h-6.5zM57,132h3.5v3.5h-3.5zM78,132h3.5v3.5h-3.5zM144,132h9.5v3.5h-9.5zM57,135h3.5v3.5h-3.5zM72,135h3.5v3.5h-3.5zM135,135h15.5v3.5h-15.5zM27,138h3.5v3.5h-3.5zM75,138h3.5v3.5h-3.5zM81,138h3.5v3.5h-3.5zM150,138h3.5v3.5h-3.5zM159,138h3.5v3.5h-3.5zM72,141h6.5v3.5h-6.5zM81,141h3.5v3.5h-3.5zM138,141h3.5v3.5h-3.5zM144,141h3.5v3.5h-3.5zM150,141h12.5v3.5h-12.5zM51,144h3.5v3.5h-3.5zM78,144h3.5v3.5h-3.5zM90,144h6.5v3.5h-6.5zM141,144h3.5v3.5h-3.5zM141,147h6.5v3.5h-6.5zM156,147h3.5v3.5h-3.5z"/><path fill="#ececff" d="M0,0h3.5v3.5h-3.5zM15,0h3.5v3.5h-3.5zM21,0h6.5v3.5h-6.5zM30,0h3.5v3.5h-3.5zM42,0h3.5v3.5h-3.5zM48,0h3.5v3.5h-3.5zM60,0h6.5v3.5h-6.5zM0,3h3.5v3.5h-3.5zM12,3h3.5v3.5h-3.5zM39,3h3.5v3.5h-3.5zM54,3h6.5v3.5h-6.5zM135,3h3.5v3.5h-3.5zM9,6h6.5v3.5h-6.5zM33,6h3.5v3.5h-3.5zM42,6h3.5v3.5h-3.5zM54,6h3.5v3.5h-3.5zM63,6h3.5v3.5h-3.5zM0,9h3.5v3.5h-3.5zM18,9h3.5v3.5h-3.5zM24,9h3.5v3.5h-3.5zM30,9h6.5v3.5h-6.5zM42,9h3.5v3.5h-3.5zM48,9h3.5v3.5h-3.5zM60,9h3.5v3.5h-3.5zM153,9h3.5v3.5h-3.5zM0,12h3.5v3.5h-3.5zM6,12h3.5v3.5h-3.5zM12,12h3.5v3.5h-3.5zM27,12h3.5v3.5h-3.5zM33,12h3.5v3.5h-3.5zM51,12h3.5v3.5h-3.5zM153,12h3.5v3.5h-3.5zM6,15h3.5v3.5h-3.5zM30,15h3.5v3.5h-3.5zM36,15h6.5v3.5h-6.5zM54,15h3.5v3.5h-3.5zM63,15h3.5v3.5h-3.5zM9,18h9.5v3.5h-9.5zM21,18h3.5v3.5h-3.5zM36,18h3.5v3.5h-3.5zM54,18h3.5v3.5h-3.5zM63,18h3.5v3.5h-3.5zM21,21h3.5v3.5h-3.5zM156,21h3.5v3.5h-3.5zM30,24h3.5v3.5h-3.5zM39,24h3.5v3.5h-3.5zM54,24h3.5v3.5h-3.5zM168,24h3.5v3.5h-3.5zM177,24h3.5v3.5h-3.5zM21,27h3.5v3.5h-3.5zM33,27h3.5v3.5h-3.5zM39,27h3.5v3.5h-3.5zM45,27h3.5v3.5h-3.5zM15,30h3.5v3.5h-3.5zM33,30h3.5v3.5h-3.5zM42,30h6.5v3.5h-6.5zM72,30h3.5v3.5h-3.5zM174,30h3.5v3.5h-3.5zM12,33h3.5v3.5h-3.5zM24,33h3.5v3.5h-3.5zM36,33h3.5v3.5h-3.5zM69,33h6.5v3.5h-6.5zM162,33h3.5v3.5h-3.5zM27,36h6.5v3.5h-6.5zM42,36h6.5v3.5h-6.5zM156,36h3.5v3.5h-3.5zM162,36h3.5v3.5h-3.5zM177,36h3.5v3.5h-3.5zM24,39h3.5v3.5h-3.5zM30,39h3.5v3.5h-3.5zM45,39h3.5v3.5h-3.5zM69,39h3.5v3.5h-3.5zM150,39h3.5v3.5h-3.5zM156,39h6.5v3.5h-6.5zM168,39h3.5v3.5h-3.5zM174,39h3.5v3.5h-3.5zM0,42h3.5v3.5h-3.5zM27,42h3.5v3.5h-3.5zM42,42h3.5v3.5h-3.5zM63,42h3.5v3.5h-3.5zM111,42h3.5v3.5h-3.5zM117,42h3.5v3.5h-3.5zM153,42h6.5v3.5h-6.5zM165,42h3.5v3.5h-3.5zM171,42h3.5v3.5h-3.5zM0,45h6.5v3.5h-6.5zM39,45h6.5v3.5h-6.5zM78,45h3.5v3.5h-3.5zM153,45h3.5v3.5h-3.5zM165,45h3.5v3.5h-3.5zM9,48h3.5v3.5h-3.5zM30,48h3.5v3.5h-3.5zM42,48h3.5v3.5h-3.5zM9,51h3.5v3.5h-3.5zM18,51h3.5v3.5h-3.5zM27,51h12.5v3.5h-12.5zM45,51h3.5v3.5h-3.5zM69,51h3.5v3.5h-3.5zM150,51h3.5v3.5h-3.5zM162,51h6.5v3.5h-6.5zM171,51h3.5v3.5h-3.5zM42,54h3.5v3.5h-3.5zM78,54h3.5v3.5h-3.5zM114,54h3.5v3.5h-3.5zM147,54h6.5v3.5h-6.5zM171,54h3.5v3.5h-3.5zM9,57h3.5v3.5h-3.5zM159,57h3.5v3.5h-3.5zM165,57h3.5v3.5h-3.5zM174,57h3.5v3.5h-3.5zM0,60h3.5v3.5h-3.5zM6,60h6.5v3.5h-6.5zM30,60h3.5v3.5h-3.5zM39,60h3.5v3.5h-3.5zM54,60h6.5v3.5h-6.5zM153,60h3.5v3.5h-3.5zM177,60h3.5v3.5h-3.5zM54,63h3.5v3.5h-3.5zM66,63h6.5v3.5h-6.5zM153,63h3.5v3.5h-3.5zM171,63h6.5v3.5h-6.5zM6,66h3.5v3.5h-3.5zM138,66h3.5v3.5h-3.5zM144,66h3.5v3.5h-3.5zM159,66h3.5v3.5h-3.5zM171,66h3.5v3.5h-3.5zM36,69h6.5v3.5h-6.5zM117,69h3.5v3.5h-3.5zM153,69h9.5v3.5h-9.5zM39,72h3.5v3.5h-3.5zM57,72h3.5v3.5h-3.5zM144,72h3.5v3.5h-3.5zM156,72h3.5v3.5h-3.5zM171,72h3.5v3.5h-3.5zM177,72h3.5v3.5h-3.5zM57,75h3.5v3.5h-3.5zM141,75h6.5v3.5h-6.5zM150,75h6.5v3.5h-6.5zM159,75h3.5v3.5h-3.5zM168,75h9.5v3.5h-9.5zM21,78h3.5v3.5h-3.5zM150,78h6.5v3.5h-6.5zM159,78h3.5v3.5h-3.5zM165,78h3.5v3.5h-3.5zM171,78h6.5v3.5h-6.5zM45,81h3.5v3.5h-3.5zM138,81h3.5v3.5h-3.5zM153,81h3.5v3.5h-3.5zM162,81h3.5v3.5h-3.5zM171,81h6.5v3.5h-6.5zM27,84h3.5v3.5h-3.5zM54,84h6.5v3.5h-6.5zM81,84h3.5v3.5h-3.5zM150,84h3.5v3.5h-3.5zM156,84h18.5v3.5h-18.5zM54,87h3.5v3.5h-3.5zM60,87h6.5v3.5h-6.5zM69,87h3.5v3.5h-3.5zM147,87h6.5v3.5h-6.5zM177,87h3.5v3.5h-3.5zM60,90h6.5v3.5h-6.5zM147,90h3.5v3.5h-3.5zM156,90h3.5v3.5h-3.5zM162,90h3.5v3.5h-3.5zM168,90h3.5v3.5h-3.5zM177,90h3.5v3.5h-3.5zM147,93h3.5v3.5h-3.5zM162,93h18.5v3.5h-18.5zM138,96h3.5v3.5h-3.5zM165,96h6.5v3.5h-6.5zM177,96h3.5v3.5h-3.5zM30,99h3.5v3.5h-3.5zM135,99h9.5v3.5h-9.5zM177,99h3.5v3.5h-3.5zM135,102h3.5v3.5h-3.5zM153,102h3.5v3.5h-3.5zM165,102h3.5v3.5h-3.5zM177,102h3.5v3.5h-3.5zM30,105h3.5v3.5h-3.5zM141,105h3.5v3.5h-3.5zM159,105h3.5v3.5h-3.5zM165,105h3.5v3.5h-3.5zM177,105h3.5v3.5h-3.5zM42,108h3.5v3.5h-3.5zM135,108h3.5v3.5h-3.5zM147,108h3.5v3.5h-3.5zM141,111h6.5v3.5h-6.5zM177,111h3.5v3.5h-3.5zM54,114h3.5v3.5h-3.5zM156,114h3.5v3.5h-3.5zM54,117h3.5v3.5h-3.5zM135,117h6.5v3.5h-6.5zM132,120h3.5v3.5h-3.5zM138,120h3.5v3.5h-3.5zM141,123h3.5v3.5h-3.5zM150,123h3.5v3.5h-3.5zM156,123h3.5v3.5h-3.5zM135,126h3.5v3.5h-3.5zM144,126h3.5v3.5h-3.5zM150,126h3.5v3.5h-3.5zM162,126h3.5v3.5h-3.5zM171,126h6.5v3.5h-6.5zM57,129h3.5v3.5h-3.5zM81,129h3.5v3.5h-3.5zM138,129h3.5v3.5h-3.5zM147,129h3.5v3.5h-3.5zM72,132h6.5v3.5h-6.5zM81,132h3.5v3.5h-3.5zM135,132h3.5v3.5h-3.5zM141,132h3.5v3.5h-3.5zM153,132h3.5v3.5h-3.5zM165,132h3.5v3.5h-3.5zM78,135h6.5v3.5h-6.5zM168,135h3.5v3.5h-3.5zM174,135h3.5v3.5h-3.5zM54,138h3.5v3.5h-3.5zM66,138h3.5v3.5h-3.5zM78,138h3.5v3.5h-3.5zM84,138h3.5v3.5h-3.5zM138,138h9.5v3.5h-9.5zM153,138h6.5v3.5h-6.5zM165,138h3.5v3.5h-3.5zM57,141h3.5v3.5h-3.5zM84,141h6.5v3.5h-6.5zM135,141h3.5v3.5h-3.5zM141,141h3.5v3.5h-3.5zM177,141h3.5v3.5h-3.5zM72,144h6.5v3.5h-6.5zM81,144h6.5v3.5h-6.5zM135,144h6.5v3.5h-6.5zM144,144h6.5v3.5h-6.5zM153,144h6.5v3.5h-6.5zM162,144h12.5v3.5h-12.5zM72,147h6.5v3.5h-6.5zM87,147h9.5v3.5h-9.5zM132,147h3.5v3.5h-3.5zM138,147h3.5v3.5h-3.5zM150,147h3.5v3.5h-3.5zM159,147h6.5v3.5h-6.5z"/><path fill="#f8f8ff" d="M12,0h3.5v3.5h-3.5zM24,3h3.5v3.5h-3.5zM30,3h3.5v3.5h-3.5zM51,3h3.5v3.5h-3.5zM36,6h3.5v3.5h-3.5zM48,6h3.5v3.5h-3.5zM15,9h3.5v3.5h-3.5zM45,9h3.5v3.5h-3.5zM54,9h3.5v3.5h-3.5zM3,12h3.5v3.5h-3.5zM48,12h3.5v3.5h-3.5zM12,15h6.5v3.5h-6.5zM27,15h3.5v3.5h-3.5zM57,15h3.5v3.5h-3.5zM3,18h6.5v3.5h-6.5zM48,18h3.5v3.5h-3.5zM6,21h6.5v3.5h-6.5zM42,21h3.5v3.5h-3.5zM48,21h6.5v3.5h-6.5zM57,21h3.5v3.5h-3.5zM15,24h3.5v3.5h-3.5zM48,24h3.5v3.5h-3.5zM3,27h6.5v3.5h-6.5zM12,27h6.5v3.5h-6.5zM36,27h3.5v3.5h-3.5zM48,27h3.5v3.5h-3.5zM174,27h3.5v3.5h-3.5zM6,30h3.5v3.5h-3.5zM18,30h6.5v3.5h-6.5zM30,30h3.5v3.5h-3.5zM48,30h3.5v3.5h-3.5zM0,33h6.5v3.5h-6.5zM15,33h3.5v3.5h-3.5zM27,33h3.5v3.5h-3.5zM45,33h3.5v3.5h-3.5zM21,36h6.5v3.5h-6.5zM171,36h3.5v3.5h-3.5zM15,39h6.5v3.5h-6.5zM27,39h3.5v3.5h-3.5zM33,39h3.5v3.5h-3.5zM171,39h3.5v3.5h-3.5zM3,42h3.5v3.5h-3.5zM18,42h9.5v3.5h-9.5zM33,42h6.5v3.5h-6.5zM6,45h3.5v3.5h-3.5zM27,45h3.5v3.5h-3.5zM63,45h3.5v3.5h-3.5zM171,45h3.5v3.5h-3.5zM15,48h6.5v3.5h-6.5zM33,48h6.5v3.5h-6.5zM78,48h3.5v3.5h-3.5zM0,51h3.5v3.5h-3.5zM42,51h3.5v3.5h-3.5zM78,51h3.5v3.5h-3.5zM156,51h3.5v3.5h-3.5zM0,54h6.5v3.5h-6.5zM9,54h3.5v3.5h-3.5zM18,54h6.5v3.5h-6.5zM45,54h3.5v3.5h-3.5zM0,57h6.5v3.5h-6.5zM15,57h3.5v3.5h-3.5zM48,57h3.5v3.5h-3.5zM78,57h3.5v3.5h-3.5zM15,60h3.5v3.5h-3.5zM24,60h6.5v3.5h-6.5zM36,60h3.5v3.5h-3.5zM162,60h3.5v3.5h-3.5zM0,63h6.5v3.5h-6.5zM15,63h3.5v3.5h-3.5zM63,63h3.5v3.5h-3.5zM159,63h3.5v3.5h-3.5zM150,66h6.5v3.5h-6.5zM141,69h3.5v3.5h-3.5zM150,69h3.5v3.5h-3.5zM171,69h3.5v3.5h-3.5zM15,72h3.5v3.5h-3.5zM54,72h3.5v3.5h-3.5zM75,72h3.5v3.5h-3.5zM39,75h3.5v3.5h-3.5zM27,78h3.5v3.5h-3.5zM42,78h6.5v3.5h-6.5zM27,81h3.5v3.5h-3.5zM42,81h3.5v3.5h-3.5zM27,87h3.5v3.5h-3.5zM159,87h3.5v3.5h-3.5zM57,90h3.5v3.5h-3.5zM54,93h6.5v3.5h-6.5zM63,93h3.5v3.5h-3.5zM159,93h3.5v3.5h-3.5zM33,96h3.5v3.5h-3.5zM144,96h6.5v3.5h-6.5zM156,96h3.5v3.5h-3.5zM171,96h3.5v3.5h-3.5zM144,99h3.5v3.5h-3.5zM159,99h9.5v3.5h-9.5zM171,99h6.5v3.5h-6.5zM138,102h3.5v3.5h-3.5zM147,102h3.5v3.5h-3.5zM168,102h3.5v3.5h-3.5zM174,102h3.5v3.5h-3.5zM135,105h6.5v3.5h-6.5zM144,105h3.5v3.5h-3.5zM150,105h9.5v3.5h-9.5zM162,105h3.5v3.5h-3.5zM171,105h3.5v3.5h-3.5zM132,108h3.5v3.5h-3.5zM141,108h6.5v3.5h-6.5zM150,108h9.5v3.5h-9.5zM162,108h3.5v3.5h-3.5zM168,108h3.5v3.5h-3.5zM174,108h3.5v3.5h-3.5zM51,111h3.5v3.5h-3.5zM147,111h3.5v3.5h-3.5zM156,111h9.5v3.5h-9.5zM168,111h3.5v3.5h-3.5zM138,114h3.5v3.5h-3.5zM153,114h3.5v3.5h-3.5zM165,114h9.5v3.5h-9.5zM57,117h3.5v3.5h-3.5zM147,117h3.5v3.5h-3.5zM156,117h15.5v3.5h-15.5zM177,117h3.5v3.5h-3.5zM129,120h3.5v3.5h-3.5zM141,120h6.5v3.5h-6.5zM150,120h3.5v3.5h-3.5zM132,123h3.5v3.5h-3.5zM144,123h3.5v3.5h-3.5zM162,123h9.5v3.5h-9.5zM177,123h3.5v3.5h-3.5zM72,126h3.5v3.5h-3.5zM78,126h3.5v3.5h-3.5zM153,126h6.5v3.5h-6.5zM168,126h3.5v3.5h-3.5zM75,129h3.5v3.5h-3.5zM132,129h3.5v3.5h-3.5zM153,129h3.5v3.5h-3.5zM159,129h3.5v3.5h-3.5zM171,129h3.5v3.5h-3.5zM177,129h3.5v3.5h-3.5zM60,132h3.5v3.5h-3.5zM69,132h3.5v3.5h-3.5zM138,132h3.5v3.5h-3.5zM156,132h6.5v3.5h-6.5zM63,135h3.5v3.5h-3.5zM69,135h3.5v3.5h-3.5zM75,135h3.5v3.5h-3.5zM153,135h6.5v3.5h-6.5zM162,135h3.5v3.5h-3.5zM57,138h3.5v3.5h-3.5zM63,138h3.5v3.5h-3.5zM69,138h6.5v3.5h-6.5zM54,141h3.5v3.5h-3.5zM60,141h6.5v3.5h-6.5zM69,141h3.5v3.5h-3.5zM162,141h6.5v3.5h-6.5zM171,141h3.5v3.5h-3.5zM54,144h9.5v3.5h-9.5zM66,144h3.5v3.5h-3.5zM87,144h3.5v3.5h-3.5zM174,144h3.5v3.5h-3.5zM48,147h3.5v3.5h-3.5zM63,147h3.5v3.5h-3.5zM84,147h3.5v3.5h-3.5zM135,147h3.5v3.5h-3.5z"/><path fill="#fff8f8" d="M81,0h3.5v3.5h-3.5zM81,9h3.5v3.5h-3.5zM81,12h3.5v3.5h-3.5zM3,15h3.5v3.5h-3.5zM0,18h3.5v3.5h-3.5zM0,21h6.5v3.5h-6.5zM27,21h3.5v3.5h-3.5zM0,24h15.5v3.5h-15.5zM51,24h3.5v3.5h-3.5zM57,24h3.5v3.5h-3.5zM0,27h3.5v3.5h-3.5zM9,27h3.5v3.5h-3.5zM51,27h3.5v3.5h-3.5zM66,27h3.5v3.5h-3.5zM81,27h3.5v3.5h-3.5zM0,30h6.5v3.5h-6.5zM9,30h3.5v3.5h-3.5zM69,30h3.5v3.5h-3.5zM75,30h3.5v3.5h-3.5zM81,30h3.5v3.5h-3.5zM9,33h3.5v3.5h-3.5zM66,33h3.5v3.5h-3.5zM0,36h9.5v3.5h-9.5zM18,36h3.5v3.5h-3.5zM72,36h3.5v3.5h-3.5zM0,39h12.5v3.5h-12.5zM21,39h3.5v3.5h-3.5zM42,39h3.5v3.5h-3.5zM81,39h3.5v3.5h-3.5zM9,42h6.5v3.5h-6.5zM30,42h3.5v3.5h-3.5zM66,42h3.5v3.5h-3.5zM9,45h3.5v3.5h-3.5zM21,45h6.5v3.5h-6.5zM30,45h9.5v3.5h-9.5zM60,45h3.5v3.5h-3.5zM66,45h3.5v3.5h-3.5zM156,45h3.5v3.5h-3.5zM3,48h6.5v3.5h-6.5zM39,48h3.5v3.5h-3.5zM75,48h3.5v3.5h-3.5zM3,51h6.5v3.5h-6.5zM12,51h6.5v3.5h-6.5zM51,51h3.5v3.5h-3.5zM6,54h3.5v3.5h-3.5zM12,54h6.5v3.5h-6.5zM36,54h3.5v3.5h-3.5zM6,57h3.5v3.5h-3.5zM21,57h3.5v3.5h-3.5zM39,57h3.5v3.5h-3.5zM3,60h3.5v3.5h-3.5zM12,60h3.5v3.5h-3.5zM18,60h6.5v3.5h-6.5zM63,60h3.5v3.5h-3.5zM9,63h3.5v3.5h-3.5zM21,63h3.5v3.5h-3.5zM12,66h3.5v3.5h-3.5zM33,66h3.5v3.5h-3.5zM66,66h9.5v3.5h-9.5zM30,69h6.5v3.5h-6.5zM54,69h3.5v3.5h-3.5zM72,69h3.5v3.5h-3.5zM33,72h6.5v3.5h-6.5zM33,75h3.5v3.5h-3.5zM60,75h6.5v3.5h-6.5zM69,78h3.5v3.5h-3.5zM75,78h3.5v3.5h-3.5zM48,84h6.5v3.5h-6.5zM60,84h6.5v3.5h-6.5zM81,87h3.5v3.5h-3.5zM153,87h3.5v3.5h-3.5zM54,90h3.5v3.5h-3.5zM150,93h3.5v3.5h-3.5zM57,96h3.5v3.5h-3.5zM153,96h3.5v3.5h-3.5zM159,96h3.5v3.5h-3.5zM33,99h3.5v3.5h-3.5zM147,99h12.5v3.5h-12.5zM168,99h3.5v3.5h-3.5zM141,102h3.5v3.5h-3.5zM156,102h6.5v3.5h-6.5zM171,102h3.5v3.5h-3.5zM42,105h3.5v3.5h-3.5zM81,105h3.5v3.5h-3.5zM147,105h3.5v3.5h-3.5zM168,105h3.5v3.5h-3.5zM60,108h3.5v3.5h-3.5zM75,108h3.5v3.5h-3.5zM138,108h3.5v3.5h-3.5zM165,108h3.5v3.5h-3.5zM48,111h3.5v3.5h-3.5zM75,111h3.5v3.5h-3.5zM138,111h3.5v3.5h-3.5zM150,111h6.5v3.5h-6.5zM165,111h3.5v3.5h-3.5zM174,111h3.5v3.5h-3.5zM141,114h6.5v3.5h-6.5zM150,114h3.5v3.5h-3.5zM159,114h6.5v3.5h-6.5zM177,114h3.5v3.5h-3.5zM69,117h3.5v3.5h-3.5zM144,117h3.5v3.5h-3.5zM150,117h6.5v3.5h-6.5zM171,117h3.5v3.5h-3.5zM153,120h15.5v3.5h-15.5zM171,120h3.5v3.5h-3.5zM177,120h3.5v3.5h-3.5zM60,123h3.5v3.5h-3.5zM69,123h3.5v3.5h-3.5zM153,123h3.5v3.5h-3.5zM159,123h3.5v3.5h-3.5zM171,123h3.5v3.5h-3.5zM69,126h3.5v3.5h-3.5zM147,126h3.5v3.5h-3.5zM165,126h3.5v3.5h-3.5zM177,126h3.5v3.5h-3.5zM150,129h3.5v3.5h-3.5zM156,129h3.5v3.5h-3.5zM162,129h9.5v3.5h-9.5zM174,129h3.5v3.5h-3.5zM63,132h6.5v3.5h-6.5zM162,132h3.5v3.5h-3.5zM171,132h3.5v3.5h-3.5zM177,132h3.5v3.5h-3.5zM165,135h3.5v3.5h-3.5zM177,135h3.5v3.5h-3.5zM60,138h3.5v3.5h-3.5zM162,138h3.5v3.5h-3.5zM171,138h3.5v3.5h-3.5zM66,141h3.5v3.5h-3.5zM168,141h3.5v3.5h-3.5zM174,141h3.5v3.5h-3.5zM63,144h3.5v3.5h-3.5zM177,144h3.5v3.5h-3.5zM66,147h6.5v3.5h-6.5zM168,147h12.5v3.5h-12.5z"/><path fill="#ffecec" d="M66,0h3.5v3.5h-3.5zM66,6h3.5v3.5h-3.5zM69,9h3.5v3.5h-3.5zM66,12h6.5v3.5h-6.5zM0,15h3.5v3.5h-3.5zM69,15h3.5v3.5h-3.5zM81,15h3.5v3.5h-3.5zM63,21h3.5v3.5h-3.5zM60,24h9.5v3.5h-9.5zM54,27h6.5v3.5h-6.5zM63,27h3.5v3.5h-3.5zM69,27h3.5v3.5h-3.5zM6,33h3.5v3.5h-3.5zM18,33h6.5v3.5h-6.5zM9,36h3.5v3.5h-3.5zM75,36h3.5v3.5h-3.5zM72,39h3.5v3.5h-3.5zM6,42h3.5v3.5h-3.5zM15,42h3.5v3.5h-3.5zM45,42h3.5v3.5h-3.5zM54,42h6.5v3.5h-6.5zM12,45h9.5v3.5h-9.5zM45,45h3.5v3.5h-3.5zM57,45h3.5v3.5h-3.5zM69,45h6.5v3.5h-6.5zM0,48h3.5v3.5h-3.5zM12,48h3.5v3.5h-3.5zM45,48h6.5v3.5h-6.5zM60,48h3.5v3.5h-3.5zM72,48h3.5v3.5h-3.5zM39,51h3.5v3.5h-3.5zM48,51h3.5v3.5h-3.5zM72,51h3.5v3.5h-3.5zM51,54h3.5v3.5h-3.5zM75,54h3.5v3.5h-3.5zM12,57h3.5v3.5h-3.5zM36,57h3.5v3.5h-3.5zM51,57h3.5v3.5h-3.5zM72,60h3.5v3.5h-3.5zM12,63h3.5v3.5h-3.5zM18,63h3.5v3.5h-3.5zM24,63h6.5v3.5h-6.5zM75,63h3.5v3.5h-3.5zM18,66h3.5v3.5h-3.5zM30,66h3.5v3.5h-3.5zM54,66h3.5v3.5h-3.5zM63,66h3.5v3.5h-3.5zM75,66h3.5v3.5h-3.5zM12,69h3.5v3.5h-3.5zM57,69h3.5v3.5h-3.5zM66,69h3.5v3.5h-3.5zM75,69h3.5v3.5h-3.5zM30,72h3.5v3.5h-3.5zM60,72h3.5v3.5h-3.5zM36,75h3.5v3.5h-3.5zM63,78h3.5v3.5h-3.5zM30,81h3.5v3.5h-3.5zM60,81h9.5v3.5h-9.5zM72,81h6.5v3.5h-6.5zM78,84h3.5v3.5h-3.5zM78,90h3.5v3.5h-3.5zM159,90h3.5v3.5h-3.5zM30,93h3.5v3.5h-3.5zM51,93h3.5v3.5h-3.5zM48,96h9.5v3.5h-9.5zM60,96h3.5v3.5h-3.5zM162,96h3.5v3.5h-3.5zM81,102h3.5v3.5h-3.5zM144,102h3.5v3.5h-3.5zM150,102h3.5v3.5h-3.5zM162,102h3.5v3.5h-3.5zM45,105h3.5v3.5h-3.5zM54,105h6.5v3.5h-6.5zM78,105h3.5v3.5h-3.5zM174,105h3.5v3.5h-3.5zM51,108h3.5v3.5h-3.5zM159,108h3.5v3.5h-3.5zM171,108h3.5v3.5h-3.5zM177,108h3.5v3.5h-3.5zM60,111h6.5v3.5h-6.5zM147,114h3.5v3.5h-3.5zM174,114h3.5v3.5h-3.5zM60,117h3.5v3.5h-3.5zM174,117h3.5v3.5h-3.5zM60,120h3.5v3.5h-3.5zM66,120h6.5v3.5h-6.5zM147,120h3.5v3.5h-3.5zM174,120h3.5v3.5h-3.5zM63,123h3.5v3.5h-3.5zM147,123h3.5v3.5h-3.5zM174,123h3.5v3.5h-3.5zM159,126h3.5v3.5h-3.5zM66,129h6.5v3.5h-6.5zM168,132h3.5v3.5h-3.5zM174,132h3.5v3.5h-3.5zM66,135h3.5v3.5h-3.5zM171,135h3.5v3.5h-3.5zM168,138h3.5v3.5h-3.5zM177,138h3.5v3.5h-3.5zM48,144h3.5v3.5h-3.5zM69,144h3.5v3.5h-3.5zM51,147h12.5v3.5h-12.5z"/><path fill="#ffdede" d="M69,0h3.5v3.5h-3.5zM66,3h6.5v3.5h-6.5zM81,3h3.5v3.5h-3.5zM69,6h6.5v3.5h-6.5zM66,9h3.5v3.5h-3.5zM78,9h3.5v3.5h-3.5zM66,15h3.5v3.5h-3.5zM66,21h3.5v3.5h-3.5zM72,21h3.5v3.5h-3.5zM81,21h3.5v3.5h-3.5zM69,24h3.5v3.5h-3.5zM81,24h3.5v3.5h-3.5zM60,27h3.5v3.5h-3.5zM12,30h3.5v3.5h-3.5zM51,30h3.5v3.5h-3.5zM66,30h3.5v3.5h-3.5zM48,33h6.5v3.5h-6.5zM78,33h3.5v3.5h-3.5zM12,36h3.5v3.5h-3.5zM81,36h3.5v3.5h-3.5zM54,39h6.5v3.5h-6.5zM75,39h6.5v3.5h-6.5zM69,42h9.5v3.5h-9.5zM48,45h3.5v3.5h-3.5zM54,45h3.5v3.5h-3.5zM75,45h3.5v3.5h-3.5zM63,48h3.5v3.5h-3.5zM57,51h3.5v3.5h-3.5zM63,51h3.5v3.5h-3.5zM75,51h3.5v3.5h-3.5zM39,54h3.5v3.5h-3.5zM48,54h3.5v3.5h-3.5zM57,54h3.5v3.5h-3.5zM72,54h3.5v3.5h-3.5zM18,57h3.5v3.5h-3.5zM63,57h3.5v3.5h-3.5zM72,57h6.5v3.5h-6.5zM75,60h3.5v3.5h-3.5zM60,63h3.5v3.5h-3.5zM72,63h3.5v3.5h-3.5zM60,66h3.5v3.5h-3.5zM60,69h6.5v3.5h-6.5zM69,69h3.5v3.5h-3.5zM63,72h3.5v3.5h-3.5zM72,72h3.5v3.5h-3.5zM30,75h3.5v3.5h-3.5zM75,75h3.5v3.5h-3.5zM33,78h6.5v3.5h-6.5zM60,78h3.5v3.5h-3.5zM66,78h3.5v3.5h-3.5zM69,81h3.5v3.5h-3.5zM48,87h6.5v3.5h-6.5zM45,90h3.5v3.5h-3.5zM51,90h3.5v3.5h-3.5zM81,90h3.5v3.5h-3.5zM81,93h3.5v3.5h-3.5zM63,96h3.5v3.5h-3.5zM48,99h3.5v3.5h-3.5zM54,99h3.5v3.5h-3.5zM45,102h3.5v3.5h-3.5zM54,102h6.5v3.5h-6.5zM48,108h3.5v3.5h-3.5zM72,108h3.5v3.5h-3.5zM72,111h3.5v3.5h-3.5zM60,114h3.5v3.5h-3.5zM69,114h3.5v3.5h-3.5zM66,117h3.5v3.5h-3.5zM66,123h3.5v3.5h-3.5zM60,126h3.5v3.5h-3.5zM66,126h3.5v3.5h-3.5zM60,129h3.5v3.5h-3.5zM60,135h3.5v3.5h-3.5zM159,135h3.5v3.5h-3.5zM174,138h3.5v3.5h-3.5z"/><path fill="#ffd2d2" d="M72,0h3.5v3.5h-3.5zM72,3h3.5v3.5h-3.5zM78,3h3.5v3.5h-3.5zM78,6h6.5v3.5h-6.5zM72,12h9.5v3.5h-9.5zM75,15h3.5v3.5h-3.5zM66,18h9.5v3.5h-9.5zM81,18h3.5v3.5h-3.5zM69,21h3.5v3.5h-3.5zM75,21h3.5v3.5h-3.5zM75,24h3.5v3.5h-3.5zM72,27h3.5v3.5h-3.5zM78,27h3.5v3.5h-3.5zM54,30h3.5v3.5h-3.5zM63,30h3.5v3.5h-3.5zM78,30h3.5v3.5h-3.5zM63,33h3.5v3.5h-3.5zM81,33h3.5v3.5h-3.5zM51,36h9.5v3.5h-9.5zM51,39h3.5v3.5h-3.5zM51,45h3.5v3.5h-3.5zM51,48h9.5v3.5h-9.5zM60,51h3.5v3.5h-3.5zM54,54h3.5v3.5h-3.5zM54,57h9.5v3.5h-9.5zM60,60h3.5v3.5h-3.5zM15,66h3.5v3.5h-3.5zM57,66h3.5v3.5h-3.5zM15,69h3.5v3.5h-3.5zM18,72h3.5v3.5h-3.5zM18,75h6.5v3.5h-6.5zM27,75h3.5v3.5h-3.5zM72,75h3.5v3.5h-3.5zM30,78h3.5v3.5h-3.5zM39,78h3.5v3.5h-3.5zM72,78h3.5v3.5h-3.5zM30,84h3.5v3.5h-3.5zM42,87h3.5v3.5h-3.5zM78,87h3.5v3.5h-3.5zM30,90h3.5v3.5h-3.5zM48,90h3.5v3.5h-3.5zM66,90h3.5v3.5h-3.5zM33,93h3.5v3.5h-3.5zM45,93h6.5v3.5h-6.5zM66,93h3.5v3.5h-3.5zM78,93h3.5v3.5h-3.5zM42,96h6.5v3.5h-6.5zM45,99h3.5v3.5h-3.5zM51,99h3.5v3.5h-3.5zM57,99h6.5v3.5h-6.5zM42,102h3.5v3.5h-3.5zM48,102h3.5v3.5h-3.5zM60,102h6.5v3.5h-6.5zM63,108h3.5v3.5h-3.5zM63,114h6.5v3.5h-6.5zM63,117h3.5v3.5h-3.5zM63,120h3.5v3.5h-3.5zM63,129h3.5v3.5h-3.5z"/><path fill="#ffc4c4" d="M75,3h3.5v3.5h-3.5zM75,6h3.5v3.5h-3.5zM75,9h3.5v3.5h-3.5zM72,15h3.5v3.5h-3.5zM75,27h3.5v3.5h-3.5zM57,30h3.5v3.5h-3.5zM54,33h3.5v3.5h-3.5zM60,33h3.5v3.5h-3.5zM48,36h3.5v3.5h-3.5zM48,39h3.5v3.5h-3.5zM48,42h3.5v3.5h-3.5zM54,51h3.5v3.5h-3.5zM63,54h3.5v3.5h-3.5zM27,66h3.5v3.5h-3.5zM18,69h6.5v3.5h-6.5zM27,69h3.5v3.5h-3.5zM21,72h3.5v3.5h-3.5zM27,72h3.5v3.5h-3.5zM69,72h3.5v3.5h-3.5zM24,75h3.5v3.5h-3.5zM66,75h3.5v3.5h-3.5zM33,81h3.5v3.5h-3.5zM39,81h3.5v3.5h-3.5zM45,84h3.5v3.5h-3.5zM72,84h6.5v3.5h-6.5zM30,87h3.5v3.5h-3.5zM42,90h3.5v3.5h-3.5zM69,90h3.5v3.5h-3.5zM36,99h6.5v3.5h-6.5zM51,102h3.5v3.5h-3.5zM72,102h3.5v3.5h-3.5zM78,102h3.5v3.5h-3.5zM48,105h6.5v3.5h-6.5zM60,105h6.5v3.5h-6.5zM66,111h6.5v3.5h-6.5zM63,126h3.5v3.5h-3.5z"/><path fill="#ffb6b6" d="M75,0h3.5v3.5h-3.5zM72,9h3.5v3.5h-3.5zM78,15h3.5v3.5h-3.5zM75,18h3.5v3.5h-3.5zM78,21h3.5v3.5h-3.5zM72,24h3.5v3.5h-3.5zM78,24h3.5v3.5h-3.5zM57,33h3.5v3.5h-3.5zM78,36h3.5v3.5h-3.5zM51,42h3.5v3.5h-3.5zM60,54h3.5v3.5h-3.5zM21,66h6.5v3.5h-6.5zM24,69h3.5v3.5h-3.5zM24,72h3.5v3.5h-3.5zM66,72h3.5v3.5h-3.5zM69,75h3.5v3.5h-3.5zM42,84h3.5v3.5h-3.5zM45,87h3.5v3.5h-3.5zM33,90h9.5v3.5h-9.5zM75,90h3.5v3.5h-3.5zM42,93h3.5v3.5h-3.5zM75,93h3.5v3.5h-3.5zM42,99h3.5v3.5h-3.5zM63,99h3.5v3.5h-3.5zM72,105h6.5v3.5h-6.5z"/><path fill="#ffaaaa" d="M78,0h3.5v3.5h-3.5zM60,30h3.5v3.5h-3.5zM36,81h3.5v3.5h-3.5zM33,84h3.5v3.5h-3.5zM36,87h3.5v3.5h-3.5zM72,87h6.5v3.5h-6.5zM36,93h6.5v3.5h-6.5zM69,93h6.5v3.5h-6.5zM36,96h6.5v3.5h-6.5zM75,96h3.5v3.5h-3.5zM66,108h3.5v3.5h-3.5z"/><path fill="#ff9c9c" d="M78,18h3.5v3.5h-3.5zM39,84h3.5v3.5h-3.5zM72,90h3.5v3.5h-3.5zM66,96h6.5v3.5h-6.5zM81,96h3.5v3.5h-3.5zM72,99h3.5v3.5h-3.5zM75,102h3.5v3.5h-3.5zM69,108h3.5v3.5h-3.5z"/><path fill="#ff9090" d="M36,84h3.5v3.5h-3.5zM39,87h3.5v3.5h-3.5zM72,96h3.5v3.5h-3.5zM66,99h3.5v3.5h-3.5zM66,105h3.5v3.5h-3.5z"/><path fill="#ff8282" d="M33,87h3.5v3.5h-3.5zM78,96h3.5v3.5h-3.5zM69,99h3.5v3.5h-3.5zM75,99h3.5v3.5h-3.5zM81,99h3.5v3.5h-3.5zM69,102h3.5v3.5h-3.5z"/><path fill="#ff7676" d="M66,102h3.5v3.5h-3.5zM69,105h3.5v3.5h-3.5z"/><path fill="#ff6868" d="M78,99h3.5v3.5h-3.5z"/></g><use href="#lines"/><use href="#grid"/></g><rect width="180.0" height="150.0" fill="none" stroke="#222" stroke-width="0.85"/></g><rect x="262.45" y="184.0" width="180.0" height="7.4" fill="url(#gbwr)" stroke="#222" stroke-width="0.8"/><line x1="262.45" x2="262.45" y1="191.4" y2="194.0" stroke="#222" stroke-width="0.8"/><rect x="252.58" y="200.91" width="6.50" height="0.95" fill="#000"/><text x="260.19" y="204.60" font-size="11.02" text-anchor="start" textLength="13.23" lengthAdjust="spacing" fill="#000">10</text><line x1="307.45" x2="307.45" y1="191.4" y2="194.0" stroke="#222" stroke-width="0.8"/><rect x="300.89" y="200.91" width="6.50" height="0.95" fill="#000"/><text x="308.50" y="204.60" font-size="11.02" text-anchor="start" textLength="6.62" lengthAdjust="spacing" fill="#000">5</text><line x1="352.45" x2="352.45" y1="191.4" y2="194.0" stroke="#222" stroke-width="0.8"/><text x="352.45" y="204.60" font-size="11.02" text-anchor="middle" textLength="6.62" lengthAdjust="spacing" fill="#000">0</text><line x1="397.45" x2="397.45" y1="191.4" y2="194.0" stroke="#222" stroke-width="0.8"/><text x="397.45" y="204.60" font-size="11.02" text-anchor="middle" textLength="6.62" lengthAdjust="spacing" fill="#000">5</text><line x1="442.45" x2="442.45" y1="191.4" y2="194.0" stroke="#222" stroke-width="0.8"/><text x="442.45" y="204.60" font-size="11.02" text-anchor="middle" textLength="13.23" lengthAdjust="spacing" fill="#000">10</text><text x="352.45" y="217.40" font-size="10.60" text-anchor="middle" textLength="93.00" lengthAdjust="spacing" fill="#000">Temperature ( °C)</text><rect x="502.6" y="14.45" width="180.39999999999998" height="180.85" fill="#fff"/><g clip-path="url(#sc0)"><path d="M585.8,103.4h0M580.8,103.4h0M604.7,103.4h0M591.1,103.4h0M608.6,103.4h0M552.0,103.4h0M626.5,103.4h0M590.2,103.4h0M607.1,103.4h0M589.3,103.4h0M584.0,103.4h0M602.4,103.4h0M610.3,103.4h0M587.9,103.4h0M588.9,103.4h0M607.2,103.4h0M573.3,103.4h0M559.2,103.4h0M600.9,103.4h0M530.3,154.4h0M514.5,154.4h0M508.0,154.4h0M541.3,154.4h0M560.1,154.4h0M535.4,154.4h0M524.3,154.4h0M548.9,154.4h0M590.4,106.0h0M577.1,106.0h0M602.5,106.0h0M600.3,106.0h0M618.9,106.0h0M566.9,106.0h0M580.5,106.0h0M576.6,106.0h0M557.1,106.0h0M574.1,151.5h0M561.8,151.5h0M557.5,151.5h0M552.6,151.5h0M564.7,151.5h0M514.8,151.5h0M557.3,151.5h0M557.0,151.5h0M551.4,151.5h0M538.4,151.5h0M613.1,113.2h0M571.1,113.2h0M603.3,113.2h0M587.9,113.2h0M601.0,113.2h0M578.8,113.2h0M613.9,113.2h0M603.4,113.2h0M586.3,113.2h0M604.0,113.2h0M617.7,113.2h0M629.3,113.2h0M555.9,113.2h0M609.5,113.2h0M600.4,113.2h0M588.2,113.2h0M568.3,113.2h0M617.7,113.2h0M548.4,109.3h0M576.7,109.3h0M554.7,109.3h0M588.6,109.3h0M616.3,109.3h0M627.4,109.3h0M544.5,109.3h0M570.7,109.3h0M598.6,109.3h0M617.7,109.3h0M592.4,109.3h0M567.0,109.3h0M589.7,109.3h0M582.9,109.3h0M578.8,109.3h0M567.2,109.3h0M591.7,109.3h0M590.0,109.3h0M581.2,109.3h0M568.2,129.3h0M540.9,129.3h0M601.4,129.3h0M583.9,129.3h0M618.3,129.3h0M573.7,129.3h0M562.3,129.3h0M540.7,129.3h0M601.2,129.3h0M628.4,129.3h0M554.4,129.3h0M558.2,129.3h0M585.3,129.3h0M554.2,129.3h0M566.4,129.3h0M564.7,129.3h0M661.8,75.8h0M632.6,75.8h0M648.9,75.8h0M595.1,75.8h0M610.1,75.8h0M659.1,75.8h0M628.8,75.8h0M654.4,75.8h0M653.5,75.8h0M670.6,75.8h0M659.4,75.8h0M663.9,75.8h0M639.3,75.8h0M626.5,75.8h0M625.8,75.8h0M631.1,75.8h0M617.1,75.8h0M629.8,75.8h0M639.7,75.8h0M647.2,75.8h0M634.3,75.8h0M599.7,75.8h0M640.1,75.8h0M576.3,107.9h0M635.9,107.9h0M608.6,107.9h0M632.0,107.9h0M638.5,107.9h0M574.2,107.9h0M600.5,107.9h0M602.1,107.9h0M604.3,107.9h0M603.9,107.9h0M596.5,107.9h0M595.9,107.9h0M559.3,107.9h0M588.5,107.9h0M575.8,107.9h0M594.8,107.9h0M641.8,75.2h0M642.0,75.2h0M637.1,75.2h0M625.3,75.2h0M631.5,75.2h0M624.3,75.2h0M643.5,75.2h0M635.4,75.2h0M647.7,75.2h0M606.1,75.2h0M654.4,75.2h0M618.4,75.2h0M619.0,75.2h0M630.8,75.2h0M622.8,75.2h0M641.4,75.2h0M622.5,75.2h0M551.1,114.1h0M576.8,114.1h0M542.6,114.1h0M615.6,114.1h0M543.3,114.1h0M587.0,114.1h0M588.4,114.1h0M544.9,114.1h0M583.1,114.1h0M598.3,114.1h0M586.8,114.1h0M582.3,114.1h0M597.3,114.1h0M580.1,114.1h0M605.3,113.0h0M571.0,113.0h0M608.8,113.0h0M580.5,113.0h0M567.8,113.0h0M599.5,113.0h0M628.5,113.0h0M612.5,113.0h0M580.3,113.0h0M606.8,113.0h0M581.6,113.0h0M588.8,113.0h0M593.5,113.0h0M541.0,113.0h0M595.7,113.0h0M569.1,113.0h0M576.3,113.0h0M559.4,113.0h0M558.5,113.0h0M571.0,113.0h0M609.6,113.0h0M627.9,113.0h0M644.9,77.8h0M651.3,77.8h0M632.3,77.8h0M648.2,77.8h0M654.1,77.8h0M622.8,77.8h0M609.4,77.8h0M636.8,77.8h0M637.0,77.8h0M633.9,77.8h0M663.1,77.8h0M563.5,142.5h0M558.5,142.5h0M565.8,142.5h0M534.5,142.5h0M559.1,142.5h0M587.1,142.5h0M560.5,142.5h0M529.4,142.5h0M556.2,142.5h0M570.5,142.5h0M551.0,142.5h0M623.5,97.2h0M597.8,97.2h0M650.5,97.2h0M631.4,97.2h0M598.4,97.2h0M637.0,97.2h0M614.4,97.2h0M582.3,97.2h0M608.8,97.2h0M629.6,97.2h0M637.7,97.2h0M627.5,97.2h0M624.8,97.2h0M580.1,114.8h0M583.3,114.8h0M588.7,114.8h0M553.8,114.8h0M561.4,114.8h0M610.2,114.8h0M584.2,114.8h0M570.7,114.8h0M584.3,114.8h0M566.4,114.8h0M583.0,114.8h0M562.3,114.8h0M582.9,114.8h0M542.5,114.8h0M605.9,114.8h0M565.7,114.8h0M542.4,114.8h0M572.0,114.8h0M568.8,114.8h0M577.7,99.3h0M612.9,99.3h0M598.8,99.3h0M609.8,99.3h0M566.0,99.3h0M580.5,99.3h0M615.6,99.3h0M604.7,99.3h0M641.2,99.3h0M590.2,99.3h0M609.4,99.3h0M669.1,99.3h0M588.9,99.3h0M622.2,103.6h0M606.6,103.6h0M587.3,103.6h0M608.4,103.6h0M661.4,103.6h0M631.5,103.6h0M543.1,103.6h0M600.7,103.6h0M584.7,103.6h0M617.4,103.6h0M600.0,103.6h0M646.0,103.6h0M624.1,103.6h0M623.2,103.6h0M607.9,103.6h0M602.9,103.6h0M611.2,103.6h0M632.0,103.6h0M615.4,103.6h0M596.1,103.6h0M631.6,103.6h0M588.5,109.6h0M541.4,109.6h0M624.5,109.6h0M614.7,109.6h0M597.7,109.6h0M625.2,109.6h0M611.9,109.6h0M610.5,109.6h0M548.4,109.6h0M597.3,109.6h0M614.0,109.6h0M634.6,53.1h0M612.0,53.1h0M672.4,53.1h0M660.6,53.1h0M681.0,53.1h0M657.2,53.1h0M664.8,53.1h0M627.3,53.1h0M669.8,53.1h0M650.3,53.1h0M667.6,53.1h0M670.0,53.1h0M657.4,53.1h0M666.9,53.1h0M659.7,53.1h0M676.6,53.1h0M670.9,53.1h0M648.1,53.1h0M555.4,145.1h0M534.5,145.1h0M530.5,145.1h0M549.5,145.1h0M552.4,145.1h0M560.2,145.1h0M519.2,145.1h0M533.9,145.1h0M579.6,143.5h0M558.2,143.5h0M579.4,143.5h0M559.3,143.5h0M578.0,143.5h0M604.2,143.5h0M577.8,143.5h0M579.5,143.5h0M578.2,143.5h0M553.7,143.5h0M581.9,143.5h0M565.5,143.5h0M552.3,143.5h0M569.2,143.5h0M565.1,143.5h0M586.5,143.5h0M569.1,143.5h0M558.5,143.5h0M601.8,143.5h0M638.4,67.6h0M641.5,67.6h0M668.3,67.6h0M650.0,67.6h0M615.2,67.6h0M646.7,67.6h0M616.7,67.6h0M651.2,67.6h0M621.3,67.6h0M620.0,67.6h0M650.2,67.6h0M645.9,67.6h0M611.3,67.6h0M663.9,67.6h0M615.3,67.6h0M632.6,67.6h0M627.3,116.5h0M609.7,116.5h0M582.6,116.5h0M592.9,116.5h0M565.9,116.5h0M591.4,116.5h0M619.4,116.5h0M561.5,116.5h0M589.4,116.5h0M602.2,116.5h0M621.8,116.5h0M628.4,116.5h0M589.0,116.5h0M582.8,116.5h0M608.8,116.5h0M591.0,116.5h0M568.4,114.4h0M585.1,114.4h0M531.4,114.4h0M572.2,114.4h0M549.5,114.4h0M624.7,114.4h0M588.3,114.4h0M575.7,114.4h0M568.4,114.4h0M545.9,122.6h0M576.7,122.6h0M577.5,122.6h0M528.0,122.6h0M582.2,122.6h0M591.3,122.6h0M566.8,122.6h0M560.4,122.6h0M579.0,122.6h0M528.2,122.6h0M631.2,85.3h0M595.0,85.3h0M638.0,85.3h0M619.2,85.3h0M647.3,85.3h0M614.8,85.3h0M663.3,85.3h0M624.2,85.3h0M648.1,85.3h0M598.8,102.2h0M585.5,102.2h0M566.8,102.2h0M619.4,102.2h0M610.1,102.2h0M587.0,102.2h0M599.4,102.2h0M571.7,102.2h0M572.0,102.2h0M576.1,102.2h0M601.8,102.2h0M583.7,115.5h0M602.6,115.5h0M573.7,115.5h0M577.5,115.5h0M590.3,115.5h0M579.2,115.5h0M597.3,115.5h0M552.6,115.5h0M611.1,115.5h0M562.9,115.5h0M576.4,115.5h0M549.9,115.5h0M593.0,115.5h0M607.7,115.5h0M603.3,115.5h0M598.1,115.5h0M546.0,115.5h0M613.9,119.9h0M593.5,119.9h0M588.9,119.9h0M600.1,119.9h0M568.7,119.9h0M569.6,119.9h0M570.2,119.9h0M600.3,119.9h0M596.9,119.9h0M602.1,119.9h0M613.0,119.9h0M559.8,119.9h0M577.2,119.9h0M592.7,119.9h0M560.0,119.9h0M577.8,119.9h0M611.6,119.9h0M613.5,119.9h0M612.9,119.9h0M590.4,119.9h0M584.8,119.9h0M613.0,119.9h0M581.3,119.9h0M642.0,78.0h0M655.3,78.0h0M652.7,78.0h0M645.6,78.0h0M654.4,78.0h0M607.3,78.0h0M623.5,78.0h0M645.8,78.0h0M622.0,78.0h0M612.9,78.0h0M615.9,78.0h0M622.2,78.0h0M638.3,78.0h0M619.9,78.0h0M647.3,78.0h0M679.2,78.0h0M639.0,78.0h0M670.0,78.0h0M546.0,131.3h0M584.1,131.3h0M542.2,131.3h0M596.2,131.3h0M580.0,131.3h0M523.3,131.3h0M584.5,131.3h0M601.3,131.3h0M550.1,131.3h0M588.9,131.3h0M528.1,131.3h0M572.9,131.3h0M531.1,131.3h0M602.8,157.7h0M539.9,157.7h0M571.0,157.7h0M555.3,157.7h0M545.9,157.7h0M566.3,157.7h0M588.8,157.7h0M526.0,157.7h0M565.2,157.7h0M560.5,157.7h0M521.8,157.7h0M588.1,157.7h0M595.4,157.7h0M532.1,157.7h0M590.8,157.7h0M554.1,157.7h0M549.4,157.7h0M645.7,94.8h0M640.7,94.8h0M632.1,94.8h0M582.0,94.8h0M578.3,94.8h0M637.2,94.8h0M592.4,94.8h0M615.8,94.8h0M589.2,94.8h0M608.6,94.8h0M584.7,94.8h0M648.2,94.8h0M590.4,94.8h0M609.9,94.8h0M608.5,94.8h0M638.9,94.8h0M581.6,94.8h0M611.9,94.8h0M585.8,116.8h0M572.4,116.8h0M590.8,116.8h0M578.4,116.8h0M566.3,116.8h0M580.0,116.8h0M588.5,116.8h0M630.0,116.8h0M569.9,116.8h0M587.3,116.8h0M612.5,116.8h0M535.3,116.8h0M618.3,132.0h0M573.6,132.0h0M591.4,132.0h0M560.2,132.0h0M511.3,132.0h0M514.6,132.0h0M587.3,132.0h0M569.1,132.0h0M536.7,132.0h0M589.4,132.0h0M531.5,132.0h0M589.8,132.0h0M596.7,132.0h0M548.4,132.0h0M540.9,132.0h0M583.5,132.0h0M541.2,132.0h0M518.8,152.4h0M508.7,152.4h0M533.4,152.4h0M522.2,152.4h0M519.6,152.4h0M543.0,152.4h0M565.6,152.4h0M521.4,152.4h0M558.5,152.4h0M564.5,152.4h0M524.1,152.4h0M508.8,152.4h0M528.6,152.4h0M513.2,152.4h0M660.4,62.0h0M664.8,62.0h0M656.0,62.0h0M675.6,62.0h0M676.5,62.0h0M649.2,62.0h0M659.6,62.0h0M666.5,62.0h0M653.2,62.0h0M657.5,62.0h0M633.3,62.0h0M672.0,62.0h0M637.6,62.0h0M646.4,62.0h0M664.4,62.0h0M654.5,62.0h0M581.9,111.7h0M585.2,111.7h0M642.1,111.7h0M585.6,111.7h0M630.1,111.7h0M626.4,111.7h0M594.3,111.7h0M566.7,111.7h0M607.5,111.7h0M612.3,111.7h0M618.8,111.7h0M599.2,111.7h0M623.9,111.7h0M628.0,111.7h0M574.7,111.7h0M628.8,111.7h0M601.5,111.7h0M585.3,111.7h0M572.8,123.8h0M565.5,123.8h0M544.9,123.8h0M595.5,123.8h0M556.2,123.8h0M568.6,123.8h0M563.5,123.8h0M560.8,123.8h0M592.9,123.8h0M585.0,123.8h0M562.0,123.8h0M556.1,123.8h0M566.4,123.8h0M597.8,123.8h0M579.4,123.8h0M581.8,123.8h0M569.5,123.8h0M595.1,109.6h0M599.8,109.6h0M641.4,109.6h0M617.1,109.6h0M613.2,109.6h0M599.5,109.6h0M578.2,109.6h0M616.3,109.6h0M638.3,109.6h0M592.6,109.6h0M642.0,109.6h0M587.6,109.6h0M596.2,109.6h0M623.3,109.6h0M612.2,109.6h0M627.3,109.6h0M596.1,109.6h0M589.7,109.6h0M571.5,109.6h0M586.0,109.6h0M588.8,109.6h0M581.1,109.6h0M619.0,109.6h0M520.0,133.9h0M510.8,133.9h0M565.3,133.9h0M563.7,133.9h0M513.1,133.9h0M506.1,133.9h0M516.4,133.9h0M562.9,133.9h0M531.4,133.9h0M520.6,133.9h0M537.6,133.9h0M564.5,133.9h0M507.9,133.9h0M529.9,133.9h0M508.1,133.9h0M585.6,133.9h0M577.9,133.9h0M559.0,133.9h0M535.3,133.9h0M552.6,133.9h0M544.3,133.9h0M509.1,133.9h0M596.6,121.9h0M587.0,121.9h0M560.7,121.9h0M596.1,121.9h0M578.7,121.9h0M607.1,121.9h0M561.3,121.9h0M521.0,121.9h0M570.9,121.9h0M640.0,92.4h0M631.7,92.4h0M630.8,92.4h0M609.5,92.4h0M622.4,92.4h0M625.1,92.4h0M606.7,92.4h0M596.3,92.4h0M623.7,92.4h0M641.8,92.4h0M634.8,92.4h0M631.5,92.4h0M631.7,92.4h0M677.1,92.4h0M661.2,52.8h0M678.2,52.8h0M662.3,52.8h0M663.3,52.8h0M657.4,52.8h0M629.1,52.8h0M679.8,52.8h0M649.9,52.8h0M617.9,52.8h0M652.3,52.8h0M617.7,52.8h0M633.5,52.8h0M655.9,52.8h0M635.4,52.8h0M678.9,52.8h0M623.5,52.8h0M587.7,119.7h0M572.6,119.7h0M569.3,119.7h0M566.3,119.7h0M592.4,119.7h0M553.2,119.7h0M578.9,119.7h0M565.5,119.7h0M572.8,119.7h0M561.9,119.7h0M614.2,119.7h0M553.3,119.7h0M553.4,142.3h0M565.6,142.3h0M511.3,142.3h0M544.4,142.3h0M517.3,142.3h0M549.2,142.3h0M518.4,142.3h0M523.2,142.3h0M542.9,142.3h0M574.6,142.3h0M556.8,142.3h0M550.7,142.3h0M574.8,142.3h0M523.6,142.3h0M534.9,142.3h0M538.1,142.3h0M571.1,142.3h0M590.9,142.3h0M515.2,142.3h0M598.2,142.3h0M578.3,142.3h0M562.5,142.3h0M657.9,56.4h0M671.2,56.4h0M638.3,56.4h0M678.5,56.4h0M665.8,56.4h0M675.4,56.4h0M676.1,56.4h0M645.1,56.4h0M611.2,97.9h0M585.2,97.9h0M604.0,97.9h0M588.9,97.9h0M555.5,97.9h0M578.8,97.9h0M604.6,97.9h0M616.7,97.9h0M571.1,97.9h0M556.7,97.9h0M584.1,97.9h0M598.5,97.9h0M589.3,97.9h0M585.4,97.9h0M621.7,97.9h0M624.2,97.9h0M570.1,124.2h0M543.2,124.2h0M593.6,124.2h0M576.3,124.2h0M563.8,124.2h0M605.3,124.2h0M591.0,124.2h0M593.0,124.2h0M600.5,124.2h0M590.0,124.2h0M546.7,124.2h0M565.9,124.2h0M596.2,124.2h0M557.6,124.2h0M575.1,124.2h0M583.0,124.2h0M605.8,124.2h0M602.7,124.2h0M593.9,124.2h0M666.1,76.3h0M647.2,76.3h0M619.9,76.3h0M664.1,76.3h0M630.9,76.3h0M649.4,76.3h0M603.2,76.3h0M636.0,76.3h0M615.8,76.3h0M615.2,76.3h0M594.7,76.3h0M633.1,76.3h0M641.6,76.3h0M660.5,76.3h0M633.7,76.3h0M647.6,76.3h0M606.7,76.3h0M640.6,76.3h0M574.0,101.9h0M563.8,101.9h0M582.1,101.9h0M620.3,101.9h0M613.5,101.9h0M613.0,101.9h0M560.1,101.9h0M545.5,101.9h0M590.6,101.9h0M596.9,101.9h0M591.0,101.9h0M611.9,101.9h0M600.4,101.9h0M578.3,101.9h0M584.9,101.9h0M607.2,101.9h0M605.7,101.9h0M602.5,101.9h0M653.6,101.9h0M598.4,101.9h0M670.6,66.4h0M654.8,66.4h0M666.9,66.4h0M659.4,66.4h0M617.2,66.4h0M586.8,66.4h0M676.3,66.4h0M657.0,66.4h0M620.3,66.4h0M630.4,66.4h0M597.4,66.4h0M651.1,66.4h0M677.2,66.4h0M661.3,66.4h0M674.7,66.4h0M655.3,66.4h0M635.8,66.4h0M559.1,125.0h0M583.2,125.0h0M548.7,125.0h0M534.5,125.0h0M590.9,125.0h0M594.5,125.0h0M593.8,125.0h0M550.8,125.0h0M576.8,132.3h0M534.4,132.3h0M570.0,132.3h0M566.1,132.3h0M567.7,132.3h0M565.2,132.3h0M561.3,132.3h0M578.7,132.3h0M568.5,132.3h0M570.6,132.3h0M550.6,132.3h0M574.4,132.3h0M563.1,132.3h0M519.6,132.3h0M576.3,132.3h0M560.0,132.3h0M585.9,132.3h0M562.2,132.3h0M563.6,132.3h0M570.3,132.3h0M565.5,132.3h0M572.6,88.5h0M599.6,88.5h0M621.3,88.5h0M615.4,88.5h0M619.4,88.5h0M623.8,88.5h0M634.6,88.5h0M613.5,88.5h0M670.5,88.5h0M585.0,88.5h0M612.0,88.5h0M599.2,88.5h0M595.2,88.5h0M613.3,88.5h0M638.9,88.5h0M591.6,88.5h0M591.6,88.5h0M622.9,88.5h0M618.9,88.5h0M649.8,88.5h0M629.5,88.5h0M600.9,82.4h0M630.8,82.4h0M626.8,82.4h0M625.6,82.4h0M621.3,82.4h0M667.5,82.4h0M645.9,82.4h0M651.1,82.4h0M617.4,82.4h0M608.4,82.4h0M624.5,82.4h0M636.0,82.4h0M623.1,82.4h0M626.6,82.4h0M651.6,82.4h0M637.2,82.4h0M609.2,82.4h0M593.6,91.1h0M615.1,91.1h0M634.2,91.1h0M619.7,91.1h0M599.1,91.1h0M605.6,91.1h0M621.8,91.1h0M629.6,91.1h0M637.3,91.1h0M615.9,91.1h0M590.3,91.1h0M554.6,119.7h0M570.3,119.7h0M582.8,119.7h0M599.7,119.7h0M578.5,119.7h0M509.2,119.7h0M572.0,119.7h0M584.9,119.7h0M605.4,119.7h0M592.7,119.7h0M631.5,119.7h0M608.3,119.7h0M606.6,119.7h0M597.8,119.7h0M547.1,119.7h0M595.7,119.7h0M590.3,119.7h0M565.7,119.7h0M590.0,119.7h0M586.3,119.7h0M567.1,119.7h0M602.3,96.1h0M623.5,96.1h0M569.7,96.1h0M605.4,96.1h0M574.8,96.1h0M601.0,96.1h0M622.8,96.1h0M612.0,96.1h0M609.2,96.1h0M613.1,96.1h0M645.8,96.1h0M587.4,96.1h0M630.9,96.1h0M578.6,96.1h0M601.4,96.1h0M615.1,96.1h0M593.0,96.1h0M616.0,96.1h0M527.0,128.7h0M565.2,128.7h0M551.9,128.7h0M598.5,128.7h0M550.2,128.7h0M606.4,128.7h0M557.7,128.7h0M611.6,128.7h0M581.1,128.7h0M579.2,128.7h0M673.1,71.1h0M627.7,71.1h0M608.0,71.1h0M577.0,71.1h0M626.8,71.1h0M651.8,71.1h0M643.5,71.1h0M637.8,71.1h0M627.6,71.1h0M621.3,71.1h0M629.1,71.1h0M643.7,71.1h0M596.8,71.1h0M651.2,71.1h0M603.4,71.1h0M631.8,71.1h0M621.4,71.1h0M627.2,71.1h0M619.7,132.0h0M557.0,132.0h0M551.7,132.0h0M554.1,132.0h0M542.7,132.0h0M512.4,132.0h0M560.5,132.0h0M572.8,132.0h0M533.2,132.0h0M566.1,132.0h0M539.6,132.0h0M565.2,132.0h0M573.9,132.0h0M576.6,132.0h0M575.5,132.0h0M550.6,132.0h0M585.2,132.0h0M556.2,132.0h0M573.6,132.0h0M581.4,132.0h0M559.4,132.0h0M578.8,114.7h0M574.2,114.7h0M616.6,114.7h0M594.7,114.7h0M549.2,114.7h0M614.3,114.7h0M643.4,114.7h0M637.5,114.7h0M585.9,114.7h0M599.9,114.7h0M609.3,114.7h0M617.7,114.7h0M599.0,114.7h0M574.4,114.7h0M614.7,114.7h0M559.7,137.5h0M571.2,137.5h0M577.1,137.5h0M571.5,137.5h0M557.2,137.5h0M530.3,137.5h0M573.1,137.5h0M590.3,137.5h0M602.8,137.5h0M559.0,137.5h0M558.9,137.5h0M591.3,137.5h0M591.1,137.5h0M595.7,118.0h0M563.5,118.0h0M592.9,118.0h0M562.1,118.0h0M576.9,118.0h0M577.4,118.0h0M569.9,118.0h0M534.0,118.0h0M562.1,118.0h0M587.4,118.0h0M578.8,118.0h0M571.5,118.0h0M589.5,118.0h0M595.1,118.0h0M598.6,118.0h0M562.5,118.0h0M631.3,87.7h0M614.4,87.7h0M680.4,87.7h0M631.3,87.7h0M628.5,87.7h0M624.7,87.7h0M674.3,87.7h0M612.9,87.7h0M599.2,106.8h0M623.9,106.8h0M569.0,106.8h0M599.5,106.8h0M635.2,106.8h0M588.8,106.8h0M596.1,106.8h0M580.6,106.8h0M542.8,106.8h0M597.7,106.8h0M625.6,106.8h0M589.7,106.8h0M559.7,106.8h0M605.8,106.8h0M601.7,106.8h0M621.8,106.8h0M619.8,106.8h0M594.0,106.8h0M608.7,106.8h0M560.7,106.8h0M624.2,106.8h0M604.0,106.8h0M623.6,106.8h0M549.3,110.9h0M591.5,110.9h0M597.7,110.9h0M570.7,110.9h0M609.9,110.9h0M596.5,110.9h0M604.3,110.9h0M577.6,110.9h0M555.9,110.9h0M611.4,110.9h0M607.7,110.9h0M592.0,110.9h0M585.2,110.9h0M588.3,110.9h0M604.1,128.8h0M554.3,128.8h0M579.7,128.8h0M580.3,128.8h0M592.6,128.8h0M551.8,128.8h0M613.3,128.8h0M601.3,128.8h0M603.8,128.8h0M614.6,128.8h0M569.6,128.8h0M518.6,128.8h0M594.3,128.8h0M615.7,128.8h0M612.4,128.8h0M575.4,128.8h0M585.1,128.8h0M593.4,128.8h0M568.0,123.1h0M616.5,123.1h0M582.5,123.1h0M545.7,123.1h0M630.6,123.1h0M561.1,123.1h0M595.8,123.1h0M619.5,123.1h0M570.7,123.1h0M555.5,123.1h0M605.0,123.1h0M583.8,123.1h0M555.6,123.1h0M558.7,123.1h0M573.8,123.1h0M603.4,123.1h0M576.1,123.1h0M585.1,130.9h0M580.6,130.9h0M518.6,130.9h0M580.4,130.9h0M560.9,130.9h0M551.0,130.9h0M530.0,130.9h0M519.0,130.9h0M529.5,130.9h0M553.2,130.9h0M528.1,130.9h0M535.9,130.9h0M540.3,130.9h0M568.2,130.9h0M547.3,130.9h0M550.5,130.9h0M582.6,130.9h0M546.7,130.9h0M566.8,130.9h0M530.6,130.9h0M560.9,130.9h0M553.5,138.0h0M549.8,138.0h0M582.5,138.0h0M579.8,138.0h0M533.8,138.0h0M573.7,138.0h0M549.5,138.0h0M570.0,138.0h0M549.5,138.0h0M527.9,138.0h0M582.2,138.0h0M569.9,138.0h0M533.3,138.0h0M518.7,138.0h0M548.3,138.0h0M534.2,138.0h0M552.1,138.0h0M679.7,69.2h0M644.8,69.2h0M617.9,69.2h0M672.9,69.2h0M667.6,69.2h0M671.4,69.2h0M631.5,69.2h0M658.6,69.2h0M648.4,69.2h0M666.7,69.2h0M587.6,69.2h0M634.6,69.2h0M671.4,69.2h0M644.0,69.2h0M659.8,69.2h0M668.4,69.2h0M658.8,69.2h0M668.1,65.5h0M641.0,65.5h0M657.6,65.5h0M660.7,65.5h0M660.3,65.5h0M632.8,65.5h0M627.1,65.5h0M657.5,65.5h0M660.4,65.5h0M682.1,65.5h0M662.6,65.5h0M629.0,65.5h0M664.3,65.5h0M670.8,65.5h0M674.7,65.5h0M573.7,105.8h0M602.2,105.8h0M555.4,105.8h0M606.4,105.8h0M572.6,105.8h0M613.3,105.8h0M628.2,105.8h0M615.2,105.8h0M564.2,105.8h0M569.1,105.8h0M570.7,105.8h0M604.1,105.8h0M597.2,105.8h0M593.1,105.8h0M596.4,105.8h0M602.3,105.8h0M603.9,105.8h0M626.5,105.8h0M599.7,107.9h0M589.0,107.9h0M619.6,107.9h0M637.5,107.9h0M605.3,107.9h0M604.2,107.9h0M603.6,107.9h0M617.6,107.9h0M602.8,107.9h0M624.0,107.9h0M621.3,107.9h0M622.2,107.9h0M631.3,107.9h0M615.3,107.9h0M617.8,107.9h0M653.0,107.9h0M613.6,107.9h0M632.0,107.9h0M615.8,107.9h0M604.6,107.9h0M604.6,107.9h0M596.7,107.9h0M614.8,107.9h0M597.5,97.5h0M625.3,97.5h0M606.2,97.5h0M619.2,97.5h0M587.1,97.5h0M603.6,97.5h0M657.9,97.5h0M618.5,97.5h0M622.3,97.5h0M605.5,97.5h0M619.1,97.5h0M575.0,97.5h0M581.8,97.5h0M609.7,97.5h0M618.2,97.5h0M591.4,97.5h0M596.2,97.5h0M592.4,97.5h0M596.2,97.5h0M574.1,97.5h0M569.0,97.5h0M523.1,151.4h0M551.2,151.4h0M536.3,151.4h0M544.2,151.4h0M523.9,151.4h0M529.7,151.4h0M557.1,151.4h0M553.8,151.4h0M535.7,151.4h0M553.8,151.4h0M549.9,151.4h0M549.2,151.4h0M580.5,151.4h0M537.0,151.4h0M554.9,151.4h0M554.9,151.4h0M569.9,126.9h0M565.3,126.9h0M564.7,126.9h0M564.6,126.9h0M544.6,126.9h0M570.5,126.9h0M524.7,126.9h0M563.5,126.9h0M531.4,126.9h0M556.3,126.9h0M579.5,126.9h0M558.3,126.9h0M553.4,126.9h0M575.1,126.9h0M558.0,126.9h0M554.9,126.9h0M555.2,126.9h0M596.8,126.9h0M590.0,100.4h0M628.6,100.4h0M593.8,100.4h0M660.7,100.4h0M581.4,100.4h0M644.7,100.4h0M635.6,100.4h0M579.3,100.4h0M612.8,100.4h0M649.6,100.4h0M642.8,100.4h0M581.9,100.4h0M606.7,100.4h0M592.4,100.4h0M595.7,100.4h0M604.0,100.4h0M658.2,100.4h0M620.9,100.4h0M613.1,100.4h0M610.7,100.4h0M632.5,100.4h0M633.0,100.4h0M594.5,112.3h0M610.4,112.3h0M637.9,112.3h0M593.0,112.3h0M606.8,112.3h0M629.0,112.3h0M614.1,112.3h0M625.1,112.3h0M623.2,112.3h0M606.2,112.3h0M614.3,112.3h0M620.5,112.3h0M599.9,112.3h0M635.4,112.3h0M557.2,112.3h0M580.5,112.3h0M632.0,112.3h0M609.9,112.3h0M586.5,112.3h0M608.8,112.3h0M624.3,112.3h0M588.4,112.3h0M617.3,112.3h0M573.2,107.6h0M589.6,107.6h0M612.1,107.6h0M571.0,107.6h0M563.1,107.6h0M610.0,107.6h0M597.6,107.6h0M594.4,107.6h0M600.7,107.6h0M616.1,93.6h0M594.6,93.6h0M616.5,93.6h0M658.9,93.6h0M626.0,93.6h0M638.6,93.6h0M615.1,93.6h0M665.2,93.6h0M629.2,93.6h0" stroke="#2a78b8" stroke-opacity="0.72" stroke-width="1.6" stroke-linecap="square"/><line x1="502.6" y1="195.29999999999998" x2="683.0" y2="14.449999999999989" stroke="#808080" stroke-width="1.15" stroke-dasharray="4.4,1.9"/><line x1="502.60" y1="163.79" x2="683.00" y2="60.71" stroke="#000" stroke-width="1.15"/></g><rect x="502.6" y="14.45" width="180.39999999999998" height="180.85" fill="none" stroke="#222" stroke-width="0.85"/><line x1="504.28" x2="504.28" y1="195.29999999999998" y2="197.79999999999998" stroke="#222" stroke-width="0.8"/><text x="504.28" y="206.90" font-size="10.91" text-anchor="middle" textLength="6.55" lengthAdjust="spacing" fill="#000">5</text><line x1="546.23" x2="546.23" y1="195.29999999999998" y2="197.79999999999998" stroke="#222" stroke-width="0.8"/><text x="546.23" y="206.90" font-size="10.91" text-anchor="middle" textLength="13.11" lengthAdjust="spacing" fill="#000">10</text><line x1="588.19" x2="588.19" y1="195.29999999999998" y2="197.79999999999998" stroke="#222" stroke-width="0.8"/><text x="588.19" y="206.90" font-size="10.91" text-anchor="middle" textLength="13.11" lengthAdjust="spacing" fill="#000">15</text><line x1="630.14" x2="630.14" y1="195.29999999999998" y2="197.79999999999998" stroke="#222" stroke-width="0.8"/><text x="630.14" y="206.90" font-size="10.91" text-anchor="middle" textLength="13.11" lengthAdjust="spacing" fill="#000">20</text><line x1="672.09" x2="672.09" y1="195.29999999999998" y2="197.79999999999998" stroke="#222" stroke-width="0.8"/><text x="672.09" y="206.90" font-size="10.91" text-anchor="middle" textLength="13.11" lengthAdjust="spacing" fill="#000">25</text><line x1="500.1" x2="502.6" y1="193.62" y2="193.62" stroke="#222" stroke-width="0.8"/><text x="497.60" y="197.37" font-size="10.91" text-anchor="end" textLength="6.55" lengthAdjust="spacing" fill="#000">5</text><line x1="500.1" x2="502.6" y1="151.56" y2="151.56" stroke="#222" stroke-width="0.8"/><text x="497.60" y="155.31" font-size="10.91" text-anchor="end" textLength="13.11" lengthAdjust="spacing" fill="#000">10</text><line x1="500.1" x2="502.6" y1="109.50" y2="109.50" stroke="#222" stroke-width="0.8"/><text x="497.60" y="113.25" font-size="10.91" text-anchor="end" textLength="13.11" lengthAdjust="spacing" fill="#000">15</text><line x1="500.1" x2="502.6" y1="67.44" y2="67.44" stroke="#222" stroke-width="0.8"/><text x="497.60" y="71.19" font-size="10.91" text-anchor="end" textLength="13.11" lengthAdjust="spacing" fill="#000">20</text><line x1="500.1" x2="502.6" y1="25.39" y2="25.39" stroke="#222" stroke-width="0.8"/><text x="497.60" y="29.14" font-size="10.91" text-anchor="end" textLength="13.11" lengthAdjust="spacing" fill="#000">25</text><text x="592.80" y="218.90" font-size="10.60" text-anchor="middle" textLength="26.06" lengthAdjust="spacing" fill="#000">ERA5</text><text x="480.70" y="106.08" font-size="10.60" text-anchor="middle" textLength="30.95" lengthAdjust="spacing" fill="#000" transform="rotate(-90 480.70 106.08)">CMIP6</text><text x="510.10" y="36.40" font-size="9.70" text-anchor="start" textLength="78.54" lengthAdjust="spacing" fill="#000">y = 5.81 + 0.57x</text><text x="510.10" y="47.60" font-size="9.70" text-anchor="start" textLength="37.62" lengthAdjust="spacing" fill="#000">r = 0.77</text><text x="20.55" y="14.00" font-size="13.14" text-anchor="start" textLength="149.82" lengthAdjust="spacing" fill="#000">(a) ERA5: 30 yr average</text><text x="261.55" y="14.00" font-size="13.14" text-anchor="start" textLength="210.79" lengthAdjust="spacing" fill="#000">(b) Spatial difference CMIP6-ERA5</text><text x="502.00" y="10.60" font-size="13.14" text-anchor="start" textLength="173.81" lengthAdjust="spacing" fill="#000">(c) Correlation: ERA5/CMIP6</text><text x="11.80" y="92.85" font-size="14.62" text-anchor="middle" textLength="129.00" lengthAdjust="spacing" fill="#000" transform="rotate(-90 11.80 92.85)">Avg. Min temp  °C</text><g transform="translate(21.45,250.45)"><g clip-path="url(#fc)"><rect width="180.0" height="150.0" fill="#fff"/><use href="#sea"/><g clip-path="url(#ec)"><rect x="-2" y="-2" width="184" height="154" fill="#000004"/><rect x="77.5" y="28.0" width="2.7" height="3.0" fill="#6a176e"/><rect x="75.3" y="38.5" width="2.4" height="2.7" fill="#771c6d"/><rect x="75.3" y="41.2" width="2.4" height="2.9" fill="#bc3754"/><rect x="75.3" y="44.1" width="2.4" height="3.5" fill="#fb9b06"/><rect x="77.7" y="44.1" width="2.5" height="2.9" fill="#4a0c6b"/><rect x="74.5" y="49.5" width="3.0" height="3.0" fill="#6a176e"/><rect x="72.8" y="52.5" width="2.5" height="3.0" fill="#e25734"/><rect x="72.8" y="55.5" width="2.5" height="2.4" fill="#7f1e6c"/><rect x="75.3" y="52.5" width="4.9" height="5.4" fill="#f3f68a"/><rect x="77.7" y="57.9" width="2.5" height="5.6" fill="#7f1e6c"/><rect x="77.7" y="65.5" width="2.5" height="3.0" fill="#bc3754"/><rect x="68.5" y="68.7" width="3.8" height="5.8" fill="#7f1e6c"/><rect x="69.5" y="70.0" width="2.8" height="3.5" fill="#f68013"/><rect x="72.3" y="68.7" width="4.9" height="4.4" fill="#f1ef75"/><rect x="77.2" y="68.7" width="2.3" height="2.3" fill="#cc4248"/><rect x="70.0" y="74.0" width="5.0" height="2.0" fill="#6a176e"/><rect x="64.5" y="79.5" width="2.5" height="3.0" fill="#62146e"/><rect x="62.0" y="56.0" width="2.5" height="2.5" fill="#420a68"/><rect x="76.0" y="84.5" width="6.0" height="3.5" fill="#bc3754"/><rect x="74.8" y="87.4" width="2.9" height="4.9" fill="#f5f992"/><rect x="72.5" y="89.0" width="2.3" height="3.0" fill="#dd513a"/><rect x="77.7" y="88.0" width="2.6" height="4.0" fill="#7f1e6c"/><rect x="77.7" y="92.0" width="2.6" height="3.0" fill="#fb9b06"/><rect x="80.3" y="94.0" width="3.2" height="3.0" fill="#f1ef75"/><rect x="73.5" y="94.0" width="4.2" height="6.0" fill="#932667"/><rect x="80.3" y="97.0" width="2.7" height="3.0" fill="#cc4248"/><rect x="75.0" y="100.0" width="5.0" height="4.0" fill="#390963"/><rect x="72.0" y="104.0" width="5.0" height="4.0" fill="#160b39"/></g><use href="#lines"/><use href="#grid"/></g><rect width="180.0" height="150.0" fill="none" stroke="#222" stroke-width="0.85"/></g><rect x="21.45" y="416.0" width="180.0" height="7.4" fill="url(#ginf)" stroke="#222" stroke-width="0.8"/><line x1="21.45" x2="21.45" y1="423.4" y2="426.0" stroke="#222" stroke-width="0.8"/><text x="21.45" y="436.60" font-size="11.02" text-anchor="middle" textLength="6.62" lengthAdjust="spacing" fill="#000">0</text><line x1="57.45" x2="57.45" y1="423.4" y2="426.0" stroke="#222" stroke-width="0.8"/><text x="57.45" y="436.60" font-size="11.02" text-anchor="middle" textLength="6.62" lengthAdjust="spacing" fill="#000">2</text><line x1="93.45" x2="93.45" y1="423.4" y2="426.0" stroke="#222" stroke-width="0.8"/><text x="93.45" y="436.60" font-size="11.02" text-anchor="middle" textLength="6.62" lengthAdjust="spacing" fill="#000">4</text><line x1="129.45" x2="129.45" y1="423.4" y2="426.0" stroke="#222" stroke-width="0.8"/><text x="129.45" y="436.60" font-size="11.02" text-anchor="middle" textLength="6.62" lengthAdjust="spacing" fill="#000">6</text><line x1="165.45" x2="165.45" y1="423.4" y2="426.0" stroke="#222" stroke-width="0.8"/><text x="165.45" y="436.60" font-size="11.02" text-anchor="middle" textLength="6.62" lengthAdjust="spacing" fill="#000">8</text><line x1="201.45" x2="201.45" y1="423.4" y2="426.0" stroke="#222" stroke-width="0.8"/><text x="201.45" y="436.60" font-size="11.02" text-anchor="middle" textLength="13.23" lengthAdjust="spacing" fill="#000">10</text><text x="111.45" y="449.40" font-size="10.60" text-anchor="middle" textLength="24.96" lengthAdjust="spacing" fill="#000">Days</text><g transform="translate(262.45,250.45)"><g clip-path="url(#fc)"><rect width="180.0" height="150.0" fill="#fff"/><use href="#sea"/><g clip-path="url(#ec)"><rect x="-2" y="-2" width="184" height="154" fill="#fffefe"/><rect x="61.3" y="20.1" width="11.2" height="10.5" fill="#fff4f4"/><rect x="72.5" y="20.1" width="9.9" height="10.5" fill="#ff9898"/><rect x="61.3" y="30.6" width="11.2" height="10.5" fill="#ffcccc"/><rect x="72.5" y="30.6" width="9.9" height="10.5" fill="#ff8e8e"/><rect x="61.3" y="41.1" width="11.2" height="11.8" fill="#ff1818"/><rect x="72.5" y="41.1" width="9.9" height="11.8" fill="#ff4c4c"/><rect x="82.4" y="41.1" width="11.1" height="11.8" fill="#ffe6e6"/><rect x="61.3" y="52.9" width="11.2" height="11.8" fill="#ffcccc"/><rect x="72.5" y="52.9" width="9.9" height="11.8" fill="#ff4c4c"/><rect x="82.4" y="52.9" width="11.1" height="11.8" fill="#ffb2b2"/><rect x="61.3" y="64.7" width="11.2" height="19.7" fill="#ffe6e6"/><rect x="72.5" y="64.7" width="9.9" height="19.7" fill="#ff1818"/><rect x="82.4" y="64.7" width="11.1" height="19.7" fill="#ff7e7e"/><rect x="93.5" y="64.7" width="10.5" height="10.3" fill="#ffcccc"/><rect x="93.5" y="75.0" width="10.5" height="9.4" fill="#ffe6e6"/><rect x="104.0" y="63.5" width="10.6" height="10.5" fill="#ff9898"/><rect x="114.6" y="63.5" width="5.9" height="10.5" fill="#ff1818"/><rect x="82.4" y="84.4" width="11.1" height="10.6" fill="#ff8e8e"/><rect x="61.3" y="84.4" width="11.2" height="10.6" fill="#fff4f4"/><rect x="74.5" y="52.3" width="5.2" height="5.9" fill="#0000ff"/><rect x="76.0" y="48.0" width="2.5" height="2.5" fill="#9898ff"/><rect x="69.2" y="68.7" width="7.9" height="5.3" fill="#0a0aff"/><rect x="67.0" y="72.0" width="2.2" height="2.0" fill="#b2b2ff"/><rect x="73.0" y="84.4" width="7.0" height="7.6" fill="#1818ff"/><rect x="72.5" y="92.0" width="10.5" height="7.0" fill="#8e8eff"/><rect x="70.0" y="95.0" width="4.0" height="4.0" fill="#b2b2ff"/><rect x="68.0" y="99.0" width="10.0" height="7.0" fill="#ccccff"/><rect x="79.0" y="72.0" width="2.0" height="3.0" fill="#ff0a0a"/><rect x="63.0" y="64.0" width="2.0" height="2.0" fill="#b2b2ff"/><rect x="59.0" y="55.0" width="2.0" height="2.0" fill="#b2b2ff"/></g><use href="#lines"/><use href="#grid"/></g><rect width="180.0" height="150.0" fill="none" stroke="#222" stroke-width="0.85"/></g><rect x="262.45" y="416.0" width="180.0" height="7.4" fill="url(#gbwr)" stroke="#222" stroke-width="0.8"/><line x1="280.45" x2="280.45" y1="423.4" y2="426.0" stroke="#222" stroke-width="0.8"/><rect x="273.89" y="432.91" width="6.50" height="0.95" fill="#000"/><text x="281.50" y="436.60" font-size="11.02" text-anchor="start" textLength="6.62" lengthAdjust="spacing" fill="#000">4</text><line x1="316.45" x2="316.45" y1="423.4" y2="426.0" stroke="#222" stroke-width="0.8"/><rect x="309.89" y="432.91" width="6.50" height="0.95" fill="#000"/><text x="317.50" y="436.60" font-size="11.02" text-anchor="start" textLength="6.62" lengthAdjust="spacing" fill="#000">2</text><line x1="352.45" x2="352.45" y1="423.4" y2="426.0" stroke="#222" stroke-width="0.8"/><text x="352.45" y="436.60" font-size="11.02" text-anchor="middle" textLength="6.62" lengthAdjust="spacing" fill="#000">0</text><line x1="388.45" x2="388.45" y1="423.4" y2="426.0" stroke="#222" stroke-width="0.8"/><text x="388.45" y="436.60" font-size="11.02" text-anchor="middle" textLength="6.62" lengthAdjust="spacing" fill="#000">2</text><line x1="424.45" x2="424.45" y1="423.4" y2="426.0" stroke="#222" stroke-width="0.8"/><text x="424.45" y="436.60" font-size="11.02" text-anchor="middle" textLength="6.62" lengthAdjust="spacing" fill="#000">4</text><text x="352.45" y="449.40" font-size="10.60" text-anchor="middle" textLength="24.96" lengthAdjust="spacing" fill="#000">Days</text><rect x="502.6" y="246.45" width="180.39999999999998" height="180.85" fill="#fff"/><g clip-path="url(#sc1)"><path d="M503.2,377.3h0M504.3,377.3h0M508.4,377.3h0M506.8,377.3h0M503.3,377.3h0M505.7,377.3h0M506.1,377.3h0M503.8,377.3h0M507.9,377.3h0M503.4,377.3h0M505.4,377.3h0M506.4,377.3h0M505.7,377.3h0M506.9,377.3h0M514.0,377.3h0M520.3,377.3h0M529.6,377.3h0M547.3,377.3h0M574.3,377.3h0M505.4,381.9h0M511.1,381.9h0M506.6,381.9h0M512.6,381.9h0M512.4,381.9h0M505.6,381.9h0M513.8,381.9h0M511.5,381.9h0M511.8,381.9h0M513.7,381.9h0M508.4,381.9h0M512.8,381.9h0M524.4,381.9h0M529.6,381.9h0M534.8,381.9h0M543.1,381.9h0M549.3,381.9h0M566.0,381.9h0M594.0,381.9h0M598.1,381.9h0M607.5,381.9h0M609.6,381.9h0M630.3,381.9h0M648.0,381.9h0M660.5,381.9h0M506.7,386.2h0M502.9,386.2h0M504.5,386.2h0M503.0,386.2h0M503.6,386.2h0M524.4,386.2h0M507.6,393.5h0M506.3,393.5h0M503.7,393.5h0M505.4,393.5h0M506.3,393.5h0M502.9,393.5h0M524.4,393.5h0M529.6,393.5h0M506.7,400.2h0M503.6,400.2h0M506.6,400.2h0M507.1,400.2h0M509.0,400.2h0M505.9,400.2h0M502.8,400.2h0M507.0,400.2h0M504.1,404.4h0M502.9,404.4h0M504.3,404.4h0M505.5,404.4h0M512.6,415.1h0M513.6,415.1h0M513.7,415.1h0M506.0,415.1h0M509.1,415.1h0M507.2,415.1h0M506.1,415.1h0M510.3,415.1h0M506.9,415.1h0M511.0,415.1h0M520.3,415.1h0M532.7,415.1h0M523.9,422.4h0M508.2,422.4h0M506.0,422.4h0M509.0,422.4h0M510.4,422.4h0M507.7,422.4h0M514.9,422.4h0M524.0,422.4h0M505.5,422.4h0M512.1,422.4h0M517.9,422.4h0M522.8,422.4h0M525.4,422.4h0M505.9,422.4h0M514.9,422.4h0M522.7,422.4h0M503.8,422.4h0M516.0,422.4h0M532.7,422.4h0M542.1,422.4h0M550.4,422.4h0M555.6,422.4h0M570.1,422.4h0M614.8,422.4h0M616.8,422.4h0M507.2,426.8h0M513.0,426.8h0M511.9,426.8h0M510.2,426.8h0M511.6,426.8h0M514.4,426.8h0M511.8,426.8h0M510.0,426.8h0M510.2,426.8h0M511.6,426.8h0M507.0,426.8h0M511.6,426.8h0M510.9,426.8h0M513.2,426.8h0M527.5,426.8h0M542.1,426.8h0M561.8,426.8h0M504.3,424.7h0M505.0,424.7h0M506.7,424.7h0M503.6,424.7h0M505.6,424.7h0M506.7,424.7h0M507.1,424.7h0M502.7,424.7h0M507.7,424.7h0M505.3,424.7h0M503.4,419.5h0M506.5,419.5h0M508.2,419.5h0M503.8,419.5h0M505.2,419.5h0M507.0,419.5h0M507.2,419.5h0M505.4,419.5h0M504.2,411.7h0M506.0,411.7h0M503.3,411.7h0M503.5,408.6h0M503.6,408.6h0M503.3,408.6h0M505.8,406.5h0M504.3,406.5h0M505.5,406.5h0M504.6,396.1h0M503.3,396.1h0M504.4,396.1h0M505.0,389.8h0M503.8,389.8h0M503.1,389.8h0M504.5,384.6h0M504.0,384.6h0M504.5,384.6h0M503.4,379.4h0M505.8,379.4h0M504.4,379.4h0M505.3,402.3h0M504.6,402.3h0M503.4,402.3h0M505.1,398.1h0M505.8,398.1h0M503.4,398.1h0M504.3,413.2h0M504.2,413.2h0M506.0,413.2h0" stroke="#2a78b8" stroke-opacity="0.72" stroke-width="1.6" stroke-linecap="square"/><line x1="502.6" y1="427.29999999999995" x2="683.0" y2="246.44999999999996" stroke="#808080" stroke-width="1.15" stroke-dasharray="4.4,1.9"/><line x1="502.60" y1="422.51" x2="683.00" y2="371.87" stroke="#000" stroke-width="1.15"/></g><rect x="502.6" y="246.45" width="180.39999999999998" height="180.85" fill="none" stroke="#222" stroke-width="0.85"/><line x1="502.60" x2="502.60" y1="427.29999999999995" y2="429.79999999999995" stroke="#222" stroke-width="0.8"/><text x="502.60" y="438.90" font-size="10.91" text-anchor="middle" textLength="6.55" lengthAdjust="spacing" fill="#000">0</text><line x1="554.53" x2="554.53" y1="427.29999999999995" y2="429.79999999999995" stroke="#222" stroke-width="0.8"/><text x="554.53" y="438.90" font-size="10.91" text-anchor="middle" textLength="6.55" lengthAdjust="spacing" fill="#000">5</text><line x1="606.46" x2="606.46" y1="427.29999999999995" y2="429.79999999999995" stroke="#222" stroke-width="0.8"/><text x="606.46" y="438.90" font-size="10.91" text-anchor="middle" textLength="13.11" lengthAdjust="spacing" fill="#000">10</text><line x1="658.39" x2="658.39" y1="427.29999999999995" y2="429.79999999999995" stroke="#222" stroke-width="0.8"/><text x="658.39" y="438.90" font-size="10.91" text-anchor="middle" textLength="13.11" lengthAdjust="spacing" fill="#000">15</text><line x1="500.1" x2="502.6" y1="427.30" y2="427.30" stroke="#222" stroke-width="0.8"/><text x="497.60" y="431.05" font-size="10.91" text-anchor="end" textLength="16.38" lengthAdjust="spacing" fill="#000">0.0</text><line x1="500.1" x2="502.6" y1="401.27" y2="401.27" stroke="#222" stroke-width="0.8"/><text x="497.60" y="405.02" font-size="10.91" text-anchor="end" textLength="16.38" lengthAdjust="spacing" fill="#000">2.5</text><line x1="500.1" x2="502.6" y1="375.24" y2="375.24" stroke="#222" stroke-width="0.8"/><text x="497.60" y="378.99" font-size="10.91" text-anchor="end" textLength="16.38" lengthAdjust="spacing" fill="#000">5.0</text><line x1="500.1" x2="502.6" y1="349.21" y2="349.21" stroke="#222" stroke-width="0.8"/><text x="497.60" y="352.96" font-size="10.91" text-anchor="end" textLength="16.38" lengthAdjust="spacing" fill="#000">7.5</text><line x1="500.1" x2="502.6" y1="323.18" y2="323.18" stroke="#222" stroke-width="0.8"/><text x="497.60" y="326.93" font-size="10.91" text-anchor="end" textLength="22.93" lengthAdjust="spacing" fill="#000">10.0</text><line x1="500.1" x2="502.6" y1="297.15" y2="297.15" stroke="#222" stroke-width="0.8"/><text x="497.60" y="300.90" font-size="10.91" text-anchor="end" textLength="22.93" lengthAdjust="spacing" fill="#000">12.5</text><line x1="500.1" x2="502.6" y1="271.13" y2="271.13" stroke="#222" stroke-width="0.8"/><text x="497.60" y="274.88" font-size="10.91" text-anchor="end" textLength="22.93" lengthAdjust="spacing" fill="#000">15.0</text><text x="592.80" y="450.90" font-size="10.60" text-anchor="middle" textLength="26.06" lengthAdjust="spacing" fill="#000">ERA5</text><text x="470.70" y="338.07" font-size="10.60" text-anchor="middle" textLength="30.95" lengthAdjust="spacing" fill="#000" transform="rotate(-90 470.70 338.07)">CMIP6</text><text x="512.70" y="264.30" font-size="9.70" text-anchor="start" textLength="78.54" lengthAdjust="spacing" fill="#000">y = 0.46 + 0.28x</text><text x="512.70" y="272.60" font-size="9.70" text-anchor="start" textLength="37.62" lengthAdjust="spacing" fill="#000">r = 0.27</text><text x="20.55" y="246.00" font-size="13.14" text-anchor="start" textLength="17.55" lengthAdjust="spacing" fill="#000">(d)</text><text x="261.55" y="246.00" font-size="13.14" text-anchor="start" textLength="17.30" lengthAdjust="spacing" fill="#000">(e)</text><text x="502.00" y="242.60" font-size="13.14" text-anchor="start" textLength="14.04" lengthAdjust="spacing" fill="#000">(f)</text><text x="11.80" y="324.85" font-size="14.62" text-anchor="middle" textLength="85.60" lengthAdjust="spacing" fill="#000" transform="rotate(-90 11.80 324.85)">Days &lt; 5 °C</text><g transform="translate(21.45,482.45)"><g clip-path="url(#fc)"><rect width="180.0" height="150.0" fill="#fff"/><use href="#sea"/><g clip-path="url(#ec)"><path fill="#0e092b" d="M78,42h6.5v3.5h-6.5zM78,96h3.5v3.5h-3.5z"/><path fill="#180c3c" d="M81,96h3.5v3.5h-3.5z"/><path fill="#210c4a" d="M78,45h6.5v3.5h-6.5zM78,90h3.5v3.5h-3.5zM81,93h3.5v3.5h-3.5zM78,99h6.5v3.5h-6.5z"/><path fill="#440a68" d="M75,54h3.5v3.5h-3.5zM81,90h3.5v3.5h-3.5zM78,93h3.5v3.5h-3.5z"/><path fill="#4f0d6c" d="M60,30h6.5v3.5h-6.5zM72,54h3.5v3.5h-3.5zM78,54h3.5v3.5h-3.5zM78,57h3.5v3.5h-3.5zM75,84h3.5v3.5h-3.5z"/><path fill="#59106e" d="M78,21h3.5v3.5h-3.5zM75,57h3.5v3.5h-3.5zM72,87h6.5v3.5h-6.5z"/><path fill="#64156e" d="M60,33h6.5v3.5h-6.5zM78,51h3.5v3.5h-3.5zM81,54h3.5v3.5h-3.5zM72,84h3.5v3.5h-3.5zM78,87h3.5v3.5h-3.5zM75,90h3.5v3.5h-3.5zM69,93h3.5v3.5h-3.5zM75,93h3.5v3.5h-3.5z"/><path fill="#6d186e" d="M78,9h3.5v3.5h-3.5zM78,18h3.5v3.5h-3.5zM81,21h3.5v3.5h-3.5zM81,48h3.5v3.5h-3.5zM60,54h3.5v3.5h-3.5zM81,57h3.5v3.5h-3.5zM78,60h3.5v3.5h-3.5zM63,78h3.5v3.5h-3.5zM72,78h3.5v3.5h-3.5zM63,81h9.5v3.5h-9.5zM66,84h3.5v3.5h-3.5zM36,87h6.5v3.5h-6.5zM63,87h3.5v3.5h-3.5zM72,90h3.5v3.5h-3.5zM66,93h3.5v3.5h-3.5zM69,96h3.5v3.5h-3.5zM75,96h3.5v3.5h-3.5z"/><path fill="#781c6d" d="M78,3h3.5v3.5h-3.5zM78,6h3.5v3.5h-3.5zM78,15h3.5v3.5h-3.5zM81,18h3.5v3.5h-3.5zM78,39h3.5v3.5h-3.5zM60,45h3.5v3.5h-3.5zM75,48h6.5v3.5h-6.5zM75,51h3.5v3.5h-3.5zM81,51h3.5v3.5h-3.5zM72,57h3.5v3.5h-3.5zM72,66h3.5v3.5h-3.5zM111,66h3.5v3.5h-3.5zM75,69h3.5v3.5h-3.5zM102,69h6.5v3.5h-6.5zM78,75h6.5v3.5h-6.5zM66,78h6.5v3.5h-6.5zM75,78h9.5v3.5h-9.5zM72,81h9.5v3.5h-9.5zM63,84h3.5v3.5h-3.5zM69,84h3.5v3.5h-3.5zM78,84h3.5v3.5h-3.5zM45,87h9.5v3.5h-9.5zM66,87h6.5v3.5h-6.5zM36,90h9.5v3.5h-9.5zM66,90h6.5v3.5h-6.5zM63,93h3.5v3.5h-3.5zM72,99h3.5v3.5h-3.5z"/><path fill="#82206c" d="M78,24h3.5v3.5h-3.5zM78,27h3.5v3.5h-3.5zM78,30h3.5v3.5h-3.5zM81,36h3.5v3.5h-3.5zM81,39h3.5v3.5h-3.5zM75,45h3.5v3.5h-3.5zM72,51h3.5v3.5h-3.5zM63,54h3.5v3.5h-3.5zM75,66h3.5v3.5h-3.5zM105,66h6.5v3.5h-6.5zM72,69h3.5v3.5h-3.5zM78,72h3.5v3.5h-3.5zM81,81h3.5v3.5h-3.5zM36,84h3.5v3.5h-3.5zM48,84h3.5v3.5h-3.5zM60,84h3.5v3.5h-3.5zM42,87h3.5v3.5h-3.5zM60,87h3.5v3.5h-3.5zM81,87h3.5v3.5h-3.5zM45,90h3.5v3.5h-3.5zM60,90h6.5v3.5h-6.5zM42,93h6.5v3.5h-6.5zM72,93h3.5v3.5h-3.5zM66,96h3.5v3.5h-3.5zM72,96h3.5v3.5h-3.5zM69,99h3.5v3.5h-3.5zM75,99h3.5v3.5h-3.5z"/><path fill="#8d2369" d="M81,3h3.5v3.5h-3.5zM78,12h3.5v3.5h-3.5zM81,24h3.5v3.5h-3.5zM81,27h3.5v3.5h-3.5zM81,30h3.5v3.5h-3.5zM78,33h6.5v3.5h-6.5zM78,36h3.5v3.5h-3.5zM75,39h3.5v3.5h-3.5zM60,42h6.5v3.5h-6.5zM63,45h3.5v3.5h-3.5zM72,48h3.5v3.5h-3.5zM78,63h6.5v3.5h-6.5zM111,69h3.5v3.5h-3.5zM75,72h3.5v3.5h-3.5zM81,72h3.5v3.5h-3.5zM99,72h6.5v3.5h-6.5zM60,81h3.5v3.5h-3.5zM81,84h3.5v3.5h-3.5zM54,87h3.5v3.5h-3.5zM48,90h3.5v3.5h-3.5zM36,93h3.5v3.5h-3.5zM60,93h3.5v3.5h-3.5z"/><path fill="#982766" d="M78,0h6.5v3.5h-6.5zM81,6h3.5v3.5h-3.5zM81,9h3.5v3.5h-3.5zM81,12h3.5v3.5h-3.5zM81,15h3.5v3.5h-3.5zM75,42h3.5v3.5h-3.5zM60,57h6.5v3.5h-6.5zM81,60h3.5v3.5h-3.5zM102,66h3.5v3.5h-3.5zM60,69h3.5v3.5h-3.5zM69,69h3.5v3.5h-3.5zM78,69h3.5v3.5h-3.5zM108,69h3.5v3.5h-3.5zM69,72h6.5v3.5h-6.5zM63,75h6.5v3.5h-6.5zM84,75h3.5v3.5h-3.5zM60,78h3.5v3.5h-3.5zM84,78h3.5v3.5h-3.5zM84,81h3.5v3.5h-3.5zM39,84h9.5v3.5h-9.5zM51,84h3.5v3.5h-3.5zM33,90h3.5v3.5h-3.5zM39,93h3.5v3.5h-3.5zM57,93h3.5v3.5h-3.5zM66,99h3.5v3.5h-3.5z"/><path fill="#a22b62" d="M75,36h3.5v3.5h-3.5zM57,45h3.5v3.5h-3.5zM72,45h3.5v3.5h-3.5zM54,48h3.5v3.5h-3.5zM60,48h6.5v3.5h-6.5zM141,48h6.5v3.5h-6.5zM57,51h9.5v3.5h-9.5zM141,51h6.5v3.5h-6.5zM57,54h3.5v3.5h-3.5zM138,54h6.5v3.5h-6.5zM54,57h6.5v3.5h-6.5zM132,57h3.5v3.5h-3.5zM132,60h3.5v3.5h-3.5zM63,66h3.5v3.5h-3.5zM78,66h3.5v3.5h-3.5zM117,66h3.5v3.5h-3.5zM123,66h6.5v3.5h-6.5zM57,69h3.5v3.5h-3.5zM66,69h3.5v3.5h-3.5zM81,69h3.5v3.5h-3.5zM93,69h3.5v3.5h-3.5zM99,69h3.5v3.5h-3.5zM90,72h3.5v3.5h-3.5zM96,72h3.5v3.5h-3.5zM105,72h3.5v3.5h-3.5zM72,75h6.5v3.5h-6.5zM57,87h3.5v3.5h-3.5zM57,90h3.5v3.5h-3.5zM33,93h3.5v3.5h-3.5zM48,93h6.5v3.5h-6.5zM66,102h3.5v3.5h-3.5z"/><path fill="#ad305d" d="M72,36h3.5v3.5h-3.5zM54,42h6.5v3.5h-6.5zM144,42h3.5v3.5h-3.5zM69,45h3.5v3.5h-3.5zM144,45h6.5v3.5h-6.5zM138,51h3.5v3.5h-3.5zM135,54h3.5v3.5h-3.5zM135,57h6.5v3.5h-6.5zM129,60h3.5v3.5h-3.5zM75,63h3.5v3.5h-3.5zM126,63h6.5v3.5h-6.5zM57,66h6.5v3.5h-6.5zM66,66h6.5v3.5h-6.5zM93,66h3.5v3.5h-3.5zM114,66h3.5v3.5h-3.5zM120,66h3.5v3.5h-3.5zM129,66h3.5v3.5h-3.5zM63,69h3.5v3.5h-3.5zM90,69h3.5v3.5h-3.5zM96,69h3.5v3.5h-3.5zM114,69h9.5v3.5h-9.5zM126,69h3.5v3.5h-3.5zM63,72h6.5v3.5h-6.5zM84,72h6.5v3.5h-6.5zM93,72h3.5v3.5h-3.5zM69,75h3.5v3.5h-3.5zM87,75h6.5v3.5h-6.5zM39,78h3.5v3.5h-3.5zM87,78h3.5v3.5h-3.5zM36,81h3.5v3.5h-3.5zM87,81h3.5v3.5h-3.5zM33,84h3.5v3.5h-3.5zM57,84h3.5v3.5h-3.5zM84,84h3.5v3.5h-3.5zM33,87h3.5v3.5h-3.5zM30,90h3.5v3.5h-3.5zM51,90h3.5v3.5h-3.5zM84,93h3.5v3.5h-3.5zM57,102h3.5v3.5h-3.5z"/><path fill="#b63458" d="M75,3h3.5v3.5h-3.5zM75,6h3.5v3.5h-3.5zM75,15h3.5v3.5h-3.5zM75,21h3.5v3.5h-3.5zM75,30h3.5v3.5h-3.5zM75,33h3.5v3.5h-3.5zM72,39h3.5v3.5h-3.5zM72,42h3.5v3.5h-3.5zM54,45h3.5v3.5h-3.5zM66,45h3.5v3.5h-3.5zM57,48h3.5v3.5h-3.5zM138,48h3.5v3.5h-3.5zM147,48h3.5v3.5h-3.5zM54,51h3.5v3.5h-3.5zM54,54h3.5v3.5h-3.5zM132,54h3.5v3.5h-3.5zM129,57h3.5v3.5h-3.5zM123,60h3.5v3.5h-3.5zM135,60h3.5v3.5h-3.5zM114,63h3.5v3.5h-3.5zM132,63h6.5v3.5h-6.5zM54,66h3.5v3.5h-3.5zM81,66h3.5v3.5h-3.5zM96,66h6.5v3.5h-6.5zM123,69h3.5v3.5h-3.5zM129,69h3.5v3.5h-3.5zM60,72h3.5v3.5h-3.5zM60,75h3.5v3.5h-3.5zM93,75h6.5v3.5h-6.5zM102,75h3.5v3.5h-3.5zM36,78h3.5v3.5h-3.5zM39,81h3.5v3.5h-3.5zM54,84h3.5v3.5h-3.5zM84,87h3.5v3.5h-3.5zM54,90h3.5v3.5h-3.5zM54,93h3.5v3.5h-3.5zM54,102h3.5v3.5h-3.5zM69,102h6.5v3.5h-6.5zM54,105h3.5v3.5h-3.5zM66,105h6.5v3.5h-6.5z"/><path fill="#c03a51" d="M75,0h3.5v3.5h-3.5zM72,9h3.5v3.5h-3.5zM75,18h3.5v3.5h-3.5zM69,21h3.5v3.5h-3.5zM72,33h3.5v3.5h-3.5zM54,39h3.5v3.5h-3.5zM141,42h3.5v3.5h-3.5zM66,48h3.5v3.5h-3.5zM132,48h3.5v3.5h-3.5zM129,51h9.5v3.5h-9.5zM141,57h3.5v3.5h-3.5zM57,60h3.5v3.5h-3.5zM63,60h3.5v3.5h-3.5zM72,60h6.5v3.5h-6.5zM126,60h3.5v3.5h-3.5zM117,63h6.5v3.5h-6.5zM90,66h3.5v3.5h-3.5zM54,69h3.5v3.5h-3.5zM54,72h6.5v3.5h-6.5zM99,75h3.5v3.5h-3.5zM105,75h3.5v3.5h-3.5zM45,81h3.5v3.5h-3.5zM30,84h3.5v3.5h-3.5zM30,87h3.5v3.5h-3.5zM84,90h3.5v3.5h-3.5zM30,93h3.5v3.5h-3.5zM42,96h6.5v3.5h-6.5zM75,102h3.5v3.5h-3.5zM51,105h3.5v3.5h-3.5zM57,105h3.5v3.5h-3.5z"/><path fill="#c83f4b" d="M72,0h3.5v3.5h-3.5zM72,6h3.5v3.5h-3.5zM75,9h3.5v3.5h-3.5zM75,12h3.5v3.5h-3.5zM72,15h3.5v3.5h-3.5zM69,18h3.5v3.5h-3.5zM66,21h3.5v3.5h-3.5zM75,24h3.5v3.5h-3.5zM60,27h6.5v3.5h-6.5zM72,27h6.5v3.5h-6.5zM57,36h3.5v3.5h-3.5zM57,39h3.5v3.5h-3.5zM66,42h6.5v3.5h-6.5zM138,42h3.5v3.5h-3.5zM147,42h3.5v3.5h-3.5zM138,45h6.5v3.5h-6.5zM69,48h3.5v3.5h-3.5zM126,48h6.5v3.5h-6.5zM66,51h6.5v3.5h-6.5zM147,51h3.5v3.5h-3.5zM120,54h3.5v3.5h-3.5zM123,57h6.5v3.5h-6.5zM60,60h3.5v3.5h-3.5zM66,60h6.5v3.5h-6.5zM114,60h3.5v3.5h-3.5zM57,63h12.5v3.5h-12.5zM72,63h3.5v3.5h-3.5zM57,75h3.5v3.5h-3.5zM42,78h3.5v3.5h-3.5zM87,90h3.5v3.5h-3.5zM63,96h3.5v3.5h-3.5zM78,102h3.5v3.5h-3.5z"/><path fill="#d24644" d="M72,3h3.5v3.5h-3.5zM72,18h3.5v3.5h-3.5zM72,21h3.5v3.5h-3.5zM72,24h3.5v3.5h-3.5zM66,27h6.5v3.5h-6.5zM57,30h3.5v3.5h-3.5zM69,30h6.5v3.5h-6.5zM57,33h3.5v3.5h-3.5zM84,42h3.5v3.5h-3.5zM84,45h3.5v3.5h-3.5zM135,48h3.5v3.5h-3.5zM126,51h3.5v3.5h-3.5zM123,54h9.5v3.5h-9.5zM69,57h3.5v3.5h-3.5zM120,57h3.5v3.5h-3.5zM54,60h3.5v3.5h-3.5zM117,60h6.5v3.5h-6.5zM54,63h3.5v3.5h-3.5zM69,63h3.5v3.5h-3.5zM123,63h3.5v3.5h-3.5zM51,69h3.5v3.5h-3.5zM108,72h3.5v3.5h-3.5zM45,78h3.5v3.5h-3.5zM42,81h3.5v3.5h-3.5zM87,84h3.5v3.5h-3.5zM48,96h3.5v3.5h-3.5zM57,96h3.5v3.5h-3.5zM84,96h3.5v3.5h-3.5zM42,99h3.5v3.5h-3.5zM51,102h3.5v3.5h-3.5zM72,105h3.5v3.5h-3.5z"/><path fill="#d94d3d" d="M72,12h3.5v3.5h-3.5zM69,15h3.5v3.5h-3.5zM66,18h3.5v3.5h-3.5zM60,24h3.5v3.5h-3.5zM66,30h3.5v3.5h-3.5zM66,33h3.5v3.5h-3.5zM84,33h3.5v3.5h-3.5zM54,36h3.5v3.5h-3.5zM60,36h6.5v3.5h-6.5zM84,36h3.5v3.5h-3.5zM84,39h3.5v3.5h-3.5zM138,39h3.5v3.5h-3.5zM51,42h3.5v3.5h-3.5zM117,48h3.5v3.5h-3.5zM69,54h3.5v3.5h-3.5zM51,57h3.5v3.5h-3.5zM138,60h3.5v3.5h-3.5zM102,63h3.5v3.5h-3.5zM135,66h3.5v3.5h-3.5zM117,72h3.5v3.5h-3.5zM126,72h3.5v3.5h-3.5zM54,75h3.5v3.5h-3.5zM57,78h3.5v3.5h-3.5zM57,81h3.5v3.5h-3.5zM87,93h3.5v3.5h-3.5zM36,96h3.5v3.5h-3.5zM63,99h3.5v3.5h-3.5zM84,99h3.5v3.5h-3.5zM48,102h3.5v3.5h-3.5zM81,102h3.5v3.5h-3.5zM48,105h3.5v3.5h-3.5zM75,105h3.5v3.5h-3.5zM57,108h3.5v3.5h-3.5zM66,108h3.5v3.5h-3.5z"/><path fill="#e15635" d="M69,0h3.5v3.5h-3.5zM69,6h3.5v3.5h-3.5zM69,9h3.5v3.5h-3.5zM66,15h3.5v3.5h-3.5zM63,24h3.5v3.5h-3.5zM57,27h3.5v3.5h-3.5zM66,36h3.5v3.5h-3.5zM87,36h3.5v3.5h-3.5zM123,36h3.5v3.5h-3.5zM60,39h12.5v3.5h-12.5zM114,39h3.5v3.5h-3.5zM144,39h6.5v3.5h-6.5zM111,42h3.5v3.5h-3.5zM117,45h3.5v3.5h-3.5zM129,45h3.5v3.5h-3.5zM135,45h3.5v3.5h-3.5zM51,48h3.5v3.5h-3.5zM120,48h3.5v3.5h-3.5zM51,54h3.5v3.5h-3.5zM66,54h3.5v3.5h-3.5zM117,54h3.5v3.5h-3.5zM66,57h3.5v3.5h-3.5zM117,57h3.5v3.5h-3.5zM108,60h6.5v3.5h-6.5zM51,63h3.5v3.5h-3.5zM105,63h3.5v3.5h-3.5zM111,63h3.5v3.5h-3.5zM51,66h3.5v3.5h-3.5zM132,66h3.5v3.5h-3.5zM132,69h3.5v3.5h-3.5zM114,72h3.5v3.5h-3.5zM120,72h3.5v3.5h-3.5zM33,75h3.5v3.5h-3.5zM39,75h3.5v3.5h-3.5zM114,75h3.5v3.5h-3.5zM48,78h3.5v3.5h-3.5zM33,81h3.5v3.5h-3.5zM51,81h6.5v3.5h-6.5zM87,87h3.5v3.5h-3.5zM39,96h3.5v3.5h-3.5zM51,96h6.5v3.5h-6.5zM60,96h3.5v3.5h-3.5zM45,99h15.5v3.5h-15.5zM63,102h3.5v3.5h-3.5zM60,108h6.5v3.5h-6.5zM69,108h3.5v3.5h-3.5z"/><path fill="#e8602d" d="M66,12h6.5v3.5h-6.5zM66,24h6.5v3.5h-6.5zM54,27h3.5v3.5h-3.5zM84,30h3.5v3.5h-3.5zM54,33h3.5v3.5h-3.5zM69,33h3.5v3.5h-3.5zM87,33h3.5v3.5h-3.5zM69,36h3.5v3.5h-3.5zM120,36h3.5v3.5h-3.5zM135,36h3.5v3.5h-3.5zM141,36h12.5v3.5h-12.5zM108,39h6.5v3.5h-6.5zM123,39h3.5v3.5h-3.5zM135,39h3.5v3.5h-3.5zM150,39h6.5v3.5h-6.5zM114,42h6.5v3.5h-6.5zM123,42h9.5v3.5h-9.5zM135,42h3.5v3.5h-3.5zM87,45h3.5v3.5h-3.5zM123,45h3.5v3.5h-3.5zM132,45h3.5v3.5h-3.5zM123,48h3.5v3.5h-3.5zM51,51h3.5v3.5h-3.5zM84,51h3.5v3.5h-3.5zM120,51h6.5v3.5h-6.5zM114,54h3.5v3.5h-3.5zM48,57h3.5v3.5h-3.5zM111,57h6.5v3.5h-6.5zM108,63h3.5v3.5h-3.5zM138,63h3.5v3.5h-3.5zM21,66h6.5v3.5h-6.5zM24,69h6.5v3.5h-6.5zM84,69h3.5v3.5h-3.5zM135,69h3.5v3.5h-3.5zM27,72h3.5v3.5h-3.5zM39,72h3.5v3.5h-3.5zM51,72h3.5v3.5h-3.5zM111,72h3.5v3.5h-3.5zM123,72h3.5v3.5h-3.5zM129,72h6.5v3.5h-6.5zM48,75h3.5v3.5h-3.5zM111,75h3.5v3.5h-3.5zM129,75h6.5v3.5h-6.5zM48,81h3.5v3.5h-3.5zM33,96h3.5v3.5h-3.5zM39,99h3.5v3.5h-3.5zM60,99h3.5v3.5h-3.5zM60,102h3.5v3.5h-3.5zM60,105h6.5v3.5h-6.5zM48,108h9.5v3.5h-9.5zM51,111h3.5v3.5h-3.5zM66,111h3.5v3.5h-3.5zM60,114h3.5v3.5h-3.5zM63,117h3.5v3.5h-3.5zM63,120h3.5v3.5h-3.5zM69,120h3.5v3.5h-3.5zM63,123h9.5v3.5h-9.5zM84,123h3.5v3.5h-3.5zM63,126h3.5v3.5h-3.5zM81,126h6.5v3.5h-6.5zM60,129h3.5v3.5h-3.5zM69,129h3.5v3.5h-3.5zM75,129h3.5v3.5h-3.5zM81,129h3.5v3.5h-3.5zM84,132h6.5v3.5h-6.5z"/><path fill="#ed6925" d="M66,0h3.5v3.5h-3.5zM69,3h3.5v3.5h-3.5zM66,9h3.5v3.5h-3.5zM54,24h3.5v3.5h-3.5zM111,36h9.5v3.5h-9.5zM126,36h3.5v3.5h-3.5zM132,36h3.5v3.5h-3.5zM153,36h3.5v3.5h-3.5zM117,39h3.5v3.5h-3.5zM129,39h3.5v3.5h-3.5zM141,39h3.5v3.5h-3.5zM105,42h6.5v3.5h-6.5zM120,42h3.5v3.5h-3.5zM132,42h3.5v3.5h-3.5zM150,42h3.5v3.5h-3.5zM48,45h6.5v3.5h-6.5zM102,45h9.5v3.5h-9.5zM126,45h3.5v3.5h-3.5zM48,48h3.5v3.5h-3.5zM84,48h3.5v3.5h-3.5zM114,48h3.5v3.5h-3.5zM48,51h3.5v3.5h-3.5zM114,51h6.5v3.5h-6.5zM48,54h3.5v3.5h-3.5zM111,54h3.5v3.5h-3.5zM108,57h3.5v3.5h-3.5zM48,60h6.5v3.5h-6.5zM84,60h3.5v3.5h-3.5zM105,60h3.5v3.5h-3.5zM48,63h3.5v3.5h-3.5zM84,63h3.5v3.5h-3.5zM30,66h6.5v3.5h-6.5zM33,69h3.5v3.5h-3.5zM48,69h3.5v3.5h-3.5zM33,72h3.5v3.5h-3.5zM48,72h3.5v3.5h-3.5zM30,75h3.5v3.5h-3.5zM36,75h3.5v3.5h-3.5zM51,75h3.5v3.5h-3.5zM108,75h3.5v3.5h-3.5zM123,75h6.5v3.5h-6.5zM33,78h3.5v3.5h-3.5zM51,78h6.5v3.5h-6.5zM90,78h3.5v3.5h-3.5zM30,81h3.5v3.5h-3.5zM48,111h3.5v3.5h-3.5zM54,111h3.5v3.5h-3.5zM60,111h3.5v3.5h-3.5zM63,114h3.5v3.5h-3.5zM60,120h3.5v3.5h-3.5zM66,120h3.5v3.5h-3.5zM84,120h3.5v3.5h-3.5zM60,123h3.5v3.5h-3.5zM87,123h3.5v3.5h-3.5zM60,126h3.5v3.5h-3.5zM66,126h12.5v3.5h-12.5zM63,129h6.5v3.5h-6.5zM84,135h6.5v3.5h-6.5z"/><path fill="#f2741c" d="M171,0h3.5v3.5h-3.5zM66,3h3.5v3.5h-3.5zM168,3h3.5v3.5h-3.5zM174,12h3.5v3.5h-3.5zM84,18h3.5v3.5h-3.5zM60,21h3.5v3.5h-3.5zM84,21h3.5v3.5h-3.5zM153,21h3.5v3.5h-3.5zM57,24h3.5v3.5h-3.5zM84,24h3.5v3.5h-3.5zM84,27h3.5v3.5h-3.5zM120,27h3.5v3.5h-3.5zM54,30h3.5v3.5h-3.5zM87,30h3.5v3.5h-3.5zM117,33h3.5v3.5h-3.5zM135,33h3.5v3.5h-3.5zM150,33h3.5v3.5h-3.5zM168,33h3.5v3.5h-3.5zM108,36h3.5v3.5h-3.5zM129,36h3.5v3.5h-3.5zM138,36h3.5v3.5h-3.5zM48,39h6.5v3.5h-6.5zM87,39h3.5v3.5h-3.5zM120,39h3.5v3.5h-3.5zM126,39h3.5v3.5h-3.5zM132,39h3.5v3.5h-3.5zM48,42h3.5v3.5h-3.5zM87,42h3.5v3.5h-3.5zM102,42h3.5v3.5h-3.5zM111,45h6.5v3.5h-6.5zM150,48h3.5v3.5h-3.5zM84,54h3.5v3.5h-3.5zM108,54h3.5v3.5h-3.5zM144,54h3.5v3.5h-3.5zM84,57h3.5v3.5h-3.5zM45,60h3.5v3.5h-3.5zM99,60h6.5v3.5h-6.5zM141,60h3.5v3.5h-3.5zM24,63h3.5v3.5h-3.5zM99,63h3.5v3.5h-3.5zM141,63h3.5v3.5h-3.5zM18,66h3.5v3.5h-3.5zM27,66h3.5v3.5h-3.5zM48,66h3.5v3.5h-3.5zM87,69h3.5v3.5h-3.5zM24,72h3.5v3.5h-3.5zM30,72h3.5v3.5h-3.5zM36,72h3.5v3.5h-3.5zM135,72h3.5v3.5h-3.5zM27,75h3.5v3.5h-3.5zM117,75h6.5v3.5h-6.5zM135,75h3.5v3.5h-3.5zM93,78h3.5v3.5h-3.5zM99,78h3.5v3.5h-3.5zM120,78h3.5v3.5h-3.5zM132,78h3.5v3.5h-3.5zM108,81h3.5v3.5h-3.5zM162,81h3.5v3.5h-3.5zM90,84h3.5v3.5h-3.5zM111,84h3.5v3.5h-3.5zM87,96h3.5v3.5h-3.5zM36,99h3.5v3.5h-3.5zM87,99h3.5v3.5h-3.5zM81,105h3.5v3.5h-3.5zM72,108h3.5v3.5h-3.5zM57,111h3.5v3.5h-3.5zM63,111h3.5v3.5h-3.5zM81,114h3.5v3.5h-3.5zM60,117h3.5v3.5h-3.5zM54,120h3.5v3.5h-3.5zM87,120h3.5v3.5h-3.5zM78,123h3.5v3.5h-3.5zM78,126h3.5v3.5h-3.5zM87,126h3.5v3.5h-3.5zM72,129h3.5v3.5h-3.5zM78,129h3.5v3.5h-3.5zM84,129h6.5v3.5h-6.5zM51,147h3.5v3.5h-3.5z"/><path fill="#f67e14" d="M57,3h3.5v3.5h-3.5zM156,3h3.5v3.5h-3.5zM177,3h3.5v3.5h-3.5zM66,6h3.5v3.5h-3.5zM138,6h3.5v3.5h-3.5zM120,9h3.5v3.5h-3.5zM126,9h3.5v3.5h-3.5zM135,9h3.5v3.5h-3.5zM153,9h3.5v3.5h-3.5zM165,9h3.5v3.5h-3.5zM63,12h3.5v3.5h-3.5zM126,12h3.5v3.5h-3.5zM150,12h3.5v3.5h-3.5zM126,15h3.5v3.5h-3.5zM63,18h3.5v3.5h-3.5zM120,18h3.5v3.5h-3.5zM168,18h3.5v3.5h-3.5zM63,21h3.5v3.5h-3.5zM168,21h3.5v3.5h-3.5zM177,21h3.5v3.5h-3.5zM114,24h3.5v3.5h-3.5zM165,24h3.5v3.5h-3.5zM126,30h3.5v3.5h-3.5zM147,30h3.5v3.5h-3.5zM147,33h3.5v3.5h-3.5zM162,33h3.5v3.5h-3.5zM51,36h3.5v3.5h-3.5zM171,36h3.5v3.5h-3.5zM90,39h3.5v3.5h-3.5zM102,39h3.5v3.5h-3.5zM168,39h6.5v3.5h-6.5zM177,39h3.5v3.5h-3.5zM99,42h3.5v3.5h-3.5zM153,42h3.5v3.5h-3.5zM45,45h3.5v3.5h-3.5zM120,45h3.5v3.5h-3.5zM150,45h3.5v3.5h-3.5zM171,45h3.5v3.5h-3.5zM96,48h3.5v3.5h-3.5zM102,48h3.5v3.5h-3.5zM177,48h3.5v3.5h-3.5zM99,51h3.5v3.5h-3.5zM108,51h3.5v3.5h-3.5zM159,51h3.5v3.5h-3.5zM171,51h3.5v3.5h-3.5zM153,54h3.5v3.5h-3.5zM159,54h3.5v3.5h-3.5zM102,57h3.5v3.5h-3.5zM144,57h3.5v3.5h-3.5zM156,57h3.5v3.5h-3.5zM177,60h3.5v3.5h-3.5zM21,63h3.5v3.5h-3.5zM90,63h6.5v3.5h-6.5zM144,63h3.5v3.5h-3.5zM45,66h3.5v3.5h-3.5zM84,66h6.5v3.5h-6.5zM21,69h3.5v3.5h-3.5zM30,69h3.5v3.5h-3.5zM159,69h3.5v3.5h-3.5zM174,69h3.5v3.5h-3.5zM45,72h3.5v3.5h-3.5zM24,75h3.5v3.5h-3.5zM42,75h6.5v3.5h-6.5zM138,75h3.5v3.5h-3.5zM30,78h3.5v3.5h-3.5zM96,78h3.5v3.5h-3.5zM102,78h3.5v3.5h-3.5zM117,78h3.5v3.5h-3.5zM135,78h3.5v3.5h-3.5zM156,78h3.5v3.5h-3.5zM168,78h3.5v3.5h-3.5zM90,81h3.5v3.5h-3.5zM165,81h3.5v3.5h-3.5zM96,84h3.5v3.5h-3.5zM159,84h3.5v3.5h-3.5zM90,87h3.5v3.5h-3.5zM138,87h3.5v3.5h-3.5zM162,87h3.5v3.5h-3.5zM168,87h6.5v3.5h-6.5zM90,90h3.5v3.5h-3.5zM105,90h3.5v3.5h-3.5zM168,90h3.5v3.5h-3.5zM171,93h3.5v3.5h-3.5zM84,102h3.5v3.5h-3.5zM78,105h3.5v3.5h-3.5zM78,108h3.5v3.5h-3.5zM69,111h3.5v3.5h-3.5zM48,114h3.5v3.5h-3.5zM66,114h3.5v3.5h-3.5zM57,117h3.5v3.5h-3.5zM75,123h3.5v3.5h-3.5zM81,123h3.5v3.5h-3.5zM90,129h3.5v3.5h-3.5zM78,132h3.5v3.5h-3.5zM81,135h3.5v3.5h-3.5zM84,138h3.5v3.5h-3.5zM60,141h3.5v3.5h-3.5zM81,141h6.5v3.5h-6.5zM78,144h3.5v3.5h-3.5zM93,147h3.5v3.5h-3.5z"/><path fill="#f98b0b" d="M51,0h3.5v3.5h-3.5zM57,0h3.5v3.5h-3.5zM129,0h3.5v3.5h-3.5zM150,0h6.5v3.5h-6.5zM162,0h6.5v3.5h-6.5zM54,3h3.5v3.5h-3.5zM132,3h3.5v3.5h-3.5zM159,3h6.5v3.5h-6.5zM57,6h9.5v3.5h-9.5zM144,6h3.5v3.5h-3.5zM165,6h3.5v3.5h-3.5zM174,6h3.5v3.5h-3.5zM63,9h3.5v3.5h-3.5zM123,9h3.5v3.5h-3.5zM144,9h3.5v3.5h-3.5zM150,9h3.5v3.5h-3.5zM156,9h6.5v3.5h-6.5zM174,9h6.5v3.5h-6.5zM135,12h3.5v3.5h-3.5zM144,12h3.5v3.5h-3.5zM153,12h3.5v3.5h-3.5zM159,12h3.5v3.5h-3.5zM177,12h3.5v3.5h-3.5zM60,15h6.5v3.5h-6.5zM117,15h3.5v3.5h-3.5zM123,15h3.5v3.5h-3.5zM132,15h3.5v3.5h-3.5zM153,15h3.5v3.5h-3.5zM165,15h6.5v3.5h-6.5zM174,15h3.5v3.5h-3.5zM87,18h3.5v3.5h-3.5zM117,18h3.5v3.5h-3.5zM123,18h3.5v3.5h-3.5zM132,18h3.5v3.5h-3.5zM156,18h3.5v3.5h-3.5zM177,18h3.5v3.5h-3.5zM117,21h3.5v3.5h-3.5zM123,21h3.5v3.5h-3.5zM132,21h3.5v3.5h-3.5zM162,21h3.5v3.5h-3.5zM171,21h3.5v3.5h-3.5zM117,24h3.5v3.5h-3.5zM129,24h6.5v3.5h-6.5zM150,24h9.5v3.5h-9.5zM174,24h3.5v3.5h-3.5zM87,27h3.5v3.5h-3.5zM108,27h3.5v3.5h-3.5zM117,27h3.5v3.5h-3.5zM123,27h3.5v3.5h-3.5zM135,27h6.5v3.5h-6.5zM144,27h3.5v3.5h-3.5zM150,27h3.5v3.5h-3.5zM165,27h3.5v3.5h-3.5zM108,30h3.5v3.5h-3.5zM114,30h3.5v3.5h-3.5zM120,30h3.5v3.5h-3.5zM129,30h3.5v3.5h-3.5zM141,30h3.5v3.5h-3.5zM150,30h12.5v3.5h-12.5zM168,30h3.5v3.5h-3.5zM102,33h3.5v3.5h-3.5zM108,33h6.5v3.5h-6.5zM120,33h9.5v3.5h-9.5zM132,33h3.5v3.5h-3.5zM138,33h9.5v3.5h-9.5zM171,33h3.5v3.5h-3.5zM177,33h3.5v3.5h-3.5zM90,36h6.5v3.5h-6.5zM159,36h12.5v3.5h-12.5zM96,39h6.5v3.5h-6.5zM105,39h3.5v3.5h-3.5zM156,39h6.5v3.5h-6.5zM174,39h3.5v3.5h-3.5zM90,42h3.5v3.5h-3.5zM96,42h3.5v3.5h-3.5zM162,42h3.5v3.5h-3.5zM93,45h9.5v3.5h-9.5zM159,45h6.5v3.5h-6.5zM168,45h3.5v3.5h-3.5zM177,45h3.5v3.5h-3.5zM45,48h3.5v3.5h-3.5zM87,48h3.5v3.5h-3.5zM105,48h3.5v3.5h-3.5zM111,48h3.5v3.5h-3.5zM153,48h3.5v3.5h-3.5zM168,48h3.5v3.5h-3.5zM174,48h3.5v3.5h-3.5zM45,51h3.5v3.5h-3.5zM87,51h3.5v3.5h-3.5zM96,51h3.5v3.5h-3.5zM150,51h3.5v3.5h-3.5zM162,51h6.5v3.5h-6.5zM39,54h3.5v3.5h-3.5zM93,54h3.5v3.5h-3.5zM102,54h3.5v3.5h-3.5zM147,54h6.5v3.5h-6.5zM156,54h3.5v3.5h-3.5zM165,54h6.5v3.5h-6.5zM39,57h6.5v3.5h-6.5zM99,57h3.5v3.5h-3.5zM147,57h3.5v3.5h-3.5zM153,57h3.5v3.5h-3.5zM159,57h9.5v3.5h-9.5zM87,60h3.5v3.5h-3.5zM96,60h3.5v3.5h-3.5zM147,60h12.5v3.5h-12.5zM162,60h3.5v3.5h-3.5zM18,63h3.5v3.5h-3.5zM45,63h3.5v3.5h-3.5zM96,63h3.5v3.5h-3.5zM153,63h3.5v3.5h-3.5zM165,63h3.5v3.5h-3.5zM177,63h3.5v3.5h-3.5zM36,66h3.5v3.5h-3.5zM138,66h9.5v3.5h-9.5zM150,66h9.5v3.5h-9.5zM165,66h9.5v3.5h-9.5zM18,69h3.5v3.5h-3.5zM36,69h3.5v3.5h-3.5zM42,69h6.5v3.5h-6.5zM138,69h3.5v3.5h-3.5zM150,69h3.5v3.5h-3.5zM171,69h3.5v3.5h-3.5zM141,72h3.5v3.5h-3.5zM165,72h3.5v3.5h-3.5zM144,75h3.5v3.5h-3.5zM156,75h3.5v3.5h-3.5zM162,75h6.5v3.5h-6.5zM174,75h3.5v3.5h-3.5zM105,78h3.5v3.5h-3.5zM114,78h3.5v3.5h-3.5zM123,78h3.5v3.5h-3.5zM138,78h6.5v3.5h-6.5zM150,78h3.5v3.5h-3.5zM159,78h6.5v3.5h-6.5zM171,78h3.5v3.5h-3.5zM102,81h6.5v3.5h-6.5zM117,81h3.5v3.5h-3.5zM123,81h6.5v3.5h-6.5zM156,81h6.5v3.5h-6.5zM174,81h3.5v3.5h-3.5zM93,84h3.5v3.5h-3.5zM99,84h12.5v3.5h-12.5zM117,84h9.5v3.5h-9.5zM129,84h9.5v3.5h-9.5zM141,84h3.5v3.5h-3.5zM150,84h3.5v3.5h-3.5zM93,87h6.5v3.5h-6.5zM102,87h9.5v3.5h-9.5zM123,87h9.5v3.5h-9.5zM135,87h3.5v3.5h-3.5zM150,87h3.5v3.5h-3.5zM165,87h3.5v3.5h-3.5zM138,90h12.5v3.5h-12.5zM171,90h3.5v3.5h-3.5zM162,93h3.5v3.5h-3.5zM168,93h3.5v3.5h-3.5zM174,93h6.5v3.5h-6.5zM30,96h3.5v3.5h-3.5zM177,96h3.5v3.5h-3.5zM33,99h3.5v3.5h-3.5zM87,102h3.5v3.5h-3.5zM39,105h3.5v3.5h-3.5zM84,105h3.5v3.5h-3.5zM75,108h3.5v3.5h-3.5zM81,108h9.5v3.5h-9.5zM78,111h6.5v3.5h-6.5zM54,114h6.5v3.5h-6.5zM78,114h3.5v3.5h-3.5zM81,117h3.5v3.5h-3.5zM87,117h3.5v3.5h-3.5zM57,120h3.5v3.5h-3.5zM81,120h3.5v3.5h-3.5zM90,120h3.5v3.5h-3.5zM54,123h3.5v3.5h-3.5zM90,126h3.5v3.5h-3.5zM60,132h6.5v3.5h-6.5zM69,132h9.5v3.5h-9.5zM81,132h3.5v3.5h-3.5zM90,132h3.5v3.5h-3.5zM57,138h9.5v3.5h-9.5zM78,138h6.5v3.5h-6.5zM54,141h6.5v3.5h-6.5zM63,141h6.5v3.5h-6.5zM75,141h6.5v3.5h-6.5zM87,141h3.5v3.5h-3.5zM66,144h6.5v3.5h-6.5zM75,144h3.5v3.5h-3.5zM87,144h9.5v3.5h-9.5zM63,147h3.5v3.5h-3.5zM69,147h3.5v3.5h-3.5zM78,147h3.5v3.5h-3.5zM84,147h3.5v3.5h-3.5z"/><path fill="#fb9606" d="M60,0h3.5v3.5h-3.5zM126,0h3.5v3.5h-3.5zM132,0h6.5v3.5h-6.5zM141,0h6.5v3.5h-6.5zM156,0h6.5v3.5h-6.5zM168,0h3.5v3.5h-3.5zM174,0h6.5v3.5h-6.5zM51,3h3.5v3.5h-3.5zM63,3h3.5v3.5h-3.5zM126,3h3.5v3.5h-3.5zM135,3h12.5v3.5h-12.5zM165,3h3.5v3.5h-3.5zM123,6h6.5v3.5h-6.5zM132,6h3.5v3.5h-3.5zM147,6h3.5v3.5h-3.5zM159,6h3.5v3.5h-3.5zM168,6h3.5v3.5h-3.5zM57,9h3.5v3.5h-3.5zM138,9h6.5v3.5h-6.5zM147,9h3.5v3.5h-3.5zM162,9h3.5v3.5h-3.5zM168,9h6.5v3.5h-6.5zM57,12h6.5v3.5h-6.5zM117,12h6.5v3.5h-6.5zM129,12h3.5v3.5h-3.5zM141,12h3.5v3.5h-3.5zM147,12h3.5v3.5h-3.5zM165,12h3.5v3.5h-3.5zM171,12h3.5v3.5h-3.5zM54,15h6.5v3.5h-6.5zM84,15h3.5v3.5h-3.5zM111,15h3.5v3.5h-3.5zM135,15h3.5v3.5h-3.5zM141,15h9.5v3.5h-9.5zM156,15h6.5v3.5h-6.5zM171,15h3.5v3.5h-3.5zM177,15h3.5v3.5h-3.5zM60,18h3.5v3.5h-3.5zM108,18h3.5v3.5h-3.5zM114,18h3.5v3.5h-3.5zM129,18h3.5v3.5h-3.5zM150,18h3.5v3.5h-3.5zM162,18h3.5v3.5h-3.5zM171,18h3.5v3.5h-3.5zM87,21h3.5v3.5h-3.5zM114,21h3.5v3.5h-3.5zM129,21h3.5v3.5h-3.5zM135,21h6.5v3.5h-6.5zM147,21h6.5v3.5h-6.5zM156,21h6.5v3.5h-6.5zM174,21h3.5v3.5h-3.5zM87,24h3.5v3.5h-3.5zM102,24h12.5v3.5h-12.5zM120,24h9.5v3.5h-9.5zM135,24h3.5v3.5h-3.5zM141,24h9.5v3.5h-9.5zM159,24h6.5v3.5h-6.5zM177,24h3.5v3.5h-3.5zM102,27h6.5v3.5h-6.5zM126,27h3.5v3.5h-3.5zM153,27h6.5v3.5h-6.5zM168,27h9.5v3.5h-9.5zM105,30h3.5v3.5h-3.5zM123,30h3.5v3.5h-3.5zM135,30h6.5v3.5h-6.5zM144,30h3.5v3.5h-3.5zM162,30h6.5v3.5h-6.5zM114,33h3.5v3.5h-3.5zM129,33h3.5v3.5h-3.5zM153,33h9.5v3.5h-9.5zM48,36h3.5v3.5h-3.5zM96,36h9.5v3.5h-9.5zM174,36h6.5v3.5h-6.5zM165,39h3.5v3.5h-3.5zM42,42h6.5v3.5h-6.5zM156,42h3.5v3.5h-3.5zM168,42h3.5v3.5h-3.5zM174,42h3.5v3.5h-3.5zM90,45h3.5v3.5h-3.5zM156,45h3.5v3.5h-3.5zM165,45h3.5v3.5h-3.5zM42,48h3.5v3.5h-3.5zM90,48h6.5v3.5h-6.5zM108,48h3.5v3.5h-3.5zM156,48h6.5v3.5h-6.5zM165,48h3.5v3.5h-3.5zM171,48h3.5v3.5h-3.5zM42,51h3.5v3.5h-3.5zM105,51h3.5v3.5h-3.5zM111,51h3.5v3.5h-3.5zM168,51h3.5v3.5h-3.5zM174,51h6.5v3.5h-6.5zM42,54h6.5v3.5h-6.5zM87,54h6.5v3.5h-6.5zM96,54h3.5v3.5h-3.5zM162,54h3.5v3.5h-3.5zM171,54h6.5v3.5h-6.5zM45,57h3.5v3.5h-3.5zM90,57h6.5v3.5h-6.5zM105,57h3.5v3.5h-3.5zM150,57h3.5v3.5h-3.5zM168,57h3.5v3.5h-3.5zM174,57h3.5v3.5h-3.5zM90,60h3.5v3.5h-3.5zM144,60h3.5v3.5h-3.5zM159,60h3.5v3.5h-3.5zM168,60h6.5v3.5h-6.5zM15,63h3.5v3.5h-3.5zM42,63h3.5v3.5h-3.5zM87,63h3.5v3.5h-3.5zM147,63h6.5v3.5h-6.5zM168,63h3.5v3.5h-3.5zM39,66h3.5v3.5h-3.5zM147,66h3.5v3.5h-3.5zM159,66h6.5v3.5h-6.5zM174,66h3.5v3.5h-3.5zM39,69h3.5v3.5h-3.5zM141,69h3.5v3.5h-3.5zM147,69h3.5v3.5h-3.5zM153,69h6.5v3.5h-6.5zM165,69h3.5v3.5h-3.5zM177,69h3.5v3.5h-3.5zM42,72h3.5v3.5h-3.5zM138,72h3.5v3.5h-3.5zM144,72h6.5v3.5h-6.5zM153,72h3.5v3.5h-3.5zM159,72h6.5v3.5h-6.5zM168,72h9.5v3.5h-9.5zM147,75h3.5v3.5h-3.5zM168,75h3.5v3.5h-3.5zM177,75h3.5v3.5h-3.5zM108,78h6.5v3.5h-6.5zM144,78h6.5v3.5h-6.5zM153,78h3.5v3.5h-3.5zM177,78h3.5v3.5h-3.5zM93,81h6.5v3.5h-6.5zM111,81h6.5v3.5h-6.5zM120,81h3.5v3.5h-3.5zM141,81h6.5v3.5h-6.5zM150,81h6.5v3.5h-6.5zM177,81h3.5v3.5h-3.5zM126,84h3.5v3.5h-3.5zM138,84h3.5v3.5h-3.5zM144,84h6.5v3.5h-6.5zM156,84h3.5v3.5h-3.5zM162,84h12.5v3.5h-12.5zM177,84h3.5v3.5h-3.5zM99,87h3.5v3.5h-3.5zM117,87h3.5v3.5h-3.5zM153,87h3.5v3.5h-3.5zM159,87h3.5v3.5h-3.5zM177,87h3.5v3.5h-3.5zM27,90h3.5v3.5h-3.5zM93,90h3.5v3.5h-3.5zM102,90h3.5v3.5h-3.5zM108,90h6.5v3.5h-6.5zM120,90h6.5v3.5h-6.5zM174,90h6.5v3.5h-6.5zM90,93h3.5v3.5h-3.5zM108,93h3.5v3.5h-3.5zM126,93h6.5v3.5h-6.5zM141,93h3.5v3.5h-3.5zM147,93h3.5v3.5h-3.5zM165,93h3.5v3.5h-3.5zM36,102h6.5v3.5h-6.5zM45,102h3.5v3.5h-3.5zM72,111h3.5v3.5h-3.5zM51,114h3.5v3.5h-3.5zM69,114h3.5v3.5h-3.5zM84,114h6.5v3.5h-6.5zM48,117h3.5v3.5h-3.5zM66,117h6.5v3.5h-6.5zM72,120h9.5v3.5h-9.5zM93,120h6.5v3.5h-6.5zM57,123h3.5v3.5h-3.5zM72,123h3.5v3.5h-3.5zM90,123h9.5v3.5h-9.5zM66,132h3.5v3.5h-3.5zM93,132h3.5v3.5h-3.5zM63,135h3.5v3.5h-3.5zM69,135h9.5v3.5h-9.5zM90,135h3.5v3.5h-3.5zM69,138h6.5v3.5h-6.5zM87,138h9.5v3.5h-9.5zM69,141h3.5v3.5h-3.5zM90,141h3.5v3.5h-3.5zM51,144h6.5v3.5h-6.5zM63,144h3.5v3.5h-3.5zM72,144h3.5v3.5h-3.5zM84,144h3.5v3.5h-3.5zM57,147h3.5v3.5h-3.5zM66,147h3.5v3.5h-3.5zM72,147h3.5v3.5h-3.5zM81,147h3.5v3.5h-3.5z"/><path fill="#fca309" d="M48,0h3.5v3.5h-3.5zM54,0h3.5v3.5h-3.5zM63,0h3.5v3.5h-3.5zM84,0h3.5v3.5h-3.5zM138,0h3.5v3.5h-3.5zM147,0h3.5v3.5h-3.5zM129,3h3.5v3.5h-3.5zM150,3h6.5v3.5h-6.5zM171,3h6.5v3.5h-6.5zM54,6h3.5v3.5h-3.5zM129,6h3.5v3.5h-3.5zM141,6h3.5v3.5h-3.5zM150,6h9.5v3.5h-9.5zM162,6h3.5v3.5h-3.5zM171,6h3.5v3.5h-3.5zM54,9h3.5v3.5h-3.5zM60,9h3.5v3.5h-3.5zM84,9h3.5v3.5h-3.5zM129,9h6.5v3.5h-6.5zM84,12h3.5v3.5h-3.5zM114,12h3.5v3.5h-3.5zM123,12h3.5v3.5h-3.5zM132,12h3.5v3.5h-3.5zM138,12h3.5v3.5h-3.5zM168,12h3.5v3.5h-3.5zM114,15h3.5v3.5h-3.5zM120,15h3.5v3.5h-3.5zM129,15h3.5v3.5h-3.5zM138,15h3.5v3.5h-3.5zM150,15h3.5v3.5h-3.5zM126,18h3.5v3.5h-3.5zM135,18h15.5v3.5h-15.5zM153,18h3.5v3.5h-3.5zM159,18h3.5v3.5h-3.5zM174,18h3.5v3.5h-3.5zM108,21h6.5v3.5h-6.5zM120,21h3.5v3.5h-3.5zM126,21h3.5v3.5h-3.5zM165,21h3.5v3.5h-3.5zM138,24h3.5v3.5h-3.5zM168,24h3.5v3.5h-3.5zM111,27h3.5v3.5h-3.5zM129,27h6.5v3.5h-6.5zM141,27h3.5v3.5h-3.5zM147,27h3.5v3.5h-3.5zM159,27h6.5v3.5h-6.5zM177,27h3.5v3.5h-3.5zM48,30h3.5v3.5h-3.5zM111,30h3.5v3.5h-3.5zM117,30h3.5v3.5h-3.5zM132,30h3.5v3.5h-3.5zM171,30h9.5v3.5h-9.5zM48,33h6.5v3.5h-6.5zM105,33h3.5v3.5h-3.5zM105,36h3.5v3.5h-3.5zM156,36h3.5v3.5h-3.5zM45,39h3.5v3.5h-3.5zM93,39h3.5v3.5h-3.5zM162,39h3.5v3.5h-3.5zM93,42h3.5v3.5h-3.5zM159,42h3.5v3.5h-3.5zM165,42h3.5v3.5h-3.5zM171,42h3.5v3.5h-3.5zM177,42h3.5v3.5h-3.5zM42,45h3.5v3.5h-3.5zM153,45h3.5v3.5h-3.5zM174,45h3.5v3.5h-3.5zM162,48h3.5v3.5h-3.5zM90,51h6.5v3.5h-6.5zM102,51h3.5v3.5h-3.5zM153,51h6.5v3.5h-6.5zM105,54h3.5v3.5h-3.5zM177,54h3.5v3.5h-3.5zM87,57h3.5v3.5h-3.5zM171,57h3.5v3.5h-3.5zM12,60h6.5v3.5h-6.5zM21,60h3.5v3.5h-3.5zM27,60h3.5v3.5h-3.5zM42,60h3.5v3.5h-3.5zM93,60h3.5v3.5h-3.5zM165,60h3.5v3.5h-3.5zM174,60h3.5v3.5h-3.5zM27,63h3.5v3.5h-3.5zM156,63h9.5v3.5h-9.5zM171,63h6.5v3.5h-6.5zM42,66h3.5v3.5h-3.5zM177,66h3.5v3.5h-3.5zM144,69h3.5v3.5h-3.5zM162,69h3.5v3.5h-3.5zM168,69h3.5v3.5h-3.5zM150,72h3.5v3.5h-3.5zM177,72h3.5v3.5h-3.5zM141,75h3.5v3.5h-3.5zM159,75h3.5v3.5h-3.5zM171,75h3.5v3.5h-3.5zM126,78h6.5v3.5h-6.5zM165,78h3.5v3.5h-3.5zM174,78h3.5v3.5h-3.5zM99,81h3.5v3.5h-3.5zM132,81h9.5v3.5h-9.5zM168,81h6.5v3.5h-6.5zM27,84h3.5v3.5h-3.5zM114,84h3.5v3.5h-3.5zM153,84h3.5v3.5h-3.5zM27,87h3.5v3.5h-3.5zM111,87h6.5v3.5h-6.5zM120,87h3.5v3.5h-3.5zM132,87h3.5v3.5h-3.5zM141,87h3.5v3.5h-3.5zM147,87h3.5v3.5h-3.5zM156,87h3.5v3.5h-3.5zM162,90h3.5v3.5h-3.5zM27,93h3.5v3.5h-3.5zM93,93h3.5v3.5h-3.5zM102,93h6.5v3.5h-6.5zM120,93h3.5v3.5h-3.5zM138,93h3.5v3.5h-3.5zM144,93h3.5v3.5h-3.5zM27,96h3.5v3.5h-3.5zM174,96h3.5v3.5h-3.5zM177,102h3.5v3.5h-3.5zM36,105h3.5v3.5h-3.5zM87,105h3.5v3.5h-3.5zM84,111h6.5v3.5h-6.5zM51,117h6.5v3.5h-6.5zM78,117h3.5v3.5h-3.5zM84,117h3.5v3.5h-3.5zM99,120h3.5v3.5h-3.5zM93,126h3.5v3.5h-3.5zM93,129h3.5v3.5h-3.5zM60,135h3.5v3.5h-3.5zM66,135h3.5v3.5h-3.5zM93,135h3.5v3.5h-3.5zM75,138h3.5v3.5h-3.5zM72,141h3.5v3.5h-3.5zM93,141h3.5v3.5h-3.5zM48,144h3.5v3.5h-3.5zM57,144h6.5v3.5h-6.5zM81,144h3.5v3.5h-3.5zM54,147h3.5v3.5h-3.5zM60,147h3.5v3.5h-3.5zM75,147h3.5v3.5h-3.5zM87,147h6.5v3.5h-6.5z"/><path fill="#fcb014" d="M3,0h3.5v3.5h-3.5zM18,0h3.5v3.5h-3.5zM108,0h3.5v3.5h-3.5zM12,3h3.5v3.5h-3.5zM24,3h3.5v3.5h-3.5zM48,3h3.5v3.5h-3.5zM60,3h3.5v3.5h-3.5zM147,3h3.5v3.5h-3.5zM84,6h3.5v3.5h-3.5zM120,6h3.5v3.5h-3.5zM135,6h3.5v3.5h-3.5zM177,6h3.5v3.5h-3.5zM54,12h3.5v3.5h-3.5zM156,12h3.5v3.5h-3.5zM162,12h3.5v3.5h-3.5zM162,15h3.5v3.5h-3.5zM12,18h3.5v3.5h-3.5zM111,18h3.5v3.5h-3.5zM165,18h3.5v3.5h-3.5zM54,21h3.5v3.5h-3.5zM141,21h3.5v3.5h-3.5zM171,24h3.5v3.5h-3.5zM51,30h3.5v3.5h-3.5zM102,30h3.5v3.5h-3.5zM12,33h3.5v3.5h-3.5zM165,33h3.5v3.5h-3.5zM174,33h3.5v3.5h-3.5zM30,51h3.5v3.5h-3.5zM36,54h3.5v3.5h-3.5zM99,54h3.5v3.5h-3.5zM96,57h3.5v3.5h-3.5zM177,57h3.5v3.5h-3.5zM18,60h3.5v3.5h-3.5zM24,60h3.5v3.5h-3.5zM30,63h3.5v3.5h-3.5zM156,72h3.5v3.5h-3.5zM150,75h6.5v3.5h-6.5zM129,81h3.5v3.5h-3.5zM147,81h3.5v3.5h-3.5zM174,84h3.5v3.5h-3.5zM144,87h3.5v3.5h-3.5zM174,87h3.5v3.5h-3.5zM126,90h6.5v3.5h-6.5zM153,90h3.5v3.5h-3.5zM165,90h3.5v3.5h-3.5zM96,93h3.5v3.5h-3.5zM111,93h3.5v3.5h-3.5zM123,93h3.5v3.5h-3.5zM102,96h3.5v3.5h-3.5zM150,96h3.5v3.5h-3.5zM156,105h3.5v3.5h-3.5zM159,108h3.5v3.5h-3.5zM171,108h3.5v3.5h-3.5zM75,111h3.5v3.5h-3.5zM126,111h3.5v3.5h-3.5zM150,111h3.5v3.5h-3.5zM72,114h3.5v3.5h-3.5zM165,114h3.5v3.5h-3.5zM96,117h3.5v3.5h-3.5zM126,117h3.5v3.5h-3.5zM153,123h3.5v3.5h-3.5zM57,126h3.5v3.5h-3.5zM132,126h3.5v3.5h-3.5zM78,135h3.5v3.5h-3.5zM162,135h3.5v3.5h-3.5zM54,138h3.5v3.5h-3.5zM66,138h3.5v3.5h-3.5zM141,138h3.5v3.5h-3.5zM102,141h3.5v3.5h-3.5zM48,147h3.5v3.5h-3.5z"/><path fill="#fbbc21" d="M117,0h3.5v3.5h-3.5zM0,3h3.5v3.5h-3.5zM39,3h3.5v3.5h-3.5zM45,3h3.5v3.5h-3.5zM84,3h6.5v3.5h-6.5zM102,3h6.5v3.5h-6.5zM51,6h3.5v3.5h-3.5zM99,6h3.5v3.5h-3.5zM45,9h3.5v3.5h-3.5zM114,9h6.5v3.5h-6.5zM51,12h3.5v3.5h-3.5zM3,15h6.5v3.5h-6.5zM15,15h3.5v3.5h-3.5zM36,15h6.5v3.5h-6.5zM108,15h3.5v3.5h-3.5zM27,18h3.5v3.5h-3.5zM36,18h3.5v3.5h-3.5zM57,18h3.5v3.5h-3.5zM36,21h3.5v3.5h-3.5zM42,21h3.5v3.5h-3.5zM144,21h3.5v3.5h-3.5zM6,24h6.5v3.5h-6.5zM18,24h3.5v3.5h-3.5zM6,27h3.5v3.5h-3.5zM39,27h3.5v3.5h-3.5zM114,27h3.5v3.5h-3.5zM27,30h3.5v3.5h-3.5zM36,30h3.5v3.5h-3.5zM90,30h3.5v3.5h-3.5zM6,33h3.5v3.5h-3.5zM90,33h3.5v3.5h-3.5zM3,36h3.5v3.5h-3.5zM9,36h3.5v3.5h-3.5zM24,36h3.5v3.5h-3.5zM45,36h3.5v3.5h-3.5zM6,39h6.5v3.5h-6.5zM18,39h3.5v3.5h-3.5zM39,42h3.5v3.5h-3.5zM12,45h6.5v3.5h-6.5zM36,45h3.5v3.5h-3.5zM99,48h3.5v3.5h-3.5zM12,51h3.5v3.5h-3.5zM36,51h3.5v3.5h-3.5zM33,54h3.5v3.5h-3.5zM3,57h3.5v3.5h-3.5zM24,57h3.5v3.5h-3.5zM36,57h3.5v3.5h-3.5zM39,60h3.5v3.5h-3.5zM12,63h3.5v3.5h-3.5zM33,63h3.5v3.5h-3.5zM96,90h6.5v3.5h-6.5zM135,90h3.5v3.5h-3.5zM159,93h3.5v3.5h-3.5zM108,96h3.5v3.5h-3.5zM120,96h3.5v3.5h-3.5zM132,96h3.5v3.5h-3.5zM159,96h3.5v3.5h-3.5zM165,96h6.5v3.5h-6.5zM27,99h6.5v3.5h-6.5zM117,99h3.5v3.5h-3.5zM174,99h6.5v3.5h-6.5zM126,102h3.5v3.5h-3.5zM132,102h3.5v3.5h-3.5zM168,102h6.5v3.5h-6.5zM18,105h3.5v3.5h-3.5zM27,105h3.5v3.5h-3.5zM45,105h3.5v3.5h-3.5zM90,105h3.5v3.5h-3.5zM150,105h3.5v3.5h-3.5zM111,108h3.5v3.5h-3.5zM162,108h3.5v3.5h-3.5zM45,111h3.5v3.5h-3.5zM129,111h3.5v3.5h-3.5zM138,111h3.5v3.5h-3.5zM45,114h3.5v3.5h-3.5zM90,114h3.5v3.5h-3.5zM138,114h3.5v3.5h-3.5zM159,114h3.5v3.5h-3.5zM174,114h3.5v3.5h-3.5zM45,117h3.5v3.5h-3.5zM72,117h3.5v3.5h-3.5zM93,117h3.5v3.5h-3.5zM147,117h3.5v3.5h-3.5zM168,117h3.5v3.5h-3.5zM153,120h3.5v3.5h-3.5zM165,120h3.5v3.5h-3.5zM132,123h3.5v3.5h-3.5zM141,123h3.5v3.5h-3.5zM150,123h3.5v3.5h-3.5zM168,123h3.5v3.5h-3.5zM144,126h3.5v3.5h-3.5zM168,126h3.5v3.5h-3.5zM138,129h3.5v3.5h-3.5zM168,129h3.5v3.5h-3.5zM138,132h3.5v3.5h-3.5zM147,132h3.5v3.5h-3.5zM177,132h3.5v3.5h-3.5zM54,135h3.5v3.5h-3.5zM168,135h3.5v3.5h-3.5zM99,138h3.5v3.5h-3.5zM105,138h3.5v3.5h-3.5zM147,138h3.5v3.5h-3.5zM153,138h3.5v3.5h-3.5zM174,138h3.5v3.5h-3.5zM141,141h3.5v3.5h-3.5zM150,141h3.5v3.5h-3.5zM156,141h3.5v3.5h-3.5zM168,141h3.5v3.5h-3.5zM135,144h3.5v3.5h-3.5zM162,144h3.5v3.5h-3.5zM159,147h3.5v3.5h-3.5z"/><path fill="#f9c932" d="M9,0h9.5v3.5h-9.5zM21,0h6.5v3.5h-6.5zM33,0h15.5v3.5h-15.5zM90,0h6.5v3.5h-6.5zM114,0h3.5v3.5h-3.5zM6,3h3.5v3.5h-3.5zM15,3h3.5v3.5h-3.5zM27,3h3.5v3.5h-3.5zM33,3h3.5v3.5h-3.5zM90,3h6.5v3.5h-6.5zM120,3h6.5v3.5h-6.5zM0,6h6.5v3.5h-6.5zM15,6h3.5v3.5h-3.5zM33,6h9.5v3.5h-9.5zM48,6h3.5v3.5h-3.5zM102,6h3.5v3.5h-3.5zM108,6h12.5v3.5h-12.5zM9,9h3.5v3.5h-3.5zM18,9h3.5v3.5h-3.5zM30,9h3.5v3.5h-3.5zM36,9h9.5v3.5h-9.5zM93,9h3.5v3.5h-3.5zM99,9h3.5v3.5h-3.5zM111,9h3.5v3.5h-3.5zM3,12h3.5v3.5h-3.5zM12,12h6.5v3.5h-6.5zM39,12h3.5v3.5h-3.5zM105,12h3.5v3.5h-3.5zM12,15h3.5v3.5h-3.5zM18,15h3.5v3.5h-3.5zM24,15h3.5v3.5h-3.5zM93,15h3.5v3.5h-3.5zM102,15h3.5v3.5h-3.5zM6,18h3.5v3.5h-3.5zM15,18h3.5v3.5h-3.5zM21,18h6.5v3.5h-6.5zM48,18h3.5v3.5h-3.5zM102,18h6.5v3.5h-6.5zM9,21h3.5v3.5h-3.5zM33,21h3.5v3.5h-3.5zM45,21h3.5v3.5h-3.5zM57,21h3.5v3.5h-3.5zM90,21h3.5v3.5h-3.5zM96,21h9.5v3.5h-9.5zM21,24h3.5v3.5h-3.5zM51,24h3.5v3.5h-3.5zM90,24h3.5v3.5h-3.5zM12,27h3.5v3.5h-3.5zM21,27h3.5v3.5h-3.5zM30,27h9.5v3.5h-9.5zM48,27h6.5v3.5h-6.5zM90,27h3.5v3.5h-3.5zM99,27h3.5v3.5h-3.5zM0,30h12.5v3.5h-12.5zM15,30h3.5v3.5h-3.5zM24,30h3.5v3.5h-3.5zM99,30h3.5v3.5h-3.5zM3,33h3.5v3.5h-3.5zM9,33h3.5v3.5h-3.5zM15,33h3.5v3.5h-3.5zM27,33h3.5v3.5h-3.5zM33,33h3.5v3.5h-3.5zM99,33h3.5v3.5h-3.5zM18,36h3.5v3.5h-3.5zM27,36h3.5v3.5h-3.5zM33,36h3.5v3.5h-3.5zM42,36h3.5v3.5h-3.5zM33,39h3.5v3.5h-3.5zM42,39h3.5v3.5h-3.5zM6,42h6.5v3.5h-6.5zM27,42h3.5v3.5h-3.5zM33,42h3.5v3.5h-3.5zM6,45h3.5v3.5h-3.5zM21,45h3.5v3.5h-3.5zM27,45h3.5v3.5h-3.5zM39,45h3.5v3.5h-3.5zM3,48h3.5v3.5h-3.5zM18,48h3.5v3.5h-3.5zM27,48h3.5v3.5h-3.5zM39,48h3.5v3.5h-3.5zM3,51h3.5v3.5h-3.5zM27,51h3.5v3.5h-3.5zM33,51h3.5v3.5h-3.5zM39,51h3.5v3.5h-3.5zM0,54h3.5v3.5h-3.5zM24,54h3.5v3.5h-3.5zM30,54h3.5v3.5h-3.5zM0,57h3.5v3.5h-3.5zM15,57h3.5v3.5h-3.5zM21,57h3.5v3.5h-3.5zM27,57h3.5v3.5h-3.5zM33,57h3.5v3.5h-3.5zM33,60h3.5v3.5h-3.5zM27,78h3.5v3.5h-3.5zM24,87h3.5v3.5h-3.5zM24,90h3.5v3.5h-3.5zM132,90h3.5v3.5h-3.5zM156,90h6.5v3.5h-6.5zM24,93h3.5v3.5h-3.5zM114,93h6.5v3.5h-6.5zM135,93h3.5v3.5h-3.5zM24,96h3.5v3.5h-3.5zM90,96h6.5v3.5h-6.5zM114,96h6.5v3.5h-6.5zM123,96h3.5v3.5h-3.5zM135,96h3.5v3.5h-3.5zM144,96h3.5v3.5h-3.5zM171,96h3.5v3.5h-3.5zM93,99h3.5v3.5h-3.5zM105,99h3.5v3.5h-3.5zM114,99h3.5v3.5h-3.5zM132,99h3.5v3.5h-3.5zM156,99h6.5v3.5h-6.5zM168,99h3.5v3.5h-3.5zM42,102h3.5v3.5h-3.5zM90,102h3.5v3.5h-3.5zM96,102h3.5v3.5h-3.5zM105,102h6.5v3.5h-6.5zM129,102h3.5v3.5h-3.5zM138,102h3.5v3.5h-3.5zM165,102h3.5v3.5h-3.5zM99,105h9.5v3.5h-9.5zM141,105h3.5v3.5h-3.5zM153,105h3.5v3.5h-3.5zM171,105h3.5v3.5h-3.5zM45,108h3.5v3.5h-3.5zM99,108h3.5v3.5h-3.5zM132,108h3.5v3.5h-3.5zM141,108h6.5v3.5h-6.5zM153,108h6.5v3.5h-6.5zM165,108h3.5v3.5h-3.5zM174,108h3.5v3.5h-3.5zM42,111h3.5v3.5h-3.5zM90,111h6.5v3.5h-6.5zM132,111h6.5v3.5h-6.5zM147,111h3.5v3.5h-3.5zM156,111h3.5v3.5h-3.5zM162,111h3.5v3.5h-3.5zM42,114h3.5v3.5h-3.5zM99,114h3.5v3.5h-3.5zM126,114h6.5v3.5h-6.5zM141,114h6.5v3.5h-6.5zM150,114h3.5v3.5h-3.5zM156,114h3.5v3.5h-3.5zM168,114h3.5v3.5h-3.5zM177,114h3.5v3.5h-3.5zM75,117h3.5v3.5h-3.5zM99,117h3.5v3.5h-3.5zM138,117h3.5v3.5h-3.5zM150,117h6.5v3.5h-6.5zM165,117h3.5v3.5h-3.5zM48,120h3.5v3.5h-3.5zM126,120h6.5v3.5h-6.5zM135,120h3.5v3.5h-3.5zM147,120h3.5v3.5h-3.5zM156,120h3.5v3.5h-3.5zM174,120h6.5v3.5h-6.5zM99,123h3.5v3.5h-3.5zM126,123h6.5v3.5h-6.5zM147,123h3.5v3.5h-3.5zM162,123h6.5v3.5h-6.5zM174,123h3.5v3.5h-3.5zM96,126h3.5v3.5h-3.5zM126,126h6.5v3.5h-6.5zM138,126h6.5v3.5h-6.5zM147,126h3.5v3.5h-3.5zM153,126h9.5v3.5h-9.5zM165,126h3.5v3.5h-3.5zM171,126h9.5v3.5h-9.5zM57,129h3.5v3.5h-3.5zM96,129h6.5v3.5h-6.5zM141,129h9.5v3.5h-9.5zM174,129h3.5v3.5h-3.5zM96,132h3.5v3.5h-3.5zM159,132h3.5v3.5h-3.5zM165,132h3.5v3.5h-3.5zM174,132h3.5v3.5h-3.5zM57,135h3.5v3.5h-3.5zM102,135h3.5v3.5h-3.5zM144,135h6.5v3.5h-6.5zM159,135h3.5v3.5h-3.5zM108,138h3.5v3.5h-3.5zM144,138h3.5v3.5h-3.5zM159,138h6.5v3.5h-6.5zM171,138h3.5v3.5h-3.5zM177,138h3.5v3.5h-3.5zM99,141h3.5v3.5h-3.5zM138,141h3.5v3.5h-3.5zM147,141h3.5v3.5h-3.5zM153,141h3.5v3.5h-3.5zM162,141h3.5v3.5h-3.5zM171,141h3.5v3.5h-3.5zM177,141h3.5v3.5h-3.5zM99,144h3.5v3.5h-3.5zM138,144h3.5v3.5h-3.5zM150,144h6.5v3.5h-6.5zM168,144h3.5v3.5h-3.5zM102,147h6.5v3.5h-6.5zM111,147h3.5v3.5h-3.5zM147,147h6.5v3.5h-6.5zM171,147h3.5v3.5h-3.5z"/><path fill="#f6d543" d="M6,0h3.5v3.5h-3.5zM30,0h3.5v3.5h-3.5zM87,0h3.5v3.5h-3.5zM96,0h12.5v3.5h-12.5zM111,0h3.5v3.5h-3.5zM120,0h6.5v3.5h-6.5zM3,3h3.5v3.5h-3.5zM9,3h3.5v3.5h-3.5zM18,3h3.5v3.5h-3.5zM30,3h3.5v3.5h-3.5zM42,3h3.5v3.5h-3.5zM96,3h6.5v3.5h-6.5zM108,3h3.5v3.5h-3.5zM114,3h6.5v3.5h-6.5zM6,6h6.5v3.5h-6.5zM18,6h6.5v3.5h-6.5zM27,6h3.5v3.5h-3.5zM45,6h3.5v3.5h-3.5zM87,6h12.5v3.5h-12.5zM105,6h3.5v3.5h-3.5zM0,9h3.5v3.5h-3.5zM6,9h3.5v3.5h-3.5zM12,9h6.5v3.5h-6.5zM21,9h6.5v3.5h-6.5zM33,9h3.5v3.5h-3.5zM48,9h6.5v3.5h-6.5zM87,9h6.5v3.5h-6.5zM96,9h3.5v3.5h-3.5zM102,9h9.5v3.5h-9.5zM0,12h3.5v3.5h-3.5zM9,12h3.5v3.5h-3.5zM18,12h3.5v3.5h-3.5zM24,12h12.5v3.5h-12.5zM42,12h9.5v3.5h-9.5zM87,12h12.5v3.5h-12.5zM102,12h3.5v3.5h-3.5zM108,12h3.5v3.5h-3.5zM0,15h3.5v3.5h-3.5zM9,15h3.5v3.5h-3.5zM21,15h3.5v3.5h-3.5zM27,15h3.5v3.5h-3.5zM33,15h3.5v3.5h-3.5zM42,15h12.5v3.5h-12.5zM90,15h3.5v3.5h-3.5zM96,15h6.5v3.5h-6.5zM105,15h3.5v3.5h-3.5zM0,18h3.5v3.5h-3.5zM9,18h3.5v3.5h-3.5zM30,18h6.5v3.5h-6.5zM39,18h9.5v3.5h-9.5zM54,18h3.5v3.5h-3.5zM90,18h12.5v3.5h-12.5zM0,21h9.5v3.5h-9.5zM12,21h6.5v3.5h-6.5zM21,21h12.5v3.5h-12.5zM39,21h3.5v3.5h-3.5zM48,21h6.5v3.5h-6.5zM93,21h3.5v3.5h-3.5zM105,21h3.5v3.5h-3.5zM0,24h6.5v3.5h-6.5zM12,24h6.5v3.5h-6.5zM24,24h12.5v3.5h-12.5zM42,24h6.5v3.5h-6.5zM93,24h6.5v3.5h-6.5zM0,27h6.5v3.5h-6.5zM18,27h3.5v3.5h-3.5zM24,27h6.5v3.5h-6.5zM45,27h3.5v3.5h-3.5zM93,27h6.5v3.5h-6.5zM12,30h3.5v3.5h-3.5zM21,30h3.5v3.5h-3.5zM30,30h6.5v3.5h-6.5zM45,30h3.5v3.5h-3.5zM93,30h3.5v3.5h-3.5zM0,33h3.5v3.5h-3.5zM18,33h3.5v3.5h-3.5zM24,33h3.5v3.5h-3.5zM30,33h3.5v3.5h-3.5zM36,33h9.5v3.5h-9.5zM93,33h6.5v3.5h-6.5zM0,36h3.5v3.5h-3.5zM12,36h6.5v3.5h-6.5zM21,36h3.5v3.5h-3.5zM30,36h3.5v3.5h-3.5zM36,36h6.5v3.5h-6.5zM0,39h6.5v3.5h-6.5zM15,39h3.5v3.5h-3.5zM21,39h12.5v3.5h-12.5zM36,39h6.5v3.5h-6.5zM0,42h6.5v3.5h-6.5zM12,42h3.5v3.5h-3.5zM21,42h6.5v3.5h-6.5zM30,42h3.5v3.5h-3.5zM36,42h3.5v3.5h-3.5zM0,45h3.5v3.5h-3.5zM9,45h3.5v3.5h-3.5zM18,45h3.5v3.5h-3.5zM24,45h3.5v3.5h-3.5zM33,45h3.5v3.5h-3.5zM0,48h3.5v3.5h-3.5zM12,48h6.5v3.5h-6.5zM24,48h3.5v3.5h-3.5zM33,48h6.5v3.5h-6.5zM6,51h6.5v3.5h-6.5zM15,51h12.5v3.5h-12.5zM3,54h3.5v3.5h-3.5zM9,54h15.5v3.5h-15.5zM12,57h3.5v3.5h-3.5zM18,57h3.5v3.5h-3.5zM30,57h3.5v3.5h-3.5zM30,60h3.5v3.5h-3.5zM36,60h3.5v3.5h-3.5zM36,63h6.5v3.5h-6.5zM21,75h3.5v3.5h-3.5zM24,78h3.5v3.5h-3.5zM24,81h6.5v3.5h-6.5zM114,90h6.5v3.5h-6.5zM150,90h3.5v3.5h-3.5zM99,93h3.5v3.5h-3.5zM132,93h3.5v3.5h-3.5zM150,93h3.5v3.5h-3.5zM156,93h3.5v3.5h-3.5zM96,96h3.5v3.5h-3.5zM105,96h3.5v3.5h-3.5zM111,96h3.5v3.5h-3.5zM126,96h3.5v3.5h-3.5zM141,96h3.5v3.5h-3.5zM147,96h3.5v3.5h-3.5zM156,96h3.5v3.5h-3.5zM162,96h3.5v3.5h-3.5zM24,99h3.5v3.5h-3.5zM90,99h3.5v3.5h-3.5zM96,99h9.5v3.5h-9.5zM108,99h6.5v3.5h-6.5zM120,99h12.5v3.5h-12.5zM138,99h18.5v3.5h-18.5zM162,99h6.5v3.5h-6.5zM171,99h3.5v3.5h-3.5zM21,102h15.5v3.5h-15.5zM93,102h3.5v3.5h-3.5zM102,102h3.5v3.5h-3.5zM111,102h3.5v3.5h-3.5zM123,102h3.5v3.5h-3.5zM135,102h3.5v3.5h-3.5zM141,102h6.5v3.5h-6.5zM150,102h3.5v3.5h-3.5zM156,102h9.5v3.5h-9.5zM174,102h3.5v3.5h-3.5zM21,105h6.5v3.5h-6.5zM33,105h3.5v3.5h-3.5zM42,105h3.5v3.5h-3.5zM93,105h6.5v3.5h-6.5zM108,105h6.5v3.5h-6.5zM132,105h9.5v3.5h-9.5zM147,105h3.5v3.5h-3.5zM159,105h6.5v3.5h-6.5zM174,105h6.5v3.5h-6.5zM15,108h3.5v3.5h-3.5zM36,108h9.5v3.5h-9.5zM90,108h9.5v3.5h-9.5zM102,108h9.5v3.5h-9.5zM123,108h9.5v3.5h-9.5zM135,108h6.5v3.5h-6.5zM150,108h3.5v3.5h-3.5zM12,111h3.5v3.5h-3.5zM36,111h3.5v3.5h-3.5zM96,111h6.5v3.5h-6.5zM105,111h6.5v3.5h-6.5zM120,111h6.5v3.5h-6.5zM141,111h6.5v3.5h-6.5zM159,111h3.5v3.5h-3.5zM165,111h15.5v3.5h-15.5zM75,114h3.5v3.5h-3.5zM96,114h3.5v3.5h-3.5zM120,114h6.5v3.5h-6.5zM132,114h6.5v3.5h-6.5zM147,114h3.5v3.5h-3.5zM162,114h3.5v3.5h-3.5zM171,114h3.5v3.5h-3.5zM90,117h3.5v3.5h-3.5zM120,117h6.5v3.5h-6.5zM132,117h3.5v3.5h-3.5zM141,117h6.5v3.5h-6.5zM156,117h6.5v3.5h-6.5zM171,117h9.5v3.5h-9.5zM51,120h3.5v3.5h-3.5zM123,120h3.5v3.5h-3.5zM138,120h6.5v3.5h-6.5zM150,120h3.5v3.5h-3.5zM159,120h6.5v3.5h-6.5zM168,120h6.5v3.5h-6.5zM51,123h3.5v3.5h-3.5zM123,123h3.5v3.5h-3.5zM135,123h6.5v3.5h-6.5zM144,123h3.5v3.5h-3.5zM156,123h6.5v3.5h-6.5zM171,123h3.5v3.5h-3.5zM177,123h3.5v3.5h-3.5zM54,126h3.5v3.5h-3.5zM150,126h3.5v3.5h-3.5zM54,129h3.5v3.5h-3.5zM126,129h6.5v3.5h-6.5zM135,129h3.5v3.5h-3.5zM150,129h15.5v3.5h-15.5zM177,129h3.5v3.5h-3.5zM54,132h3.5v3.5h-3.5zM99,132h3.5v3.5h-3.5zM105,132h3.5v3.5h-3.5zM132,132h3.5v3.5h-3.5zM144,132h3.5v3.5h-3.5zM150,132h9.5v3.5h-9.5zM168,132h6.5v3.5h-6.5zM96,135h6.5v3.5h-6.5zM105,135h3.5v3.5h-3.5zM132,135h3.5v3.5h-3.5zM138,135h3.5v3.5h-3.5zM150,135h3.5v3.5h-3.5zM156,135h3.5v3.5h-3.5zM171,135h6.5v3.5h-6.5zM96,138h3.5v3.5h-3.5zM102,138h3.5v3.5h-3.5zM111,138h3.5v3.5h-3.5zM132,138h3.5v3.5h-3.5zM138,138h3.5v3.5h-3.5zM156,138h3.5v3.5h-3.5zM165,138h6.5v3.5h-6.5zM96,141h3.5v3.5h-3.5zM105,141h3.5v3.5h-3.5zM135,141h3.5v3.5h-3.5zM144,141h3.5v3.5h-3.5zM165,141h3.5v3.5h-3.5zM174,141h3.5v3.5h-3.5zM96,144h3.5v3.5h-3.5zM102,144h6.5v3.5h-6.5zM132,144h3.5v3.5h-3.5zM141,144h3.5v3.5h-3.5zM147,144h3.5v3.5h-3.5zM156,144h6.5v3.5h-6.5zM165,144h3.5v3.5h-3.5zM171,144h9.5v3.5h-9.5zM96,147h6.5v3.5h-6.5zM108,147h3.5v3.5h-3.5zM132,147h6.5v3.5h-6.5zM144,147h3.5v3.5h-3.5zM153,147h6.5v3.5h-6.5zM162,147h9.5v3.5h-9.5zM177,147h3.5v3.5h-3.5z"/><path fill="#f3e35a" d="M0,0h3.5v3.5h-3.5zM21,3h3.5v3.5h-3.5zM36,3h3.5v3.5h-3.5zM111,3h3.5v3.5h-3.5zM12,6h3.5v3.5h-3.5zM24,6h3.5v3.5h-3.5zM30,6h3.5v3.5h-3.5zM42,6h3.5v3.5h-3.5zM3,9h3.5v3.5h-3.5zM27,9h3.5v3.5h-3.5zM6,12h3.5v3.5h-3.5zM21,12h3.5v3.5h-3.5zM36,12h3.5v3.5h-3.5zM99,12h3.5v3.5h-3.5zM111,12h3.5v3.5h-3.5zM30,15h3.5v3.5h-3.5zM87,15h3.5v3.5h-3.5zM3,18h3.5v3.5h-3.5zM18,18h3.5v3.5h-3.5zM51,18h3.5v3.5h-3.5zM18,21h3.5v3.5h-3.5zM36,24h6.5v3.5h-6.5zM48,24h3.5v3.5h-3.5zM99,24h3.5v3.5h-3.5zM9,27h3.5v3.5h-3.5zM15,27h3.5v3.5h-3.5zM42,27h3.5v3.5h-3.5zM18,30h3.5v3.5h-3.5zM39,30h6.5v3.5h-6.5zM96,30h3.5v3.5h-3.5zM21,33h3.5v3.5h-3.5zM45,33h3.5v3.5h-3.5zM6,36h3.5v3.5h-3.5zM12,39h3.5v3.5h-3.5zM15,42h6.5v3.5h-6.5zM3,45h3.5v3.5h-3.5zM30,45h3.5v3.5h-3.5zM6,48h6.5v3.5h-6.5zM21,48h3.5v3.5h-3.5zM30,48h3.5v3.5h-3.5zM0,51h3.5v3.5h-3.5zM6,54h3.5v3.5h-3.5zM27,54h3.5v3.5h-3.5zM6,57h6.5v3.5h-6.5zM15,66h3.5v3.5h-3.5zM15,69h3.5v3.5h-3.5zM21,72h3.5v3.5h-3.5zM15,84h3.5v3.5h-3.5zM24,84h3.5v3.5h-3.5zM153,93h3.5v3.5h-3.5zM99,96h3.5v3.5h-3.5zM129,96h3.5v3.5h-3.5zM153,96h3.5v3.5h-3.5zM135,99h3.5v3.5h-3.5zM18,102h3.5v3.5h-3.5zM99,102h3.5v3.5h-3.5zM147,102h3.5v3.5h-3.5zM153,102h3.5v3.5h-3.5zM30,105h3.5v3.5h-3.5zM123,105h9.5v3.5h-9.5zM144,105h3.5v3.5h-3.5zM165,105h6.5v3.5h-6.5zM12,108h3.5v3.5h-3.5zM120,108h3.5v3.5h-3.5zM147,108h3.5v3.5h-3.5zM168,108h3.5v3.5h-3.5zM177,108h3.5v3.5h-3.5zM15,111h3.5v3.5h-3.5zM39,111h3.5v3.5h-3.5zM102,111h3.5v3.5h-3.5zM111,111h3.5v3.5h-3.5zM153,111h3.5v3.5h-3.5zM18,114h3.5v3.5h-3.5zM93,114h3.5v3.5h-3.5zM153,114h3.5v3.5h-3.5zM42,117h3.5v3.5h-3.5zM129,117h3.5v3.5h-3.5zM135,117h3.5v3.5h-3.5zM162,117h3.5v3.5h-3.5zM45,120h3.5v3.5h-3.5zM102,120h6.5v3.5h-6.5zM132,120h3.5v3.5h-3.5zM144,120h3.5v3.5h-3.5zM48,123h3.5v3.5h-3.5zM102,123h3.5v3.5h-3.5zM120,123h3.5v3.5h-3.5zM51,126h3.5v3.5h-3.5zM99,126h3.5v3.5h-3.5zM135,126h3.5v3.5h-3.5zM162,126h3.5v3.5h-3.5zM21,129h3.5v3.5h-3.5zM36,129h3.5v3.5h-3.5zM132,129h3.5v3.5h-3.5zM165,129h3.5v3.5h-3.5zM171,129h3.5v3.5h-3.5zM57,132h3.5v3.5h-3.5zM102,132h3.5v3.5h-3.5zM129,132h3.5v3.5h-3.5zM135,132h3.5v3.5h-3.5zM141,132h3.5v3.5h-3.5zM162,132h3.5v3.5h-3.5zM111,135h3.5v3.5h-3.5zM129,135h3.5v3.5h-3.5zM135,135h3.5v3.5h-3.5zM141,135h3.5v3.5h-3.5zM153,135h3.5v3.5h-3.5zM165,135h3.5v3.5h-3.5zM21,138h3.5v3.5h-3.5zM135,138h3.5v3.5h-3.5zM150,138h3.5v3.5h-3.5zM51,141h3.5v3.5h-3.5zM108,141h6.5v3.5h-6.5zM132,141h3.5v3.5h-3.5zM159,141h3.5v3.5h-3.5zM30,144h3.5v3.5h-3.5zM108,144h6.5v3.5h-6.5zM144,144h3.5v3.5h-3.5zM21,147h3.5v3.5h-3.5zM39,147h3.5v3.5h-3.5zM138,147h6.5v3.5h-6.5zM174,147h3.5v3.5h-3.5z"/><path fill="#f1ed71" d="M27,0h3.5v3.5h-3.5zM3,60h3.5v3.5h-3.5zM0,63h3.5v3.5h-3.5zM9,63h3.5v3.5h-3.5zM9,69h3.5v3.5h-3.5zM0,72h18.5v3.5h-18.5zM0,75h6.5v3.5h-6.5zM12,75h3.5v3.5h-3.5zM3,78h3.5v3.5h-3.5zM21,78h3.5v3.5h-3.5zM3,81h3.5v3.5h-3.5zM21,81h3.5v3.5h-3.5zM3,84h3.5v3.5h-3.5zM9,84h6.5v3.5h-6.5zM21,84h3.5v3.5h-3.5zM12,87h6.5v3.5h-6.5zM0,90h6.5v3.5h-6.5zM9,90h3.5v3.5h-3.5zM15,90h3.5v3.5h-3.5zM3,93h3.5v3.5h-3.5zM9,93h6.5v3.5h-6.5zM3,96h3.5v3.5h-3.5zM9,96h3.5v3.5h-3.5zM138,96h3.5v3.5h-3.5zM3,99h6.5v3.5h-6.5zM21,99h3.5v3.5h-3.5zM114,102h6.5v3.5h-6.5zM3,105h3.5v3.5h-3.5zM12,105h6.5v3.5h-6.5zM120,105h3.5v3.5h-3.5zM18,108h18.5v3.5h-18.5zM9,111h3.5v3.5h-3.5zM21,111h3.5v3.5h-3.5zM27,111h6.5v3.5h-6.5zM114,111h3.5v3.5h-3.5zM3,114h6.5v3.5h-6.5zM12,114h6.5v3.5h-6.5zM24,114h3.5v3.5h-3.5zM39,114h3.5v3.5h-3.5zM102,114h3.5v3.5h-3.5zM108,114h3.5v3.5h-3.5zM117,114h3.5v3.5h-3.5zM12,117h3.5v3.5h-3.5zM36,117h6.5v3.5h-6.5zM102,117h3.5v3.5h-3.5zM117,117h3.5v3.5h-3.5zM3,120h3.5v3.5h-3.5zM9,120h3.5v3.5h-3.5zM24,120h6.5v3.5h-6.5zM33,120h6.5v3.5h-6.5zM108,120h3.5v3.5h-3.5zM114,120h9.5v3.5h-9.5zM3,123h3.5v3.5h-3.5zM18,123h3.5v3.5h-3.5zM27,123h3.5v3.5h-3.5zM33,123h6.5v3.5h-6.5zM117,123h3.5v3.5h-3.5zM3,126h6.5v3.5h-6.5zM12,126h3.5v3.5h-3.5zM21,126h3.5v3.5h-3.5zM33,126h3.5v3.5h-3.5zM105,126h3.5v3.5h-3.5zM3,129h3.5v3.5h-3.5zM12,129h3.5v3.5h-3.5zM24,129h3.5v3.5h-3.5zM39,129h6.5v3.5h-6.5zM48,129h3.5v3.5h-3.5zM108,129h3.5v3.5h-3.5zM120,129h3.5v3.5h-3.5zM0,132h9.5v3.5h-9.5zM24,132h9.5v3.5h-9.5zM39,132h3.5v3.5h-3.5zM51,132h3.5v3.5h-3.5zM108,132h6.5v3.5h-6.5zM120,132h9.5v3.5h-9.5zM0,135h3.5v3.5h-3.5zM9,135h6.5v3.5h-6.5zM18,135h3.5v3.5h-3.5zM30,135h3.5v3.5h-3.5zM36,135h3.5v3.5h-3.5zM42,135h3.5v3.5h-3.5zM48,135h6.5v3.5h-6.5zM108,135h3.5v3.5h-3.5zM117,135h3.5v3.5h-3.5zM177,135h3.5v3.5h-3.5zM18,138h3.5v3.5h-3.5zM27,138h3.5v3.5h-3.5zM33,138h3.5v3.5h-3.5zM39,138h6.5v3.5h-6.5zM51,138h3.5v3.5h-3.5zM117,138h9.5v3.5h-9.5zM0,141h6.5v3.5h-6.5zM21,141h6.5v3.5h-6.5zM30,141h3.5v3.5h-3.5zM48,141h3.5v3.5h-3.5zM24,144h3.5v3.5h-3.5zM33,144h3.5v3.5h-3.5zM45,144h3.5v3.5h-3.5zM114,144h3.5v3.5h-3.5zM6,147h6.5v3.5h-6.5zM18,147h3.5v3.5h-3.5zM42,147h3.5v3.5h-3.5zM114,147h3.5v3.5h-3.5z"/><path fill="#f4f88e" d="M9,60h3.5v3.5h-3.5zM6,66h3.5v3.5h-3.5zM0,69h3.5v3.5h-3.5zM6,69h3.5v3.5h-3.5zM18,72h3.5v3.5h-3.5zM9,75h3.5v3.5h-3.5zM6,78h3.5v3.5h-3.5zM12,78h3.5v3.5h-3.5zM3,87h3.5v3.5h-3.5zM9,87h3.5v3.5h-3.5zM18,90h6.5v3.5h-6.5zM0,93h3.5v3.5h-3.5zM0,99h3.5v3.5h-3.5zM18,99h3.5v3.5h-3.5zM3,108h3.5v3.5h-3.5zM105,114h3.5v3.5h-3.5zM18,117h3.5v3.5h-3.5zM27,117h6.5v3.5h-6.5zM114,117h3.5v3.5h-3.5zM18,120h3.5v3.5h-3.5zM42,120h3.5v3.5h-3.5zM0,123h3.5v3.5h-3.5zM21,123h3.5v3.5h-3.5zM27,126h3.5v3.5h-3.5zM36,126h3.5v3.5h-3.5zM48,126h3.5v3.5h-3.5zM108,126h3.5v3.5h-3.5zM123,126h3.5v3.5h-3.5zM0,129h3.5v3.5h-3.5zM6,129h3.5v3.5h-3.5zM51,129h3.5v3.5h-3.5zM102,129h3.5v3.5h-3.5zM111,129h3.5v3.5h-3.5zM117,129h3.5v3.5h-3.5zM15,132h6.5v3.5h-6.5zM3,135h3.5v3.5h-3.5zM120,135h3.5v3.5h-3.5zM126,135h3.5v3.5h-3.5zM3,138h3.5v3.5h-3.5zM129,138h3.5v3.5h-3.5zM9,141h3.5v3.5h-3.5zM15,141h3.5v3.5h-3.5zM39,141h6.5v3.5h-6.5zM18,144h3.5v3.5h-3.5zM27,144h3.5v3.5h-3.5zM117,144h3.5v3.5h-3.5zM126,144h6.5v3.5h-6.5zM33,147h3.5v3.5h-3.5zM45,147h3.5v3.5h-3.5z"/><path fill="#fcffa4" d="M0,60h3.5v3.5h-3.5zM6,60h3.5v3.5h-3.5zM3,63h6.5v3.5h-6.5zM0,66h6.5v3.5h-6.5zM9,66h6.5v3.5h-6.5zM3,69h3.5v3.5h-3.5zM12,69h3.5v3.5h-3.5zM6,75h3.5v3.5h-3.5zM15,75h6.5v3.5h-6.5zM0,78h3.5v3.5h-3.5zM9,78h3.5v3.5h-3.5zM15,78h6.5v3.5h-6.5zM0,81h3.5v3.5h-3.5zM6,81h15.5v3.5h-15.5zM0,84h3.5v3.5h-3.5zM6,84h3.5v3.5h-3.5zM18,84h3.5v3.5h-3.5zM0,87h3.5v3.5h-3.5zM6,87h3.5v3.5h-3.5zM18,87h6.5v3.5h-6.5zM6,90h3.5v3.5h-3.5zM12,90h3.5v3.5h-3.5zM6,93h3.5v3.5h-3.5zM15,93h9.5v3.5h-9.5zM0,96h3.5v3.5h-3.5zM6,96h3.5v3.5h-3.5zM12,96h12.5v3.5h-12.5zM9,99h9.5v3.5h-9.5zM0,102h18.5v3.5h-18.5zM120,102h3.5v3.5h-3.5zM0,105h3.5v3.5h-3.5zM6,105h6.5v3.5h-6.5zM114,105h6.5v3.5h-6.5zM0,108h3.5v3.5h-3.5zM6,108h6.5v3.5h-6.5zM114,108h6.5v3.5h-6.5zM0,111h9.5v3.5h-9.5zM18,111h3.5v3.5h-3.5zM24,111h3.5v3.5h-3.5zM33,111h3.5v3.5h-3.5zM117,111h3.5v3.5h-3.5zM0,114h3.5v3.5h-3.5zM9,114h3.5v3.5h-3.5zM21,114h3.5v3.5h-3.5zM27,114h12.5v3.5h-12.5zM111,114h6.5v3.5h-6.5zM0,117h12.5v3.5h-12.5zM15,117h3.5v3.5h-3.5zM21,117h6.5v3.5h-6.5zM33,117h3.5v3.5h-3.5zM105,117h9.5v3.5h-9.5zM0,120h3.5v3.5h-3.5zM6,120h3.5v3.5h-3.5zM12,120h6.5v3.5h-6.5zM21,120h3.5v3.5h-3.5zM30,120h3.5v3.5h-3.5zM39,120h3.5v3.5h-3.5zM111,120h3.5v3.5h-3.5zM6,123h12.5v3.5h-12.5zM24,123h3.5v3.5h-3.5zM30,123h3.5v3.5h-3.5zM39,123h9.5v3.5h-9.5zM105,123h12.5v3.5h-12.5zM0,126h3.5v3.5h-3.5zM9,126h3.5v3.5h-3.5zM15,126h6.5v3.5h-6.5zM24,126h3.5v3.5h-3.5zM30,126h3.5v3.5h-3.5zM39,126h9.5v3.5h-9.5zM102,126h3.5v3.5h-3.5zM111,126h12.5v3.5h-12.5zM9,129h3.5v3.5h-3.5zM15,129h6.5v3.5h-6.5zM27,129h9.5v3.5h-9.5zM45,129h3.5v3.5h-3.5zM105,129h3.5v3.5h-3.5zM114,129h3.5v3.5h-3.5zM123,129h3.5v3.5h-3.5zM9,132h6.5v3.5h-6.5zM21,132h3.5v3.5h-3.5zM33,132h6.5v3.5h-6.5zM42,132h9.5v3.5h-9.5zM114,132h6.5v3.5h-6.5zM6,135h3.5v3.5h-3.5zM15,135h3.5v3.5h-3.5zM21,135h9.5v3.5h-9.5zM33,135h3.5v3.5h-3.5zM39,135h3.5v3.5h-3.5zM45,135h3.5v3.5h-3.5zM114,135h3.5v3.5h-3.5zM123,135h3.5v3.5h-3.5zM0,138h3.5v3.5h-3.5zM6,138h12.5v3.5h-12.5zM24,138h3.5v3.5h-3.5zM30,138h3.5v3.5h-3.5zM36,138h3.5v3.5h-3.5zM45,138h6.5v3.5h-6.5zM114,138h3.5v3.5h-3.5zM126,138h3.5v3.5h-3.5zM6,141h3.5v3.5h-3.5zM12,141h3.5v3.5h-3.5zM18,141h3.5v3.5h-3.5zM27,141h3.5v3.5h-3.5zM33,141h6.5v3.5h-6.5zM45,141h3.5v3.5h-3.5zM114,141h18.5v3.5h-18.5zM0,144h18.5v3.5h-18.5zM21,144h3.5v3.5h-3.5zM36,144h9.5v3.5h-9.5zM120,144h6.5v3.5h-6.5zM0,147h6.5v3.5h-6.5zM12,147h6.5v3.5h-6.5zM24,147h9.5v3.5h-9.5zM36,147h3.5v3.5h-3.5zM117,147h15.5v3.5h-15.5z"/></g><use href="#lines"/><use href="#grid"/></g><rect width="180.0" height="150.0" fill="none" stroke="#222" stroke-width="0.85"/></g><rect x="21.45" y="648.0" width="180.0" height="7.4" fill="url(#ginf)" stroke="#222" stroke-width="0.8"/><line x1="59.47" x2="59.47" y1="655.4" y2="658.0" stroke="#222" stroke-width="0.8"/><text x="59.47" y="668.60" font-size="11.02" text-anchor="middle" textLength="13.23" lengthAdjust="spacing" fill="#000">20</text><line x1="106.64" x2="106.64" y1="655.4" y2="658.0" stroke="#222" stroke-width="0.8"/><text x="106.64" y="668.60" font-size="11.02" text-anchor="middle" textLength="13.23" lengthAdjust="spacing" fill="#000">25</text><line x1="153.81" x2="153.81" y1="655.4" y2="658.0" stroke="#222" stroke-width="0.8"/><text x="153.81" y="668.60" font-size="11.02" text-anchor="middle" textLength="13.23" lengthAdjust="spacing" fill="#000">30</text><line x1="200.98" x2="200.98" y1="655.4" y2="658.0" stroke="#222" stroke-width="0.8"/><text x="200.98" y="668.60" font-size="11.02" text-anchor="middle" textLength="13.23" lengthAdjust="spacing" fill="#000">35</text><text x="111.45" y="681.40" font-size="10.60" text-anchor="middle" textLength="93.00" lengthAdjust="spacing" fill="#000">Temperature ( °C)</text><g transform="translate(262.45,482.45)"><g clip-path="url(#fc)"><rect width="180.0" height="150.0" fill="#fff"/><use href="#sea"/><g clip-path="url(#ec)"><path fill="#0000ff" d="M87,18h3.5v3.5h-3.5zM87,21h3.5v3.5h-3.5z"/><path fill="#1a1aff" d="M87,0h3.5v3.5h-3.5zM90,21h3.5v3.5h-3.5zM90,24h3.5v3.5h-3.5zM87,27h6.5v3.5h-6.5zM87,60h3.5v3.5h-3.5z"/><path fill="#2626ff" d="M96,0h3.5v3.5h-3.5zM87,3h3.5v3.5h-3.5zM93,3h3.5v3.5h-3.5zM87,9h3.5v3.5h-3.5zM87,12h6.5v3.5h-6.5zM90,15h3.5v3.5h-3.5zM84,18h3.5v3.5h-3.5zM90,18h6.5v3.5h-6.5zM93,21h3.5v3.5h-3.5zM87,24h3.5v3.5h-3.5zM93,24h3.5v3.5h-3.5zM87,48h3.5v3.5h-3.5zM87,54h3.5v3.5h-3.5z"/><path fill="#3434ff" d="M90,0h3.5v3.5h-3.5zM90,3h3.5v3.5h-3.5zM96,3h6.5v3.5h-6.5zM93,6h3.5v3.5h-3.5zM99,6h6.5v3.5h-6.5zM96,9h3.5v3.5h-3.5zM102,9h3.5v3.5h-3.5zM93,12h6.5v3.5h-6.5zM87,15h3.5v3.5h-3.5zM93,27h3.5v3.5h-3.5zM87,30h6.5v3.5h-6.5zM87,33h3.5v3.5h-3.5zM87,57h3.5v3.5h-3.5zM84,63h6.5v3.5h-6.5zM87,66h3.5v3.5h-3.5z"/><path fill="#4040ff" d="M93,0h3.5v3.5h-3.5zM99,0h15.5v3.5h-15.5zM84,3h3.5v3.5h-3.5zM105,3h6.5v3.5h-6.5zM87,6h6.5v3.5h-6.5zM96,6h3.5v3.5h-3.5zM84,9h3.5v3.5h-3.5zM90,9h6.5v3.5h-6.5zM96,15h3.5v3.5h-3.5zM84,24h3.5v3.5h-3.5zM90,36h3.5v3.5h-3.5zM87,51h3.5v3.5h-3.5zM84,54h3.5v3.5h-3.5zM84,57h3.5v3.5h-3.5zM84,60h3.5v3.5h-3.5z"/><path fill="#4e4eff" d="M102,3h3.5v3.5h-3.5zM105,6h3.5v3.5h-3.5zM99,9h3.5v3.5h-3.5zM99,12h3.5v3.5h-3.5zM93,15h3.5v3.5h-3.5zM99,15h3.5v3.5h-3.5zM84,21h3.5v3.5h-3.5zM84,27h3.5v3.5h-3.5zM96,30h3.5v3.5h-3.5zM90,33h3.5v3.5h-3.5zM87,36h3.5v3.5h-3.5zM87,39h3.5v3.5h-3.5zM87,42h3.5v3.5h-3.5zM84,51h3.5v3.5h-3.5zM84,66h3.5v3.5h-3.5z"/><path fill="#5a5aff" d="M84,0h3.5v3.5h-3.5zM84,6h3.5v3.5h-3.5zM84,15h3.5v3.5h-3.5zM96,24h3.5v3.5h-3.5zM93,30h3.5v3.5h-3.5zM84,33h3.5v3.5h-3.5zM93,33h3.5v3.5h-3.5zM87,45h3.5v3.5h-3.5zM84,48h3.5v3.5h-3.5zM93,48h3.5v3.5h-3.5zM90,51h3.5v3.5h-3.5zM84,69h6.5v3.5h-6.5zM84,105h3.5v3.5h-3.5z"/><path fill="#6868ff" d="M111,3h3.5v3.5h-3.5zM105,9h3.5v3.5h-3.5zM84,12h3.5v3.5h-3.5zM96,27h3.5v3.5h-3.5zM84,30h3.5v3.5h-3.5zM99,33h3.5v3.5h-3.5zM90,39h3.5v3.5h-3.5zM90,42h3.5v3.5h-3.5zM84,45h3.5v3.5h-3.5zM93,54h3.5v3.5h-3.5zM90,57h3.5v3.5h-3.5zM90,60h3.5v3.5h-3.5zM93,63h3.5v3.5h-3.5zM81,72h3.5v3.5h-3.5zM84,102h6.5v3.5h-6.5zM81,105h3.5v3.5h-3.5zM87,105h6.5v3.5h-6.5z"/><path fill="#7676ff" d="M99,30h3.5v3.5h-3.5zM84,36h3.5v3.5h-3.5zM93,36h3.5v3.5h-3.5zM84,39h3.5v3.5h-3.5zM93,39h3.5v3.5h-3.5zM84,42h3.5v3.5h-3.5zM96,42h3.5v3.5h-3.5zM102,42h3.5v3.5h-3.5zM90,45h3.5v3.5h-3.5zM96,45h3.5v3.5h-3.5zM102,45h3.5v3.5h-3.5zM90,48h3.5v3.5h-3.5zM111,48h3.5v3.5h-3.5zM90,54h3.5v3.5h-3.5zM93,57h3.5v3.5h-3.5zM93,60h3.5v3.5h-3.5zM81,75h3.5v3.5h-3.5zM84,84h6.5v3.5h-6.5zM18,87h3.5v3.5h-3.5zM84,87h3.5v3.5h-3.5zM24,90h3.5v3.5h-3.5zM21,96h3.5v3.5h-3.5zM39,105h3.5v3.5h-3.5z"/><path fill="#8282ff" d="M138,6h3.5v3.5h-3.5zM102,12h3.5v3.5h-3.5zM96,21h3.5v3.5h-3.5zM99,24h3.5v3.5h-3.5zM99,27h3.5v3.5h-3.5zM102,30h3.5v3.5h-3.5zM96,33h3.5v3.5h-3.5zM105,33h3.5v3.5h-3.5zM123,33h3.5v3.5h-3.5zM96,36h3.5v3.5h-3.5zM135,36h3.5v3.5h-3.5zM96,39h3.5v3.5h-3.5zM102,39h3.5v3.5h-3.5zM93,42h3.5v3.5h-3.5zM105,42h3.5v3.5h-3.5zM93,45h3.5v3.5h-3.5zM96,48h6.5v3.5h-6.5zM96,51h3.5v3.5h-3.5zM105,51h3.5v3.5h-3.5zM99,54h3.5v3.5h-3.5zM96,57h3.5v3.5h-3.5zM90,63h3.5v3.5h-3.5zM81,66h3.5v3.5h-3.5zM78,75h3.5v3.5h-3.5zM84,75h3.5v3.5h-3.5zM54,78h3.5v3.5h-3.5zM12,87h6.5v3.5h-6.5zM87,87h3.5v3.5h-3.5zM18,90h3.5v3.5h-3.5zM21,93h3.5v3.5h-3.5zM27,93h3.5v3.5h-3.5zM18,96h3.5v3.5h-3.5zM18,99h3.5v3.5h-3.5zM12,102h3.5v3.5h-3.5zM81,102h3.5v3.5h-3.5zM36,105h3.5v3.5h-3.5zM78,105h3.5v3.5h-3.5zM81,108h3.5v3.5h-3.5zM99,111h3.5v3.5h-3.5z"/><path fill="#9090ff" d="M114,0h3.5v3.5h-3.5zM177,3h3.5v3.5h-3.5zM108,6h3.5v3.5h-3.5zM177,9h3.5v3.5h-3.5zM174,12h3.5v3.5h-3.5zM102,15h3.5v3.5h-3.5zM171,15h3.5v3.5h-3.5zM99,18h3.5v3.5h-3.5zM120,18h3.5v3.5h-3.5zM99,21h3.5v3.5h-3.5zM114,27h3.5v3.5h-3.5zM126,27h3.5v3.5h-3.5zM99,36h9.5v3.5h-9.5zM114,39h3.5v3.5h-3.5zM99,42h3.5v3.5h-3.5zM105,45h3.5v3.5h-3.5zM102,48h3.5v3.5h-3.5zM117,48h3.5v3.5h-3.5zM93,51h3.5v3.5h-3.5zM99,51h6.5v3.5h-6.5zM66,54h3.5v3.5h-3.5zM96,54h3.5v3.5h-3.5zM96,60h6.5v3.5h-6.5zM81,69h3.5v3.5h-3.5zM84,72h6.5v3.5h-6.5zM48,78h3.5v3.5h-3.5zM87,78h3.5v3.5h-3.5zM105,78h3.5v3.5h-3.5zM54,81h3.5v3.5h-3.5zM102,81h6.5v3.5h-6.5zM90,84h3.5v3.5h-3.5zM90,87h6.5v3.5h-6.5zM84,90h3.5v3.5h-3.5zM96,90h6.5v3.5h-6.5zM18,93h3.5v3.5h-3.5zM24,93h3.5v3.5h-3.5zM57,93h3.5v3.5h-3.5zM84,93h6.5v3.5h-6.5zM96,93h6.5v3.5h-6.5zM21,99h3.5v3.5h-3.5zM24,102h3.5v3.5h-3.5zM39,102h3.5v3.5h-3.5zM90,102h6.5v3.5h-6.5zM93,105h3.5v3.5h-3.5zM3,111h6.5v3.5h-6.5zM9,117h3.5v3.5h-3.5zM75,120h3.5v3.5h-3.5zM0,123h3.5v3.5h-3.5zM12,123h3.5v3.5h-3.5zM18,126h3.5v3.5h-3.5zM105,126h3.5v3.5h-3.5zM108,132h3.5v3.5h-3.5zM12,135h3.5v3.5h-3.5zM105,135h3.5v3.5h-3.5zM12,141h3.5v3.5h-3.5zM108,141h3.5v3.5h-3.5zM117,144h3.5v3.5h-3.5zM3,147h3.5v3.5h-3.5zM12,147h3.5v3.5h-3.5z"/><path fill="#9c9cff" d="M126,0h12.5v3.5h-12.5zM156,0h3.5v3.5h-3.5zM168,0h3.5v3.5h-3.5zM138,3h3.5v3.5h-3.5zM144,3h3.5v3.5h-3.5zM171,3h3.5v3.5h-3.5zM111,6h3.5v3.5h-3.5zM117,6h6.5v3.5h-6.5zM153,6h3.5v3.5h-3.5zM174,6h3.5v3.5h-3.5zM12,9h3.5v3.5h-3.5zM108,9h3.5v3.5h-3.5zM132,9h6.5v3.5h-6.5zM153,9h6.5v3.5h-6.5zM165,9h3.5v3.5h-3.5zM171,9h3.5v3.5h-3.5zM111,12h3.5v3.5h-3.5zM117,12h3.5v3.5h-3.5zM129,12h3.5v3.5h-3.5zM138,12h3.5v3.5h-3.5zM144,12h6.5v3.5h-6.5zM117,15h3.5v3.5h-3.5zM150,15h3.5v3.5h-3.5zM156,15h3.5v3.5h-3.5zM30,18h3.5v3.5h-3.5zM96,18h3.5v3.5h-3.5zM102,18h3.5v3.5h-3.5zM117,18h3.5v3.5h-3.5zM123,18h3.5v3.5h-3.5zM135,18h3.5v3.5h-3.5zM141,18h3.5v3.5h-3.5zM156,18h3.5v3.5h-3.5zM162,18h3.5v3.5h-3.5zM168,18h3.5v3.5h-3.5zM102,21h6.5v3.5h-6.5zM111,21h3.5v3.5h-3.5zM117,21h3.5v3.5h-3.5zM126,21h3.5v3.5h-3.5zM135,21h3.5v3.5h-3.5zM150,21h3.5v3.5h-3.5zM102,24h3.5v3.5h-3.5zM126,24h3.5v3.5h-3.5zM135,24h3.5v3.5h-3.5zM141,24h3.5v3.5h-3.5zM150,24h9.5v3.5h-9.5zM129,27h3.5v3.5h-3.5zM150,27h9.5v3.5h-9.5zM75,30h3.5v3.5h-3.5zM114,30h9.5v3.5h-9.5zM126,30h3.5v3.5h-3.5zM132,30h3.5v3.5h-3.5zM141,30h6.5v3.5h-6.5zM159,30h3.5v3.5h-3.5zM48,33h3.5v3.5h-3.5zM108,33h3.5v3.5h-3.5zM114,33h3.5v3.5h-3.5zM129,33h3.5v3.5h-3.5zM156,33h3.5v3.5h-3.5zM123,36h3.5v3.5h-3.5zM144,36h3.5v3.5h-3.5zM150,36h3.5v3.5h-3.5zM99,39h3.5v3.5h-3.5zM111,39h3.5v3.5h-3.5zM117,42h3.5v3.5h-3.5zM123,42h3.5v3.5h-3.5zM132,42h3.5v3.5h-3.5zM114,45h3.5v3.5h-3.5zM126,45h3.5v3.5h-3.5zM132,45h3.5v3.5h-3.5zM105,48h6.5v3.5h-6.5zM108,51h6.5v3.5h-6.5zM117,51h3.5v3.5h-3.5zM27,54h3.5v3.5h-3.5zM108,54h3.5v3.5h-3.5zM99,57h3.5v3.5h-3.5zM117,57h3.5v3.5h-3.5zM102,60h6.5v3.5h-6.5zM42,63h3.5v3.5h-3.5zM96,63h3.5v3.5h-3.5zM3,72h6.5v3.5h-6.5zM78,72h3.5v3.5h-3.5zM6,75h3.5v3.5h-3.5zM48,75h3.5v3.5h-3.5zM87,75h3.5v3.5h-3.5zM102,75h6.5v3.5h-6.5zM57,78h3.5v3.5h-3.5zM93,78h3.5v3.5h-3.5zM102,78h3.5v3.5h-3.5zM108,78h3.5v3.5h-3.5zM15,81h3.5v3.5h-3.5zM57,81h3.5v3.5h-3.5zM84,81h6.5v3.5h-6.5zM99,81h3.5v3.5h-3.5zM117,81h3.5v3.5h-3.5zM12,84h12.5v3.5h-12.5zM96,84h3.5v3.5h-3.5zM108,84h9.5v3.5h-9.5zM0,87h6.5v3.5h-6.5zM21,87h3.5v3.5h-3.5zM96,87h3.5v3.5h-3.5zM114,87h3.5v3.5h-3.5zM21,90h3.5v3.5h-3.5zM27,90h3.5v3.5h-3.5zM114,90h3.5v3.5h-3.5zM138,90h3.5v3.5h-3.5zM3,93h3.5v3.5h-3.5zM111,93h3.5v3.5h-3.5zM141,93h3.5v3.5h-3.5zM3,96h9.5v3.5h-9.5zM24,96h6.5v3.5h-6.5zM90,96h3.5v3.5h-3.5zM6,99h3.5v3.5h-3.5zM24,99h3.5v3.5h-3.5zM87,99h3.5v3.5h-3.5zM93,99h3.5v3.5h-3.5zM6,102h6.5v3.5h-6.5zM15,102h3.5v3.5h-3.5zM36,102h3.5v3.5h-3.5zM78,102h3.5v3.5h-3.5zM99,102h3.5v3.5h-3.5zM21,105h3.5v3.5h-3.5zM96,105h6.5v3.5h-6.5zM18,108h3.5v3.5h-3.5zM36,108h3.5v3.5h-3.5zM78,108h3.5v3.5h-3.5zM84,108h3.5v3.5h-3.5zM21,111h3.5v3.5h-3.5zM30,111h3.5v3.5h-3.5zM81,111h3.5v3.5h-3.5zM9,114h3.5v3.5h-3.5zM21,114h3.5v3.5h-3.5zM27,114h3.5v3.5h-3.5zM102,114h3.5v3.5h-3.5zM132,114h3.5v3.5h-3.5zM12,117h3.5v3.5h-3.5zM18,117h3.5v3.5h-3.5zM30,117h3.5v3.5h-3.5zM3,120h3.5v3.5h-3.5zM12,120h3.5v3.5h-3.5zM21,120h3.5v3.5h-3.5zM33,120h3.5v3.5h-3.5zM6,123h3.5v3.5h-3.5zM24,123h3.5v3.5h-3.5zM27,126h3.5v3.5h-3.5zM3,129h3.5v3.5h-3.5zM15,132h3.5v3.5h-3.5zM21,132h3.5v3.5h-3.5zM3,135h9.5v3.5h-9.5zM21,135h3.5v3.5h-3.5zM96,135h3.5v3.5h-3.5zM102,135h3.5v3.5h-3.5zM0,138h3.5v3.5h-3.5zM6,138h3.5v3.5h-3.5zM6,141h3.5v3.5h-3.5zM15,141h6.5v3.5h-6.5zM99,141h3.5v3.5h-3.5zM111,141h6.5v3.5h-6.5zM6,144h3.5v3.5h-3.5zM96,144h3.5v3.5h-3.5zM102,144h3.5v3.5h-3.5zM114,144h3.5v3.5h-3.5zM96,147h3.5v3.5h-3.5zM117,147h3.5v3.5h-3.5z"/><path fill="#aaaaff" d="M48,0h3.5v3.5h-3.5zM117,0h3.5v3.5h-3.5zM138,0h6.5v3.5h-6.5zM147,0h9.5v3.5h-9.5zM159,0h6.5v3.5h-6.5zM174,0h6.5v3.5h-6.5zM57,3h3.5v3.5h-3.5zM114,3h12.5v3.5h-12.5zM132,3h3.5v3.5h-3.5zM141,3h3.5v3.5h-3.5zM150,3h6.5v3.5h-6.5zM159,3h6.5v3.5h-6.5zM168,3h3.5v3.5h-3.5zM174,3h3.5v3.5h-3.5zM51,6h3.5v3.5h-3.5zM114,6h3.5v3.5h-3.5zM123,6h3.5v3.5h-3.5zM129,6h3.5v3.5h-3.5zM135,6h3.5v3.5h-3.5zM141,6h3.5v3.5h-3.5zM147,6h6.5v3.5h-6.5zM165,6h3.5v3.5h-3.5zM111,9h3.5v3.5h-3.5zM117,9h3.5v3.5h-3.5zM129,9h3.5v3.5h-3.5zM138,9h15.5v3.5h-15.5zM174,9h3.5v3.5h-3.5zM105,12h3.5v3.5h-3.5zM120,12h6.5v3.5h-6.5zM132,12h3.5v3.5h-3.5zM141,12h3.5v3.5h-3.5zM165,12h9.5v3.5h-9.5zM105,15h9.5v3.5h-9.5zM120,15h3.5v3.5h-3.5zM126,15h6.5v3.5h-6.5zM135,15h9.5v3.5h-9.5zM165,15h6.5v3.5h-6.5zM177,15h3.5v3.5h-3.5zM45,18h3.5v3.5h-3.5zM54,18h3.5v3.5h-3.5zM105,18h12.5v3.5h-12.5zM138,18h3.5v3.5h-3.5zM144,18h9.5v3.5h-9.5zM171,18h6.5v3.5h-6.5zM108,21h3.5v3.5h-3.5zM138,21h12.5v3.5h-12.5zM159,21h3.5v3.5h-3.5zM171,21h3.5v3.5h-3.5zM105,24h3.5v3.5h-3.5zM117,24h3.5v3.5h-3.5zM123,24h3.5v3.5h-3.5zM129,24h6.5v3.5h-6.5zM144,24h3.5v3.5h-3.5zM159,24h6.5v3.5h-6.5zM177,24h3.5v3.5h-3.5zM102,27h3.5v3.5h-3.5zM108,27h6.5v3.5h-6.5zM123,27h3.5v3.5h-3.5zM132,27h3.5v3.5h-3.5zM159,27h6.5v3.5h-6.5zM48,30h3.5v3.5h-3.5zM105,30h9.5v3.5h-9.5zM129,30h3.5v3.5h-3.5zM135,30h6.5v3.5h-6.5zM147,30h3.5v3.5h-3.5zM156,30h3.5v3.5h-3.5zM162,30h3.5v3.5h-3.5zM27,33h3.5v3.5h-3.5zM72,33h6.5v3.5h-6.5zM102,33h3.5v3.5h-3.5zM117,33h6.5v3.5h-6.5zM126,33h3.5v3.5h-3.5zM132,33h6.5v3.5h-6.5zM150,33h3.5v3.5h-3.5zM159,33h3.5v3.5h-3.5zM108,36h15.5v3.5h-15.5zM138,36h6.5v3.5h-6.5zM66,39h6.5v3.5h-6.5zM105,39h3.5v3.5h-3.5zM117,39h6.5v3.5h-6.5zM132,39h3.5v3.5h-3.5zM138,39h6.5v3.5h-6.5zM147,39h9.5v3.5h-9.5zM108,42h6.5v3.5h-6.5zM120,42h3.5v3.5h-3.5zM126,42h6.5v3.5h-6.5zM135,42h3.5v3.5h-3.5zM153,42h3.5v3.5h-3.5zM162,42h3.5v3.5h-3.5zM99,45h3.5v3.5h-3.5zM24,48h3.5v3.5h-3.5zM123,48h6.5v3.5h-6.5zM120,51h6.5v3.5h-6.5zM162,51h3.5v3.5h-3.5zM24,54h3.5v3.5h-3.5zM30,54h3.5v3.5h-3.5zM69,54h3.5v3.5h-3.5zM102,54h6.5v3.5h-6.5zM159,54h3.5v3.5h-3.5zM30,57h3.5v3.5h-3.5zM69,57h3.5v3.5h-3.5zM102,57h3.5v3.5h-3.5zM108,57h3.5v3.5h-3.5zM114,57h3.5v3.5h-3.5zM141,57h3.5v3.5h-3.5zM42,60h6.5v3.5h-6.5zM69,60h3.5v3.5h-3.5zM99,63h6.5v3.5h-6.5zM159,63h3.5v3.5h-3.5zM0,66h3.5v3.5h-3.5zM42,66h6.5v3.5h-6.5zM90,66h3.5v3.5h-3.5zM144,66h3.5v3.5h-3.5zM0,69h3.5v3.5h-3.5zM6,69h6.5v3.5h-6.5zM45,69h3.5v3.5h-3.5zM9,72h6.5v3.5h-6.5zM45,72h3.5v3.5h-3.5zM90,72h3.5v3.5h-3.5zM9,75h3.5v3.5h-3.5zM45,75h3.5v3.5h-3.5zM51,75h3.5v3.5h-3.5zM99,75h3.5v3.5h-3.5zM3,78h3.5v3.5h-3.5zM9,78h3.5v3.5h-3.5zM84,78h3.5v3.5h-3.5zM96,78h3.5v3.5h-3.5zM117,78h3.5v3.5h-3.5zM123,78h3.5v3.5h-3.5zM129,78h3.5v3.5h-3.5zM0,81h3.5v3.5h-3.5zM6,81h6.5v3.5h-6.5zM18,81h3.5v3.5h-3.5zM51,81h3.5v3.5h-3.5zM90,81h9.5v3.5h-9.5zM111,81h3.5v3.5h-3.5zM120,81h6.5v3.5h-6.5zM132,81h3.5v3.5h-3.5zM165,81h3.5v3.5h-3.5zM0,84h3.5v3.5h-3.5zM9,84h3.5v3.5h-3.5zM93,84h3.5v3.5h-3.5zM99,84h3.5v3.5h-3.5zM105,84h3.5v3.5h-3.5zM150,84h3.5v3.5h-3.5zM165,84h3.5v3.5h-3.5zM9,87h3.5v3.5h-3.5zM102,87h3.5v3.5h-3.5zM108,87h6.5v3.5h-6.5zM117,87h3.5v3.5h-3.5zM0,90h3.5v3.5h-3.5zM9,90h3.5v3.5h-3.5zM15,90h3.5v3.5h-3.5zM30,90h3.5v3.5h-3.5zM87,90h9.5v3.5h-9.5zM102,90h3.5v3.5h-3.5zM108,90h6.5v3.5h-6.5zM117,90h3.5v3.5h-3.5zM135,90h3.5v3.5h-3.5zM141,90h3.5v3.5h-3.5zM9,93h9.5v3.5h-9.5zM54,93h3.5v3.5h-3.5zM90,93h6.5v3.5h-6.5zM105,93h3.5v3.5h-3.5zM171,93h3.5v3.5h-3.5zM15,96h3.5v3.5h-3.5zM96,96h3.5v3.5h-3.5zM123,96h3.5v3.5h-3.5zM3,99h3.5v3.5h-3.5zM9,99h3.5v3.5h-3.5zM27,99h3.5v3.5h-3.5zM57,99h3.5v3.5h-3.5zM117,99h3.5v3.5h-3.5zM123,99h3.5v3.5h-3.5zM0,102h3.5v3.5h-3.5zM18,102h6.5v3.5h-6.5zM33,102h3.5v3.5h-3.5zM96,102h3.5v3.5h-3.5zM105,102h3.5v3.5h-3.5zM135,102h3.5v3.5h-3.5zM0,105h3.5v3.5h-3.5zM15,105h6.5v3.5h-6.5zM27,105h3.5v3.5h-3.5zM102,105h3.5v3.5h-3.5zM0,108h6.5v3.5h-6.5zM24,108h3.5v3.5h-3.5zM30,108h6.5v3.5h-6.5zM39,108h3.5v3.5h-3.5zM87,108h3.5v3.5h-3.5zM96,108h6.5v3.5h-6.5zM105,108h3.5v3.5h-3.5zM111,108h9.5v3.5h-9.5zM129,108h3.5v3.5h-3.5zM0,111h3.5v3.5h-3.5zM9,111h3.5v3.5h-3.5zM15,111h6.5v3.5h-6.5zM24,111h3.5v3.5h-3.5zM78,111h3.5v3.5h-3.5zM84,111h6.5v3.5h-6.5zM93,111h6.5v3.5h-6.5zM105,111h9.5v3.5h-9.5zM117,111h3.5v3.5h-3.5zM3,114h3.5v3.5h-3.5zM15,114h3.5v3.5h-3.5zM24,114h3.5v3.5h-3.5zM30,114h3.5v3.5h-3.5zM36,114h3.5v3.5h-3.5zM75,114h12.5v3.5h-12.5zM108,114h6.5v3.5h-6.5zM0,117h9.5v3.5h-9.5zM15,117h3.5v3.5h-3.5zM42,117h3.5v3.5h-3.5zM78,117h3.5v3.5h-3.5zM102,117h9.5v3.5h-9.5zM129,117h3.5v3.5h-3.5zM0,120h3.5v3.5h-3.5zM9,120h3.5v3.5h-3.5zM15,120h3.5v3.5h-3.5zM30,120h3.5v3.5h-3.5zM36,120h6.5v3.5h-6.5zM72,120h3.5v3.5h-3.5zM108,120h3.5v3.5h-3.5zM144,120h3.5v3.5h-3.5zM3,123h3.5v3.5h-3.5zM9,123h3.5v3.5h-3.5zM15,123h3.5v3.5h-3.5zM30,123h6.5v3.5h-6.5zM102,123h9.5v3.5h-9.5zM135,123h3.5v3.5h-3.5zM0,126h12.5v3.5h-12.5zM102,126h3.5v3.5h-3.5zM0,129h3.5v3.5h-3.5zM6,129h15.5v3.5h-15.5zM24,129h12.5v3.5h-12.5zM99,129h15.5v3.5h-15.5zM0,132h12.5v3.5h-12.5zM18,132h3.5v3.5h-3.5zM99,132h3.5v3.5h-3.5zM114,132h3.5v3.5h-3.5zM123,132h3.5v3.5h-3.5zM150,132h3.5v3.5h-3.5zM0,135h3.5v3.5h-3.5zM18,135h3.5v3.5h-3.5zM24,135h3.5v3.5h-3.5zM87,135h3.5v3.5h-3.5zM111,135h3.5v3.5h-3.5zM3,138h3.5v3.5h-3.5zM9,138h6.5v3.5h-6.5zM21,138h3.5v3.5h-3.5zM93,138h6.5v3.5h-6.5zM102,138h6.5v3.5h-6.5zM111,138h6.5v3.5h-6.5zM141,138h3.5v3.5h-3.5zM162,138h3.5v3.5h-3.5zM3,141h3.5v3.5h-3.5zM21,141h3.5v3.5h-3.5zM96,141h3.5v3.5h-3.5zM3,144h3.5v3.5h-3.5zM99,144h3.5v3.5h-3.5zM105,144h6.5v3.5h-6.5zM0,147h3.5v3.5h-3.5zM15,147h3.5v3.5h-3.5zM102,147h6.5v3.5h-6.5zM111,147h6.5v3.5h-6.5z"/><path fill="#b6b6ff" d="M12,0h3.5v3.5h-3.5zM24,0h3.5v3.5h-3.5zM42,0h3.5v3.5h-3.5zM57,0h3.5v3.5h-3.5zM120,0h6.5v3.5h-6.5zM165,0h3.5v3.5h-3.5zM171,0h3.5v3.5h-3.5zM18,3h3.5v3.5h-3.5zM24,3h6.5v3.5h-6.5zM36,3h3.5v3.5h-3.5zM48,3h3.5v3.5h-3.5zM54,3h3.5v3.5h-3.5zM60,3h3.5v3.5h-3.5zM126,3h6.5v3.5h-6.5zM135,3h3.5v3.5h-3.5zM147,3h3.5v3.5h-3.5zM156,3h3.5v3.5h-3.5zM165,3h3.5v3.5h-3.5zM45,6h6.5v3.5h-6.5zM60,6h3.5v3.5h-3.5zM126,6h3.5v3.5h-3.5zM156,6h9.5v3.5h-9.5zM168,6h6.5v3.5h-6.5zM177,6h3.5v3.5h-3.5zM30,9h3.5v3.5h-3.5zM42,9h3.5v3.5h-3.5zM60,9h3.5v3.5h-3.5zM114,9h3.5v3.5h-3.5zM126,9h3.5v3.5h-3.5zM159,9h6.5v3.5h-6.5zM168,9h3.5v3.5h-3.5zM108,12h3.5v3.5h-3.5zM114,12h3.5v3.5h-3.5zM135,12h3.5v3.5h-3.5zM150,12h6.5v3.5h-6.5zM159,12h6.5v3.5h-6.5zM24,15h3.5v3.5h-3.5zM33,15h3.5v3.5h-3.5zM39,15h3.5v3.5h-3.5zM45,15h6.5v3.5h-6.5zM57,15h3.5v3.5h-3.5zM114,15h3.5v3.5h-3.5zM123,15h3.5v3.5h-3.5zM147,15h3.5v3.5h-3.5zM153,15h3.5v3.5h-3.5zM159,15h6.5v3.5h-6.5zM174,15h3.5v3.5h-3.5zM15,18h3.5v3.5h-3.5zM39,18h3.5v3.5h-3.5zM57,18h3.5v3.5h-3.5zM129,18h6.5v3.5h-6.5zM159,18h3.5v3.5h-3.5zM165,18h3.5v3.5h-3.5zM177,18h3.5v3.5h-3.5zM24,21h3.5v3.5h-3.5zM33,21h3.5v3.5h-3.5zM42,21h3.5v3.5h-3.5zM48,21h3.5v3.5h-3.5zM114,21h3.5v3.5h-3.5zM120,21h6.5v3.5h-6.5zM129,21h3.5v3.5h-3.5zM153,21h6.5v3.5h-6.5zM162,21h9.5v3.5h-9.5zM24,24h3.5v3.5h-3.5zM39,24h6.5v3.5h-6.5zM114,24h3.5v3.5h-3.5zM120,24h3.5v3.5h-3.5zM138,24h3.5v3.5h-3.5zM147,24h3.5v3.5h-3.5zM165,24h9.5v3.5h-9.5zM15,27h3.5v3.5h-3.5zM30,27h3.5v3.5h-3.5zM105,27h3.5v3.5h-3.5zM117,27h6.5v3.5h-6.5zM138,27h12.5v3.5h-12.5zM165,27h6.5v3.5h-6.5zM174,27h3.5v3.5h-3.5zM30,30h3.5v3.5h-3.5zM69,30h6.5v3.5h-6.5zM123,30h3.5v3.5h-3.5zM150,30h6.5v3.5h-6.5zM30,33h3.5v3.5h-3.5zM111,33h3.5v3.5h-3.5zM138,33h12.5v3.5h-12.5zM153,33h3.5v3.5h-3.5zM168,33h3.5v3.5h-3.5zM36,36h3.5v3.5h-3.5zM66,36h6.5v3.5h-6.5zM126,36h9.5v3.5h-9.5zM147,36h3.5v3.5h-3.5zM153,36h3.5v3.5h-3.5zM159,36h3.5v3.5h-3.5zM171,36h3.5v3.5h-3.5zM36,39h3.5v3.5h-3.5zM108,39h3.5v3.5h-3.5zM123,39h6.5v3.5h-6.5zM135,39h3.5v3.5h-3.5zM165,39h3.5v3.5h-3.5zM171,39h3.5v3.5h-3.5zM114,42h3.5v3.5h-3.5zM147,42h6.5v3.5h-6.5zM156,42h3.5v3.5h-3.5zM171,42h6.5v3.5h-6.5zM108,45h6.5v3.5h-6.5zM117,45h9.5v3.5h-9.5zM135,45h6.5v3.5h-6.5zM150,45h3.5v3.5h-3.5zM168,45h3.5v3.5h-3.5zM114,48h3.5v3.5h-3.5zM120,48h3.5v3.5h-3.5zM129,48h6.5v3.5h-6.5zM165,48h3.5v3.5h-3.5zM24,51h3.5v3.5h-3.5zM33,51h3.5v3.5h-3.5zM114,51h3.5v3.5h-3.5zM129,51h3.5v3.5h-3.5zM141,51h3.5v3.5h-3.5zM45,54h3.5v3.5h-3.5zM111,54h6.5v3.5h-6.5zM120,54h3.5v3.5h-3.5zM126,54h3.5v3.5h-3.5zM132,54h3.5v3.5h-3.5zM165,54h3.5v3.5h-3.5zM27,57h3.5v3.5h-3.5zM33,57h3.5v3.5h-3.5zM66,57h3.5v3.5h-3.5zM105,57h3.5v3.5h-3.5zM150,57h6.5v3.5h-6.5zM159,57h3.5v3.5h-3.5zM171,57h9.5v3.5h-9.5zM63,60h6.5v3.5h-6.5zM72,60h3.5v3.5h-3.5zM126,60h3.5v3.5h-3.5zM162,60h9.5v3.5h-9.5zM174,60h3.5v3.5h-3.5zM45,63h3.5v3.5h-3.5zM54,63h6.5v3.5h-6.5zM69,63h3.5v3.5h-3.5zM105,63h3.5v3.5h-3.5zM120,63h3.5v3.5h-3.5zM138,63h3.5v3.5h-3.5zM150,63h3.5v3.5h-3.5zM3,66h9.5v3.5h-9.5zM54,66h3.5v3.5h-3.5zM63,66h3.5v3.5h-3.5zM78,66h3.5v3.5h-3.5zM126,66h3.5v3.5h-3.5zM135,66h3.5v3.5h-3.5zM159,66h6.5v3.5h-6.5zM168,66h3.5v3.5h-3.5zM177,66h3.5v3.5h-3.5zM42,69h3.5v3.5h-3.5zM60,69h3.5v3.5h-3.5zM147,69h3.5v3.5h-3.5zM153,69h3.5v3.5h-3.5zM0,72h3.5v3.5h-3.5zM42,72h3.5v3.5h-3.5zM48,72h12.5v3.5h-12.5zM93,72h3.5v3.5h-3.5zM147,72h3.5v3.5h-3.5zM0,75h6.5v3.5h-6.5zM12,75h6.5v3.5h-6.5zM42,75h3.5v3.5h-3.5zM54,75h6.5v3.5h-6.5zM111,75h6.5v3.5h-6.5zM120,75h3.5v3.5h-3.5zM132,75h3.5v3.5h-3.5zM144,75h3.5v3.5h-3.5zM0,78h3.5v3.5h-3.5zM6,78h3.5v3.5h-3.5zM12,78h9.5v3.5h-9.5zM45,78h3.5v3.5h-3.5zM51,78h3.5v3.5h-3.5zM75,78h3.5v3.5h-3.5zM99,78h3.5v3.5h-3.5zM111,78h3.5v3.5h-3.5zM120,78h3.5v3.5h-3.5zM132,78h6.5v3.5h-6.5zM165,78h3.5v3.5h-3.5zM171,78h6.5v3.5h-6.5zM3,81h3.5v3.5h-3.5zM108,81h3.5v3.5h-3.5zM114,81h3.5v3.5h-3.5zM129,81h3.5v3.5h-3.5zM141,81h3.5v3.5h-3.5zM153,81h3.5v3.5h-3.5zM168,81h3.5v3.5h-3.5zM174,81h3.5v3.5h-3.5zM3,84h6.5v3.5h-6.5zM24,84h3.5v3.5h-3.5zM117,84h3.5v3.5h-3.5zM126,84h3.5v3.5h-3.5zM153,84h3.5v3.5h-3.5zM159,84h3.5v3.5h-3.5zM6,87h3.5v3.5h-3.5zM54,87h3.5v3.5h-3.5zM99,87h3.5v3.5h-3.5zM105,87h3.5v3.5h-3.5zM132,87h3.5v3.5h-3.5zM138,87h6.5v3.5h-6.5zM162,87h3.5v3.5h-3.5zM177,87h3.5v3.5h-3.5zM3,90h6.5v3.5h-6.5zM12,90h3.5v3.5h-3.5zM33,90h3.5v3.5h-3.5zM54,90h6.5v3.5h-6.5zM105,90h3.5v3.5h-3.5zM120,90h3.5v3.5h-3.5zM126,90h6.5v3.5h-6.5zM147,90h6.5v3.5h-6.5zM165,90h3.5v3.5h-3.5zM0,93h3.5v3.5h-3.5zM6,93h3.5v3.5h-3.5zM30,93h6.5v3.5h-6.5zM51,93h3.5v3.5h-3.5zM63,93h3.5v3.5h-3.5zM108,93h3.5v3.5h-3.5zM114,93h12.5v3.5h-12.5zM135,93h3.5v3.5h-3.5zM144,93h3.5v3.5h-3.5zM0,96h3.5v3.5h-3.5zM12,96h3.5v3.5h-3.5zM30,96h3.5v3.5h-3.5zM54,96h6.5v3.5h-6.5zM87,96h3.5v3.5h-3.5zM93,96h3.5v3.5h-3.5zM105,96h3.5v3.5h-3.5zM111,96h3.5v3.5h-3.5zM117,96h3.5v3.5h-3.5zM138,96h9.5v3.5h-9.5zM0,99h3.5v3.5h-3.5zM12,99h3.5v3.5h-3.5zM90,99h3.5v3.5h-3.5zM102,99h3.5v3.5h-3.5zM108,99h6.5v3.5h-6.5zM3,102h3.5v3.5h-3.5zM27,102h6.5v3.5h-6.5zM102,102h3.5v3.5h-3.5zM111,102h3.5v3.5h-3.5zM120,102h9.5v3.5h-9.5zM3,105h12.5v3.5h-12.5zM24,105h3.5v3.5h-3.5zM105,105h9.5v3.5h-9.5zM117,105h9.5v3.5h-9.5zM135,105h3.5v3.5h-3.5zM6,108h3.5v3.5h-3.5zM12,108h3.5v3.5h-3.5zM21,108h3.5v3.5h-3.5zM27,108h3.5v3.5h-3.5zM75,108h3.5v3.5h-3.5zM90,108h6.5v3.5h-6.5zM102,108h3.5v3.5h-3.5zM108,108h3.5v3.5h-3.5zM132,108h6.5v3.5h-6.5zM27,111h3.5v3.5h-3.5zM36,111h6.5v3.5h-6.5zM57,111h3.5v3.5h-3.5zM75,111h3.5v3.5h-3.5zM90,111h3.5v3.5h-3.5zM102,111h3.5v3.5h-3.5zM114,111h3.5v3.5h-3.5zM129,111h9.5v3.5h-9.5zM171,111h3.5v3.5h-3.5zM0,114h3.5v3.5h-3.5zM6,114h3.5v3.5h-3.5zM12,114h3.5v3.5h-3.5zM18,114h3.5v3.5h-3.5zM33,114h3.5v3.5h-3.5zM39,114h3.5v3.5h-3.5zM87,114h3.5v3.5h-3.5zM105,114h3.5v3.5h-3.5zM126,114h3.5v3.5h-3.5zM135,114h3.5v3.5h-3.5zM33,117h9.5v3.5h-9.5zM81,117h3.5v3.5h-3.5zM99,117h3.5v3.5h-3.5zM111,117h6.5v3.5h-6.5zM144,117h3.5v3.5h-3.5zM6,120h3.5v3.5h-3.5zM18,120h3.5v3.5h-3.5zM24,120h3.5v3.5h-3.5zM54,120h3.5v3.5h-3.5zM105,120h3.5v3.5h-3.5zM111,120h3.5v3.5h-3.5zM132,120h3.5v3.5h-3.5zM150,120h3.5v3.5h-3.5zM18,123h6.5v3.5h-6.5zM36,123h6.5v3.5h-6.5zM72,123h6.5v3.5h-6.5zM111,123h3.5v3.5h-3.5zM129,123h3.5v3.5h-3.5zM141,123h6.5v3.5h-6.5zM150,123h3.5v3.5h-3.5zM156,123h3.5v3.5h-3.5zM12,126h6.5v3.5h-6.5zM21,126h6.5v3.5h-6.5zM30,126h6.5v3.5h-6.5zM93,126h3.5v3.5h-3.5zM99,126h3.5v3.5h-3.5zM108,126h6.5v3.5h-6.5zM135,126h6.5v3.5h-6.5zM150,126h3.5v3.5h-3.5zM159,126h3.5v3.5h-3.5zM21,129h3.5v3.5h-3.5zM39,129h3.5v3.5h-3.5zM96,129h3.5v3.5h-3.5zM114,129h6.5v3.5h-6.5zM123,129h3.5v3.5h-3.5zM147,129h3.5v3.5h-3.5zM156,129h3.5v3.5h-3.5zM12,132h3.5v3.5h-3.5zM24,132h9.5v3.5h-9.5zM48,132h6.5v3.5h-6.5zM57,132h3.5v3.5h-3.5zM96,132h3.5v3.5h-3.5zM105,132h3.5v3.5h-3.5zM120,132h3.5v3.5h-3.5zM126,132h3.5v3.5h-3.5zM132,132h3.5v3.5h-3.5zM141,132h3.5v3.5h-3.5zM153,132h3.5v3.5h-3.5zM165,132h3.5v3.5h-3.5zM27,135h3.5v3.5h-3.5zM33,135h3.5v3.5h-3.5zM99,135h3.5v3.5h-3.5zM108,135h3.5v3.5h-3.5zM120,135h3.5v3.5h-3.5zM135,135h3.5v3.5h-3.5zM153,135h6.5v3.5h-6.5zM15,138h6.5v3.5h-6.5zM24,138h3.5v3.5h-3.5zM30,138h3.5v3.5h-3.5zM39,138h3.5v3.5h-3.5zM48,138h3.5v3.5h-3.5zM108,138h3.5v3.5h-3.5zM117,138h6.5v3.5h-6.5zM147,138h3.5v3.5h-3.5zM159,138h3.5v3.5h-3.5zM0,141h3.5v3.5h-3.5zM27,141h3.5v3.5h-3.5zM36,141h3.5v3.5h-3.5zM93,141h3.5v3.5h-3.5zM102,141h6.5v3.5h-6.5zM126,141h3.5v3.5h-3.5zM132,141h3.5v3.5h-3.5zM138,141h3.5v3.5h-3.5zM0,144h3.5v3.5h-3.5zM9,144h9.5v3.5h-9.5zM21,144h3.5v3.5h-3.5zM30,144h3.5v3.5h-3.5zM45,144h3.5v3.5h-3.5zM126,144h3.5v3.5h-3.5zM162,144h3.5v3.5h-3.5zM177,144h3.5v3.5h-3.5zM6,147h6.5v3.5h-6.5zM21,147h9.5v3.5h-9.5zM33,147h9.5v3.5h-9.5zM93,147h3.5v3.5h-3.5zM99,147h3.5v3.5h-3.5zM108,147h3.5v3.5h-3.5zM120,147h3.5v3.5h-3.5zM132,147h6.5v3.5h-6.5zM165,147h3.5v3.5h-3.5zM177,147h3.5v3.5h-3.5z"/><path fill="#c4c4ff" d="M0,0h6.5v3.5h-6.5zM15,0h9.5v3.5h-9.5zM27,0h6.5v3.5h-6.5zM36,0h3.5v3.5h-3.5zM54,0h3.5v3.5h-3.5zM60,0h6.5v3.5h-6.5zM144,0h3.5v3.5h-3.5zM9,3h9.5v3.5h-9.5zM33,3h3.5v3.5h-3.5zM42,3h3.5v3.5h-3.5zM51,3h3.5v3.5h-3.5zM63,3h3.5v3.5h-3.5zM3,6h6.5v3.5h-6.5zM15,6h3.5v3.5h-3.5zM27,6h6.5v3.5h-6.5zM36,6h3.5v3.5h-3.5zM54,6h3.5v3.5h-3.5zM132,6h3.5v3.5h-3.5zM144,6h3.5v3.5h-3.5zM3,9h3.5v3.5h-3.5zM9,9h3.5v3.5h-3.5zM21,9h9.5v3.5h-9.5zM33,9h9.5v3.5h-9.5zM45,9h3.5v3.5h-3.5zM57,9h3.5v3.5h-3.5zM120,9h6.5v3.5h-6.5zM12,12h6.5v3.5h-6.5zM21,12h9.5v3.5h-9.5zM39,12h3.5v3.5h-3.5zM45,12h3.5v3.5h-3.5zM51,12h3.5v3.5h-3.5zM60,12h3.5v3.5h-3.5zM126,12h3.5v3.5h-3.5zM177,12h3.5v3.5h-3.5zM6,15h3.5v3.5h-3.5zM15,15h3.5v3.5h-3.5zM21,15h3.5v3.5h-3.5zM27,15h6.5v3.5h-6.5zM42,15h3.5v3.5h-3.5zM51,15h3.5v3.5h-3.5zM60,15h3.5v3.5h-3.5zM132,15h3.5v3.5h-3.5zM144,15h3.5v3.5h-3.5zM12,18h3.5v3.5h-3.5zM21,18h6.5v3.5h-6.5zM33,18h6.5v3.5h-6.5zM48,18h3.5v3.5h-3.5zM60,18h6.5v3.5h-6.5zM126,18h3.5v3.5h-3.5zM153,18h3.5v3.5h-3.5zM12,21h9.5v3.5h-9.5zM54,21h3.5v3.5h-3.5zM60,21h6.5v3.5h-6.5zM132,21h3.5v3.5h-3.5zM174,21h6.5v3.5h-6.5zM0,24h3.5v3.5h-3.5zM30,24h9.5v3.5h-9.5zM45,24h3.5v3.5h-3.5zM66,24h3.5v3.5h-3.5zM108,24h6.5v3.5h-6.5zM21,27h3.5v3.5h-3.5zM33,27h3.5v3.5h-3.5zM39,27h6.5v3.5h-6.5zM135,27h3.5v3.5h-3.5zM171,27h3.5v3.5h-3.5zM24,30h3.5v3.5h-3.5zM33,30h3.5v3.5h-3.5zM51,30h3.5v3.5h-3.5zM177,30h3.5v3.5h-3.5zM24,33h3.5v3.5h-3.5zM33,33h3.5v3.5h-3.5zM51,33h3.5v3.5h-3.5zM171,33h3.5v3.5h-3.5zM33,36h3.5v3.5h-3.5zM156,36h3.5v3.5h-3.5zM33,39h3.5v3.5h-3.5zM39,39h3.5v3.5h-3.5zM63,39h3.5v3.5h-3.5zM129,39h3.5v3.5h-3.5zM144,39h3.5v3.5h-3.5zM156,39h3.5v3.5h-3.5zM162,39h3.5v3.5h-3.5zM168,39h3.5v3.5h-3.5zM174,39h6.5v3.5h-6.5zM3,42h3.5v3.5h-3.5zM39,42h3.5v3.5h-3.5zM60,42h12.5v3.5h-12.5zM141,42h6.5v3.5h-6.5zM159,42h3.5v3.5h-3.5zM168,42h3.5v3.5h-3.5zM129,45h3.5v3.5h-3.5zM141,45h6.5v3.5h-6.5zM153,45h3.5v3.5h-3.5zM159,45h3.5v3.5h-3.5zM171,45h6.5v3.5h-6.5zM15,48h3.5v3.5h-3.5zM27,48h3.5v3.5h-3.5zM135,48h3.5v3.5h-3.5zM144,48h3.5v3.5h-3.5zM159,48h6.5v3.5h-6.5zM168,48h6.5v3.5h-6.5zM12,51h3.5v3.5h-3.5zM18,51h3.5v3.5h-3.5zM27,51h6.5v3.5h-6.5zM45,51h3.5v3.5h-3.5zM138,51h3.5v3.5h-3.5zM147,51h3.5v3.5h-3.5zM159,51h3.5v3.5h-3.5zM168,51h3.5v3.5h-3.5zM174,51h3.5v3.5h-3.5zM33,54h3.5v3.5h-3.5zM117,54h3.5v3.5h-3.5zM123,54h3.5v3.5h-3.5zM135,54h3.5v3.5h-3.5zM147,54h3.5v3.5h-3.5zM156,54h3.5v3.5h-3.5zM18,57h9.5v3.5h-9.5zM45,57h3.5v3.5h-3.5zM51,57h6.5v3.5h-6.5zM111,57h3.5v3.5h-3.5zM120,57h3.5v3.5h-3.5zM129,57h12.5v3.5h-12.5zM156,57h3.5v3.5h-3.5zM165,57h3.5v3.5h-3.5zM15,60h3.5v3.5h-3.5zM30,60h3.5v3.5h-3.5zM48,60h3.5v3.5h-3.5zM81,60h3.5v3.5h-3.5zM108,60h3.5v3.5h-3.5zM117,60h3.5v3.5h-3.5zM129,60h3.5v3.5h-3.5zM135,60h6.5v3.5h-6.5zM144,60h3.5v3.5h-3.5zM150,60h3.5v3.5h-3.5zM171,60h3.5v3.5h-3.5zM66,63h3.5v3.5h-3.5zM75,63h3.5v3.5h-3.5zM81,63h3.5v3.5h-3.5zM108,63h3.5v3.5h-3.5zM114,63h6.5v3.5h-6.5zM123,63h9.5v3.5h-9.5zM135,63h3.5v3.5h-3.5zM156,63h3.5v3.5h-3.5zM162,63h3.5v3.5h-3.5zM168,63h3.5v3.5h-3.5zM177,63h3.5v3.5h-3.5zM120,66h3.5v3.5h-3.5zM129,66h6.5v3.5h-6.5zM138,66h6.5v3.5h-6.5zM147,66h12.5v3.5h-12.5zM165,66h3.5v3.5h-3.5zM171,66h3.5v3.5h-3.5zM3,69h3.5v3.5h-3.5zM48,69h3.5v3.5h-3.5zM54,69h3.5v3.5h-3.5zM66,69h3.5v3.5h-3.5zM78,69h3.5v3.5h-3.5zM90,69h3.5v3.5h-3.5zM120,69h6.5v3.5h-6.5zM129,69h9.5v3.5h-9.5zM144,69h3.5v3.5h-3.5zM150,69h3.5v3.5h-3.5zM156,69h9.5v3.5h-9.5zM174,69h3.5v3.5h-3.5zM15,72h3.5v3.5h-3.5zM39,72h3.5v3.5h-3.5zM99,72h9.5v3.5h-9.5zM111,72h6.5v3.5h-6.5zM120,72h3.5v3.5h-3.5zM129,72h3.5v3.5h-3.5zM138,72h3.5v3.5h-3.5zM153,72h6.5v3.5h-6.5zM162,72h3.5v3.5h-3.5zM171,72h3.5v3.5h-3.5zM177,72h3.5v3.5h-3.5zM33,75h3.5v3.5h-3.5zM90,75h9.5v3.5h-9.5zM108,75h3.5v3.5h-3.5zM117,75h3.5v3.5h-3.5zM123,75h3.5v3.5h-3.5zM129,75h3.5v3.5h-3.5zM150,75h9.5v3.5h-9.5zM168,75h6.5v3.5h-6.5zM177,75h3.5v3.5h-3.5zM21,78h3.5v3.5h-3.5zM30,78h3.5v3.5h-3.5zM42,78h3.5v3.5h-3.5zM78,78h6.5v3.5h-6.5zM90,78h3.5v3.5h-3.5zM114,78h3.5v3.5h-3.5zM126,78h3.5v3.5h-3.5zM138,78h3.5v3.5h-3.5zM144,78h3.5v3.5h-3.5zM150,78h12.5v3.5h-12.5zM168,78h3.5v3.5h-3.5zM12,81h3.5v3.5h-3.5zM21,81h3.5v3.5h-3.5zM48,81h3.5v3.5h-3.5zM60,81h3.5v3.5h-3.5zM81,81h3.5v3.5h-3.5zM126,81h3.5v3.5h-3.5zM135,81h6.5v3.5h-6.5zM144,81h3.5v3.5h-3.5zM156,81h9.5v3.5h-9.5zM171,81h3.5v3.5h-3.5zM177,81h3.5v3.5h-3.5zM57,84h3.5v3.5h-3.5zM102,84h3.5v3.5h-3.5zM123,84h3.5v3.5h-3.5zM129,84h9.5v3.5h-9.5zM141,84h6.5v3.5h-6.5zM156,84h3.5v3.5h-3.5zM174,84h3.5v3.5h-3.5zM24,87h6.5v3.5h-6.5zM126,87h6.5v3.5h-6.5zM147,87h12.5v3.5h-12.5zM165,87h3.5v3.5h-3.5zM171,87h6.5v3.5h-6.5zM51,90h3.5v3.5h-3.5zM60,90h3.5v3.5h-3.5zM123,90h3.5v3.5h-3.5zM132,90h3.5v3.5h-3.5zM144,90h3.5v3.5h-3.5zM156,90h3.5v3.5h-3.5zM162,90h3.5v3.5h-3.5zM168,90h3.5v3.5h-3.5zM177,90h3.5v3.5h-3.5zM102,93h3.5v3.5h-3.5zM129,93h3.5v3.5h-3.5zM138,93h3.5v3.5h-3.5zM147,93h6.5v3.5h-6.5zM174,93h6.5v3.5h-6.5zM99,96h3.5v3.5h-3.5zM108,96h3.5v3.5h-3.5zM114,96h3.5v3.5h-3.5zM120,96h3.5v3.5h-3.5zM126,96h6.5v3.5h-6.5zM174,96h3.5v3.5h-3.5zM15,99h3.5v3.5h-3.5zM54,99h3.5v3.5h-3.5zM84,99h3.5v3.5h-3.5zM96,99h3.5v3.5h-3.5zM105,99h3.5v3.5h-3.5zM114,99h3.5v3.5h-3.5zM120,99h3.5v3.5h-3.5zM138,99h3.5v3.5h-3.5zM150,99h3.5v3.5h-3.5zM57,102h3.5v3.5h-3.5zM108,102h3.5v3.5h-3.5zM132,102h3.5v3.5h-3.5zM30,105h3.5v3.5h-3.5zM57,105h3.5v3.5h-3.5zM75,105h3.5v3.5h-3.5zM114,105h3.5v3.5h-3.5zM126,105h3.5v3.5h-3.5zM9,108h3.5v3.5h-3.5zM15,108h3.5v3.5h-3.5zM54,108h3.5v3.5h-3.5zM126,108h3.5v3.5h-3.5zM141,108h3.5v3.5h-3.5zM12,111h3.5v3.5h-3.5zM33,111h3.5v3.5h-3.5zM42,111h6.5v3.5h-6.5zM120,111h9.5v3.5h-9.5zM138,111h3.5v3.5h-3.5zM42,114h6.5v3.5h-6.5zM51,114h3.5v3.5h-3.5zM96,114h6.5v3.5h-6.5zM114,114h6.5v3.5h-6.5zM129,114h3.5v3.5h-3.5zM147,114h3.5v3.5h-3.5zM21,117h9.5v3.5h-9.5zM72,117h3.5v3.5h-3.5zM84,117h3.5v3.5h-3.5zM90,117h6.5v3.5h-6.5zM126,117h3.5v3.5h-3.5zM132,117h3.5v3.5h-3.5zM138,117h3.5v3.5h-3.5zM147,117h6.5v3.5h-6.5zM27,120h3.5v3.5h-3.5zM48,120h3.5v3.5h-3.5zM102,120h3.5v3.5h-3.5zM114,120h3.5v3.5h-3.5zM126,120h3.5v3.5h-3.5zM135,120h3.5v3.5h-3.5zM147,120h3.5v3.5h-3.5zM27,123h3.5v3.5h-3.5zM42,123h6.5v3.5h-6.5zM51,123h9.5v3.5h-9.5zM78,123h3.5v3.5h-3.5zM96,123h6.5v3.5h-6.5zM114,123h3.5v3.5h-3.5zM138,123h3.5v3.5h-3.5zM147,123h3.5v3.5h-3.5zM153,123h3.5v3.5h-3.5zM162,123h3.5v3.5h-3.5zM39,126h3.5v3.5h-3.5zM48,126h9.5v3.5h-9.5zM84,126h9.5v3.5h-9.5zM96,126h3.5v3.5h-3.5zM114,126h3.5v3.5h-3.5zM120,126h3.5v3.5h-3.5zM126,126h3.5v3.5h-3.5zM132,126h3.5v3.5h-3.5zM147,126h3.5v3.5h-3.5zM153,126h3.5v3.5h-3.5zM42,129h3.5v3.5h-3.5zM48,129h3.5v3.5h-3.5zM57,129h3.5v3.5h-3.5zM135,129h3.5v3.5h-3.5zM141,129h6.5v3.5h-6.5zM150,129h3.5v3.5h-3.5zM159,129h3.5v3.5h-3.5zM36,132h3.5v3.5h-3.5zM42,132h6.5v3.5h-6.5zM54,132h3.5v3.5h-3.5zM84,132h3.5v3.5h-3.5zM90,132h6.5v3.5h-6.5zM102,132h3.5v3.5h-3.5zM135,132h3.5v3.5h-3.5zM156,132h6.5v3.5h-6.5zM15,135h3.5v3.5h-3.5zM30,135h3.5v3.5h-3.5zM39,135h9.5v3.5h-9.5zM90,135h6.5v3.5h-6.5zM114,135h6.5v3.5h-6.5zM132,135h3.5v3.5h-3.5zM144,135h6.5v3.5h-6.5zM27,138h3.5v3.5h-3.5zM42,138h3.5v3.5h-3.5zM51,138h3.5v3.5h-3.5zM84,138h9.5v3.5h-9.5zM99,138h3.5v3.5h-3.5zM129,138h6.5v3.5h-6.5zM138,138h3.5v3.5h-3.5zM150,138h9.5v3.5h-9.5zM165,138h6.5v3.5h-6.5zM9,141h3.5v3.5h-3.5zM30,141h6.5v3.5h-6.5zM42,141h3.5v3.5h-3.5zM120,141h3.5v3.5h-3.5zM135,141h3.5v3.5h-3.5zM141,141h12.5v3.5h-12.5zM156,141h3.5v3.5h-3.5zM165,141h3.5v3.5h-3.5zM18,144h3.5v3.5h-3.5zM24,144h3.5v3.5h-3.5zM33,144h6.5v3.5h-6.5zM42,144h3.5v3.5h-3.5zM93,144h3.5v3.5h-3.5zM111,144h3.5v3.5h-3.5zM120,144h6.5v3.5h-6.5zM129,144h3.5v3.5h-3.5zM135,144h6.5v3.5h-6.5zM147,144h6.5v3.5h-6.5zM156,144h6.5v3.5h-6.5zM171,144h3.5v3.5h-3.5zM18,147h3.5v3.5h-3.5zM30,147h3.5v3.5h-3.5zM42,147h3.5v3.5h-3.5zM90,147h3.5v3.5h-3.5zM147,147h3.5v3.5h-3.5zM153,147h3.5v3.5h-3.5zM162,147h3.5v3.5h-3.5zM168,147h3.5v3.5h-3.5zM174,147h3.5v3.5h-3.5z"/><path fill="#d2d2ff" d="M9,0h3.5v3.5h-3.5zM39,0h3.5v3.5h-3.5zM51,0h3.5v3.5h-3.5zM75,0h3.5v3.5h-3.5zM0,3h9.5v3.5h-9.5zM21,3h3.5v3.5h-3.5zM45,3h3.5v3.5h-3.5zM72,3h3.5v3.5h-3.5zM18,6h6.5v3.5h-6.5zM33,6h3.5v3.5h-3.5zM39,6h6.5v3.5h-6.5zM57,6h3.5v3.5h-3.5zM0,9h3.5v3.5h-3.5zM6,9h3.5v3.5h-3.5zM18,9h3.5v3.5h-3.5zM48,9h9.5v3.5h-9.5zM63,9h3.5v3.5h-3.5zM69,9h3.5v3.5h-3.5zM75,9h3.5v3.5h-3.5zM6,12h6.5v3.5h-6.5zM18,12h3.5v3.5h-3.5zM30,12h6.5v3.5h-6.5zM42,12h3.5v3.5h-3.5zM48,12h3.5v3.5h-3.5zM57,12h3.5v3.5h-3.5zM63,12h3.5v3.5h-3.5zM156,12h3.5v3.5h-3.5zM3,15h3.5v3.5h-3.5zM9,15h6.5v3.5h-6.5zM18,15h3.5v3.5h-3.5zM36,15h3.5v3.5h-3.5zM54,15h3.5v3.5h-3.5zM66,15h3.5v3.5h-3.5zM6,18h6.5v3.5h-6.5zM27,18h3.5v3.5h-3.5zM42,18h3.5v3.5h-3.5zM51,18h3.5v3.5h-3.5zM66,18h3.5v3.5h-3.5zM6,21h3.5v3.5h-3.5zM21,21h3.5v3.5h-3.5zM27,21h3.5v3.5h-3.5zM36,21h3.5v3.5h-3.5zM45,21h3.5v3.5h-3.5zM51,21h3.5v3.5h-3.5zM57,21h3.5v3.5h-3.5zM66,21h6.5v3.5h-6.5zM3,24h3.5v3.5h-3.5zM18,24h6.5v3.5h-6.5zM27,24h3.5v3.5h-3.5zM60,24h3.5v3.5h-3.5zM69,24h3.5v3.5h-3.5zM174,24h3.5v3.5h-3.5zM3,27h3.5v3.5h-3.5zM24,27h6.5v3.5h-6.5zM36,27h3.5v3.5h-3.5zM45,27h3.5v3.5h-3.5zM51,27h3.5v3.5h-3.5zM75,27h3.5v3.5h-3.5zM9,30h3.5v3.5h-3.5zM18,30h3.5v3.5h-3.5zM27,30h3.5v3.5h-3.5zM42,30h3.5v3.5h-3.5zM165,30h9.5v3.5h-9.5zM6,33h3.5v3.5h-3.5zM21,33h3.5v3.5h-3.5zM36,33h3.5v3.5h-3.5zM45,33h3.5v3.5h-3.5zM69,33h3.5v3.5h-3.5zM162,33h6.5v3.5h-6.5zM174,33h6.5v3.5h-6.5zM3,36h6.5v3.5h-6.5zM12,36h3.5v3.5h-3.5zM30,36h3.5v3.5h-3.5zM51,36h3.5v3.5h-3.5zM60,36h3.5v3.5h-3.5zM165,36h6.5v3.5h-6.5zM174,36h3.5v3.5h-3.5zM3,39h3.5v3.5h-3.5zM18,39h6.5v3.5h-6.5zM30,39h3.5v3.5h-3.5zM42,39h3.5v3.5h-3.5zM159,39h3.5v3.5h-3.5zM18,42h3.5v3.5h-3.5zM33,42h6.5v3.5h-6.5zM57,42h3.5v3.5h-3.5zM138,42h3.5v3.5h-3.5zM165,42h3.5v3.5h-3.5zM177,42h3.5v3.5h-3.5zM12,45h3.5v3.5h-3.5zM18,45h9.5v3.5h-9.5zM33,45h3.5v3.5h-3.5zM39,45h3.5v3.5h-3.5zM66,45h9.5v3.5h-9.5zM147,45h3.5v3.5h-3.5zM156,45h3.5v3.5h-3.5zM162,45h6.5v3.5h-6.5zM177,45h3.5v3.5h-3.5zM12,48h3.5v3.5h-3.5zM21,48h3.5v3.5h-3.5zM33,48h3.5v3.5h-3.5zM42,48h3.5v3.5h-3.5zM69,48h3.5v3.5h-3.5zM138,48h6.5v3.5h-6.5zM147,48h6.5v3.5h-6.5zM156,48h3.5v3.5h-3.5zM174,48h6.5v3.5h-6.5zM15,51h3.5v3.5h-3.5zM42,51h3.5v3.5h-3.5zM69,51h3.5v3.5h-3.5zM126,51h3.5v3.5h-3.5zM132,51h6.5v3.5h-6.5zM150,51h9.5v3.5h-9.5zM165,51h3.5v3.5h-3.5zM171,51h3.5v3.5h-3.5zM18,54h3.5v3.5h-3.5zM42,54h3.5v3.5h-3.5zM72,54h3.5v3.5h-3.5zM129,54h3.5v3.5h-3.5zM141,54h6.5v3.5h-6.5zM150,54h6.5v3.5h-6.5zM171,54h3.5v3.5h-3.5zM177,54h3.5v3.5h-3.5zM6,57h3.5v3.5h-3.5zM48,57h3.5v3.5h-3.5zM123,57h6.5v3.5h-6.5zM144,57h6.5v3.5h-6.5zM162,57h3.5v3.5h-3.5zM168,57h3.5v3.5h-3.5zM0,60h3.5v3.5h-3.5zM21,60h3.5v3.5h-3.5zM33,60h3.5v3.5h-3.5zM39,60h3.5v3.5h-3.5zM51,60h6.5v3.5h-6.5zM60,60h3.5v3.5h-3.5zM111,60h6.5v3.5h-6.5zM120,60h3.5v3.5h-3.5zM132,60h3.5v3.5h-3.5zM141,60h3.5v3.5h-3.5zM147,60h3.5v3.5h-3.5zM153,60h3.5v3.5h-3.5zM159,60h3.5v3.5h-3.5zM177,60h3.5v3.5h-3.5zM6,63h3.5v3.5h-3.5zM48,63h3.5v3.5h-3.5zM78,63h3.5v3.5h-3.5zM111,63h3.5v3.5h-3.5zM132,63h3.5v3.5h-3.5zM141,63h9.5v3.5h-9.5zM153,63h3.5v3.5h-3.5zM171,63h6.5v3.5h-6.5zM39,66h3.5v3.5h-3.5zM48,66h6.5v3.5h-6.5zM57,66h6.5v3.5h-6.5zM93,66h3.5v3.5h-3.5zM111,66h3.5v3.5h-3.5zM123,66h3.5v3.5h-3.5zM174,66h3.5v3.5h-3.5zM51,69h3.5v3.5h-3.5zM57,69h3.5v3.5h-3.5zM63,69h3.5v3.5h-3.5zM93,69h3.5v3.5h-3.5zM126,69h3.5v3.5h-3.5zM171,69h3.5v3.5h-3.5zM177,69h3.5v3.5h-3.5zM75,72h3.5v3.5h-3.5zM96,72h3.5v3.5h-3.5zM108,72h3.5v3.5h-3.5zM132,72h3.5v3.5h-3.5zM141,72h6.5v3.5h-6.5zM150,72h3.5v3.5h-3.5zM168,72h3.5v3.5h-3.5zM174,72h3.5v3.5h-3.5zM66,75h3.5v3.5h-3.5zM126,75h3.5v3.5h-3.5zM135,75h9.5v3.5h-9.5zM147,75h3.5v3.5h-3.5zM159,75h6.5v3.5h-6.5zM174,75h3.5v3.5h-3.5zM66,78h3.5v3.5h-3.5zM72,78h3.5v3.5h-3.5zM141,78h3.5v3.5h-3.5zM147,78h3.5v3.5h-3.5zM162,78h3.5v3.5h-3.5zM177,78h3.5v3.5h-3.5zM30,81h6.5v3.5h-6.5zM66,81h3.5v3.5h-3.5zM72,81h3.5v3.5h-3.5zM150,81h3.5v3.5h-3.5zM27,84h3.5v3.5h-3.5zM54,84h3.5v3.5h-3.5zM81,84h3.5v3.5h-3.5zM120,84h3.5v3.5h-3.5zM138,84h3.5v3.5h-3.5zM147,84h3.5v3.5h-3.5zM168,84h6.5v3.5h-6.5zM177,84h3.5v3.5h-3.5zM57,87h3.5v3.5h-3.5zM120,87h6.5v3.5h-6.5zM135,87h3.5v3.5h-3.5zM144,87h3.5v3.5h-3.5zM159,87h3.5v3.5h-3.5zM168,87h3.5v3.5h-3.5zM63,90h3.5v3.5h-3.5zM153,90h3.5v3.5h-3.5zM159,90h3.5v3.5h-3.5zM174,90h3.5v3.5h-3.5zM48,93h3.5v3.5h-3.5zM60,93h3.5v3.5h-3.5zM132,93h3.5v3.5h-3.5zM153,93h3.5v3.5h-3.5zM165,93h6.5v3.5h-6.5zM45,96h3.5v3.5h-3.5zM51,96h3.5v3.5h-3.5zM84,96h3.5v3.5h-3.5zM147,96h3.5v3.5h-3.5zM153,96h3.5v3.5h-3.5zM171,96h3.5v3.5h-3.5zM177,96h3.5v3.5h-3.5zM30,99h6.5v3.5h-6.5zM99,99h3.5v3.5h-3.5zM126,99h3.5v3.5h-3.5zM135,99h3.5v3.5h-3.5zM147,99h3.5v3.5h-3.5zM174,99h6.5v3.5h-6.5zM54,102h3.5v3.5h-3.5zM114,102h6.5v3.5h-6.5zM129,102h3.5v3.5h-3.5zM141,102h3.5v3.5h-3.5zM147,102h6.5v3.5h-6.5zM168,102h3.5v3.5h-3.5zM177,102h3.5v3.5h-3.5zM33,105h3.5v3.5h-3.5zM54,105h3.5v3.5h-3.5zM129,105h6.5v3.5h-6.5zM141,105h3.5v3.5h-3.5zM153,105h9.5v3.5h-9.5zM171,105h3.5v3.5h-3.5zM45,108h3.5v3.5h-3.5zM120,108h6.5v3.5h-6.5zM138,108h3.5v3.5h-3.5zM150,108h3.5v3.5h-3.5zM171,108h3.5v3.5h-3.5zM51,111h6.5v3.5h-6.5zM66,111h3.5v3.5h-3.5zM72,111h3.5v3.5h-3.5zM159,111h3.5v3.5h-3.5zM165,111h3.5v3.5h-3.5zM177,111h3.5v3.5h-3.5zM72,114h3.5v3.5h-3.5zM90,114h3.5v3.5h-3.5zM120,114h3.5v3.5h-3.5zM138,114h9.5v3.5h-9.5zM153,114h6.5v3.5h-6.5zM45,117h3.5v3.5h-3.5zM75,117h3.5v3.5h-3.5zM87,117h3.5v3.5h-3.5zM96,117h3.5v3.5h-3.5zM117,117h3.5v3.5h-3.5zM135,117h3.5v3.5h-3.5zM156,117h3.5v3.5h-3.5zM42,120h6.5v3.5h-6.5zM57,120h3.5v3.5h-3.5zM78,120h6.5v3.5h-6.5zM87,120h6.5v3.5h-6.5zM96,120h6.5v3.5h-6.5zM117,120h3.5v3.5h-3.5zM129,120h3.5v3.5h-3.5zM138,120h6.5v3.5h-6.5zM153,120h6.5v3.5h-6.5zM168,120h3.5v3.5h-3.5zM48,123h3.5v3.5h-3.5zM81,123h3.5v3.5h-3.5zM117,123h3.5v3.5h-3.5zM132,123h3.5v3.5h-3.5zM171,123h3.5v3.5h-3.5zM36,126h3.5v3.5h-3.5zM42,126h6.5v3.5h-6.5zM81,126h3.5v3.5h-3.5zM117,126h3.5v3.5h-3.5zM123,126h3.5v3.5h-3.5zM129,126h3.5v3.5h-3.5zM141,126h6.5v3.5h-6.5zM156,126h3.5v3.5h-3.5zM168,126h3.5v3.5h-3.5zM36,129h3.5v3.5h-3.5zM45,129h3.5v3.5h-3.5zM51,129h6.5v3.5h-6.5zM87,129h9.5v3.5h-9.5zM129,129h6.5v3.5h-6.5zM168,129h6.5v3.5h-6.5zM33,132h3.5v3.5h-3.5zM39,132h3.5v3.5h-3.5zM87,132h3.5v3.5h-3.5zM111,132h3.5v3.5h-3.5zM129,132h3.5v3.5h-3.5zM138,132h3.5v3.5h-3.5zM144,132h6.5v3.5h-6.5zM162,132h3.5v3.5h-3.5zM168,132h3.5v3.5h-3.5zM36,135h3.5v3.5h-3.5zM48,135h9.5v3.5h-9.5zM84,135h3.5v3.5h-3.5zM123,135h9.5v3.5h-9.5zM141,135h3.5v3.5h-3.5zM150,135h3.5v3.5h-3.5zM162,135h6.5v3.5h-6.5zM36,138h3.5v3.5h-3.5zM45,138h3.5v3.5h-3.5zM123,138h6.5v3.5h-6.5zM135,138h3.5v3.5h-3.5zM144,138h3.5v3.5h-3.5zM171,138h6.5v3.5h-6.5zM39,141h3.5v3.5h-3.5zM45,141h3.5v3.5h-3.5zM51,141h3.5v3.5h-3.5zM84,141h3.5v3.5h-3.5zM117,141h3.5v3.5h-3.5zM123,141h3.5v3.5h-3.5zM129,141h3.5v3.5h-3.5zM162,141h3.5v3.5h-3.5zM168,141h6.5v3.5h-6.5zM27,144h3.5v3.5h-3.5zM39,144h3.5v3.5h-3.5zM78,144h3.5v3.5h-3.5zM90,144h3.5v3.5h-3.5zM144,144h3.5v3.5h-3.5zM153,144h3.5v3.5h-3.5zM165,144h3.5v3.5h-3.5zM45,147h3.5v3.5h-3.5zM75,147h3.5v3.5h-3.5zM87,147h3.5v3.5h-3.5zM123,147h9.5v3.5h-9.5zM138,147h9.5v3.5h-9.5zM150,147h3.5v3.5h-3.5zM159,147h3.5v3.5h-3.5zM171,147h3.5v3.5h-3.5z"/><path fill="#dedeff" d="M6,0h3.5v3.5h-3.5zM33,0h3.5v3.5h-3.5zM45,0h3.5v3.5h-3.5zM66,0h6.5v3.5h-6.5zM30,3h3.5v3.5h-3.5zM39,3h3.5v3.5h-3.5zM0,6h3.5v3.5h-3.5zM9,6h6.5v3.5h-6.5zM24,6h3.5v3.5h-3.5zM63,6h3.5v3.5h-3.5zM69,6h6.5v3.5h-6.5zM15,9h3.5v3.5h-3.5zM3,12h3.5v3.5h-3.5zM36,12h3.5v3.5h-3.5zM54,12h3.5v3.5h-3.5zM66,12h12.5v3.5h-12.5zM0,15h3.5v3.5h-3.5zM63,15h3.5v3.5h-3.5zM69,15h3.5v3.5h-3.5zM0,18h3.5v3.5h-3.5zM72,18h6.5v3.5h-6.5zM0,21h6.5v3.5h-6.5zM9,21h3.5v3.5h-3.5zM30,21h3.5v3.5h-3.5zM39,21h3.5v3.5h-3.5zM72,21h3.5v3.5h-3.5zM6,24h3.5v3.5h-3.5zM15,24h3.5v3.5h-3.5zM48,24h6.5v3.5h-6.5zM63,24h3.5v3.5h-3.5zM0,27h3.5v3.5h-3.5zM6,27h6.5v3.5h-6.5zM18,27h3.5v3.5h-3.5zM48,27h3.5v3.5h-3.5zM60,27h6.5v3.5h-6.5zM69,27h6.5v3.5h-6.5zM177,27h3.5v3.5h-3.5zM0,30h3.5v3.5h-3.5zM21,30h3.5v3.5h-3.5zM36,30h6.5v3.5h-6.5zM45,30h3.5v3.5h-3.5zM66,30h3.5v3.5h-3.5zM174,30h3.5v3.5h-3.5zM0,33h3.5v3.5h-3.5zM15,33h3.5v3.5h-3.5zM39,33h3.5v3.5h-3.5zM66,33h3.5v3.5h-3.5zM9,36h3.5v3.5h-3.5zM15,36h6.5v3.5h-6.5zM24,36h6.5v3.5h-6.5zM39,36h6.5v3.5h-6.5zM48,36h3.5v3.5h-3.5zM72,36h3.5v3.5h-3.5zM162,36h3.5v3.5h-3.5zM177,36h3.5v3.5h-3.5zM15,39h3.5v3.5h-3.5zM24,39h6.5v3.5h-6.5zM48,39h3.5v3.5h-3.5zM60,39h3.5v3.5h-3.5zM72,39h3.5v3.5h-3.5zM21,42h3.5v3.5h-3.5zM30,42h3.5v3.5h-3.5zM42,42h3.5v3.5h-3.5zM72,42h3.5v3.5h-3.5zM0,45h6.5v3.5h-6.5zM30,45h3.5v3.5h-3.5zM36,45h3.5v3.5h-3.5zM42,45h3.5v3.5h-3.5zM54,45h12.5v3.5h-12.5zM6,48h6.5v3.5h-6.5zM18,48h3.5v3.5h-3.5zM36,48h6.5v3.5h-6.5zM45,48h3.5v3.5h-3.5zM66,48h3.5v3.5h-3.5zM153,48h3.5v3.5h-3.5zM0,51h3.5v3.5h-3.5zM6,51h6.5v3.5h-6.5zM144,51h3.5v3.5h-3.5zM177,51h3.5v3.5h-3.5zM0,54h3.5v3.5h-3.5zM9,54h3.5v3.5h-3.5zM15,54h3.5v3.5h-3.5zM48,54h3.5v3.5h-3.5zM54,54h6.5v3.5h-6.5zM75,54h3.5v3.5h-3.5zM138,54h3.5v3.5h-3.5zM162,54h3.5v3.5h-3.5zM168,54h3.5v3.5h-3.5zM12,57h6.5v3.5h-6.5zM42,57h3.5v3.5h-3.5zM57,57h3.5v3.5h-3.5zM72,57h3.5v3.5h-3.5zM9,60h3.5v3.5h-3.5zM57,60h3.5v3.5h-3.5zM75,60h6.5v3.5h-6.5zM123,60h3.5v3.5h-3.5zM9,63h3.5v3.5h-3.5zM24,63h3.5v3.5h-3.5zM30,63h3.5v3.5h-3.5zM39,63h3.5v3.5h-3.5zM51,63h3.5v3.5h-3.5zM60,63h6.5v3.5h-6.5zM72,63h3.5v3.5h-3.5zM165,63h3.5v3.5h-3.5zM66,66h6.5v3.5h-6.5zM108,66h3.5v3.5h-3.5zM114,66h3.5v3.5h-3.5zM36,69h6.5v3.5h-6.5zM108,69h3.5v3.5h-3.5zM114,69h6.5v3.5h-6.5zM138,69h6.5v3.5h-6.5zM165,69h6.5v3.5h-6.5zM60,72h15.5v3.5h-15.5zM117,72h3.5v3.5h-3.5zM123,72h6.5v3.5h-6.5zM135,72h3.5v3.5h-3.5zM159,72h3.5v3.5h-3.5zM165,72h3.5v3.5h-3.5zM39,75h3.5v3.5h-3.5zM75,75h3.5v3.5h-3.5zM165,75h3.5v3.5h-3.5zM27,78h3.5v3.5h-3.5zM33,78h3.5v3.5h-3.5zM60,78h6.5v3.5h-6.5zM27,81h3.5v3.5h-3.5zM42,81h6.5v3.5h-6.5zM63,81h3.5v3.5h-3.5zM75,81h3.5v3.5h-3.5zM147,81h3.5v3.5h-3.5zM48,84h6.5v3.5h-6.5zM63,84h3.5v3.5h-3.5zM162,84h3.5v3.5h-3.5zM30,87h3.5v3.5h-3.5zM48,87h6.5v3.5h-6.5zM81,87h3.5v3.5h-3.5zM48,90h3.5v3.5h-3.5zM66,90h3.5v3.5h-3.5zM78,90h3.5v3.5h-3.5zM171,90h3.5v3.5h-3.5zM66,93h3.5v3.5h-3.5zM126,93h3.5v3.5h-3.5zM156,93h9.5v3.5h-9.5zM33,96h3.5v3.5h-3.5zM42,96h3.5v3.5h-3.5zM60,96h3.5v3.5h-3.5zM102,96h3.5v3.5h-3.5zM132,96h3.5v3.5h-3.5zM150,96h3.5v3.5h-3.5zM159,96h3.5v3.5h-3.5zM168,96h3.5v3.5h-3.5zM45,99h9.5v3.5h-9.5zM60,99h6.5v3.5h-6.5zM129,99h3.5v3.5h-3.5zM141,99h6.5v3.5h-6.5zM153,99h3.5v3.5h-3.5zM162,99h6.5v3.5h-6.5zM138,102h3.5v3.5h-3.5zM144,102h3.5v3.5h-3.5zM156,102h6.5v3.5h-6.5zM165,102h3.5v3.5h-3.5zM171,102h6.5v3.5h-6.5zM150,105h3.5v3.5h-3.5zM162,105h3.5v3.5h-3.5zM57,108h3.5v3.5h-3.5zM69,108h3.5v3.5h-3.5zM162,108h3.5v3.5h-3.5zM48,111h3.5v3.5h-3.5zM69,111h3.5v3.5h-3.5zM141,111h6.5v3.5h-6.5zM156,111h3.5v3.5h-3.5zM162,111h3.5v3.5h-3.5zM48,114h3.5v3.5h-3.5zM66,114h6.5v3.5h-6.5zM93,114h3.5v3.5h-3.5zM123,114h3.5v3.5h-3.5zM150,114h3.5v3.5h-3.5zM162,114h6.5v3.5h-6.5zM174,114h6.5v3.5h-6.5zM69,117h3.5v3.5h-3.5zM120,117h6.5v3.5h-6.5zM141,117h3.5v3.5h-3.5zM174,117h3.5v3.5h-3.5zM51,120h3.5v3.5h-3.5zM84,120h3.5v3.5h-3.5zM93,120h3.5v3.5h-3.5zM120,120h6.5v3.5h-6.5zM162,120h3.5v3.5h-3.5zM171,120h6.5v3.5h-6.5zM84,123h6.5v3.5h-6.5zM126,123h3.5v3.5h-3.5zM165,123h3.5v3.5h-3.5zM57,126h3.5v3.5h-3.5zM165,126h3.5v3.5h-3.5zM171,126h3.5v3.5h-3.5zM177,126h3.5v3.5h-3.5zM72,129h6.5v3.5h-6.5zM126,129h3.5v3.5h-3.5zM138,129h3.5v3.5h-3.5zM153,129h3.5v3.5h-3.5zM162,129h3.5v3.5h-3.5zM174,129h3.5v3.5h-3.5zM75,132h6.5v3.5h-6.5zM78,135h6.5v3.5h-6.5zM138,135h3.5v3.5h-3.5zM159,135h3.5v3.5h-3.5zM33,138h3.5v3.5h-3.5zM177,138h3.5v3.5h-3.5zM48,141h3.5v3.5h-3.5zM87,141h6.5v3.5h-6.5zM153,141h3.5v3.5h-3.5zM159,141h3.5v3.5h-3.5zM75,144h3.5v3.5h-3.5zM81,144h9.5v3.5h-9.5zM132,144h3.5v3.5h-3.5zM141,144h3.5v3.5h-3.5zM168,144h3.5v3.5h-3.5zM174,144h3.5v3.5h-3.5zM78,147h3.5v3.5h-3.5zM156,147h3.5v3.5h-3.5z"/><path fill="#ececff" d="M81,0h3.5v3.5h-3.5zM66,3h3.5v3.5h-3.5zM66,6h3.5v3.5h-3.5zM75,6h3.5v3.5h-3.5zM72,9h3.5v3.5h-3.5zM0,12h3.5v3.5h-3.5zM72,15h6.5v3.5h-6.5zM3,18h3.5v3.5h-3.5zM18,18h3.5v3.5h-3.5zM69,18h3.5v3.5h-3.5zM75,21h3.5v3.5h-3.5zM9,24h6.5v3.5h-6.5zM72,24h3.5v3.5h-3.5zM66,27h3.5v3.5h-3.5zM12,30h6.5v3.5h-6.5zM54,30h3.5v3.5h-3.5zM9,33h6.5v3.5h-6.5zM42,33h3.5v3.5h-3.5zM0,36h3.5v3.5h-3.5zM21,36h3.5v3.5h-3.5zM45,36h3.5v3.5h-3.5zM63,36h3.5v3.5h-3.5zM0,39h3.5v3.5h-3.5zM12,39h3.5v3.5h-3.5zM0,42h3.5v3.5h-3.5zM9,42h3.5v3.5h-3.5zM24,42h6.5v3.5h-6.5zM54,42h3.5v3.5h-3.5zM15,45h3.5v3.5h-3.5zM27,45h3.5v3.5h-3.5zM30,48h3.5v3.5h-3.5zM3,51h3.5v3.5h-3.5zM21,51h3.5v3.5h-3.5zM36,51h6.5v3.5h-6.5zM66,51h3.5v3.5h-3.5zM81,51h3.5v3.5h-3.5zM3,54h6.5v3.5h-6.5zM12,54h3.5v3.5h-3.5zM21,54h3.5v3.5h-3.5zM51,54h3.5v3.5h-3.5zM174,54h3.5v3.5h-3.5zM0,57h6.5v3.5h-6.5zM9,57h3.5v3.5h-3.5zM75,57h3.5v3.5h-3.5zM81,57h3.5v3.5h-3.5zM3,60h6.5v3.5h-6.5zM12,60h3.5v3.5h-3.5zM18,60h3.5v3.5h-3.5zM24,60h3.5v3.5h-3.5zM36,60h3.5v3.5h-3.5zM156,60h3.5v3.5h-3.5zM3,63h3.5v3.5h-3.5zM12,63h6.5v3.5h-6.5zM21,63h3.5v3.5h-3.5zM33,63h3.5v3.5h-3.5zM36,66h3.5v3.5h-3.5zM117,66h3.5v3.5h-3.5zM111,69h3.5v3.5h-3.5zM33,72h6.5v3.5h-6.5zM36,75h3.5v3.5h-3.5zM60,75h6.5v3.5h-6.5zM72,75h3.5v3.5h-3.5zM24,78h3.5v3.5h-3.5zM24,81h3.5v3.5h-3.5zM78,81h3.5v3.5h-3.5zM30,84h3.5v3.5h-3.5zM60,84h3.5v3.5h-3.5zM33,87h3.5v3.5h-3.5zM60,87h6.5v3.5h-6.5zM78,87h3.5v3.5h-3.5zM81,90h3.5v3.5h-3.5zM81,93h3.5v3.5h-3.5zM156,96h3.5v3.5h-3.5zM162,96h6.5v3.5h-6.5zM132,99h3.5v3.5h-3.5zM159,99h3.5v3.5h-3.5zM171,99h3.5v3.5h-3.5zM75,102h3.5v3.5h-3.5zM153,102h3.5v3.5h-3.5zM162,102h3.5v3.5h-3.5zM72,105h3.5v3.5h-3.5zM138,105h3.5v3.5h-3.5zM144,105h6.5v3.5h-6.5zM165,105h6.5v3.5h-6.5zM174,105h6.5v3.5h-6.5zM42,108h3.5v3.5h-3.5zM51,108h3.5v3.5h-3.5zM60,108h6.5v3.5h-6.5zM72,108h3.5v3.5h-3.5zM144,108h6.5v3.5h-6.5zM153,108h3.5v3.5h-3.5zM159,108h3.5v3.5h-3.5zM168,108h3.5v3.5h-3.5zM174,108h6.5v3.5h-6.5zM63,111h3.5v3.5h-3.5zM147,111h9.5v3.5h-9.5zM168,111h3.5v3.5h-3.5zM54,114h6.5v3.5h-6.5zM159,114h3.5v3.5h-3.5zM168,114h6.5v3.5h-6.5zM51,117h3.5v3.5h-3.5zM57,117h3.5v3.5h-3.5zM66,117h3.5v3.5h-3.5zM153,117h3.5v3.5h-3.5zM159,117h6.5v3.5h-6.5zM171,117h3.5v3.5h-3.5zM159,120h3.5v3.5h-3.5zM165,120h3.5v3.5h-3.5zM177,120h3.5v3.5h-3.5zM90,123h6.5v3.5h-6.5zM120,123h6.5v3.5h-6.5zM159,123h3.5v3.5h-3.5zM177,123h3.5v3.5h-3.5zM72,126h9.5v3.5h-9.5zM162,126h3.5v3.5h-3.5zM84,129h3.5v3.5h-3.5zM120,129h3.5v3.5h-3.5zM165,129h3.5v3.5h-3.5zM177,129h3.5v3.5h-3.5zM81,132h3.5v3.5h-3.5zM117,132h3.5v3.5h-3.5zM171,132h6.5v3.5h-6.5zM57,135h3.5v3.5h-3.5zM72,135h3.5v3.5h-3.5zM168,135h3.5v3.5h-3.5zM174,135h6.5v3.5h-6.5zM72,138h12.5v3.5h-12.5zM24,141h3.5v3.5h-3.5zM72,141h9.5v3.5h-9.5zM174,141h6.5v3.5h-6.5zM72,144h3.5v3.5h-3.5zM81,147h6.5v3.5h-6.5z"/><path fill="#f8f8ff" d="M72,0h3.5v3.5h-3.5zM75,3h3.5v3.5h-3.5zM81,3h3.5v3.5h-3.5zM81,6h3.5v3.5h-3.5zM66,9h3.5v3.5h-3.5zM81,12h3.5v3.5h-3.5zM81,15h3.5v3.5h-3.5zM75,24h3.5v3.5h-3.5zM12,27h3.5v3.5h-3.5zM6,30h3.5v3.5h-3.5zM3,33h3.5v3.5h-3.5zM18,33h3.5v3.5h-3.5zM75,36h3.5v3.5h-3.5zM6,39h6.5v3.5h-6.5zM45,39h3.5v3.5h-3.5zM51,39h3.5v3.5h-3.5zM75,39h3.5v3.5h-3.5zM6,42h3.5v3.5h-3.5zM12,42h3.5v3.5h-3.5zM45,42h3.5v3.5h-3.5zM75,42h3.5v3.5h-3.5zM6,45h6.5v3.5h-6.5zM0,48h6.5v3.5h-6.5zM72,48h3.5v3.5h-3.5zM51,51h3.5v3.5h-3.5zM27,60h3.5v3.5h-3.5zM0,63h3.5v3.5h-3.5zM27,63h3.5v3.5h-3.5zM36,63h3.5v3.5h-3.5zM96,66h3.5v3.5h-3.5zM69,69h3.5v3.5h-3.5zM96,69h3.5v3.5h-3.5zM69,75h3.5v3.5h-3.5zM69,78h3.5v3.5h-3.5zM69,81h3.5v3.5h-3.5zM33,84h3.5v3.5h-3.5zM78,84h3.5v3.5h-3.5zM69,93h3.5v3.5h-3.5zM48,96h3.5v3.5h-3.5zM63,96h3.5v3.5h-3.5zM135,96h3.5v3.5h-3.5zM42,99h3.5v3.5h-3.5zM156,99h3.5v3.5h-3.5zM168,99h3.5v3.5h-3.5zM63,102h3.5v3.5h-3.5zM72,102h3.5v3.5h-3.5zM48,108h3.5v3.5h-3.5zM66,108h3.5v3.5h-3.5zM156,108h3.5v3.5h-3.5zM165,108h3.5v3.5h-3.5zM174,111h3.5v3.5h-3.5zM48,117h3.5v3.5h-3.5zM54,117h3.5v3.5h-3.5zM168,117h3.5v3.5h-3.5zM177,117h3.5v3.5h-3.5zM168,123h3.5v3.5h-3.5zM174,123h3.5v3.5h-3.5zM174,126h3.5v3.5h-3.5zM78,129h6.5v3.5h-6.5zM72,132h3.5v3.5h-3.5zM177,132h3.5v3.5h-3.5zM60,135h3.5v3.5h-3.5zM75,135h3.5v3.5h-3.5zM171,135h3.5v3.5h-3.5zM81,141h3.5v3.5h-3.5zM72,147h3.5v3.5h-3.5z"/><path fill="#fff8f8" d="M69,3h3.5v3.5h-3.5zM78,3h3.5v3.5h-3.5zM78,6h3.5v3.5h-3.5zM81,9h3.5v3.5h-3.5zM57,24h3.5v3.5h-3.5zM3,30h3.5v3.5h-3.5zM15,42h3.5v3.5h-3.5zM48,42h3.5v3.5h-3.5zM45,45h3.5v3.5h-3.5zM51,45h3.5v3.5h-3.5zM75,45h3.5v3.5h-3.5zM48,48h3.5v3.5h-3.5zM48,51h3.5v3.5h-3.5zM78,51h3.5v3.5h-3.5zM81,54h3.5v3.5h-3.5zM63,57h3.5v3.5h-3.5zM18,63h3.5v3.5h-3.5zM33,66h3.5v3.5h-3.5zM72,66h6.5v3.5h-6.5zM99,66h3.5v3.5h-3.5zM72,69h3.5v3.5h-3.5zM30,72h3.5v3.5h-3.5zM30,75h3.5v3.5h-3.5zM69,90h3.5v3.5h-3.5zM78,93h3.5v3.5h-3.5zM60,102h3.5v3.5h-3.5zM42,105h3.5v3.5h-3.5zM60,111h3.5v3.5h-3.5zM60,114h3.5v3.5h-3.5zM165,117h3.5v3.5h-3.5zM60,123h3.5v3.5h-3.5zM69,135h3.5v3.5h-3.5zM54,138h3.5v3.5h-3.5zM48,144h3.5v3.5h-3.5zM48,147h3.5v3.5h-3.5z"/><path fill="#ffecec" d="M78,0h3.5v3.5h-3.5zM78,9h3.5v3.5h-3.5zM81,18h3.5v3.5h-3.5zM54,24h3.5v3.5h-3.5zM54,33h6.5v3.5h-6.5zM78,36h6.5v3.5h-6.5zM57,39h3.5v3.5h-3.5zM78,39h3.5v3.5h-3.5zM54,48h3.5v3.5h-3.5zM81,48h3.5v3.5h-3.5zM57,51h3.5v3.5h-3.5zM75,51h3.5v3.5h-3.5zM36,57h6.5v3.5h-6.5zM30,66h3.5v3.5h-3.5zM33,69h3.5v3.5h-3.5zM75,69h3.5v3.5h-3.5zM36,78h3.5v3.5h-3.5zM36,81h3.5v3.5h-3.5zM66,84h6.5v3.5h-6.5zM75,84h3.5v3.5h-3.5zM66,87h6.5v3.5h-6.5zM75,90h3.5v3.5h-3.5zM36,99h3.5v3.5h-3.5zM42,102h3.5v3.5h-3.5zM60,105h6.5v3.5h-6.5zM69,105h3.5v3.5h-3.5zM63,114h3.5v3.5h-3.5zM60,120h3.5v3.5h-3.5zM66,120h6.5v3.5h-6.5zM69,123h3.5v3.5h-3.5zM69,126h3.5v3.5h-3.5zM69,129h3.5v3.5h-3.5zM60,132h3.5v3.5h-3.5zM69,132h3.5v3.5h-3.5zM66,135h3.5v3.5h-3.5zM63,138h3.5v3.5h-3.5zM69,138h3.5v3.5h-3.5zM57,141h3.5v3.5h-3.5zM66,141h6.5v3.5h-6.5zM54,144h6.5v3.5h-6.5zM66,144h6.5v3.5h-6.5zM54,147h3.5v3.5h-3.5zM63,147h3.5v3.5h-3.5z"/><path fill="#ffdede" d="M78,15h3.5v3.5h-3.5zM81,21h3.5v3.5h-3.5zM54,27h6.5v3.5h-6.5zM81,30h3.5v3.5h-3.5zM78,33h6.5v3.5h-6.5zM57,36h3.5v3.5h-3.5zM81,39h3.5v3.5h-3.5zM51,42h3.5v3.5h-3.5zM48,45h3.5v3.5h-3.5zM81,45h3.5v3.5h-3.5zM51,48h3.5v3.5h-3.5zM57,48h3.5v3.5h-3.5zM63,48h3.5v3.5h-3.5zM54,51h3.5v3.5h-3.5zM63,51h3.5v3.5h-3.5zM72,51h3.5v3.5h-3.5zM36,54h6.5v3.5h-6.5zM63,54h3.5v3.5h-3.5zM60,57h3.5v3.5h-3.5zM78,57h3.5v3.5h-3.5zM102,66h6.5v3.5h-6.5zM99,69h3.5v3.5h-3.5zM105,69h3.5v3.5h-3.5zM18,75h3.5v3.5h-3.5zM39,78h3.5v3.5h-3.5zM39,81h3.5v3.5h-3.5zM66,96h3.5v3.5h-3.5zM75,99h3.5v3.5h-3.5zM45,102h3.5v3.5h-3.5zM60,117h3.5v3.5h-3.5zM63,120h3.5v3.5h-3.5zM63,123h3.5v3.5h-3.5zM60,126h3.5v3.5h-3.5zM63,129h3.5v3.5h-3.5zM66,132h3.5v3.5h-3.5zM63,135h3.5v3.5h-3.5zM57,138h6.5v3.5h-6.5zM66,138h3.5v3.5h-3.5zM54,141h3.5v3.5h-3.5zM60,141h3.5v3.5h-3.5zM51,144h3.5v3.5h-3.5zM60,144h3.5v3.5h-3.5zM57,147h6.5v3.5h-6.5zM69,147h3.5v3.5h-3.5z"/><path fill="#ffd2d2" d="M81,24h3.5v3.5h-3.5zM78,30h3.5v3.5h-3.5zM54,36h3.5v3.5h-3.5zM54,39h3.5v3.5h-3.5zM81,42h3.5v3.5h-3.5zM75,48h6.5v3.5h-6.5zM78,54h3.5v3.5h-3.5zM12,69h3.5v3.5h-3.5zM102,69h3.5v3.5h-3.5zM27,75h3.5v3.5h-3.5zM45,84h3.5v3.5h-3.5zM72,87h3.5v3.5h-3.5zM75,93h3.5v3.5h-3.5zM69,99h6.5v3.5h-6.5zM81,99h3.5v3.5h-3.5zM66,102h3.5v3.5h-3.5zM45,105h3.5v3.5h-3.5zM51,105h3.5v3.5h-3.5zM66,105h3.5v3.5h-3.5zM63,117h3.5v3.5h-3.5zM66,123h3.5v3.5h-3.5zM63,126h6.5v3.5h-6.5zM60,129h3.5v3.5h-3.5zM63,132h3.5v3.5h-3.5zM63,141h3.5v3.5h-3.5zM63,144h3.5v3.5h-3.5zM51,147h3.5v3.5h-3.5zM66,147h3.5v3.5h-3.5z"/><path fill="#ffc4c4" d="M78,12h3.5v3.5h-3.5zM78,18h3.5v3.5h-3.5zM78,21h3.5v3.5h-3.5zM78,27h6.5v3.5h-6.5zM57,30h3.5v3.5h-3.5zM60,48h3.5v3.5h-3.5zM60,51h3.5v3.5h-3.5zM60,54h3.5v3.5h-3.5zM12,66h3.5v3.5h-3.5zM18,66h3.5v3.5h-3.5zM27,66h3.5v3.5h-3.5zM21,69h3.5v3.5h-3.5zM30,69h3.5v3.5h-3.5zM27,72h3.5v3.5h-3.5zM72,84h3.5v3.5h-3.5zM75,87h3.5v3.5h-3.5zM45,90h3.5v3.5h-3.5zM72,90h3.5v3.5h-3.5zM72,93h3.5v3.5h-3.5zM69,96h9.5v3.5h-9.5zM81,96h3.5v3.5h-3.5zM39,99h3.5v3.5h-3.5zM48,102h6.5v3.5h-6.5zM66,129h3.5v3.5h-3.5z"/><path fill="#ffb6b6" d="M60,33h3.5v3.5h-3.5zM78,42h3.5v3.5h-3.5zM78,45h3.5v3.5h-3.5zM15,66h3.5v3.5h-3.5zM21,66h6.5v3.5h-6.5zM15,69h3.5v3.5h-3.5zM21,72h3.5v3.5h-3.5zM21,75h3.5v3.5h-3.5zM42,84h3.5v3.5h-3.5zM45,93h3.5v3.5h-3.5zM36,96h3.5v3.5h-3.5zM66,99h3.5v3.5h-3.5zM78,99h3.5v3.5h-3.5zM69,102h3.5v3.5h-3.5z"/><path fill="#ffaaaa" d="M78,24h3.5v3.5h-3.5zM60,30h6.5v3.5h-6.5zM18,69h3.5v3.5h-3.5zM24,69h6.5v3.5h-6.5zM18,72h3.5v3.5h-3.5zM24,75h3.5v3.5h-3.5zM36,84h3.5v3.5h-3.5zM45,87h3.5v3.5h-3.5zM36,90h3.5v3.5h-3.5zM42,90h3.5v3.5h-3.5zM36,93h3.5v3.5h-3.5zM42,93h3.5v3.5h-3.5zM39,96h3.5v3.5h-3.5zM78,96h3.5v3.5h-3.5zM48,105h3.5v3.5h-3.5z"/><path fill="#ff9c9c" d="M63,33h3.5v3.5h-3.5zM24,72h3.5v3.5h-3.5zM36,87h3.5v3.5h-3.5zM42,87h3.5v3.5h-3.5zM39,90h3.5v3.5h-3.5z"/><path fill="#ff9090" d="M39,84h3.5v3.5h-3.5zM39,93h3.5v3.5h-3.5z"/><path fill="#ff8282" d="M39,87h3.5v3.5h-3.5z"/></g><use href="#lines"/><use href="#grid"/></g><rect width="180.0" height="150.0" fill="none" stroke="#222" stroke-width="0.85"/></g><rect x="262.45" y="648.0" width="180.0" height="7.4" fill="url(#gbwr)" stroke="#222" stroke-width="0.8"/><line x1="262.45" x2="262.45" y1="655.4" y2="658.0" stroke="#222" stroke-width="0.8"/><rect x="252.58" y="664.91" width="6.50" height="0.95" fill="#000"/><text x="260.19" y="668.60" font-size="11.02" text-anchor="start" textLength="13.23" lengthAdjust="spacing" fill="#000">10</text><line x1="307.45" x2="307.45" y1="655.4" y2="658.0" stroke="#222" stroke-width="0.8"/><rect x="300.89" y="664.91" width="6.50" height="0.95" fill="#000"/><text x="308.50" y="668.60" font-size="11.02" text-anchor="start" textLength="6.62" lengthAdjust="spacing" fill="#000">5</text><line x1="352.45" x2="352.45" y1="655.4" y2="658.0" stroke="#222" stroke-width="0.8"/><text x="352.45" y="668.60" font-size="11.02" text-anchor="middle" textLength="6.62" lengthAdjust="spacing" fill="#000">0</text><line x1="397.45" x2="397.45" y1="655.4" y2="658.0" stroke="#222" stroke-width="0.8"/><text x="397.45" y="668.60" font-size="11.02" text-anchor="middle" textLength="6.62" lengthAdjust="spacing" fill="#000">5</text><line x1="442.45" x2="442.45" y1="655.4" y2="658.0" stroke="#222" stroke-width="0.8"/><text x="442.45" y="668.60" font-size="11.02" text-anchor="middle" textLength="13.23" lengthAdjust="spacing" fill="#000">10</text><text x="352.45" y="681.40" font-size="10.60" text-anchor="middle" textLength="93.00" lengthAdjust="spacing" fill="#000">Temperature ( °C)</text><rect x="502.6" y="478.45" width="180.39999999999998" height="180.85" fill="#fff"/><g clip-path="url(#sc2)"><path d="M620.5,531.3h0M633.2,531.3h0M618.0,531.3h0M644.7,531.3h0M669.0,531.3h0M646.6,531.3h0M658.0,531.3h0M605.0,531.3h0M650.3,531.3h0M627.1,531.3h0M638.8,534.9h0M653.5,534.9h0M654.5,534.9h0M632.4,534.9h0M629.1,534.9h0M637.5,534.9h0M626.7,534.9h0M626.9,534.9h0M633.8,534.9h0M624.0,534.9h0M558.6,587.4h0M540.9,587.4h0M567.5,587.4h0M565.2,587.4h0M574.9,587.4h0M558.9,587.4h0M572.7,587.4h0M610.7,587.4h0M579.6,587.4h0M558.0,587.4h0M591.6,587.4h0M567.8,587.4h0M583.7,587.4h0M584.1,587.4h0M562.0,587.4h0M528.1,587.4h0M563.0,587.4h0M582.8,587.4h0M562.3,587.4h0M580.3,587.4h0M592.2,587.4h0M673.4,522.6h0M675.3,522.6h0M673.8,522.6h0M653.8,522.6h0M649.7,522.6h0M662.9,522.6h0M629.7,522.6h0M615.5,522.6h0M630.2,522.6h0M657.9,522.6h0M660.1,522.6h0M615.8,522.6h0M608.2,522.6h0M642.7,522.6h0M645.5,522.6h0M648.6,522.6h0M664.4,522.6h0M614.6,537.1h0M645.7,537.1h0M655.2,537.1h0M656.5,537.1h0M653.6,537.1h0M657.8,537.1h0M658.4,537.1h0M601.9,537.1h0M624.4,537.1h0M650.5,537.1h0M653.7,537.1h0M607.2,537.1h0M666.4,537.1h0M630.9,537.1h0M635.4,537.1h0M646.5,537.1h0M657.0,537.1h0M609.0,537.1h0M662.3,537.1h0M642.2,537.1h0M623.5,537.1h0M634.5,537.1h0M592.4,537.1h0M613.1,562.2h0M617.1,562.2h0M621.4,562.2h0M642.8,562.2h0M619.8,562.2h0M614.6,562.2h0M632.2,562.2h0M666.1,562.2h0M612.8,562.2h0M600.5,583.0h0M569.9,583.0h0M548.2,583.0h0M590.7,583.0h0M587.8,583.0h0M552.1,583.0h0M538.7,583.0h0M581.0,583.0h0M563.8,572.4h0M580.9,572.4h0M636.7,572.4h0M597.6,572.4h0M587.1,572.4h0M572.5,572.4h0M613.3,572.4h0M615.0,572.4h0M606.1,572.4h0M591.9,572.4h0M607.2,572.4h0M608.9,572.4h0M585.5,572.4h0M614.2,572.4h0M553.9,572.4h0M572.1,572.4h0M593.8,572.4h0M598.1,572.4h0M574.8,572.4h0M663.0,535.2h0M653.7,535.2h0M619.6,535.2h0M640.3,535.2h0M673.2,535.2h0M619.7,535.2h0M646.1,535.2h0M636.2,535.2h0M625.0,535.2h0M622.5,535.2h0M647.0,535.2h0M651.7,535.2h0M651.6,535.2h0M612.9,535.2h0M638.4,535.2h0M652.4,535.2h0M658.2,540.3h0M652.2,540.3h0M616.1,540.3h0M635.3,540.3h0M618.3,540.3h0M581.6,540.3h0M597.0,540.3h0M680.0,540.3h0M609.4,540.3h0M584.7,540.3h0M621.2,540.3h0M667.5,540.3h0M633.1,540.3h0M643.0,540.3h0M628.1,540.3h0M632.2,540.3h0M661.9,540.3h0M651.6,540.3h0M632.1,540.3h0M653.7,540.3h0M657.7,540.3h0M629.2,540.3h0M671.7,535.5h0M642.7,535.5h0M632.7,535.5h0M609.5,535.5h0M618.5,535.5h0M680.0,535.5h0M621.3,535.5h0M655.8,535.5h0M638.3,535.5h0M657.6,535.5h0M659.6,535.5h0M629.3,535.5h0M640.0,535.5h0M648.6,535.5h0M648.9,535.5h0M645.8,535.5h0M644.7,537.4h0M616.5,537.4h0M641.6,537.4h0M634.2,537.4h0M643.0,537.4h0M673.5,537.4h0M628.1,537.4h0M632.6,537.4h0M613.3,537.4h0M626.5,537.4h0M620.3,537.4h0M668.1,537.4h0M639.5,537.4h0M659.9,554.2h0M650.1,554.2h0M631.8,554.2h0M634.7,554.2h0M629.9,554.2h0M654.8,554.2h0M586.2,554.2h0M626.2,554.2h0M640.9,554.2h0M624.7,554.2h0M597.5,554.2h0M632.2,554.2h0M620.9,554.2h0M655.1,554.2h0M668.3,554.2h0M639.0,554.2h0M594.9,554.2h0M633.2,554.2h0M641.3,533.5h0M679.1,533.5h0M667.7,533.5h0M649.6,533.5h0M615.4,533.5h0M638.9,533.5h0M604.8,533.5h0M659.7,533.5h0M639.6,533.5h0M650.7,565.6h0M666.8,565.6h0M608.8,565.6h0M609.9,565.6h0M631.7,565.6h0M607.0,565.6h0M599.9,565.6h0M606.0,565.6h0M616.0,565.6h0M607.4,565.6h0M619.7,565.6h0M629.5,565.6h0M657.8,565.6h0M650.1,565.6h0M646.6,565.6h0M630.2,565.6h0M632.7,565.6h0M615.2,565.6h0M596.1,565.6h0M674.1,565.6h0M603.7,570.9h0M602.3,570.9h0M575.3,570.9h0M603.9,570.9h0M614.0,570.9h0M623.9,570.9h0M616.5,570.9h0M628.0,570.9h0M612.0,570.9h0M605.4,570.9h0M562.2,570.9h0M593.7,570.9h0M639.7,570.9h0M608.1,570.9h0M623.0,570.9h0M600.8,570.9h0M590.6,570.9h0M650.5,570.9h0M613.3,570.9h0M638.3,570.9h0M608.6,557.8h0M594.1,557.8h0M670.4,557.8h0M659.0,557.8h0M657.2,557.8h0M644.1,557.8h0M642.2,557.8h0M652.3,557.8h0M567.0,551.2h0M640.8,551.2h0M607.2,551.2h0M640.0,551.2h0M647.0,551.2h0M602.4,551.2h0M638.4,551.2h0M638.1,551.2h0M605.0,551.2h0M608.7,551.2h0M622.7,551.2h0M571.0,551.2h0M610.1,551.2h0M624.0,551.2h0M609.9,551.2h0M584.5,551.2h0M611.1,551.2h0M653.1,551.2h0M648.9,551.2h0M617.0,551.2h0M601.9,551.2h0M619.3,551.2h0M594.9,591.0h0M601.8,591.0h0M527.4,591.0h0M602.7,591.0h0M584.2,591.0h0M606.5,591.0h0M580.7,591.0h0M590.9,591.0h0M617.3,591.0h0M515.7,591.0h0M616.2,591.0h0M585.3,591.0h0M541.0,591.0h0M522.4,591.0h0M588.0,591.0h0M558.5,591.0h0M603.3,591.0h0M585.9,591.0h0M578.2,591.0h0M603.0,591.0h0M643.2,538.7h0M653.5,538.7h0M653.5,538.7h0M606.0,538.7h0M630.1,538.7h0M633.5,538.7h0M627.8,538.7h0M601.1,538.7h0M623.6,538.7h0M643.6,538.7h0M640.3,538.7h0M669.7,538.7h0M544.1,607.9h0M516.2,607.9h0M565.0,607.9h0M579.2,607.9h0M582.1,607.9h0M533.4,607.9h0M553.1,607.9h0M598.1,607.9h0M555.0,607.9h0M565.1,607.9h0M554.0,607.9h0M579.5,607.9h0M578.7,607.9h0M608.6,607.9h0M568.4,607.9h0M567.3,607.9h0M530.7,607.9h0M548.3,607.9h0M541.9,607.9h0M550.1,607.9h0M655.3,543.4h0M621.5,543.4h0M656.9,543.4h0M631.2,543.4h0M657.3,543.4h0M647.8,543.4h0M655.5,543.4h0M658.5,543.4h0M635.3,543.4h0M645.3,543.4h0M636.3,543.4h0M631.1,543.4h0M622.2,543.4h0M670.5,543.4h0M633.0,543.4h0M608.4,559.2h0M641.2,559.2h0M659.4,559.2h0M611.6,559.2h0M606.9,559.2h0M606.6,559.2h0M677.9,559.2h0M619.1,559.2h0M599.5,559.2h0M645.3,559.2h0M623.4,559.2h0M626.5,559.2h0M594.7,564.2h0M582.1,564.2h0M593.8,564.2h0M596.8,564.2h0M635.4,564.2h0M633.3,564.2h0M629.1,564.2h0M605.9,564.2h0M590.0,564.2h0M624.2,564.2h0M627.8,564.2h0M639.8,564.2h0M617.1,564.2h0M649.9,557.2h0M637.9,557.2h0M642.2,557.2h0M608.3,557.2h0M630.0,557.2h0M626.8,557.2h0M646.1,557.2h0M642.1,557.2h0M633.5,557.2h0M674.8,557.2h0M645.0,557.2h0M626.7,557.2h0M619.6,557.2h0M632.3,557.2h0M620.6,557.2h0M669.2,557.2h0M645.8,557.2h0M626.4,557.2h0M618.9,557.2h0M609.7,557.2h0M627.3,557.2h0M643.0,542.9h0M598.9,542.9h0M656.7,542.9h0M635.1,542.9h0M670.3,542.9h0M636.1,542.9h0M629.4,542.9h0M644.8,542.9h0M626.1,542.9h0M669.7,542.9h0M646.5,542.9h0M648.3,542.9h0M647.6,542.9h0M632.5,542.9h0M650.9,542.9h0M644.2,542.9h0M679.1,542.9h0M641.8,542.9h0M633.9,571.4h0M607.3,571.4h0M627.0,571.4h0M599.9,571.4h0M597.7,571.4h0M563.4,571.4h0M624.1,571.4h0M651.3,571.4h0M600.9,571.4h0M637.6,571.4h0M624.7,571.4h0M591.0,571.4h0M622.9,571.4h0M586.3,571.4h0M599.5,571.4h0M633.0,571.4h0M609.6,571.4h0M580.3,571.4h0M641.0,537.9h0M645.1,537.9h0M629.9,537.9h0M612.6,537.9h0M627.8,537.9h0M629.1,537.9h0M594.9,537.9h0M650.5,537.9h0M677.0,537.9h0M679.4,537.9h0M657.6,537.9h0M589.1,565.5h0M612.4,565.5h0M653.6,565.5h0M608.6,565.5h0M618.9,565.5h0M557.3,565.5h0M639.8,565.5h0M618.3,565.5h0M641.1,565.5h0M615.3,565.5h0M591.2,565.5h0M579.9,565.5h0M620.8,565.5h0M609.1,565.5h0M588.1,565.5h0M607.9,565.5h0M595.3,565.5h0M624.9,565.5h0M599.9,565.5h0M581.9,565.5h0M606.7,565.5h0M628.3,532.9h0M655.9,532.9h0M651.4,532.9h0M662.8,532.9h0M661.5,532.9h0M634.0,532.9h0M655.4,532.9h0M654.2,532.9h0M630.0,532.9h0M643.7,532.9h0M660.6,532.9h0M621.1,532.9h0M632.1,532.9h0M645.6,532.9h0M653.7,532.9h0M666.9,532.9h0M610.4,551.8h0M599.5,551.8h0M585.9,551.8h0M631.8,551.8h0M648.0,551.8h0M604.5,551.8h0M629.5,551.8h0M638.8,551.8h0M641.0,551.8h0M611.4,551.8h0M634.6,551.8h0M619.6,551.8h0M625.1,534.8h0M656.2,534.8h0M613.6,534.8h0M662.1,534.8h0M666.8,534.8h0M647.9,534.8h0M653.9,534.8h0M640.9,534.8h0M676.5,534.8h0M625.9,534.8h0M643.5,534.8h0M603.7,534.8h0M653.4,534.8h0M654.4,534.8h0M609.3,534.8h0M626.8,534.8h0M656.4,534.8h0M635.0,534.8h0M598.2,568.0h0M602.1,568.0h0M602.5,568.0h0M580.8,568.0h0M655.0,568.0h0M659.9,568.0h0M606.8,568.0h0M639.4,568.0h0M581.9,568.0h0M595.0,568.0h0M625.0,568.0h0M574.7,568.0h0M571.4,568.0h0M607.6,568.0h0M556.5,568.0h0M638.1,568.0h0M616.7,568.0h0M611.9,554.4h0M651.1,554.4h0M653.4,554.4h0M636.0,554.4h0M631.8,554.4h0M621.1,554.4h0M663.6,554.4h0M600.3,554.4h0M614.1,554.4h0M621.1,554.4h0M599.4,554.4h0M603.8,554.4h0M610.4,554.4h0M655.4,554.4h0M672.8,554.4h0M640.8,554.4h0M597.4,554.4h0M619.7,554.4h0M630.1,554.4h0M627.2,554.4h0M648.9,554.0h0M659.9,554.0h0M650.5,554.0h0M644.7,554.0h0M641.3,554.0h0M629.7,554.0h0M646.4,554.0h0M640.0,554.0h0M629.0,554.0h0M671.1,554.0h0M670.8,554.0h0M636.5,554.0h0M658.3,554.0h0M671.2,554.0h0M650.7,554.0h0M599.6,561.8h0M642.6,561.8h0M637.2,561.8h0M661.2,561.8h0M620.2,561.8h0M655.3,561.8h0M654.5,561.8h0M674.6,561.8h0M613.6,561.8h0M623.4,561.8h0M637.3,561.8h0M637.1,561.8h0M600.4,580.8h0M601.7,580.8h0M588.4,580.8h0M602.5,580.8h0M619.3,580.8h0M594.6,580.8h0M601.3,580.8h0M649.7,580.8h0M622.2,580.8h0M607.1,580.8h0M592.6,580.8h0M601.4,580.8h0M585.6,580.8h0M607.8,580.8h0M587.1,580.8h0M585.8,580.8h0M592.7,580.8h0M578.0,580.8h0M605.8,580.8h0M656.8,580.8h0M587.6,580.8h0M649.1,568.5h0M613.9,568.5h0M625.9,568.5h0M588.3,568.5h0M570.2,568.5h0M601.1,568.5h0M619.7,568.5h0M586.0,568.5h0M569.9,568.5h0M654.2,572.7h0M602.2,572.7h0M590.6,572.7h0M577.6,572.7h0M619.0,572.7h0M566.6,572.7h0M633.1,572.7h0M601.2,572.7h0M568.3,572.7h0M605.3,572.7h0M598.7,572.7h0M628.1,572.7h0M568.3,572.7h0M605.6,572.7h0M600.8,572.7h0M621.3,572.7h0M602.1,563.7h0M557.5,563.7h0M597.0,563.7h0M572.6,563.7h0M574.8,563.7h0M563.1,563.7h0M611.5,563.7h0M578.1,563.7h0M630.3,572.7h0M579.1,572.7h0M618.9,572.7h0M611.2,572.7h0M627.7,572.7h0M628.6,572.7h0M631.7,572.7h0M614.9,572.7h0M619.2,572.7h0M598.1,572.7h0M601.7,572.7h0M633.4,572.7h0M600.6,572.7h0M636.2,572.7h0M635.7,572.7h0M594.1,575.9h0M567.6,575.9h0M635.5,575.9h0M611.6,575.9h0M555.4,575.9h0M598.2,575.9h0M581.2,575.9h0M635.7,575.9h0M589.4,575.9h0M599.4,575.9h0M586.8,575.9h0M604.7,575.9h0M579.0,575.9h0M571.1,575.9h0M579.9,575.9h0M581.5,575.9h0M604.6,575.9h0M592.8,575.9h0M581.1,575.9h0M582.0,575.9h0M570.8,575.9h0M548.7,605.4h0M542.2,605.4h0M557.6,605.4h0M536.2,605.4h0M540.0,605.4h0M571.7,605.4h0M542.7,605.4h0M599.7,605.4h0M568.5,605.4h0M554.4,605.4h0M543.1,605.4h0M551.1,605.4h0M562.1,605.4h0M576.2,605.4h0M569.3,605.4h0M547.2,605.4h0M570.3,605.4h0M570.8,605.4h0M553.9,605.4h0M564.4,605.4h0M579.6,605.4h0M556.4,606.3h0M517.8,606.3h0M555.9,606.3h0M550.3,606.3h0M515.5,606.3h0M592.7,606.3h0M555.4,606.3h0M582.7,606.3h0M544.9,606.3h0M586.9,606.3h0M565.7,606.3h0M538.1,606.3h0M559.3,606.3h0M587.7,606.3h0M581.9,599.8h0M590.9,599.8h0M570.0,599.8h0M564.6,599.8h0M585.0,599.8h0M577.7,599.8h0M575.7,599.8h0M533.5,599.8h0M670.3,526.1h0M655.6,526.1h0M668.1,526.1h0M675.1,526.1h0M646.0,526.1h0M667.3,526.1h0M652.7,526.1h0M651.9,526.1h0M664.5,526.1h0M628.8,526.1h0M631.8,526.1h0M659.9,526.1h0M576.1,564.8h0M603.0,564.8h0M621.7,564.8h0M592.2,564.8h0M578.4,564.8h0M591.8,564.8h0M642.8,564.8h0M607.5,564.8h0M641.4,564.8h0M600.3,564.8h0M633.3,564.8h0M575.3,564.8h0M601.5,564.8h0M609.0,564.8h0M645.8,564.8h0M617.4,564.8h0M631.7,564.8h0M606.7,580.5h0M602.3,580.5h0M601.8,580.5h0M563.8,580.5h0M622.8,580.5h0M579.1,580.5h0M603.4,580.5h0M591.9,580.5h0M536.8,580.5h0M532.6,580.5h0M540.1,580.5h0M574.3,580.5h0M594.9,559.1h0M588.8,559.1h0M609.3,559.1h0M583.3,559.1h0M606.4,559.1h0M621.7,559.1h0M598.5,559.1h0M588.9,559.1h0M598.6,559.1h0M581.7,559.1h0M585.8,559.1h0M626.3,559.1h0M616.1,559.1h0M576.9,559.1h0M602.4,559.1h0M618.6,559.1h0M626.3,559.1h0M622.7,559.1h0M630.2,559.1h0M639.3,562.6h0M634.0,562.6h0M654.4,562.6h0M639.8,562.6h0M597.2,562.6h0M582.6,562.6h0M584.4,562.6h0M595.4,562.6h0M628.7,562.6h0M584.2,562.6h0M570.3,562.6h0M611.0,562.6h0M632.8,562.6h0M632.1,562.6h0M651.7,562.6h0M584.2,574.7h0M627.4,574.7h0M645.3,574.7h0M627.0,574.7h0M605.5,574.7h0M593.6,574.7h0M604.3,574.7h0M557.2,574.7h0M611.6,574.7h0M616.1,574.7h0M595.8,574.7h0M599.2,574.7h0M561.3,574.7h0M616.1,574.7h0M616.1,574.7h0M537.6,574.7h0M585.8,574.7h0M649.5,540.8h0M660.9,540.8h0M645.6,540.8h0M640.6,540.8h0M651.2,540.8h0M632.9,540.8h0M673.0,540.8h0M631.4,540.8h0M663.2,540.8h0M671.5,540.8h0M677.7,540.8h0M653.9,540.8h0M652.0,540.8h0M659.3,540.8h0M654.1,540.8h0M676.6,540.8h0M650.2,540.8h0M617.3,568.8h0M609.9,568.8h0M595.9,568.8h0M577.6,568.8h0M601.2,568.8h0M645.0,568.8h0M636.1,568.8h0M609.0,568.8h0M586.9,568.8h0M599.9,568.8h0M582.7,568.8h0M570.4,568.8h0M579.2,568.8h0M613.7,568.8h0M606.9,568.8h0M604.1,568.8h0M575.7,568.8h0M568.8,568.8h0M622.4,568.8h0M592.0,568.8h0M626.2,568.8h0M583.5,568.8h0M614.3,557.9h0M666.2,557.9h0M644.3,557.9h0M617.9,557.9h0M627.5,557.9h0M589.4,557.9h0M661.8,557.9h0M654.7,557.9h0M614.8,557.9h0M633.9,557.9h0M562.6,557.9h0M645.3,557.9h0M634.2,557.9h0M629.5,557.9h0M642.0,557.9h0M630.3,557.9h0M602.0,557.9h0M608.0,557.9h0M619.3,557.9h0M643.2,557.9h0M623.7,557.9h0M632.1,562.4h0M603.6,562.4h0M629.1,562.4h0M649.2,562.4h0M637.4,562.4h0M670.5,562.4h0M593.9,562.4h0M660.6,562.4h0M624.8,562.4h0M644.9,562.4h0M663.4,562.4h0M538.6,593.1h0M530.8,593.1h0M577.3,593.1h0M601.2,593.1h0M564.9,593.1h0M586.6,593.1h0M656.9,593.1h0M582.9,593.1h0M568.8,593.1h0M571.9,593.1h0M585.1,593.1h0M569.3,593.1h0M590.9,593.1h0M580.5,593.1h0M596.0,593.1h0M579.0,593.1h0M573.9,593.1h0M583.2,591.3h0M575.3,591.3h0M568.3,591.3h0M627.0,591.3h0M584.0,591.3h0M603.8,591.3h0M554.3,591.3h0M599.3,591.3h0M602.9,591.3h0M586.9,591.3h0M557.3,591.3h0M604.8,591.3h0M561.0,591.3h0M542.5,591.3h0M541.0,591.3h0M578.4,591.3h0M566.0,591.3h0M594.7,591.3h0M591.8,591.3h0M625.4,552.3h0M607.8,552.3h0M606.8,552.3h0M609.1,552.3h0M630.4,552.3h0M606.4,552.3h0M623.2,552.3h0M649.1,552.3h0M557.4,586.5h0M575.5,586.5h0M641.0,586.5h0M560.0,586.5h0M588.2,586.5h0M594.8,586.5h0M583.5,586.5h0M563.4,586.5h0M612.1,586.5h0M547.6,586.5h0M632.8,571.2h0M599.7,571.2h0M648.8,571.2h0M606.2,571.2h0M640.5,571.2h0M615.6,571.2h0M600.6,571.2h0M599.7,571.2h0M628.6,571.2h0M593.9,571.2h0M605.1,571.2h0M588.2,571.2h0M560.6,571.2h0M617.8,571.2h0M619.9,571.2h0M579.0,571.2h0M616.2,571.2h0M600.3,571.2h0M592.9,577.7h0M646.0,577.7h0M592.1,577.7h0M567.7,577.7h0M551.8,577.7h0M617.6,577.7h0M574.1,577.7h0M576.3,577.7h0M566.5,577.7h0M614.2,566.3h0M609.9,566.3h0M623.3,566.3h0M591.6,566.3h0M579.8,566.3h0M601.4,566.3h0M557.0,566.3h0M621.6,566.3h0M614.1,566.3h0M614.6,566.3h0M578.8,566.3h0M591.9,566.3h0M603.4,566.3h0M580.5,566.3h0M578.7,566.3h0M598.2,566.3h0M606.2,566.3h0M588.2,566.3h0M625.7,566.3h0M652.0,566.3h0M615.8,566.3h0M598.9,566.3h0M595.8,566.3h0M610.7,549.8h0M656.9,549.8h0M618.0,549.8h0M626.7,549.8h0M575.8,549.8h0M671.3,549.8h0M640.0,549.8h0M621.2,549.8h0M605.8,549.8h0M609.7,549.8h0M585.5,549.8h0M633.6,549.8h0M603.9,549.8h0M632.7,549.8h0M633.3,549.8h0M665.8,549.8h0M628.1,549.8h0M629.9,549.8h0M634.5,549.8h0M609.7,549.8h0M573.9,575.9h0M548.6,575.9h0M617.0,575.9h0M583.0,575.9h0M572.5,575.9h0M556.0,575.9h0M573.1,575.9h0M620.2,575.9h0M581.7,575.9h0M632.3,575.9h0M583.8,575.9h0M608.3,575.9h0M584.1,575.9h0M573.3,575.9h0M574.0,575.9h0M577.6,575.9h0M556.7,575.9h0M556.1,575.9h0M591.5,575.9h0M611.1,575.9h0M644.1,564.1h0M595.2,564.1h0M622.5,564.1h0M613.6,564.1h0M587.9,564.1h0M656.6,564.1h0M647.2,564.1h0M628.1,564.1h0M652.3,564.1h0M609.8,564.1h0M627.2,564.1h0M650.9,564.1h0M614.6,564.1h0M576.4,595.0h0M608.8,595.0h0M566.5,595.0h0M559.3,595.0h0M575.3,595.0h0M602.8,595.0h0M543.7,595.0h0M573.7,595.0h0M606.4,595.0h0M576.7,595.0h0M571.1,595.0h0M596.2,595.0h0M550.5,595.0h0M622.6,595.0h0M587.7,595.0h0M592.3,558.2h0M613.8,558.2h0M581.2,558.2h0M649.5,558.2h0M594.2,558.2h0M602.7,558.2h0M601.3,558.2h0M634.8,558.2h0M614.4,558.2h0M650.4,558.2h0M608.7,558.2h0M622.0,558.2h0M617.3,558.2h0M611.2,558.2h0M643.4,558.2h0M645.8,558.2h0M647.7,558.2h0M588.2,558.2h0M626.4,558.2h0M593.9,558.2h0M593.3,558.2h0M578.9,558.2h0M597.9,558.2h0M542.6,586.3h0M548.8,586.3h0M567.7,586.3h0M565.8,586.3h0M567.4,586.3h0M523.9,586.3h0M558.4,586.3h0M575.4,586.3h0M568.4,586.3h0M559.9,586.3h0M635.7,550.3h0M649.1,550.3h0M588.5,550.3h0M627.2,550.3h0M622.6,550.3h0M641.6,550.3h0M607.0,550.3h0M607.5,550.3h0M597.8,550.3h0M616.2,550.3h0M606.0,550.3h0M608.7,550.3h0M619.4,550.3h0M603.7,550.3h0M591.5,550.3h0M602.9,550.3h0M599.8,550.3h0M621.3,550.3h0M639.3,550.3h0M604.3,550.3h0M557.9,550.3h0M624.7,550.3h0M628.0,583.0h0M554.2,583.0h0M561.5,583.0h0M585.7,583.0h0M518.4,583.0h0M576.9,583.0h0M608.5,583.0h0M598.9,583.0h0M595.2,583.0h0M579.6,583.0h0M583.4,583.0h0M647.4,583.0h0M592.2,583.0h0M616.7,583.0h0M559.4,583.0h0M592.4,583.0h0M595.0,583.0h0M590.4,583.0h0M539.2,583.0h0M577.7,583.0h0M545.9,597.2h0M536.9,597.2h0M522.7,597.2h0M554.5,597.2h0M597.5,597.2h0M578.4,597.2h0M568.4,597.2h0M579.7,597.2h0M546.3,597.2h0M571.0,597.2h0M548.5,597.2h0M548.7,597.2h0M557.7,597.2h0M555.4,597.2h0M572.1,597.2h0M545.4,597.2h0M607.9,560.7h0M624.1,560.7h0M615.5,560.7h0M592.0,560.7h0M609.4,560.7h0M576.5,560.7h0M606.3,560.7h0M613.5,560.7h0M599.1,560.7h0M601.5,560.7h0M626.8,560.7h0M631.7,560.7h0M636.4,560.7h0M592.6,560.7h0M595.8,560.7h0M622.6,560.7h0M624.8,560.7h0M565.1,560.7h0M648.7,560.7h0M630.6,560.7h0M596.3,561.3h0M599.9,561.3h0M609.5,561.3h0M620.0,561.3h0M593.6,561.3h0M616.6,561.3h0M602.5,561.3h0M606.5,561.3h0M598.6,561.3h0M604.3,561.3h0M653.4,561.3h0M582.5,561.3h0M589.2,561.3h0M616.6,561.3h0M607.1,561.3h0M594.9,561.3h0M627.0,561.3h0M625.0,554.8h0M606.2,554.8h0M612.6,554.8h0M616.3,554.8h0M625.8,554.8h0M591.5,554.8h0M640.4,554.8h0M629.1,554.8h0M626.4,536.8h0M677.1,536.8h0M644.6,536.8h0M626.1,536.8h0M651.4,536.8h0M638.0,536.8h0M644.9,536.8h0M620.2,536.8h0M647.7,536.8h0M604.0,553.6h0M630.1,553.6h0M610.4,553.6h0M589.5,553.6h0M610.1,553.6h0M614.2,553.6h0M631.7,553.6h0M640.3,553.6h0M614.9,553.6h0M622.2,557.9h0M623.8,557.9h0M614.3,557.9h0M663.3,557.9h0M648.5,557.9h0M623.7,557.9h0M595.8,557.9h0M616.3,557.9h0M640.5,557.9h0M584.4,557.9h0M625.8,557.9h0M631.7,559.9h0M630.1,559.9h0M646.0,559.9h0M608.0,559.9h0M644.1,559.9h0M656.6,559.9h0M636.9,559.9h0M618.4,559.9h0M611.6,559.9h0M591.1,559.9h0M617.7,559.9h0M641.5,559.9h0M663.5,559.9h0M653.2,559.9h0M656.9,559.9h0M620.0,559.9h0M620.9,559.9h0M596.5,559.9h0M615.6,559.9h0M605.4,559.9h0M624.9,559.9h0M671.7,508.2h0M669.5,508.2h0M670.8,508.2h0M663.0,508.2h0M669.8,508.2h0M665.4,515.8h0M646.5,515.8h0M636.0,515.8h0M664.6,515.8h0M655.1,515.8h0M638.9,515.8h0M655.0,515.8h0M665.8,515.8h0M639.3,515.8h0M661.1,515.8h0M653.3,523.5h0M612.8,523.5h0M609.7,523.5h0M674.9,523.5h0M622.9,523.5h0M631.5,523.5h0M649.6,523.5h0M631.4,523.5h0M594.1,523.5h0M616.1,523.5h0M634.1,523.5h0M658.5,523.5h0M645.4,523.5h0M630.5,523.5h0M610.2,523.5h0M660.5,523.5h0M609.9,523.5h0M655.4,523.5h0M636.2,523.5h0M640.8,523.5h0M626.6,523.5h0M611.3,523.5h0M608.4,523.5h0M648.4,523.5h0M617.5,523.5h0M595.3,523.5h0M610.4,523.5h0M672.1,523.5h0M654.3,523.5h0M643.2,523.5h0M629.8,528.5h0M658.0,528.5h0M620.4,528.5h0M645.4,528.5h0M603.4,528.5h0M646.3,528.5h0M668.4,528.5h0M650.5,528.5h0M607.7,528.5h0M642.6,528.5h0M624.0,528.5h0M664.9,528.5h0M603.8,528.5h0M603.3,528.5h0M609.1,528.5h0M625.5,528.5h0M662.3,528.5h0M640.8,528.5h0M647.4,528.5h0M605.5,528.5h0" stroke="#2a78b8" stroke-opacity="0.72" stroke-width="1.6" stroke-linecap="square"/><line x1="502.6" y1="659.3" x2="683.0" y2="478.44999999999993" stroke="#808080" stroke-width="1.15" stroke-dasharray="4.4,1.9"/><line x1="502.60" y1="630.84" x2="683.00" y2="520.52" stroke="#000" stroke-width="1.15"/></g><rect x="502.6" y="478.45" width="180.39999999999998" height="180.85" fill="none" stroke="#222" stroke-width="0.85"/><line x1="534.78" x2="534.78" y1="659.3" y2="661.8" stroke="#222" stroke-width="0.8"/><text x="534.78" y="670.90" font-size="10.91" text-anchor="middle" textLength="13.11" lengthAdjust="spacing" fill="#000">20</text><line x1="577.13" x2="577.13" y1="659.3" y2="661.8" stroke="#222" stroke-width="0.8"/><text x="577.13" y="670.90" font-size="10.91" text-anchor="middle" textLength="13.11" lengthAdjust="spacing" fill="#000">25</text><line x1="619.48" x2="619.48" y1="659.3" y2="661.8" stroke="#222" stroke-width="0.8"/><text x="619.48" y="670.90" font-size="10.91" text-anchor="middle" textLength="13.11" lengthAdjust="spacing" fill="#000">30</text><line x1="661.83" x2="661.83" y1="659.3" y2="661.8" stroke="#222" stroke-width="0.8"/><text x="661.83" y="670.90" font-size="10.91" text-anchor="middle" textLength="13.11" lengthAdjust="spacing" fill="#000">35</text><line x1="500.1" x2="502.6" y1="627.04" y2="627.04" stroke="#222" stroke-width="0.8"/><text x="497.60" y="630.79" font-size="10.91" text-anchor="end" textLength="13.11" lengthAdjust="spacing" fill="#000">20</text><line x1="500.1" x2="502.6" y1="584.58" y2="584.58" stroke="#222" stroke-width="0.8"/><text x="497.60" y="588.33" font-size="10.91" text-anchor="end" textLength="13.11" lengthAdjust="spacing" fill="#000">25</text><line x1="500.1" x2="502.6" y1="542.13" y2="542.13" stroke="#222" stroke-width="0.8"/><text x="497.60" y="545.88" font-size="10.91" text-anchor="end" textLength="13.11" lengthAdjust="spacing" fill="#000">30</text><line x1="500.1" x2="502.6" y1="499.68" y2="499.68" stroke="#222" stroke-width="0.8"/><text x="497.60" y="503.43" font-size="10.91" text-anchor="end" textLength="13.11" lengthAdjust="spacing" fill="#000">35</text><text x="592.80" y="682.90" font-size="10.60" text-anchor="middle" textLength="26.06" lengthAdjust="spacing" fill="#000">ERA5</text><text x="480.70" y="570.08" font-size="10.60" text-anchor="middle" textLength="30.95" lengthAdjust="spacing" fill="#000" transform="rotate(-90 480.70 570.08)">CMIP6</text><text x="510.10" y="510.40" font-size="9.70" text-anchor="start" textLength="78.54" lengthAdjust="spacing" fill="#000">y = 9.67 + 0.61x</text><text x="510.10" y="526.40" font-size="9.70" text-anchor="start" textLength="37.62" lengthAdjust="spacing" fill="#000">r = 0.75</text><text x="20.55" y="478.00" font-size="13.14" text-anchor="start" textLength="17.55" lengthAdjust="spacing" fill="#000">(g)</text><text x="261.55" y="478.00" font-size="13.14" text-anchor="start" textLength="17.53" lengthAdjust="spacing" fill="#000">(h)</text><text x="502.00" y="474.60" font-size="13.14" text-anchor="start" textLength="13.12" lengthAdjust="spacing" fill="#000">(i)</text><text x="11.80" y="556.85" font-size="14.62" text-anchor="middle" textLength="132.20" lengthAdjust="spacing" fill="#000" transform="rotate(-90 11.80 556.85)">Avg. Max temp  °C</text><g transform="translate(21.45,714.45)"><g clip-path="url(#fc)"><rect width="180.0" height="150.0" fill="#fff"/><use href="#sea"/><g clip-path="url(#ec)"><rect x="-2" y="-2" width="184" height="154" fill="#000004"/><rect x="51.0" y="14.3" width="4.3" height="3.5" fill="#7f1e6c"/><rect x="52.0" y="15.5" width="9.0" height="8.5" fill="#1e0c45"/><rect x="48.3" y="17.8" width="3.5" height="1.8" fill="#932667"/><rect x="48.3" y="19.6" width="3.5" height="8.7" fill="#e25734"/><rect x="51.8" y="19.6" width="1.7" height="6.4" fill="#6a176e"/><rect x="45.7" y="28.3" width="4.4" height="3.5" fill="#cc4248"/><rect x="45.0" y="31.0" width="3.5" height="5.2" fill="#932667"/><rect x="39.6" y="36.2" width="4.4" height="3.5" fill="#f68013"/><rect x="44.0" y="36.2" width="2.5" height="3.8" fill="#57106e"/><rect x="34.3" y="40.6" width="6.2" height="6.1" fill="#cc4248"/><rect x="40.5" y="39.7" width="3.5" height="6.3" fill="#2b0b57"/><rect x="32.6" y="46.7" width="7.9" height="7.9" fill="#7f1e6c"/><rect x="30.8" y="55.5" width="4.4" height="4.4" fill="#cc4248"/><rect x="34.0" y="59.9" width="5.5" height="3.5" fill="#7f1e6c"/><rect x="37.8" y="63.4" width="2.7" height="2.6" fill="#f98e09"/><rect x="36.0" y="66.0" width="5.0" height="4.0" fill="#420a68"/><rect x="85.2" y="15.3" width="2.8" height="4.7" fill="#a82e5f"/><rect x="86.0" y="18.5" width="3.5" height="12.5" fill="#e25734"/><rect x="87.8" y="20.6" width="5.9" height="10.5" fill="#f8cd37"/><rect x="93.7" y="26.0" width="3.8" height="7.0" fill="#ea632a"/><rect x="89.0" y="31.0" width="8.0" height="5.3" fill="#932667"/><rect x="97.0" y="32.0" width="4.6" height="4.3" fill="#6a176e"/><rect x="84.5" y="18.0" width="1.5" height="13.0" fill="#6a176e"/><rect x="9.5" y="79.8" width="17.6" height="16.4" fill="#f3f68a"/><rect x="23.0" y="76.5" width="2.5" height="5.5" fill="#f37819"/><rect x="25.5" y="80.0" width="3.0" height="8.0" fill="#6a176e"/><rect x="26.0" y="90.5" width="3.0" height="5.0" fill="#ea632a"/><rect x="28.5" y="100.0" width="2.5" height="4.0" fill="#6a176e"/><rect x="36.5" y="101.5" width="3.5" height="2.5" fill="#932667"/><rect x="35.0" y="104.0" width="9.0" height="15.0" fill="#f1ef75"/><rect x="33.7" y="111.0" width="3.8" height="5.0" fill="#f6d746"/><rect x="41.0" y="113.0" width="4.0" height="6.0" fill="#f37819"/><rect x="44.0" y="111.0" width="5.5" height="12.0" fill="#f1ef75"/><rect x="47.0" y="110.0" width="5.0" height="8.0" fill="#932667"/><rect x="50.0" y="112.0" width="8.0" height="11.0" fill="#6a176e"/><rect x="53.0" y="116.0" width="7.0" height="11.0" fill="#7f1e6c"/><rect x="56.0" y="122.0" width="6.0" height="6.0" fill="#cc4248"/><rect x="60.0" y="129.0" width="6.0" height="6.5" fill="#7f1e6c"/><rect x="102.9" y="112.7" width="2.6" height="14.4" fill="#f37819"/><rect x="104.5" y="108.5" width="4.0" height="5.5" fill="#bc3754"/><rect x="105.0" y="113.5" width="7.5" height="13.6" fill="#f3f68a"/><rect x="108.5" y="118.0" width="4.9" height="9.1" fill="#fca50a"/><rect x="100.0" y="120.0" width="3.0" height="7.0" fill="#6a176e"/><rect x="112.1" y="99.5" width="11.8" height="9.2" fill="#771c6d"/><rect x="115.0" y="101.0" width="6.0" height="5.5" fill="#b3325a"/><rect x="104.0" y="95.0" width="8.0" height="6.0" fill="#390963"/><rect x="123.0" y="103.0" width="8.0" height="7.0" fill="#57106e"/><rect x="125.0" y="108.0" width="8.0" height="6.0" fill="#6a176e"/><rect x="59.5" y="10.0" width="2.5" height="7.0" fill="#160b39"/></g><use href="#lines"/><use href="#grid"/></g><rect width="180.0" height="150.0" fill="none" stroke="#222" stroke-width="0.85"/></g><rect x="21.45" y="880.0" width="180.0" height="7.4" fill="url(#ginf)" stroke="#222" stroke-width="0.8"/><line x1="21.45" x2="21.45" y1="887.4" y2="890.0" stroke="#222" stroke-width="0.8"/><text x="21.45" y="900.60" font-size="11.02" text-anchor="middle" textLength="6.62" lengthAdjust="spacing" fill="#000">0</text><line x1="66.45" x2="66.45" y1="887.4" y2="890.0" stroke="#222" stroke-width="0.8"/><text x="66.45" y="900.60" font-size="11.02" text-anchor="middle" textLength="6.62" lengthAdjust="spacing" fill="#000">5</text><line x1="111.45" x2="111.45" y1="887.4" y2="890.0" stroke="#222" stroke-width="0.8"/><text x="111.45" y="900.60" font-size="11.02" text-anchor="middle" textLength="13.23" lengthAdjust="spacing" fill="#000">10</text><line x1="156.45" x2="156.45" y1="887.4" y2="890.0" stroke="#222" stroke-width="0.8"/><text x="156.45" y="900.60" font-size="11.02" text-anchor="middle" textLength="13.23" lengthAdjust="spacing" fill="#000">15</text><line x1="201.45" x2="201.45" y1="887.4" y2="890.0" stroke="#222" stroke-width="0.8"/><text x="201.45" y="900.60" font-size="11.02" text-anchor="middle" textLength="13.23" lengthAdjust="spacing" fill="#000">20</text><text x="111.45" y="913.40" font-size="10.60" text-anchor="middle" textLength="24.96" lengthAdjust="spacing" fill="#000">Days</text><g transform="translate(262.45,714.45)"><g clip-path="url(#fc)"><rect width="180.0" height="150.0" fill="#fff"/><use href="#sea"/><g clip-path="url(#ec)"><rect x="-2" y="-2" width="184" height="154" fill="#fffefe"/><path d="M86.3,14.6 L91.0,14.6 L92.7,18.1 L95.1,22.2 L96.8,25.7 L99.7,29.8 L101.5,32.7 L101.5,35.7 L93.9,35.7 L88.1,34.5 L86.3,29.8 L85.4,18.7Z" fill="#9898ff"/><path d="M86.3,14.6 L91.0,14.6 L92.7,18.1 L95.1,22.2 L96.8,25.7 L99.7,29.8 L99.5,32.5 L93.9,32.5 L88.5,30.5 L86.3,26.8 L85.8,18.7Z" fill="#0a0aff"/><rect x="23.2" y="64.4" width="6.1" height="15.7" fill="#ff4c4c"/><rect x="26.0" y="80.1" width="3.0" height="8.8" fill="#ff4c4c"/><rect x="9.2" y="80.1" width="18.4" height="14.1" fill="#1818ff"/><rect x="31.1" y="45.1" width="4.9" height="7.9" fill="#ff9898"/><rect x="36.0" y="47.0" width="5.6" height="12.1" fill="#ffb2b2"/><rect x="31.1" y="53.0" width="4.9" height="6.1" fill="#9898ff"/><rect x="35.0" y="59.1" width="5.0" height="6.9" fill="#b2b2ff"/><rect x="38.0" y="40.0" width="4.0" height="6.0" fill="#ccccff"/><rect x="42.0" y="36.0" width="5.0" height="6.0" fill="#ff9898"/><rect x="47.0" y="18.0" width="5.0" height="10.0" fill="#b2b2ff"/><rect x="52.0" y="22.0" width="9.0" height="8.0" fill="#ffd6d6"/><rect x="31.1" y="103.0" width="8.9" height="8.0" fill="#ff7e7e"/><rect x="36.0" y="105.0" width="12.6" height="20.7" fill="#1414ff"/><rect x="31.1" y="111.0" width="4.9" height="5.0" fill="#3232ff"/><rect x="48.6" y="114.0" width="12.4" height="7.0" fill="#ffc2c2"/><rect x="48.6" y="121.0" width="7.4" height="5.0" fill="#6666ff"/><rect x="60.9" y="127.4" width="12.2" height="5.3" fill="#ff5c5c"/><rect x="73.1" y="127.4" width="7.9" height="5.3" fill="#ffcccc"/><rect x="101.2" y="108.2" width="13.4" height="18.8" fill="#0a0aff"/><rect x="99.0" y="104.0" width="5.0" height="6.0" fill="#ccccff"/><rect x="111.7" y="100.6" width="11.6" height="7.3" fill="#8e8eff"/><rect x="103.0" y="92.0" width="8.7" height="8.6" fill="#ccccff"/><rect x="104.0" y="86.0" width="46.0" height="28.0" fill="#fff4f4"/><rect x="114.6" y="116.7" width="8.7" height="5.8" fill="#ff7e7e"/><rect x="85.0" y="60.0" width="3.0" height="10.0" fill="#d6d6ff"/></g><use href="#lines"/><use href="#grid"/></g><rect width="180.0" height="150.0" fill="none" stroke="#222" stroke-width="0.85"/></g><rect x="262.45" y="880.0" width="180.0" height="7.4" fill="url(#gbwr)" stroke="#222" stroke-width="0.8"/><line x1="262.45" x2="262.45" y1="887.4" y2="890.0" stroke="#222" stroke-width="0.8"/><rect x="252.58" y="896.91" width="6.50" height="0.95" fill="#000"/><text x="260.19" y="900.60" font-size="11.02" text-anchor="start" textLength="13.23" lengthAdjust="spacing" fill="#000">10</text><line x1="307.45" x2="307.45" y1="887.4" y2="890.0" stroke="#222" stroke-width="0.8"/><rect x="300.89" y="896.91" width="6.50" height="0.95" fill="#000"/><text x="308.50" y="900.60" font-size="11.02" text-anchor="start" textLength="6.62" lengthAdjust="spacing" fill="#000">5</text><line x1="352.45" x2="352.45" y1="887.4" y2="890.0" stroke="#222" stroke-width="0.8"/><text x="352.45" y="900.60" font-size="11.02" text-anchor="middle" textLength="6.62" lengthAdjust="spacing" fill="#000">0</text><line x1="397.45" x2="397.45" y1="887.4" y2="890.0" stroke="#222" stroke-width="0.8"/><text x="397.45" y="900.60" font-size="11.02" text-anchor="middle" textLength="6.62" lengthAdjust="spacing" fill="#000">5</text><line x1="442.45" x2="442.45" y1="887.4" y2="890.0" stroke="#222" stroke-width="0.8"/><text x="442.45" y="900.60" font-size="11.02" text-anchor="middle" textLength="13.23" lengthAdjust="spacing" fill="#000">10</text><text x="352.45" y="913.40" font-size="10.60" text-anchor="middle" textLength="24.96" lengthAdjust="spacing" fill="#000">Days</text><rect x="502.6" y="710.45" width="180.39999999999998" height="180.85" fill="#fff"/><g clip-path="url(#sc3)"><path d="M621.9,794.1h0M624.7,794.1h0M631.7,794.1h0M640.1,794.1h0M656.8,794.1h0M659.6,794.1h0M661.7,794.1h0M636.6,808.0h0M642.9,808.0h0M645.7,808.0h0M647.8,808.0h0M653.3,808.0h0M656.1,808.0h0M665.9,808.0h0M670.1,808.0h0M528.4,822.0h0M533.3,822.0h0M542.4,822.0h0M551.5,822.0h0M555.6,822.0h0M557.7,822.0h0M569.6,822.0h0M575.9,822.0h0M578.0,822.0h0M579.4,822.0h0M582.9,822.0h0M589.1,822.0h0M513.8,837.4h0M519.3,837.4h0M600.3,837.4h0M619.1,837.4h0M630.3,837.4h0M639.4,837.4h0M647.8,837.4h0M656.1,837.4h0M665.2,837.4h0M677.1,837.4h0M682.0,837.4h0M503.3,845.1h0M504.7,845.1h0M512.4,845.1h0M524.2,845.1h0M536.1,845.1h0M547.3,845.1h0M548.7,845.1h0M553.5,845.1h0M566.8,845.1h0M571.0,845.1h0M581.5,845.1h0M595.4,845.1h0M598.9,845.1h0M601.7,845.1h0M603.8,845.1h0M614.3,845.1h0M621.2,845.1h0M631.0,845.1h0M639.4,845.1h0M641.5,845.1h0M644.3,845.1h0M651.2,845.1h0M654.7,845.1h0M657.5,845.1h0M665.2,845.1h0M668.7,845.1h0M672.9,845.1h0M681.3,845.1h0M504.0,846.5h0M506.1,846.5h0M511.0,846.5h0M550.8,846.5h0M564.7,846.5h0M586.3,846.5h0M608.0,846.5h0M642.2,846.5h0M649.9,846.5h0M670.1,846.5h0M517.7,854.9h0M510.8,854.9h0M518.3,854.9h0M503.9,854.9h0M512.3,854.9h0M508.6,854.9h0M515.5,854.9h0M505.4,854.9h0M541.0,854.9h0M543.1,854.9h0M545.9,854.9h0M559.8,854.9h0M530.0,861.9h0M519.7,861.9h0M530.9,861.9h0M517.6,861.9h0M516.1,861.9h0M527.4,861.9h0M533.5,861.9h0M514.2,861.9h0M533.0,861.9h0M531.8,861.9h0M508.2,861.9h0M521.7,861.9h0M524.7,861.9h0M532.2,861.9h0M544.5,861.9h0M548.0,861.9h0M561.9,861.9h0M573.8,861.9h0M596.8,861.9h0M612.9,861.9h0M628.2,861.9h0M636.6,861.9h0M641.5,861.9h0M645.0,861.9h0M653.3,861.9h0M662.4,861.9h0M670.8,861.9h0M682.0,861.9h0M518.9,864.0h0M505.9,864.0h0M514.8,864.0h0M514.7,864.0h0M514.8,864.0h0M526.0,864.0h0M511.1,864.0h0M508.1,864.0h0M563.3,864.0h0M614.3,864.0h0M624.7,864.0h0M517.9,868.9h0M521.4,868.9h0M530.1,868.9h0M519.7,868.9h0M510.5,868.9h0M529.9,868.9h0M517.0,868.9h0M522.4,868.9h0M516.6,868.9h0M509.0,868.9h0M522.9,868.9h0M525.2,868.9h0M541.1,868.9h0M546.2,868.9h0M544.3,868.9h0M540.7,868.9h0M541.7,868.9h0M555.6,868.9h0M572.4,868.9h0M566.5,868.9h0M570.7,868.9h0M562.4,868.9h0M583.6,868.9h0M521.8,871.0h0M513.8,871.0h0M519.8,871.0h0M508.4,871.0h0M510.5,871.0h0M509.9,871.0h0M571.0,871.0h0M515.5,875.2h0M508.3,875.2h0M509.2,875.2h0M515.3,875.2h0M514.6,875.2h0M507.8,875.2h0M527.0,875.2h0M559.8,875.2h0M596.8,875.2h0M638.7,875.2h0M666.6,875.2h0M671.5,875.2h0M674.3,875.2h0M678.5,875.2h0M509.0,882.2h0M519.5,882.2h0M504.9,882.2h0M510.8,882.2h0M520.9,882.2h0M521.8,882.2h0M507.5,882.2h0M504.2,882.2h0M519.1,882.2h0M515.6,882.2h0M507.6,882.2h0M513.2,882.2h0M504.1,882.2h0M517.3,882.2h0M513.6,882.2h0M517.4,882.2h0M504.4,882.2h0M516.1,882.2h0M540.3,882.2h0M546.2,882.2h0M538.8,882.2h0M552.3,882.2h0M549.3,882.2h0M551.5,882.2h0M503.7,885.0h0M506.5,885.0h0M503.9,885.0h0M509.3,885.0h0M511.0,885.0h0M504.6,885.0h0M514.2,885.0h0M511.1,885.0h0M511.3,885.0h0M513.0,885.0h0M518.9,885.0h0M512.9,885.0h0M504.2,885.0h0M505.2,885.0h0M514.7,885.0h0M508.2,885.0h0M530.5,885.0h0M541.0,885.0h0M558.4,885.0h0M513.1,887.8h0M509.7,887.8h0M507.9,887.8h0M512.9,887.8h0M505.2,887.8h0M506.6,887.8h0M506.7,887.8h0M508.4,887.8h0M515.3,887.8h0M513.9,887.8h0M514.1,887.8h0M511.4,887.8h0M502.7,887.8h0M506.6,887.8h0M509.6,887.8h0M515.1,887.8h0M534.3,887.8h0M543.5,887.8h0M558.0,887.8h0M533.2,887.8h0M553.1,887.8h0M612.2,887.8h0M519.2,890.3h0M517.3,890.3h0M520.2,890.3h0M516.1,890.3h0M505.8,890.3h0M527.6,890.3h0M529.7,890.3h0M525.9,890.3h0M512.5,890.3h0M520.3,890.3h0M524.1,890.3h0M504.3,890.3h0M524.6,890.3h0M505.0,890.3h0M528.8,890.3h0M509.3,890.3h0M529.5,890.3h0M509.1,890.3h0M517.5,890.3h0M525.8,890.3h0M530.2,890.3h0M522.3,890.3h0M525.9,890.3h0M513.5,890.3h0M523.6,890.3h0M568.1,890.3h0M621.4,890.3h0M606.1,890.3h0M567.6,890.3h0M607.1,890.3h0M537.0,890.3h0M620.9,890.3h0M598.2,890.3h0M562.5,890.3h0M593.7,890.3h0M607.1,890.3h0M591.9,890.3h0M617.1,890.3h0M571.1,890.3h0M561.8,890.3h0M566.8,890.3h0M558.0,890.3h0M577.3,890.3h0" stroke="#2a78b8" stroke-opacity="0.72" stroke-width="1.6" stroke-linecap="square"/><line x1="502.6" y1="891.3000000000001" x2="683.0" y2="710.45" stroke="#808080" stroke-width="1.15" stroke-dasharray="4.4,1.9"/><line x1="502.60" y1="888.64" x2="683.00" y2="830.77" stroke="#000" stroke-width="1.15"/></g><rect x="502.6" y="710.45" width="180.39999999999998" height="180.85" fill="none" stroke="#222" stroke-width="0.85"/><line x1="502.60" x2="502.60" y1="891.3000000000001" y2="893.8000000000001" stroke="#222" stroke-width="0.8"/><text x="502.60" y="902.90" font-size="10.91" text-anchor="middle" textLength="6.55" lengthAdjust="spacing" fill="#000">0</text><line x1="572.39" x2="572.39" y1="891.3000000000001" y2="893.8000000000001" stroke="#222" stroke-width="0.8"/><text x="572.39" y="902.90" font-size="10.91" text-anchor="middle" textLength="13.11" lengthAdjust="spacing" fill="#000">10</text><line x1="642.17" x2="642.17" y1="891.3000000000001" y2="893.8000000000001" stroke="#222" stroke-width="0.8"/><text x="642.17" y="902.90" font-size="10.91" text-anchor="middle" textLength="13.11" lengthAdjust="spacing" fill="#000">20</text><line x1="500.1" x2="502.6" y1="891.30" y2="891.30" stroke="#222" stroke-width="0.8"/><text x="497.60" y="895.05" font-size="10.91" text-anchor="end" textLength="6.55" lengthAdjust="spacing" fill="#000">0</text><line x1="500.1" x2="502.6" y1="856.32" y2="856.32" stroke="#222" stroke-width="0.8"/><text x="497.60" y="860.07" font-size="10.91" text-anchor="end" textLength="6.55" lengthAdjust="spacing" fill="#000">5</text><line x1="500.1" x2="502.6" y1="821.34" y2="821.34" stroke="#222" stroke-width="0.8"/><text x="497.60" y="825.09" font-size="10.91" text-anchor="end" textLength="13.11" lengthAdjust="spacing" fill="#000">10</text><line x1="500.1" x2="502.6" y1="786.36" y2="786.36" stroke="#222" stroke-width="0.8"/><text x="497.60" y="790.11" font-size="10.91" text-anchor="end" textLength="13.11" lengthAdjust="spacing" fill="#000">15</text><line x1="500.1" x2="502.6" y1="751.38" y2="751.38" stroke="#222" stroke-width="0.8"/><text x="497.60" y="755.13" font-size="10.91" text-anchor="end" textLength="13.11" lengthAdjust="spacing" fill="#000">20</text><line x1="500.1" x2="502.6" y1="716.40" y2="716.40" stroke="#222" stroke-width="0.8"/><text x="497.60" y="720.15" font-size="10.91" text-anchor="end" textLength="13.11" lengthAdjust="spacing" fill="#000">25</text><text x="592.80" y="914.90" font-size="10.60" text-anchor="middle" textLength="26.06" lengthAdjust="spacing" fill="#000">ERA5</text><text x="480.70" y="802.08" font-size="10.60" text-anchor="middle" textLength="30.95" lengthAdjust="spacing" fill="#000" transform="rotate(-90 480.70 802.08)">CMIP6</text><text x="509.50" y="728.10" font-size="9.70" text-anchor="start" textLength="78.54" lengthAdjust="spacing" fill="#000">y = 0.38 + 0.32x</text><text x="509.50" y="736.60" font-size="9.70" text-anchor="start" textLength="37.62" lengthAdjust="spacing" fill="#000">r = 0.70</text><text x="20.55" y="710.00" font-size="13.14" text-anchor="start" textLength="13.12" lengthAdjust="spacing" fill="#000">(j)</text><text x="261.55" y="710.00" font-size="13.14" text-anchor="start" textLength="16.86" lengthAdjust="spacing" fill="#000">(k)</text><text x="502.00" y="706.60" font-size="13.14" text-anchor="start" textLength="13.12" lengthAdjust="spacing" fill="#000">(l)</text><text x="11.80" y="788.85" font-size="14.62" text-anchor="middle" textLength="94.50" lengthAdjust="spacing" fill="#000" transform="rotate(-90 11.80 788.85)">Days &gt; 35 °C</text>
</svg></body></html>
